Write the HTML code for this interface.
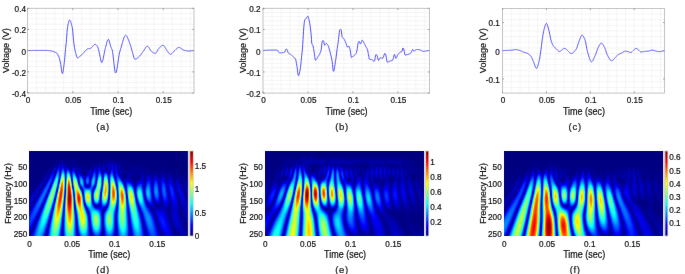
<!DOCTYPE html>
<html><head><meta charset="utf-8"><style>
html,body{margin:0;padding:0;background:#fff;}
#fig{position:relative;width:685px;height:274px;overflow:hidden;background:#fff;filter:url(#soft);}
.hm{position:absolute;overflow:hidden;}
.hm{filter:url(#jet);}
.hm i{position:absolute;left:0;right:0;}
.cb{position:absolute;}
svg{position:absolute;left:0;top:0;}
text{font-family:"Liberation Sans", Arial, Helvetica, sans-serif;fill:#111;stroke:#111;stroke-width:0.2;}
text.cap{font-family:"Liberation Sans", Arial, sans-serif;fill:#1a1a1a;letter-spacing:0.7px;stroke-width:0.2;}
</style></head><body><div id="fig">
<div class="hm" style="left:29.00px;top:151.00px;width:158.90px;height:85.00px"><i style="top:0.00px;height:1.50px;background:linear-gradient(90deg,#000000 0.5px,#000000 158.4px)"></i><i style="top:1.00px;height:1.50px;background:linear-gradient(90deg,#000000 0.5px,#000000 158.4px)"></i><i style="top:2.00px;height:1.50px;background:linear-gradient(90deg,#000000 0.5px,#000000 158.4px)"></i><i style="top:3.00px;height:1.50px;background:linear-gradient(90deg,#000000 0.5px,#000000 158.4px)"></i><i style="top:4.00px;height:1.50px;background:linear-gradient(90deg,#000000 0.5px,#000000 158.4px)"></i><i style="top:5.00px;height:1.50px;background:linear-gradient(90deg,#000000 0.5px,#000000 158.4px)"></i><i style="top:6.00px;height:1.50px;background:linear-gradient(90deg,#000000 0.5px,#000000 158.4px)"></i><i style="top:7.00px;height:1.50px;background:linear-gradient(90deg,#000000 0.5px,#010101 30.5px,#010101 47.5px,#010101 77.5px,#020202 80.4px,#010101 82.4px,#000000 158.4px)"></i><i style="top:8.00px;height:1.50px;background:linear-gradient(90deg,#000000 0.5px,#000000 27.5px,#030303 33.5px,#010101 37.5px,#030303 41.5px,#000000 59.5px,#010101 75.5px,#030303 78.5px,#010101,#040404,#010101 81.4px,#020202 83.4px,#000000 84.4px,#020202 86.4px,#010101 88.4px,#000000 158.4px)"></i><i style="top:9.00px;height:1.50px;background:linear-gradient(90deg,#000000 0.5px,#010101 27.5px,#030303,#010101,#050505,#030303 31.5px,#050505 33.5px,#020202 35.5px,#030303 40.5px,#020202 46.5px,#000000 63.5px,#020202 70.5px,#010101 72.5px,#000000 74.5px,#030303 75.5px,#030303 77.5px,#050505,#020202,#060606,#020202 81.4px,#050505 83.4px,#010101 84.4px,#030303 86.4px,#010101 90.4px,#000000 158.4px)"></i><i style="top:10.00px;height:1.50px;background:linear-gradient(90deg,#000000 0.5px,#010101 26.5px,#040404 28.5px,#020202,#070707,#040404 31.5px,#070707 33.5px,#010101,#030303 35.5px,#010101 38.5px,#040404 42.5px,#050505 44.5px,#010101,#030303 46.5px,#000000 51.5px,#010101 65.5px,#030303 67.5px,#020202 69.5px,#030303 70.5px,#000000 72.5px,#010101 74.5px,#040404,#020202,#060606 77.5px,#030303 79.5px,#0a0a0a,#040404 81.4px,#090909 83.4px,#020202 84.4px,#060606 86.4px,#010101,#040404 88.4px,#010101 90.4px,#000000 158.4px)"></i><i style="top:11.00px;height:1.50px;background:linear-gradient(90deg,#000000 0.5px,#010101 26.5px,#040404 28.5px,#040404,#0a0a0a,#050505 31.5px,#0a0a0a 33.5px,#030303 34.5px,#050505 36.5px,#010101 38.5px,#040404,#020202,#050505 41.5px,#030303 43.5px,#060606,#010101 45.5px,#010101 63.5px,#000000 65.5px,#040404 67.5px,#010101 68.5px,#040404 70.5px,#000000 72.5px,#050505 75.5px,#010101,#080808 77.5px,#050505 79.5px,#0d0d0d,#060606 81.4px,#0d0d0d 83.4px,#030303 84.4px,#0a0a0a 86.4px,#020202 87.4px,#050505 89.4px,#010101 90.4px,#030303 92.4px,#010101 94.4px,#010101 102.4px,#000000 158.4px)"></i><i style="top:12.00px;height:1.50px;background:linear-gradient(90deg,#000000 0.5px,#010101 25.5px,#060606 27.5px,#030303 28.5px,#0d0d0d 30.5px,#060606 31.5px,#0e0e0e 33.5px,#060606,#040404,#080808 36.5px,#020202 38.5px,#040404,#020202,#050505 41.5px,#030303 43.5px,#060606 44.5px,#010101 46.5px,#000000 51.5px,#020202 53.5px,#010101 55.5px,#000000 62.5px,#020202 64.5px,#010101 65.5px,#050505 67.5px,#010101 68.5px,#060606 70.5px,#010101 72.5px,#070707 74.5px,#030303 76.5px,#0c0c0c,#070707,#080808,#111111,#070707 81.4px,#121212 83.4px,#060606 84.4px,#0e0e0e 86.4px,#050505 87.4px,#080808 89.4px,#030303 90.4px,#040404 92.4px,#010101 94.4px,#030303 95.4px,#010101 97.4px,#020202 102.4px,#000000 103.4px,#020202 105.4px,#010101 108.4px,#000000 158.4px)"></i><i style="top:13.00px;height:1.50px;background:linear-gradient(90deg,#000000 0.5px,#010101 23.5px,#010101 25.5px,#060606,#070707,#030303 28.5px,#101010 30.5px,#070707 31.5px,#121212 33.5px,#040404 35.5px,#0b0b0b 36.5px,#020202 38.5px,#040404,#010101,#050505 41.5px,#030303 43.5px,#070707 44.5px,#010101 46.5px,#030303 48.5px,#020202 52.5px,#010101 62.5px,#020202 65.5px,#070707,#070707,#020202 68.5px,#0a0a0a 70.5px,#010101 72.5px,#080808,#0b0b0b,#060606,#060606,#0e0e0e,#070707,#0b0b0b,#141414,#080808 81.4px,#171717 83.4px,#090909,#0a0a0a,#121212,#090909,#060606,#0b0b0b 89.4px,#030303 91.4px,#060606 92.4px,#010101 94.4px,#020202 96.4px,#010101 100.4px,#030303 102.4px,#020202 104.4px,#020202 113.4px,#010101 115.4px,#000000 158.4px)"></i><i style="top:14.00px;height:1.50px;background:linear-gradient(90deg,#000000 0.5px,#010101 22.5px,#010101 24.5px,#090909 26.5px,#080808,#030303,#101010,#131313,#070707 31.5px,#171717 33.5px,#040404 35.5px,#0c0c0c,#0b0b0b,#030303 38.5px,#010101 40.5px,#050505 41.5px,#030303 43.5px,#090909 44.5px,#020202 46.5px,#050505 48.5px,#010101 51.5px,#030303 53.5px,#020202 55.5px,#020202 57.5px,#010101 59.5px,#040404 65.5px,#090909,#090909,#020202 68.5px,#0e0e0e 70.5px,#0a0a0a,#020202,#0c0c0c,#0f0f0f,#050505 75.5px,#101010 77.5px,#050505 78.5px,#161616 80.4px,#070707 81.4px,#1b1b1b 83.4px,#0c0c0c,#0a0a0a,#161616 86.4px,#040404 88.4px,#0d0d0d 89.4px,#020202 91.4px,#070707 92.4px,#010101 94.4px,#040404 95.4px,#010101 97.4px,#020202 99.4px,#010101 100.4px,#040404 102.4px,#010101 103.4px,#040404 105.4px,#010101 107.4px,#030303 109.4px,#010101 111.4px,#030303 113.4px,#010101 115.4px,#000000 158.4px)"></i><i style="top:15.00px;height:1.50px;background:linear-gradient(90deg,#000000 0.5px,#010101 21.5px,#030303 23.5px,#010101 24.5px,#0c0c0c 26.5px,#070707,#070707,#151515,#161616,#080808 31.5px,#1c1c1c 33.5px,#141414,#050505,#0d0d0d,#0f0f0f 37.5px,#020202 39.5px,#040404 41.5px,#020202 42.5px,#0a0a0a 44.5px,#0a0a0a,#040404 46.5px,#070707 48.5px,#020202 51.5px,#040404 53.5px,#010101 54.5px,#040404 56.5px,#000000 58.5px,#040404 63.5px,#010101 64.5px,#0d0d0d 66.5px,#0b0b0b,#020202 68.5px,#131313 70.5px,#0d0d0d,#020202,#0f0f0f,#111111,#050505 75.5px,#0f0f0f 77.5px,#030303,#111111,#161616,#060606,#141414,#1e1e1e,#0f0f0f,#090909,#181818,#121212,#030303,#0d0d0d,#0c0c0c,#020202 91.4px,#070707 93.4px,#010101 94.4px,#030303 96.4px,#010101 97.4px,#020202 99.4px,#050505 101.4px,#010101 103.4px,#050505 105.4px,#010101 107.4px,#050505 109.4px,#020202 111.4px,#040404 113.4px,#010101 115.4px,#000000 158.4px)"></i><i style="top:16.00px;height:1.50px;background:linear-gradient(90deg,#000000 0.5px,#010101 20.5px,#040404 22.5px,#020202,#040404,#0c0c0c,#0e0e0e,#050505,#0d0d0d,#1b1b1b,#191919,#080808 31.5px,#212121 33.5px,#1b1b1b,#080808 35.5px,#131313 37.5px,#050505 40.5px,#010101 42.5px,#0d0d0d 44.5px,#0c0c0c,#050505,#040404,#090909,#090909 49.5px,#020202 51.5px,#050505 53.5px,#020202 55.5px,#050505 56.5px,#010101 59.5px,#070707 62.5px,#030303 64.5px,#0c0c0c,#111111,#0d0d0d,#030303,#101010,#171717,#0f0f0f,#030303,#111111,#121212,#050505 75.5px,#0c0c0c 77.5px,#020202,#121212,#151515,#040404,#171717,#202020,#121212,#080808,#1a1a1a,#161616,#040404,#0c0c0c,#0e0e0e,#060606,#040404,#070707 93.4px,#020202 95.4px,#010101 97.4px,#030303 98.4px,#020202 100.4px,#060606 101.4px,#010101 103.4px,#060606 105.4px,#010101 107.4px,#060606 109.4px,#020202 111.4px,#050505 113.4px,#010101 115.4px,#030303 117.4px,#000000 121.4px,#010101 132.4px,#000000 158.4px)"></i><i style="top:17.00px;height:1.50px;background:linear-gradient(90deg,#000000 0.5px,#010101 19.5px,#050505 21.5px,#020202 23.5px,#101010 25.5px,#0e0e0e,#050505 27.5px,#212121 29.5px,#1c1c1c,#090909 31.5px,#282828 33.5px,#222222,#0e0e0e,#0a0a0a,#171717,#181818 38.5px,#030303 41.5px,#050505 42.5px,#111111 44.5px,#0f0f0f,#070707,#040404,#0b0b0b,#0c0c0c 49.5px,#020202 51.5px,#060606 52.5px,#020202 55.5px,#060606 56.5px,#020202 59.5px,#0a0a0a 61.5px,#090909,#040404,#070707,#111111,#151515 66.5px,#040404 68.5px,#151515,#1c1c1c,#121212,#030303,#111111,#121212,#060606 75.5px,#070707 77.5px,#050505,#131313,#121212,#030303,#191919,#222222 83.4px,#060606 85.4px,#1a1a1a,#1a1a1a,#090909,#090909,#0f0f0f 90.4px,#020202 92.4px,#060606 93.4px,#000000 96.4px,#030303 100.4px,#060606 101.4px,#010101 103.4px,#070707 105.4px,#010101 107.4px,#060606,#070707 109.4px,#020202 111.4px,#060606 112.4px,#040404 114.4px,#010101 115.4px,#040404 117.4px,#000000 121.4px,#010101 130.4px,#020202 135.4px,#010101 137.4px,#000000 158.4px)"></i><i style="top:18.00px;height:1.50px;background:linear-gradient(90deg,#000000 0.5px,#020202 19.5px,#060606 21.5px,#030303,#050505,#0e0e0e,#131313 25.5px,#070707 27.5px,#1b1b1b,#272727,#1f1f1f,#090909 31.5px,#2f2f2f 33.5px,#2b2b2b,#161616,#080808,#1b1b1b,#222222,#1d1d1d 39.5px,#050505 41.5px,#090909,#131313,#171717,#131313,#090909,#040404,#0d0d0d,#0f0f0f 49.5px,#020202 51.5px,#070707 53.5px,#020202 55.5px,#070707,#070707,#030303,#040404 59.5px,#0e0e0e 61.5px,#0b0b0b,#030303 63.5px,#171717 65.5px,#191919 66.5px,#060606 68.5px,#191919,#202020,#151515,#040404,#0f0f0f,#121212 74.5px,#010101 76.5px,#010101 77.5px,#121212 79.5px,#060606 81.4px,#1c1c1c,#232323 83.4px,#050505 85.4px,#191919,#1c1c1c,#0e0e0e,#040404,#0e0e0e,#0c0c0c,#040404 92.4px,#060606 94.4px,#000000 98.4px,#070707 101.4px,#010101 103.4px,#080808 105.4px,#020202 107.4px,#070707,#080808 109.4px,#020202 111.4px,#080808 113.4px,#010101 115.4px,#050505 117.4px,#000000 122.4px,#020202 135.4px,#000000 155.4px,#000000 158.4px)"></i><i style="top:19.00px;height:1.50px;background:linear-gradient(90deg,#000000 0.5px,#010101 15.5px,#010101 18.5px,#070707 20.5px,#020202 22.5px,#141414 24.5px,#151515,#0a0a0a,#0d0d0d,#232323,#2d2d2d,#222222,#090909,#222222,#373737,#353535 34.5px,#070707 36.5px,#1f1f1f,#2d2d2d,#2a2a2a,#1b1b1b,#080808,#0c0c0c,#1a1a1a,#1f1f1f,#191919,#0c0c0c,#040404,#0f0f0f,#121212,#0d0d0d,#030303 51.5px,#080808 53.5px,#020202 55.5px,#070707,#080808,#020202,#060606,#0e0e0e,#111111,#0c0c0c,#030303,#121212,#1d1d1d,#1d1d1d,#0e0e0e,#090909,#1d1d1d,#242424,#1a1a1a,#070707 72.5px,#121212 74.5px,#0a0a0a 76.5px,#0a0a0a 77.5px,#111111 79.5px,#070707,#0c0c0c,#202020,#252525,#171717,#040404,#191919,#1e1e1e,#131313,#020202,#0c0c0c,#0e0e0e 91.4px,#010101 93.4px,#060606 94.4px,#050505 96.4px,#010101 98.4px,#080808 101.4px,#020202 103.4px,#090909 105.4px,#020202 107.4px,#090909 109.4px,#020202 111.4px,#090909 113.4px,#020202 115.4px,#060606 118.4px,#000000 122.4px,#030303 129.4px,#010101 131.4px,#040404 134.4px,#010101 137.4px,#020202 141.4px,#010101 145.4px,#000000 158.4px)"></i><i style="top:20.00px;height:1.50px;background:linear-gradient(90deg,#000000 0.5px,#010101 14.5px,#030303 18.5px,#080808 20.5px,#040404 22.5px,#111111,#191919,#161616,#070707,#151515,#2c2c2c,#333333,#232323,#0a0a0a,#292929,#414141,#404040,#272727,#080808,#242424,#393939,#393939,#272727,#0d0d0d,#0f0f0f,#212121,#282828,#212121 45.5px,#040404 47.5px,#101010,#151515,#101010,#060606,#030303,#070707 53.5px,#020202 55.5px,#070707,#070707,#020202 58.5px,#121212 60.5px,#141414 61.5px,#050505 63.5px,#181818,#232323,#202020,#0f0f0f,#0b0b0b,#212121,#292929,#202020,#0e0e0e,#070707,#121212,#161616 75.5px,#141414 78.5px,#0f0f0f,#020202 80.4px,#252525 82.4px,#282828,#181818,#040404,#181818,#202020,#181818,#070707,#080808,#0f0f0f,#0b0b0b,#030303 93.4px,#080808 95.4px,#080808 96.4px,#010101 98.4px,#090909 100.4px,#090909 101.4px,#020202 103.4px,#090909 105.4px,#020202 107.4px,#090909 109.4px,#020202 111.4px,#0a0a0a 113.4px,#030303 115.4px,#020202 116.4px,#070707 118.4px,#000000 122.4px,#040404 128.4px,#010101 131.4px,#050505 133.4px,#040404 135.4px,#010101 137.4px,#030303 141.4px,#020202 145.4px,#000000 154.4px,#000000 158.4px)"></i><i style="top:21.00px;height:1.50px;background:linear-gradient(90deg,#000000 0.5px,#010101 13.5px,#020202 17.5px,#090909 19.5px,#080808,#030303,#0b0b0b,#171717,#1c1c1c,#141414,#060606 26.5px,#353535 28.5px,#393939,#242424,#0b0b0b,#313131,#4c4c4c,#4c4c4c,#303030,#0a0a0a 36.5px,#454545 38.5px,#484848,#343434,#141414,#0f0f0f,#282828,#323232,#2a2a2a 45.5px,#040404 47.5px,#101010,#181818,#151515 50.5px,#020202 52.5px,#030303 54.5px,#020202,#060606 56.5px,#040404 58.5px,#161616 60.5px,#151515,#0a0a0a,#090909,#1e1e1e,#292929,#242424,#101010,#0d0d0d,#252525,#303030,#282828 71.5px,#030303 73.5px,#131313,#1e1e1e,#222222,#212121,#1b1b1b,#0e0e0e,#060606,#1c1c1c,#2c2c2c,#2c2c2c,#1b1b1b,#040404,#171717,#222222,#1d1d1d,#0d0d0d,#040404,#0d0d0d,#0d0d0d,#060606,#030303,#080808,#090909 96.4px,#020202 98.4px,#0b0b0b 100.4px,#0a0a0a 101.4px,#030303 103.4px,#080808,#090909 105.4px,#020202 107.4px,#090909 109.4px,#020202 111.4px,#0b0b0b 113.4px,#0a0a0a 114.4px,#020202 116.4px,#090909 118.4px,#000000 122.4px,#050505 127.4px,#040404 129.4px,#010101 130.4px,#070707 134.4px,#010101 137.4px,#050505 140.4px,#010101 144.4px,#020202 148.4px,#010101 152.4px,#000000 158.4px)"></i><i style="top:22.00px;height:1.50px;background:linear-gradient(90deg,#000000 0.5px,#010101 12.5px,#020202 15.5px,#010101 16.5px,#090909 18.5px,#0a0a0a 19.5px,#050505 21.5px,#1d1d1d 23.5px,#1e1e1e,#101010,#0a0a0a,#2a2a2a,#3f3f3f,#3e3e3e 29.5px,#0d0d0d 31.5px,#3b3b3b,#575757,#575757,#393939,#0c0c0c,#2c2c2c,#505050,#575757,#424242,#1c1c1c,#0e0e0e,#2e2e2e,#3c3c3c,#353535,#212121,#070707 47.5px,#1a1a1a 49.5px,#1a1a1a 50.5px,#070707 52.5px,#010101 53.5px,#030303 56.5px,#010101 57.5px,#131313 59.5px,#191919,#151515,#070707,#0f0f0f,#252525,#2f2f2f,#272727,#101010,#0f0f0f,#2a2a2a,#373737,#323232,#1f1f1f,#040404 73.5px,#282828 75.5px,#303030,#2e2e2e,#222222,#0e0e0e,#0c0c0c,#252525,#343434,#323232,#1f1f1f,#060606 85.4px,#232323 87.4px,#212121 88.4px,#030303 90.4px,#0a0a0a,#0d0d0d 92.4px,#010101 94.4px,#070707,#090909 96.4px,#020202 98.4px,#0c0c0c 100.4px,#030303 103.4px,#080808,#090909 105.4px,#020202 107.4px,#070707,#080808 109.4px,#020202 111.4px,#0c0c0c 113.4px,#0b0b0b 114.4px,#020202 116.4px,#0a0a0a 118.4px,#080808 120.4px,#010101 122.4px,#070707 127.4px,#050505 129.4px,#010101 130.4px,#080808 133.4px,#070707 135.4px,#010101 137.4px,#060606 139.4px,#010101 144.4px,#030303 148.4px,#000000 150.4px,#000000 158.4px)"></i><i style="top:23.00px;height:1.50px;background:linear-gradient(90deg,#000000 0.5px,#010101 11.5px,#020202 14.5px,#030303 16.5px,#0b0b0b 18.5px,#0a0a0a,#040404,#0b0b0b,#191919,#222222,#1e1e1e,#0b0b0b,#151515,#353535,#474747,#414141,#222222,#121212,#464646,#646464,#636363,#414141,#0f0f0f,#313131,#5c5c5c,#666666,#515151,#272727,#0c0c0c,#323232,#454545,#424242,#2d2d2d,#0e0e0e,#0b0b0b,#1c1c1c,#1f1f1f 50.5px,#101010 52.5px,#070707 53.5px,#010101 55.5px,#010101,#070707 57.5px,#191919 59.5px,#1c1c1c,#141414,#040404,#161616,#2c2c2c,#343434,#2a2a2a,#101010,#121212,#313131,#404040,#3c3c3c,#272727,#070707,#181818,#333333,#3e3e3e,#3c3c3c,#2b2b2b,#0f0f0f,#111111,#2d2d2d,#3d3d3d,#3a3a3a,#252525,#090909,#141414,#242424,#262626,#1a1a1a,#090909,#050505,#0b0b0b,#090909,#020202 94.4px,#070707 96.4px,#020202 98.4px,#0c0c0c 100.4px,#0b0b0b 101.4px,#020202 103.4px,#070707,#080808 105.4px,#010101 107.4px,#060606,#070707 109.4px,#020202 111.4px,#0d0d0d 113.4px,#0c0c0c 114.4px,#020202 116.4px,#0c0c0c 118.4px,#0b0b0b 120.4px,#030303 122.4px,#020202 123.4px,#0a0a0a 126.4px,#080808 128.4px,#010101 130.4px,#0a0a0a 133.4px,#0b0b0b 134.4px,#010101 137.4px,#070707 139.4px,#070707 141.4px,#010101 144.4px,#040404 148.4px,#000000 151.4px,#020202 155.4px,#000000 158.4px)"></i><i style="top:24.00px;height:1.50px;background:linear-gradient(90deg,#000000 0.5px,#010101 11.5px,#030303 13.5px,#020202 15.5px,#0b0b0b 17.5px,#0c0c0c 18.5px,#040404 20.5px,#202020 22.5px,#252525,#1c1c1c,#080808,#212121,#414141,#4f4f4f,#434343,#1d1d1d,#1b1b1b,#525252,#707070,#6d6d6d,#494949,#111111,#353535,#666666,#757575,#606060,#333333,#0c0c0c,#333333,#4e4e4e,#4f4f4f,#3b3b3b,#1a1a1a,#060606,#1c1c1c,#252525,#232323 51.5px,#080808 54.5px,#010101 55.5px,#101010 57.5px,#1a1a1a,#1f1f1f,#1e1e1e 60.5px,#060606 62.5px,#1f1f1f,#343434,#3a3a3a,#2d2d2d,#0f0f0f,#171717,#383838,#4a4a4a,#464646,#303030,#0a0a0a,#1c1c1c,#3d3d3d,#4d4d4d,#494949,#343434,#111111,#151515,#353535,#464646,#434343,#2c2c2c,#0e0e0e,#121212,#252525,#2a2a2a,#212121 89.4px,#020202 91.4px,#080808,#090909 93.4px,#020202 95.4px,#040404 96.4px,#030303 98.4px,#0c0c0c 100.4px,#0b0b0b 101.4px,#010101 103.4px,#060606,#070707 105.4px,#010101 107.4px,#060606 109.4px,#030303 111.4px,#0e0e0e 113.4px,#0d0d0d 114.4px,#020202 116.4px,#0d0d0d 118.4px,#101010 119.4px,#0a0a0a 121.4px,#040404,#020202 123.4px,#0b0b0b 125.4px,#0d0d0d 127.4px,#070707 129.4px,#010101 130.4px,#0d0d0d 133.4px,#0a0a0a 135.4px,#010101 137.4px,#090909 139.4px,#090909 141.4px,#010101 144.4px,#060606 147.4px,#000000 151.4px,#020202 155.4px,#000000 158.4px)"></i><i style="top:25.00px;height:1.50px;background:linear-gradient(90deg,#000000 0.5px,#010101 10.5px,#020202 13.5px,#010101 14.5px,#0d0d0d 17.5px,#0b0b0b,#030303,#0b0b0b,#1b1b1b,#262626,#262626,#161616,#0b0b0b,#2e2e2e,#4c4c4c,#565656,#434343,#181818,#252525,#5f5f5f,#7c7c7c,#777777,#4f4f4f,#121212,#393939,#707070,#838383,#707070 40.5px,#0e0e0e 42.5px,#555555 44.5px,#5c5c5c,#4a4a4a,#272727,#080808 48.5px,#292929 50.5px,#2d2d2d,#272727 52.5px,#030303 55.5px,#232323 58.5px,#262626,#1f1f1f,#0e0e0e,#0d0d0d,#282828,#3c3c3c,#3f3f3f,#2e2e2e,#0e0e0e,#1d1d1d,#414141,#545454,#505050,#373737,#0c0c0c,#202020,#484848,#5a5a5a,#575757,#3d3d3d,#151515,#181818,#3c3c3c,#505050,#4d4d4d,#363636,#161616,#0e0e0e,#242424,#2e2e2e,#292929 89.4px,#0a0a0a 91.4px,#030303,#070707 93.4px,#010101 96.4px,#010101 97.4px,#0c0c0c 100.4px,#0b0b0b 101.4px,#010101 103.4px,#060606 105.4px,#010101 107.4px,#040404 109.4px,#010101 110.4px,#0f0f0f 113.4px,#0e0e0e 114.4px,#020202 116.4px,#0f0f0f 118.4px,#131313,#121212 120.4px,#020202 123.4px,#0e0e0e 125.4px,#111111 127.4px,#020202 130.4px,#101010 133.4px,#0d0d0d 135.4px,#020202 137.4px,#0c0c0c 140.4px,#080808 142.4px,#010101 144.4px,#070707 147.4px,#010101 151.4px,#030303 155.4px,#000000 158.4px)"></i><i style="top:26.00px;height:1.50px;background:linear-gradient(90deg,#000000 0.5px,#010101 9.5px,#020202 12.5px,#010101 13.5px,#0d0d0d 16.5px,#0d0d0d 17.5px,#050505 19.5px,#232323 21.5px,#2a2a2a,#242424,#0f0f0f,#171717,#3b3b3b,#575757,#5b5b5b,#414141,#131313,#313131,#6c6c6c,#888888,#808080,#545454,#131313,#3e3e3e,#7a7a7a,#909090,#7f7f7f,#4e4e4e,#131313,#313131,#5b5b5b,#686868,#5a5a5a 46.5px,#111111 48.5px,#161616,#2d2d2d,#373737,#343434,#262626 53.5px,#040404 55.5px,#232323 57.5px,#2d2d2d,#2c2c2c,#202020,#0b0b0b,#161616,#313131,#444444,#444444,#2f2f2f,#0b0b0b,#242424,#4a4a4a,#5f5f5f,#5a5a5a,#3d3d3d,#0d0d0d,#252525,#525252,#686868,#646464,#474747,#1a1a1a,#191919,#424242,#595959,#585858,#414141,#1f1f1f,#090909,#232323,#323232,#303030,#242424 90.4px,#060606 92.4px,#030303 93.4px,#060606 95.4px,#060606 97.4px,#0c0c0c 100.4px,#070707 102.4px,#020202 103.4px,#030303 106.4px,#010101 109.4px,#020202 110.4px,#0d0d0d 112.4px,#101010,#0f0f0f 114.4px,#020202 116.4px,#121212 118.4px,#161616,#161616 120.4px,#030303 123.4px,#111111 125.4px,#151515,#151515 127.4px,#0a0a0a 129.4px,#020202 130.4px,#0f0f0f 132.4px,#131313,#131313 134.4px,#090909 136.4px,#020202 137.4px,#0f0f0f 140.4px,#0b0b0b 142.4px,#010101 144.4px,#090909 147.4px,#010101 151.4px,#040404 155.4px,#000000 158.4px)"></i><i style="top:27.00px;height:1.50px;background:linear-gradient(90deg,#000000 0.5px,#010101 8.5px,#030303 11.5px,#020202 13.5px,#0c0c0c 15.5px,#0e0e0e,#0b0b0b,#040404,#0d0d0d 19.5px,#2a2a2a 21.5px,#2c2c2c,#1f1f1f,#0a0a0a,#252525,#494949,#606060,#5d5d5d,#3c3c3c,#0f0f0f,#3f3f3f,#797979,#949494,#888888,#585858,#141414,#424242,#838383,#9d9d9d,#8d8d8d,#5c5c5c,#1b1b1b,#2c2c2c,#5e5e5e,#737373,#6a6a6a,#484848,#1d1d1d,#101010,#2f2f2f,#404040,#404040,#323232 53.5px,#050505 55.5px,#2c2c2c 57.5px,#353535,#323232,#202020,#070707,#1e1e1e,#3a3a3a,#4c4c4c,#484848,#2e2e2e,#080808,#2c2c2c,#545454,#696969,#626262,#424242,#0d0d0d,#2a2a2a,#5c5c5c,#747474,#707070,#515151,#1f1f1f,#181818,#474747,#626262,#646464,#4d4d4d 84.4px,#060606 86.4px,#202020,#343434,#383838,#303030 90.4px,#101010 92.4px,#030303 93.4px,#0a0a0a 96.4px,#0d0d0d 100.4px,#080808 102.4px,#010101 104.4px,#000000 108.4px,#060606 110.4px,#0f0f0f 112.4px,#111111,#0f0f0f 114.4px,#030303 116.4px,#151515 118.4px,#1a1a1a,#191919 120.4px,#030303 123.4px,#151515 125.4px,#191919,#191919 127.4px,#0c0c0c 129.4px,#020202 130.4px,#121212 132.4px,#171717 134.4px,#131313 135.4px,#030303 137.4px,#0e0e0e 139.4px,#111111 141.4px,#020202 144.4px,#0a0a0a 147.4px,#080808 149.4px,#010101 151.4px,#050505 155.4px,#010101 158.4px)"></i><i style="top:28.00px;height:1.50px;background:linear-gradient(90deg,#000000 0.5px,#020202 8.5px,#010101 12.5px,#0e0e0e 15.5px,#0e0e0e 16.5px,#050505 18.5px,#252525 20.5px,#2e2e2e,#2b2b2b,#171717,#0b0b0b,#343434,#565656,#676767,#5e5e5e 28.5px,#0e0e0e 30.5px,#4c4c4c,#868686,#9e9e9e,#8f8f8f,#5b5b5b,#141414,#474747,#8b8b8b,#a8a8a8,#9b9b9b,#6a6a6a,#242424,#272727,#606060,#7d7d7d,#787878,#585858,#2b2b2b,#0a0a0a,#2e2e2e,#474747,#4b4b4b,#3d3d3d 53.5px,#070707 55.5px,#323232 57.5px,#3c3c3c,#363636 59.5px,#060606 61.5px,#434343 63.5px,#525252,#4a4a4a,#2c2c2c,#070707 67.5px,#5e5e5e 69.5px,#727272,#686868,#454545,#0d0d0d,#303030,#656565,#7f7f7f,#7c7c7c,#5b5b5b,#262626,#161616,#4a4a4a,#6b6b6b,#707070,#5b5b5b,#383838,#0a0a0a,#1b1b1b,#363636,#404040,#3b3b3b,#2d2d2d 91.4px,#0a0a0a 93.4px,#030303 94.4px,#0e0e0e 96.4px,#111111 98.4px,#101010 100.4px,#020202 104.4px,#030303 108.4px,#121212 112.4px,#131313,#101010,#080808,#040404 116.4px,#181818 118.4px,#1d1d1d,#1d1d1d,#171717 121.4px,#040404 123.4px,#191919 125.4px,#1e1e1e,#1e1e1e,#181818 128.4px,#030303 130.4px,#151515 132.4px,#1a1a1a,#1b1b1b,#161616 135.4px,#030303 137.4px,#070707 138.4px,#141414 140.4px,#141414 141.4px,#0a0a0a 143.4px,#030303,#040404 145.4px,#0c0c0c 147.4px,#090909 149.4px,#020202 151.4px,#060606 155.4px,#010101 158.4px)"></i><i style="top:29.00px;height:1.50px;background:linear-gradient(90deg,#000000 0.5px,#020202 7.5px,#010101 11.5px,#0e0e0e 14.5px,#0f0f0f,#0b0b0b,#030303,#0e0e0e,#1f1f1f,#2c2c2c,#313131,#272727,#0d0d0d,#181818,#434343,#626262,#6c6c6c,#5b5b5b,#2c2c2c,#151515,#5b5b5b,#939393,#a7a7a7,#949494,#5d5d5d,#141414,#4b4b4b,#939393,#b3b3b3,#a8a8a8,#787878,#2e2e2e,#202020,#606060,#848484,#858585,#686868 47.5px,#0a0a0a 49.5px,#4a4a4a 51.5px,#535353,#464646,#2a2a2a,#090909,#1c1c1c,#363636,#404040,#373737,#1d1d1d,#080808,#2d2d2d,#494949,#565656,#4a4a4a,#282828,#0a0a0a,#3e3e3e,#676767,#7a7a7a,#6d6d6d,#474747,#0c0c0c,#353535,#6e6e6e,#898989,#878787,#656565,#2d2d2d,#141414,#4c4c4c,#727272,#7b7b7b,#696969,#464646,#161616,#141414,#363636,#464646,#474747,#3b3b3b 91.4px,#141414 93.4px,#030303 94.4px,#121212 96.4px,#181818 98.4px,#141414 100.4px,#010101 105.4px,#060606 108.4px,#161616 112.4px,#151515,#101010,#070707,#050505 116.4px,#1c1c1c 118.4px,#222222,#212121,#1a1a1a 121.4px,#040404 123.4px,#1c1c1c 125.4px,#232323,#232323,#1c1c1c 128.4px,#030303 130.4px,#171717 132.4px,#1e1e1e,#1f1f1f,#1a1a1a 135.4px,#050505 137.4px,#070707 138.4px,#161616 140.4px,#171717 141.4px,#0d0d0d 143.4px,#040404,#040404 145.4px,#0d0d0d 147.4px,#0c0c0c 149.4px,#030303 151.4px,#010101 152.4px,#070707 154.4px,#020202 158.4px)"></i><i style="top:30.00px;height:1.50px;background:linear-gradient(90deg,#000000 0.5px,#020202 6.5px,#030303 9.5px,#010101 10.5px,#080808 12.5px,#0f0f0f 14.5px,#0e0e0e,#070707,#060606 17.5px,#282828 19.5px,#313131,#303030,#202020,#090909,#272727,#515151,#6c6c6c,#6f6f6f,#575757,#222222,#222222,#696969,#9f9f9f,#b0b0b0,#989898,#5d5d5d,#141414,#505050,#9a9a9a,#bcbcbc,#b3b3b3,#848484,#393939,#181818,#5e5e5e,#898989,#909090,#767676,#484848,#101010,#252525,#4a4a4a,#575757,#4c4c4c,#303030,#0c0c0c,#1b1b1b,#363636,#404040,#363636,#1a1a1a,#0b0b0b,#333333,#4e4e4e,#575757,#484848,#222222,#111111,#474747,#6f6f6f,#808080,#707070,#474747,#0b0b0b,#3b3b3b,#757575,#939393,#909090,#6e6e6e,#333333,#101010,#4d4d4d,#797979,#868686,#777777,#555555,#222222,#0d0d0d,#353535,#4c4c4c,#525252,#494949,#373737 92.4px,#0b0b0b 94.4px,#080808,#141414,#1c1c1c,#1f1f1f 98.4px,#1b1b1b 100.4px,#020202 105.4px,#020202 106.4px,#181818 111.4px,#1a1a1a,#181818 113.4px,#050505 115.4px,#080808,#161616,#202020,#262626,#252525,#1c1c1c 121.4px,#050505 123.4px,#202020 125.4px,#272727,#272727,#202020 128.4px,#040404 130.4px,#0d0d0d,#1a1a1a,#222222,#232323,#1e1e1e 135.4px,#070707 137.4px,#070707,#121212,#181818,#1a1a1a,#171717 142.4px,#070707 144.4px,#030303 145.4px,#0f0f0f 147.4px,#0e0e0e 149.4px,#010101 152.4px,#070707 154.4px,#070707 156.4px,#020202 158.4px)"></i><i style="top:31.00px;height:1.50px;background:linear-gradient(90deg,#000000 0.5px,#010101 5.5px,#030303 8.5px,#020202 10.5px,#0f0f0f 13.5px,#0f0f0f 14.5px,#040404 16.5px,#0f0f0f,#212121,#2f2f2f,#343434,#2c2c2c,#161616,#0f0f0f 23.5px,#5e5e5e 25.5px,#747474,#707070,#505050,#191919,#313131,#787878,#aaaaaa,#b6b6b6,#9a9a9a,#5d5d5d,#141414,#545454,#a0a0a0,#c4c4c4,#bdbdbd,#909090,#444444,#121212,#595959,#8b8b8b,#989898,#838383,#575757,#1b1b1b,#1b1b1b,#454545,#575757,#505050,#353535,#111111,#161616,#323232,#3c3c3c,#313131,#141414,#101010,#373737,#505050,#565656,#434343,#1b1b1b,#1b1b1b,#505050,#767676,#848484,#717171,#454545,#0a0a0a,#414141,#7d7d7d,#9b9b9b,#999999,#767676,#3a3a3a,#0d0d0d,#4e4e4e,#7e7e7e,#909090,#858585,#646464,#303030,#080808,#323232,#505050,#5c5c5c,#585858,#474747 92.4px,#141414 94.4px,#050505,#151515,#212121,#262626 98.4px,#232323 100.4px,#030303 105.4px,#030303 106.4px,#1b1b1b 110.4px,#1e1e1e 112.4px,#1a1a1a,#111111,#040404,#0b0b0b,#1a1a1a,#252525,#2b2b2b,#292929,#1f1f1f,#101010,#050505 123.4px,#242424 125.4px,#2c2c2c,#2c2c2c,#242424 128.4px,#050505 130.4px,#0d0d0d,#1c1c1c,#252525,#272727,#222222 135.4px,#090909 137.4px,#060606,#121212,#1a1a1a,#1d1d1d,#1a1a1a 142.4px,#090909 144.4px,#030303 145.4px,#0f0f0f 147.4px,#121212 148.4px,#0c0c0c 150.4px,#020202 152.4px,#090909 155.4px,#040404 158.4px)"></i><i style="top:32.00px;height:1.50px;background:linear-gradient(90deg,#010101 0.5px,#010101 4.5px,#020202 8.5px,#010101 9.5px,#0e0e0e 12.5px,#101010,#0d0d0d,#060606,#080808 16.5px,#292929 18.5px,#343434,#343434,#252525,#0c0c0c,#1f1f1f,#474747,#6a6a6a,#797979,#6d6d6d,#474747,#131313,#414141,#858585,#b4b4b4,#bcbcbc,#9c9c9c,#5b5b5b,#141414,#585858,#a5a5a5,#cbcbcb,#c6c6c6,#9a9a9a,#4f4f4f,#0f0f0f,#535353,#8a8a8a,#9c9c9c,#8d8d8d,#646464,#292929,#0f0f0f,#3c3c3c,#525252,#505050,#393939,#161616,#0e0e0e,#292929,#333333,#292929,#0e0e0e,#151515,#393939,#4e4e4e,#505050,#3b3b3b,#121212,#252525,#585858,#7c7c7c,#868686,#707070,#424242,#0b0b0b 73.5px,#838383 75.5px,#a2a2a2,#a0a0a0,#7c7c7c,#404040,#0a0a0a,#4e4e4e,#838383,#999999,#929292,#737373 85.4px,#0a0a0a 87.4px,#525252 89.4px,#656565,#666666,#575757,#3e3e3e 93.4px,#050505 95.4px,#242424 97.4px,#2d2d2d,#2f2f2f,#2d2d2d 100.4px,#1e1e1e 102.4px,#040404 105.4px,#050505 106.4px,#161616 108.4px,#222222 110.4px,#242424,#222222,#1c1c1c 113.4px,#030303 115.4px,#0f0f0f,#1f1f1f,#2b2b2b,#303030,#2d2d2d,#222222,#111111,#060606 123.4px,#272727 125.4px,#303030,#313131,#282828,#191919,#060606,#0d0d0d,#1e1e1e,#282828,#2b2b2b,#262626 135.4px,#0c0c0c 137.4px,#060606 138.4px,#1c1c1c 140.4px,#202020,#1d1d1d 142.4px,#0c0c0c 144.4px,#020202 145.4px,#101010 147.4px,#131313 148.4px,#0f0f0f 150.4px,#030303 152.4px,#030303 153.4px,#090909 155.4px,#080808 157.4px,#050505 158.4px)"></i><i style="top:33.00px;height:1.50px;background:linear-gradient(90deg,#000000 0.5px,#030303 6.5px,#010101 8.5px,#101010 12.5px,#0f0f0f 13.5px,#030303 15.5px,#313131 18.5px,#373737,#313131 20.5px,#0a0a0a 22.5px,#565656 24.5px,#747474,#7c7c7c,#686868 27.5px,#121212 29.5px,#505050,#929292,#bcbcbc,#c0c0c0,#9c9c9c 34.5px,#141414 36.5px,#5c5c5c,#aaaaaa,#d1d1d1,#cecece,#a4a4a4 41.5px,#111111 43.5px,#878787 45.5px,#9e9e9e,#959595,#717171,#383838,#0b0b0b,#2f2f2f,#494949,#4c4c4c,#3b3b3b,#1c1c1c,#050505,#1d1d1d,#262626,#1d1d1d,#060606,#1b1b1b,#3a3a3a,#4b4b4b,#484848,#2f2f2f,#090909,#2f2f2f,#606060,#808080,#868686,#6d6d6d 71.5px,#0d0d0d 73.5px,#8a8a8a 75.5px,#a7a7a7,#a6a6a6,#828282 78.5px,#090909 80.4px,#4d4d4d,#878787,#a1a1a1,#9e9e9e,#818181 85.4px,#141414 87.4px,#272727,#535353,#6d6d6d,#737373,#676767,#4e4e4e 93.4px,#0c0c0c 95.4px,#0f0f0f,#262626,#333333,#393939,#383838,#323232 101.4px,#050505 105.4px,#070707 106.4px,#1d1d1d 108.4px,#2a2a2a 110.4px,#2b2b2b,#272727,#1f1f1f 113.4px,#040404 115.4px,#242424 117.4px,#303030,#353535,#313131,#242424,#121212,#070707 123.4px,#2b2b2b 125.4px,#343434,#353535,#2c2c2c,#1c1c1c,#070707,#0d0d0d,#202020,#2b2b2b,#2f2f2f,#2a2a2a 135.4px,#0f0f0f 137.4px,#050505 138.4px,#1d1d1d 140.4px,#222222,#212121,#1a1a1a 143.4px,#040404 145.4px,#070707,#101010,#141414 148.4px,#111111 150.4px,#050505 152.4px,#020202 153.4px,#0a0a0a 155.4px,#090909 157.4px,#060606 158.4px)"></i><i style="top:34.00px;height:1.50px;background:linear-gradient(90deg,#000000 0.5px,#030303 5.5px,#010101 7.5px,#080808 9.5px,#101010 11.5px,#0d0d0d 13.5px,#040404,#0a0a0a 15.5px,#2b2b2b 17.5px,#363636,#373737,#2b2b2b,#101010,#141414,#3f3f3f,#636363,#7c7c7c,#7c7c7c,#616161,#2f2f2f,#181818,#5f5f5f,#9e9e9e,#c4c4c4,#c3c3c3,#9b9b9b 34.5px,#141414 36.5px,#aeaeae 38.5px,#d5d5d5,#d4d4d4,#acacac,#656565,#181818,#414141,#818181,#9e9e9e,#9b9b9b,#7d7d7d 48.5px,#161616 50.5px,#1f1f1f,#3d3d3d,#454545,#3b3b3b 54.5px,#090909 56.5px,#0c0c0c,#151515 58.5px,#080808 60.5px,#3a3a3a 62.5px,#444444,#3d3d3d,#212121,#0b0b0b 66.5px,#686868 68.5px,#838383,#858585,#686868,#363636,#121212,#545454,#8f8f8f,#acacac,#aaaaaa,#868686 78.5px,#080808 80.4px,#4d4d4d,#8a8a8a,#a8a8a8,#a9a9a9,#8f8f8f,#5a5a5a,#202020,#202020,#525252,#737373,#7f7f7f,#777777,#5f5f5f,#3e3e3e,#171717,#0b0b0b,#272727,#393939,#434343,#454545,#3f3f3f 101.4px,#262626 103.4px,#070707 105.4px,#090909 106.4px,#242424 108.4px,#2d2d2d,#323232,#333333,#2c2c2c,#212121,#101010,#060606 115.4px,#2a2a2a 117.4px,#363636,#3a3a3a,#353535,#272727,#131313,#080808 123.4px,#2e2e2e 125.4px,#383838,#393939,#303030,#1f1f1f,#090909,#0d0d0d,#212121,#2d2d2d,#323232,#2e2e2e,#222222 136.4px,#050505 138.4px,#1e1e1e 140.4px,#242424,#242424 142.4px,#131313 144.4px,#060606,#060606 146.4px,#151515 148.4px,#141414 150.4px,#020202 153.4px,#0b0b0b 156.4px,#080808 158.4px)"></i><i style="top:35.00px;height:1.50px;background:linear-gradient(90deg,#010101 0.5px,#020202 5.5px,#020202 7.5px,#0f0f0f 10.5px,#111111,#0f0f0f,#080808,#050505 14.5px,#252525 16.5px,#323232,#393939,#343434,#222222,#090909,#242424,#4f4f4f,#6f6f6f,#818181,#7a7a7a,#585858,#222222,#272727,#6e6e6e,#a9a9a9,#cacaca,#c5c5c5,#999999,#525252,#151515 36.5px,#b1b1b1 38.5px,#d9d9d9,#dadada,#b5b5b5,#707070,#202020,#363636,#797979,#9b9b9b,#a0a0a0,#888888,#5a5a5a,#282828,#0c0c0c,#2d2d2d,#3c3c3c,#3a3a3a 54.5px,#070707 57.5px,#040404,#050505 59.5px,#383838 62.5px,#3c3c3c,#2f2f2f,#121212,#191919,#474747,#6f6f6f,#858585,#818181,#616161,#2d2d2d,#1a1a1a,#5b5b5b,#959595,#b0b0b0,#adadad,#898989,#4b4b4b,#080808,#4d4d4d,#8c8c8c,#aeaeae,#b3b3b3,#9b9b9b,#676767,#2c2c2c,#191919,#505050,#777777,#898989,#868686,#707070,#4e4e4e,#242424,#070707,#252525,#3d3d3d,#4d4d4d,#515151,#4d4d4d,#414141,#313131 103.4px,#090909 105.4px,#0b0b0b 106.4px,#2c2c2c 108.4px,#363636,#3c3c3c,#3a3a3a,#323232,#242424,#101010,#080808 115.4px,#2f2f2f 117.4px,#3b3b3b,#3f3f3f,#393939,#292929,#141414,#080808 123.4px,#313131 125.4px,#3c3c3c,#3c3c3c,#333333,#222222,#0b0b0b,#0c0c0c,#212121,#2f2f2f,#353535,#313131,#252525 136.4px,#050505 138.4px,#1e1e1e 140.4px,#262626,#262626,#202020 143.4px,#090909 145.4px,#040404 146.4px,#151515 148.4px,#161616 150.4px,#030303 153.4px,#040404 154.4px,#0b0b0b 156.4px,#090909 158.4px)"></i><i style="top:36.00px;height:1.50px;background:linear-gradient(90deg,#010101 0.5px,#030303 4.5px,#020202 6.5px,#111111 10.5px,#101010 11.5px,#030303 13.5px,#0d0d0d 14.5px,#2d2d2d 16.5px,#373737,#393939,#2e2e2e,#171717,#0d0d0d 21.5px,#5d5d5d 23.5px,#797979,#838383,#767676,#4d4d4d,#171717,#373737,#7c7c7c,#b3b3b3,#cecece,#c5c5c5,#969696,#4f4f4f,#161616 36.5px,#b3b3b3 38.5px,#dcdcdc,#dfdfdf,#bcbcbc,#7a7a7a,#2a2a2a,#292929,#6f6f6f,#979797,#a4a4a4,#939393,#6c6c6c 49.5px,#0e0e0e 51.5px,#1a1a1a,#313131,#373737,#313131 55.5px,#1b1b1b 57.5px,#161616,#191919 59.5px,#2f2f2f 61.5px,#363636,#323232,#202020,#060606,#2a2a2a,#545454,#767676,#868686,#7d7d7d,#585858,#242424,#242424,#636363,#9a9a9a,#b4b4b4,#afafaf,#8a8a8a,#4c4c4c,#090909 80.4px,#8f8f8f 82.4px,#b3b3b3,#bbbbbb,#a5a5a5,#737373,#373737,#121212,#4d4d4d,#7a7a7a,#929292,#939393,#808080,#5f5f5f,#323232,#090909,#222222,#404040,#565656,#5e5e5e,#5b5b5b,#4f4f4f,#3d3d3d 103.4px,#0d0d0d 105.4px,#0c0c0c,#222222,#343434,#404040,#454545,#434343,#383838,#272727,#101010,#0a0a0a 115.4px,#353535 117.4px,#414141,#444444,#3d3d3d,#2b2b2b,#151515,#090909 123.4px,#333333 125.4px,#3e3e3e,#404040,#363636,#242424,#0d0d0d,#0c0c0c,#212121,#303030,#373737,#343434,#292929 136.4px,#060606 138.4px,#0e0e0e,#1e1e1e,#272727,#282828,#232323,#1a1a1a 144.4px,#030303 146.4px,#141414 148.4px,#181818,#181818 150.4px,#0d0d0d 152.4px,#050505,#030303 154.4px,#0b0b0b 156.4px,#0b0b0b 158.4px)"></i><i style="top:37.00px;height:1.50px;background:linear-gradient(90deg,#020202 0.5px,#030303 3.5px,#010101 5.5px,#111111 9.5px,#0e0e0e 11.5px,#060606,#070707 13.5px,#343434 16.5px,#3a3a3a,#363636,#262626,#0c0c0c,#1d1d1d 21.5px,#696969 23.5px,#808080,#848484,#6f6f6f 26.5px,#101010 28.5px,#464646,#898989,#bcbcbc,#d2d2d2,#c5c5c5,#939393,#4b4b4b,#181818,#696969,#b5b5b5,#dedede,#e3e3e3,#c4c4c4,#858585,#373737,#1c1c1c,#656565,#929292,#a6a6a6,#9d9d9d,#7d7d7d,#535353,#222222,#080808,#242424,#333333,#383838 55.5px,#2e2e2e 58.5px,#333333 60.5px,#363636,#343434,#282828,#101010,#131313 65.5px,#616161 67.5px,#7d7d7d,#868686,#787878,#4f4f4f,#191919,#2e2e2e,#6b6b6b,#9f9f9f,#b6b6b6,#b0b0b0,#8a8a8a,#4c4c4c,#090909 80.4px,#919191 82.4px,#b7b7b7,#c2c2c2,#afafaf,#7e7e7e,#414141,#0d0d0d,#4a4a4a,#7c7c7c,#9a9a9a,#a0a0a0,#909090,#6f6f6f 94.4px,#121212 96.4px,#1e1e1e,#424242,#5d5d5d,#6a6a6a,#696969,#5e5e5e,#494949 103.4px,#121212 105.4px,#0d0d0d 106.4px,#3c3c3c 108.4px,#494949,#4f4f4f,#4b4b4b,#3e3e3e,#2b2b2b,#111111,#0c0c0c 115.4px,#393939 117.4px,#464646,#484848,#404040,#2e2e2e,#161616,#090909 123.4px,#353535 125.4px,#414141,#424242,#393939,#272727,#0f0f0f,#0b0b0b,#212121,#313131,#393939,#373737,#2c2c2c,#1c1c1c,#070707,#0c0c0c,#1c1c1c,#272727,#2a2a2a,#262626,#1d1d1d 144.4px,#040404 146.4px,#131313 148.4px,#181818,#191919 150.4px,#0f0f0f 152.4px,#020202 154.4px,#0b0b0b 156.4px,#0c0c0c 158.4px)"></i><i style="top:38.00px;height:1.50px;background:linear-gradient(90deg,#030303 0.5px,#010101 4.5px,#101010 8.5px,#121212,#101010 10.5px,#030303 12.5px,#0f0f0f 13.5px,#2f2f2f 15.5px,#393939,#3b3b3b,#313131,#1b1b1b,#0a0a0a,#2c2c2c,#535353,#747474,#858585,#818181,#666666,#343434,#101010,#555555,#959595,#c3c3c3,#d5d5d5,#c4c4c4,#909090,#464646,#191919,#6b6b6b,#b7b7b7,#e1e1e1,#e7e7e7,#cbcbcb,#8f8f8f,#444444,#131313,#5a5a5a,#8c8c8c,#a8a8a8,#a7a7a7,#8f8f8f,#696969,#393939,#0f0f0f,#161616,#2f2f2f,#3d3d3d,#444444 56.5px,#454545 59.5px,#3e3e3e 61.5px,#323232,#1f1f1f,#060606,#252525,#4c4c4c,#6e6e6e,#838383,#868686,#727272,#454545,#0f0f0f,#383838,#737373,#a3a3a3,#b8b8b8,#afafaf,#898989 78.5px,#080808 80.4px,#939393 82.4px,#bababa,#c7c7c7,#b6b6b6,#878787,#4b4b4b,#0b0b0b,#464646,#7d7d7d,#a0a0a0,#ababab,#9e9e9e,#7e7e7e 94.4px,#1d1d1d 96.4px,#191919,#424242,#636363,#747474,#777777,#6c6c6c,#565656,#393939,#171717,#0c0c0c 106.4px,#434343 108.4px,#525252,#585858,#545454,#454545,#2f2f2f,#121212,#0d0d0d,#272727,#3d3d3d,#4a4a4a,#4c4c4c,#444444,#303030,#181818,#090909 123.4px,#363636 125.4px,#424242,#444444,#3b3b3b,#292929,#111111,#090909,#202020,#303030,#393939,#393939,#2f2f2f,#1f1f1f,#0a0a0a,#090909,#1b1b1b,#262626,#2b2b2b,#282828,#202020 144.4px,#060606 146.4px,#080808,#121212,#181818,#1a1a1a 150.4px,#121212 152.4px,#020202 154.4px,#0c0c0c 157.4px,#0c0c0c 158.4px)"></i><i style="top:39.00px;height:1.50px;background:linear-gradient(90deg,#040404 0.5px,#010101 3.5px,#070707 5.5px,#101010 7.5px,#111111 9.5px,#0d0d0d,#050505,#090909 12.5px,#292929 14.5px,#353535,#3c3c3c,#393939,#2a2a2a,#0f0f0f,#131313,#3c3c3c,#606060,#7d7d7d,#888888,#7d7d7d,#5c5c5c,#262626,#1c1c1c,#636363,#a0a0a0,#cacaca,#d6d6d6,#c2c2c2,#8c8c8c,#424242,#1c1c1c,#6e6e6e,#b8b8b8,#e3e3e3,#ebebeb,#d2d2d2,#9a9a9a,#505050,#111111,#505050,#868686,#a9a9a9,#b0b0b0,#9f9f9f,#7f7f7f 50.5px,#232323 52.5px,#090909,#292929,#424242,#515151,#595959,#5c5c5c,#5a5a5a,#525252,#464646,#303030,#161616,#101010 64.5px,#5c5c5c 66.5px,#7a7a7a,#898989,#858585,#6b6b6b 70.5px,#0a0a0a 72.5px,#7a7a7a 74.5px,#a7a7a7,#b9b9b9,#aeaeae,#868686 78.5px,#090909 80.4px,#515151,#959595,#bdbdbd,#cccccc,#bcbcbc,#8f8f8f,#525252,#0c0c0c,#424242,#7c7c7c,#a4a4a4,#b4b4b4,#ababab,#8d8d8d 94.4px,#282828 96.4px,#141414,#414141,#686868,#7d7d7d,#848484,#7a7a7a,#636363,#434343,#1e1e1e,#0b0b0b 106.4px,#494949 108.4px,#5a5a5a,#616161,#5c5c5c,#4b4b4b,#343434,#141414,#0d0d0d,#292929,#404040,#4d4d4d,#505050,#474747,#323232,#191919,#080808 123.4px,#363636 125.4px,#434343,#464646,#3d3d3d,#2b2b2b,#131313,#080808,#1e1e1e,#2f2f2f,#3a3a3a,#3a3a3a,#313131,#222222,#0e0e0e,#070707,#181818,#252525,#2b2b2b,#2a2a2a,#232323 144.4px,#090909 146.4px,#050505,#101010,#171717,#1a1a1a,#191919 151.4px,#0d0d0d 153.4px,#050505,#020202 155.4px,#0b0b0b 157.4px,#0d0d0d 158.4px)"></i><i style="top:40.00px;height:1.50px;background:linear-gradient(90deg,#040404 0.5px,#010101 2.5px,#060606 4.5px,#121212 7.5px,#0f0f0f 9.5px,#040404 11.5px,#303030 14.5px,#3a3a3a,#3c3c3c,#343434,#202020,#080808,#232323,#4b4b4b,#6c6c6c,#838383,#888888,#777777,#515151,#1a1a1a,#2b2b2b,#717171,#aaaaaa,#cfcfcf,#d7d7d7,#bfbfbf,#878787,#3e3e3e,#1e1e1e,#707070,#bababa,#e5e5e5,#efefef,#d8d8d8,#a3a3a3 42.5px,#141414 44.5px,#454545,#808080,#aaaaaa,#b8b8b8,#aeaeae,#929292,#666666,#363636,#0b0b0b,#232323,#454545,#5d5d5d,#6b6b6b,#717171,#6d6d6d,#616161,#4d4d4d 61.5px,#0f0f0f 63.5px,#1d1d1d,#464646,#6a6a6a,#848484,#8e8e8e,#848484,#656565,#323232,#0b0b0b,#4b4b4b,#818181,#ababab,#b9b9b9,#acacac,#838383,#444444,#0a0a0a,#535353,#969696,#bfbfbf,#cfcfcf,#c1c1c1,#949494,#595959,#0e0e0e,#3e3e3e,#7c7c7c,#a8a8a8,#bbbbbb,#b6b6b6,#999999,#696969,#333333,#0e0e0e,#3e3e3e,#6a6a6a,#848484,#8e8e8e,#868686,#707070,#4e4e4e,#252525,#090909 106.4px,#4c4c4c 108.4px,#606060,#686868,#636363,#525252,#393939,#171717,#0c0c0c,#2a2a2a,#424242,#505050,#525252,#494949,#353535,#1b1b1b,#080808 123.4px,#363636 125.4px,#434343,#464646,#3e3e3e,#2d2d2d,#161616,#070707 131.4px,#2e2e2e 133.4px,#393939,#3a3a3a,#323232,#242424,#111111,#050505 139.4px,#232323 141.4px,#2a2a2a,#2b2b2b,#252525 144.4px,#0d0d0d 146.4px,#040404 147.4px,#161616 149.4px,#1a1a1a,#1a1a1a 151.4px,#101010 153.4px,#020202 155.4px,#0c0c0c 158.4px)"></i><i style="top:41.00px;height:1.50px;background:linear-gradient(90deg,#030303 0.5px,#010101 2.5px,#111111 6.5px,#131313,#111111 8.5px,#030303 10.5px,#0b0b0b 11.5px,#2a2a2a 13.5px,#363636,#3c3c3c,#3a3a3a,#2d2d2d,#151515,#0d0d0d 19.5px,#585858 21.5px,#767676,#888888,#868686,#6f6f6f,#444444,#121212,#3a3a3a,#7d7d7d,#b3b3b3,#d3d3d3,#d7d7d7,#bdbdbd,#838383,#393939,#212121,#737373,#bbbbbb,#e7e7e7,#f3f3f3,#dedede,#acacac,#676767,#1b1b1b,#3c3c3c,#7b7b7b,#aaaaaa,#bfbfbf,#bcbcbc,#a4a4a4,#7a7a7a 51.5px,#151515 53.5px,#1d1d1d,#474747,#676767,#7b7b7b,#838383,#7e7e7e,#6e6e6e,#545454 61.5px,#0a0a0a 63.5px,#282828,#535353,#767676,#8d8d8d,#929292,#828282,#5f5f5f,#292929,#121212,#535353,#878787,#adadad,#b9b9b9,#a8a8a8,#7e7e7e,#404040,#0c0c0c,#555555,#989898,#c0c0c0,#d1d1d1,#c3c3c3,#989898,#5e5e5e,#111111,#3a3a3a,#7b7b7b,#aaaaaa,#c1c1c1,#bebebe,#a4a4a4,#757575,#3e3e3e,#0b0b0b 97.4px,#6b6b6b 99.4px,#898989,#979797,#919191,#7b7b7b,#585858,#2d2d2d,#080808 106.4px,#4e4e4e 108.4px,#646464,#6e6e6e,#6a6a6a,#585858,#3e3e3e,#1b1b1b,#0b0b0b,#292929,#424242,#515151,#545454,#4b4b4b,#373737 121.4px,#070707 123.4px,#343434 125.4px,#424242,#464646,#3f3f3f,#2f2f2f,#181818,#060606 131.4px,#2c2c2c 133.4px,#383838,#3a3a3a,#333333,#272727,#141414,#050505 139.4px,#212121 141.4px,#292929,#2b2b2b,#262626,#1d1d1d 145.4px,#040404 147.4px,#191919 150.4px,#181818 152.4px,#030303 155.4px,#040404 156.4px,#0c0c0c 158.4px)"></i><i style="top:42.00px;height:1.50px;background:linear-gradient(90deg,#020202 0.5px,#010101 1.5px,#111111 5.5px,#121212 7.5px,#0e0e0e,#060606,#060606 10.5px,#313131 13.5px,#3b3b3b,#3d3d3d,#353535,#242424,#0b0b0b,#1c1c1c 19.5px,#656565 21.5px,#7e7e7e,#8a8a8a,#838383,#656565,#373737,#101010,#494949,#898989,#bbbbbb,#d7d7d7,#d6d6d6,#b9b9b9,#7e7e7e,#343434,#252525,#757575,#bdbdbd,#e9e9e9,#f6f6f6,#e4e4e4,#b4b4b4,#717171,#232323,#333333,#757575,#aaaaaa,#c5c5c5,#c8c8c8,#b4b4b4,#8c8c8c,#595959,#212121,#171717,#484848,#6e6e6e,#878787,#929292,#8d8d8d,#797979,#5b5b5b,#2f2f2f,#090909,#313131,#5d5d5d,#808080,#939393,#949494,#808080,#595959,#212121,#1a1a1a,#5a5a5a,#8b8b8b,#aeaeae,#b7b7b7,#a4a4a4,#797979,#3b3b3b,#0f0f0f,#585858,#999999,#c1c1c1,#d1d1d1,#c5c5c5,#9b9b9b,#616161,#141414,#373737,#797979,#aaaaaa,#c4c4c4,#c5c5c5,#adadad,#7f7f7f,#474747,#0b0b0b,#353535,#6a6a6a,#8c8c8c,#9e9e9e,#9a9a9a,#858585,#626262 104.4px,#080808 106.4px,#272727,#4e4e4e,#676767,#727272,#6f6f6f,#5e5e5e,#434343,#1f1f1f,#090909 115.4px,#414141 117.4px,#515151,#555555,#4d4d4d,#393939 121.4px,#070707 123.4px,#1a1a1a,#313131,#404040,#444444,#3e3e3e,#303030 129.4px,#060606 131.4px,#292929 133.4px,#353535,#393939,#343434,#282828 137.4px,#050505 139.4px,#0f0f0f,#1e1e1e,#272727,#2a2a2a,#272727,#1f1f1f 145.4px,#060606 147.4px,#070707,#111111 149.4px,#1a1a1a 151.4px,#191919 152.4px,#060606 155.4px,#020202 156.4px,#0b0b0b 158.4px)"></i><i style="top:43.00px;height:1.50px;background:linear-gradient(90deg,#010101 0.5px,#070707 2.5px,#101010 4.5px,#131313 6.5px,#0a0a0a 8.5px,#030303 9.5px,#1c1c1c 11.5px,#2c2c2c,#373737,#3d3d3d,#3b3b3b,#2f2f2f,#1a1a1a,#090909 18.5px,#6f6f6f 21.5px,#848484,#8a8a8a,#7d7d7d,#5a5a5a,#292929,#171717 27.5px,#949494 29.5px,#c2c2c2,#d9d9d9,#d5d5d5,#b5b5b5,#797979,#2f2f2f,#292929,#787878,#bfbfbf,#ebebeb,#f9f9f9,#e9e9e9,#bbbbbb,#797979,#2a2a2a,#2b2b2b,#707070,#aaaaaa,#c9c9c9,#d1d1d1,#c1c1c1,#9b9b9b,#686868,#2c2c2c,#101010,#474747,#737373,#909090,#9d9d9d,#989898,#828282,#606060,#303030,#090909 63.5px,#646464 65.5px,#868686,#979797,#949494,#7d7d7d,#535353,#1a1a1a,#212121,#5f5f5f,#8d8d8d,#adadad,#b3b3b3,#9f9f9f,#737373,#353535,#131313,#5a5a5a,#9a9a9a,#c0c0c0,#d0d0d0,#c4c4c4,#9b9b9b,#636363,#171717,#343434,#777777,#aaaaaa,#c7c7c7,#cacaca,#b4b4b4,#878787,#505050,#0e0e0e,#303030,#686868,#8d8d8d,#a2a2a2,#a1a1a1,#8e8e8e,#6b6b6b,#3f3f3f,#0d0d0d,#222222,#4c4c4c,#676767,#757575,#737373,#626262,#484848,#252525,#070707 115.4px,#3e3e3e 117.4px,#4f4f4f,#545454,#4d4d4d,#3b3b3b 121.4px,#070707 123.4px,#161616,#2e2e2e,#3d3d3d,#424242,#3d3d3d,#303030 129.4px,#060606 131.4px,#131313,#262626,#333333,#373737,#343434,#292929 137.4px,#070707 139.4px,#0c0c0c,#1b1b1b,#252525,#292929,#282828,#212121 145.4px,#090909 147.4px,#040404 148.4px,#151515 150.4px,#191919,#191919 152.4px,#090909 155.4px,#020202 156.4px,#090909 158.4px)"></i><i style="top:44.00px;height:1.50px;background:linear-gradient(90deg,#020202 0.5px,#121212 4.5px,#121212 6.5px,#0d0d0d,#040404,#070707 9.5px,#323232 12.5px,#3b3b3b,#3d3d3d,#373737,#262626,#0e0e0e,#131313,#393939,#5b5b5b,#787878,#888888,#888888,#767676,#4f4f4f,#1c1c1c,#252525,#646464,#9e9e9e,#c7c7c7,#dbdbdb,#d3d3d3,#b0b0b0,#737373,#2a2a2a,#2e2e2e,#7b7b7b,#c1c1c1,#ececec,#fbfbfb,#ececec,#c0c0c0,#808080,#313131,#242424,#6b6b6b,#a8a8a8,#cbcbcb,#d8d8d8,#cccccc,#a7a7a7,#747474,#363636,#0b0b0b,#444444,#747474,#969696,#a5a5a5,#a0a0a0,#898989,#656565,#323232,#090909 63.5px,#686868 65.5px,#888888,#979797,#929292,#797979,#4e4e4e,#141414,#262626,#636363,#8e8e8e,#ababab,#aeaeae,#989898,#6c6c6c,#2f2f2f,#171717,#5c5c5c,#9a9a9a,#bfbfbf,#cecece,#c2c2c2,#9a9a9a,#636363,#191919,#323232,#757575,#a9a9a9,#c7c7c7,#cdcdcd,#b9b9b9,#8e8e8e,#585858,#141414,#292929,#646464,#8c8c8c,#a4a4a4,#a6a6a6,#959595,#737373,#474747,#151515,#1c1c1c,#484848,#656565,#757575,#757575,#666666,#4d4d4d 113.4px,#070707 115.4px,#1d1d1d,#393939,#4b4b4b,#525252,#4c4c4c,#3b3b3b,#252525,#090909,#121212,#292929,#383838,#3f3f3f,#3c3c3c,#303030 129.4px,#070707 131.4px,#0f0f0f,#222222,#303030,#353535,#323232,#2a2a2a 137.4px,#0a0a0a 139.4px,#090909,#181818,#222222,#282828,#272727,#222222 145.4px,#030303 148.4px,#131313 150.4px,#181818,#191919 152.4px,#111111 154.4px,#040404 156.4px,#020202,#080808 158.4px)"></i><i style="top:45.00px;height:1.50px;background:linear-gradient(90deg,#050505 0.5px,#111111 3.5px,#131313 5.5px,#030303 8.5px,#1e1e1e 10.5px,#373737 12.5px,#3d3d3d,#3b3b3b,#313131 15.5px,#070707 17.5px,#212121,#464646,#666666,#7f7f7f,#898989,#848484,#6d6d6d,#424242,#121212,#333333,#707070,#a7a7a7,#cccccc,#dbdbdb,#d0d0d0,#ababab,#6d6d6d,#252525,#333333,#7f7f7f,#c3c3c3,#eeeeee,#fdfdfd,#efefef,#c5c5c5,#868686,#383838,#1d1d1d,#666666,#a6a6a6,#cccccc,#dddddd,#d3d3d3,#b1b1b1,#7f7f7f,#404040,#0a0a0a 54.5px,#737373 56.5px,#979797,#a9a9a9,#a5a5a5,#8d8d8d,#686868,#343434,#090909 63.5px,#686868 65.5px,#888888,#959595,#8e8e8e,#737373,#484848,#0f0f0f,#2a2a2a,#646464,#8c8c8c,#a6a6a6,#a7a7a7,#909090,#646464,#292929,#1b1b1b,#5e5e5e,#999999,#bcbcbc,#cbcbcb,#bfbfbf,#989898,#626262,#191919,#303030,#727272,#a7a7a7,#c6c6c6,#cecece,#bcbcbc,#939393,#5e5e5e,#1b1b1b,#232323,#5f5f5f,#898989,#a4a4a4,#a9a9a9,#9a9a9a,#7a7a7a,#4f4f4f,#1d1d1d,#151515,#424242,#606060,#737373,#757575,#696969,#525252 113.4px,#0b0b0b 115.4px,#161616,#333333,#464646,#4e4e4e,#4b4b4b,#3c3c3c,#272727,#0c0c0c,#0d0d0d,#242424,#333333,#3b3b3b,#393939,#2e2e2e 129.4px,#090909 131.4px,#0c0c0c,#1e1e1e,#2c2c2c,#323232,#313131,#292929 137.4px,#0c0c0c 139.4px,#060606,#151515,#202020,#262626,#272727 144.4px,#1a1a1a 146.4px,#040404 148.4px,#080808 149.4px,#161616 151.4px,#171717 153.4px,#0d0d0d 155.4px,#020202 157.4px,#060606 158.4px)"></i><i style="top:46.00px;height:1.50px;background:linear-gradient(90deg,#080808 0.5px,#131313 3.5px,#111111 5.5px,#030303 7.5px,#0a0a0a 8.5px,#323232 11.5px,#3b3b3b,#3d3d3d,#373737,#292929,#111111,#0c0c0c 17.5px,#535353 19.5px,#6f6f6f,#848484,#898989,#7e7e7e,#636363,#353535,#0d0d0d,#414141,#7c7c7c,#afafaf,#d0d0d0,#dbdbdb,#cccccc,#a5a5a5,#666666,#212121,#373737,#828282,#c5c5c5,#efefef,#fefefe,#f1f1f1,#c8c8c8,#8a8a8a,#3d3d3d,#181818,#616161,#a3a3a3,#cccccc,#dfdfdf,#d8d8d8,#b9b9b9,#878787 52.5px,#0d0d0d 54.5px,#3a3a3a,#6f6f6f,#969696,#a9a9a9,#a7a7a7,#8f8f8f,#6a6a6a,#363636,#0a0a0a 63.5px,#646464 65.5px,#838383,#8f8f8f,#888888,#6d6d6d,#414141,#0b0b0b,#2d2d2d,#636363,#898989,#9f9f9f,#9f9f9f,#878787,#5c5c5c,#212121,#202020,#5f5f5f,#979797,#b9b9b9,#c6c6c6,#bababa,#949494,#606060,#191919,#2f2f2f,#707070,#a4a4a4,#c4c4c4,#cdcdcd,#bebebe,#969696,#636363,#212121,#1d1d1d,#595959,#858585,#a2a2a2,#aaaaaa,#9e9e9e,#808080,#575757,#252525,#0f0f0f,#3a3a3a,#5a5a5a,#6f6f6f,#747474,#6a6a6a,#555555 113.4px,#121212 115.4px,#101010,#2c2c2c,#3f3f3f,#494949,#474747,#3b3b3b,#282828,#101010,#090909,#1e1e1e,#2e2e2e,#363636,#353535,#2c2c2c 129.4px,#0b0b0b 131.4px,#090909 132.4px,#282828 134.4px,#2e2e2e,#2e2e2e,#282828 137.4px,#0e0e0e 139.4px,#050505 140.4px,#1c1c1c 142.4px,#242424,#252525,#222222 145.4px,#111111 147.4px,#060606,#050505 149.4px,#141414 151.4px,#171717 153.4px,#0f0f0f 155.4px,#030303 157.4px,#030303 158.4px)"></i><i style="top:47.00px;height:1.50px;background:linear-gradient(90deg,#0b0b0b 0.5px,#121212 2.5px,#121212 4.5px,#0e0e0e,#060606,#050505 7.5px,#2d2d2d 10.5px,#373737,#3d3d3d,#3b3b3b,#313131,#202020,#090909,#1a1a1a 17.5px,#5e5e5e 19.5px,#777777,#878787,#878787,#787878,#595959,#282828,#111111,#4e4e4e,#868686,#b6b6b6,#d3d3d3,#dadada,#c8c8c8,#9f9f9f 33.5px,#1c1c1c 35.5px,#3c3c3c,#858585,#c7c7c7,#efefef,#fefefe,#f1f1f1,#c9c9c9,#8d8d8d,#414141,#151515,#5c5c5c,#9e9e9e,#c9c9c9,#dfdfdf,#dbdbdb,#bebebe,#8e8e8e 52.5px,#131313 54.5px,#323232,#696969,#919191,#a6a6a6,#a5a5a5,#8f8f8f,#6b6b6b,#383838,#0a0a0a 63.5px,#5e5e5e 65.5px,#7b7b7b,#878787,#7f7f7f,#646464,#3b3b3b,#090909,#2e2e2e,#616161,#838383,#979797,#959595,#7c7c7c,#525252,#1a1a1a,#242424,#616161,#959595,#b4b4b4,#c0c0c0,#b4b4b4,#8f8f8f,#5c5c5c,#171717,#2e2e2e,#6d6d6d,#a1a1a1,#c1c1c1,#cbcbcb,#bdbdbd,#989898,#676767,#272727,#171717,#525252,#7f7f7f,#9e9e9e,#a9a9a9,#9f9f9f,#858585,#5d5d5d,#2e2e2e,#0a0a0a,#313131,#535353,#6a6a6a,#717171,#6a6a6a,#585858,#3b3b3b,#1a1a1a,#0a0a0a,#232323,#383838,#434343,#434343,#393939,#292929,#131313,#060606 124.4px,#272727 126.4px,#303030,#313131,#2a2a2a,#1d1d1d,#0c0c0c,#070707 132.4px,#242424 134.4px,#2b2b2b,#2c2c2c,#272727 137.4px,#040404 140.4px,#191919 142.4px,#212121,#242424,#222222 145.4px,#131313 147.4px,#090909,#030303 149.4px,#121212 151.4px,#171717 153.4px,#111111 155.4px,#050505 157.4px,#020202 158.4px)"></i><i style="top:48.00px;height:1.50px;background:linear-gradient(90deg,#0e0e0e 0.5px,#131313 2.5px,#101010 4.5px,#030303 6.5px,#0b0b0b 7.5px,#333333 10.5px,#3a3a3a,#3d3d3d,#383838,#2a2a2a,#151515,#090909,#272727,#494949,#676767,#7d7d7d,#888888,#848484,#6f6f6f,#4d4d4d,#1b1b1b,#1e1e1e,#5a5a5a,#909090,#bcbcbc,#d5d5d5,#d8d8d8,#c2c2c2,#989898 33.5px,#181818 35.5px,#414141,#888888,#c8c8c8,#efefef,#fdfdfd,#f1f1f1,#cacaca,#909090,#454545,#121212 45.5px,#999999 47.5px,#c5c5c5,#dddddd,#dbdbdb,#c1c1c1,#949494 52.5px,#191919 54.5px,#292929,#606060,#898989,#9f9f9f,#a0a0a0,#8d8d8d,#6b6b6b 61.5px,#0d0d0d 63.5px,#2b2b2b,#555555,#717171,#7c7c7c,#747474,#5b5b5b,#343434,#080808,#2e2e2e,#5c5c5c,#7b7b7b,#8c8c8c,#898989,#707070,#474747,#121212,#292929,#616161,#929292,#afafaf,#b9b9b9,#acacac,#888888,#575757,#151515,#2d2d2d,#6b6b6b,#9d9d9d,#bdbdbd,#c7c7c7,#bbbbbb,#999999,#6a6a6a,#2c2c2c,#121212,#4b4b4b,#787878,#999999,#a6a6a6,#a0a0a0,#888888,#646464 105.4px,#0a0a0a 107.4px,#272727,#494949,#626262,#6c6c6c,#686868,#595959,#3f3f3f,#212121,#070707 116.4px,#2f2f2f 118.4px,#3b3b3b,#3e3e3e,#373737,#292929 122.4px,#040404 124.4px,#202020 126.4px,#2a2a2a,#2b2b2b,#262626 129.4px,#0d0d0d 131.4px,#050505 132.4px,#202020 134.4px,#272727,#282828,#252525 137.4px,#101010 139.4px,#040404,#0b0b0b 141.4px,#1e1e1e 143.4px,#222222,#212121 145.4px,#141414 147.4px,#030303 149.4px,#101010 151.4px,#161616 153.4px,#121212 155.4px,#020202 158.4px)"></i><i style="top:49.00px;height:1.50px;background:linear-gradient(90deg,#101010 0.5px,#131313 2.5px,#0c0c0c 4.5px,#040404,#070707 6.5px,#2d2d2d 9.5px,#373737,#3c3c3c,#3b3b3b,#323232,#212121,#0b0b0b,#141414 16.5px,#545454 18.5px,#707070,#818181,#878787,#7f7f7f,#666666,#414141,#121212,#2c2c2c,#666666,#999999,#c0c0c0,#d5d5d5,#d5d5d5,#bdbdbd,#919191,#515151,#151515,#464646,#8b8b8b,#c8c8c8,#eeeeee,#fbfbfb,#efefef,#cacaca,#919191,#494949,#101010 45.5px,#939393 47.5px,#bfbfbf,#d9d9d9,#d9d9d9,#c2c2c2,#989898,#5f5f5f,#212121,#1e1e1e,#555555,#7e7e7e,#969696,#999999,#898989,#6a6a6a 61.5px,#111111 63.5px,#222222,#494949,#646464,#6e6e6e,#676767,#505050 69.5px,#070707 71.5px,#2d2d2d,#575757,#727272,#808080,#7b7b7b,#636363,#3b3b3b,#0a0a0a,#2e2e2e,#626262,#8f8f8f,#a8a8a8,#b0b0b0,#a4a4a4,#818181,#525252,#131313,#2d2d2d,#686868,#999999,#b8b8b8,#c3c3c3,#b9b9b9,#989898,#6c6c6c,#313131,#0d0d0d,#444444,#717171,#939393,#a2a2a2,#9e9e9e,#8a8a8a,#696969 105.4px,#111111 107.4px,#1d1d1d,#3f3f3f,#5a5a5a,#666666,#666666,#5a5a5a,#434343 114.4px,#0b0b0b 116.4px,#101010,#252525,#333333,#373737,#333333,#282828 122.4px,#060606 124.4px,#0c0c0c 125.4px,#232323 127.4px,#252525,#222222,#191919,#0c0c0c,#040404 132.4px,#1c1c1c 134.4px,#232323,#252525,#222222,#1b1b1b 138.4px,#040404 140.4px,#090909 141.4px,#1b1b1b 143.4px,#202020 145.4px,#151515 147.4px,#030303 149.4px,#050505 150.4px,#121212 152.4px,#151515 154.4px,#090909 157.4px,#030303 158.4px)"></i><i style="top:50.00px;height:1.50px;background:linear-gradient(90deg,#121212 0.5px,#121212 2.5px,#030303 5.5px,#323232 9.5px,#3a3a3a,#3c3c3c,#373737,#2b2b2b 13.5px,#070707 15.5px,#212121 16.5px,#5e5e5e 18.5px,#767676,#848484,#858585,#787878,#5c5c5c 23.5px,#0d0d0d 25.5px,#393939,#717171,#a0a0a0,#c4c4c4,#d5d5d5,#d1d1d1,#b6b6b6,#8a8a8a,#494949,#121212,#4a4a4a,#8d8d8d,#c8c8c8,#ececec,#f9f9f9,#ededed,#c9c9c9,#929292,#4b4b4b,#0f0f0f,#494949,#8b8b8b,#b8b8b8,#d3d3d3,#d6d6d6,#c2c2c2,#9b9b9b,#666666,#2a2a2a,#131313,#484848,#717171,#8a8a8a,#909090,#838383,#696969 61.5px,#171717 63.5px,#171717,#3b3b3b,#545454,#5e5e5e,#585858,#444444 69.5px,#070707 71.5px,#505050 73.5px,#676767,#727272,#6c6c6c,#545454 77.5px,#070707 79.5px,#333333,#636363,#8b8b8b,#a2a2a2,#a8a8a8,#9a9a9a,#787878,#4b4b4b,#0f0f0f,#2e2e2e,#666666,#949494,#b3b3b3,#bebebe,#b5b5b5,#979797,#6d6d6d,#353535,#0a0a0a,#3c3c3c,#696969,#8c8c8c,#9d9d9d,#9c9c9c,#8b8b8b,#6d6d6d,#464646,#1b1b1b,#131313,#343434,#505050,#5f5f5f,#626262,#595959,#474747 114.4px,#141414 116.4px,#070707,#1a1a1a,#292929,#303030,#2e2e2e,#262626 122.4px,#0a0a0a 124.4px,#060606 125.4px,#1b1b1b 127.4px,#1f1f1f,#1d1d1d,#161616 130.4px,#030303 132.4px,#181818 134.4px,#212121 136.4px,#1f1f1f 137.4px,#101010 139.4px,#050505,#070707 141.4px,#191919 143.4px,#1e1e1e 145.4px,#1c1c1c 146.4px,#0e0e0e 148.4px,#050505,#030303 150.4px,#101010 152.4px,#141414 154.4px,#0f0f0f 156.4px,#050505 158.4px)"></i><i style="top:51.00px;height:1.50px;background:linear-gradient(90deg,#131313 0.5px,#101010 2.5px,#030303 4.5px,#080808 5.5px,#2d2d2d 8.5px,#363636,#3b3b3b,#3a3a3a,#323232,#232323,#0d0d0d,#0e0e0e 15.5px,#4b4b4b 17.5px,#666666,#7b7b7b,#848484,#818181,#717171,#515151,#272727,#111111 25.5px,#7a7a7a 27.5px,#a7a7a7,#c6c6c6,#d4d4d4,#cdcdcd,#b0b0b0,#828282,#424242,#111111 35.5px,#8e8e8e 37.5px,#c7c7c7,#eaeaea,#f6f6f6,#eaeaea,#c7c7c7,#929292,#4e4e4e,#0f0f0f,#424242,#838383,#b0b0b0,#cccccc,#d1d1d1,#c0c0c0,#9e9e9e,#6c6c6c,#343434,#0b0b0b,#3a3a3a,#636363,#7d7d7d,#858585,#7c7c7c,#666666 61.5px,#1d1d1d 63.5px,#0b0b0b,#2c2c2c,#434343,#4d4d4d,#484848,#373737,#1b1b1b,#080808 71.5px,#494949 73.5px,#5c5c5c,#646464,#5c5c5c,#454545,#222222,#0a0a0a 79.5px,#636363 81.4px,#878787,#9b9b9b,#9e9e9e,#919191,#6f6f6f,#444444,#0c0c0c,#2f2f2f,#646464,#909090,#adadad,#b8b8b8,#b1b1b1,#959595,#6e6e6e,#383838,#0a0a0a 98.4px,#616161 100.4px,#848484,#979797,#999999,#8b8b8b,#717171,#4d4d4d,#242424,#0a0a0a 108.4px,#464646 110.4px,#575757,#5d5d5d,#585858,#494949 114.4px,#1c1c1c 116.4px,#050505,#101010,#1f1f1f,#272727,#292929,#242424 122.4px,#030303 125.4px,#141414 127.4px,#181818,#171717 129.4px,#0a0a0a 131.4px,#030303 132.4px,#151515 134.4px,#1b1b1b 135.4px,#1c1c1c 137.4px,#0f0f0f 139.4px,#050505,#050505 141.4px,#161616 143.4px,#1b1b1b 144.4px,#1b1b1b 146.4px,#0f0f0f 148.4px,#020202 150.4px,#121212 153.4px,#121212 155.4px,#0c0c0c 157.4px,#070707 158.4px)"></i><i style="top:52.00px;height:1.50px;background:linear-gradient(90deg,#131313 0.5px,#0d0d0d 2.5px,#060606,#040404 4.5px,#323232 8.5px,#393939,#3b3b3b,#373737,#2c2c2c 12.5px,#070707 14.5px,#1a1a1a 15.5px,#555555 17.5px,#6d6d6d,#7e7e7e,#838383,#7c7c7c,#686868,#454545,#1b1b1b,#1c1c1c 25.5px,#838383 27.5px,#acacac,#c8c8c8,#d2d2d2,#c8c8c8,#a9a9a9,#7a7a7a,#3b3b3b,#111111 35.5px,#8f8f8f 37.5px,#c6c6c6,#e7e7e7,#f2f2f2,#e7e7e7,#c5c5c5,#929292 43.5px,#101010 45.5px,#3b3b3b,#7a7a7a,#a7a7a7,#c5c5c5,#cccccc,#bebebe,#a0a0a0,#727272 53.5px,#0d0d0d 55.5px,#2a2a2a,#535353,#6f6f6f,#797979,#747474,#636363 61.5px,#060606 64.5px,#313131 66.5px,#3a3a3a,#373737,#292929,#121212,#0c0c0c 71.5px,#414141 73.5px,#505050,#545454,#4c4c4c,#353535,#141414,#141414 79.5px,#646464 81.4px,#838383,#939393,#959595,#868686,#666666,#3d3d3d,#090909,#303030,#626262,#8c8c8c,#a8a8a8,#b3b3b3,#acacac,#929292,#6e6e6e 96.4px,#0b0b0b 98.4px,#2d2d2d,#585858,#7c7c7c,#909090,#959595,#8b8b8b,#747474,#535353 106.4px,#080808 108.4px,#1e1e1e,#3b3b3b,#4e4e4e,#575757,#555555,#4a4a4a,#393939 115.4px,#0e0e0e 117.4px,#060606,#151515,#1e1e1e,#222222,#202020 122.4px,#0f0f0f 124.4px,#040404,#050505,#0d0d0d,#111111 128.4px,#0e0e0e 130.4px,#020202 132.4px,#121212 134.4px,#1a1a1a 136.4px,#151515 138.4px,#050505 140.4px,#050505 141.4px,#141414 143.4px,#1b1b1b 145.4px,#161616 147.4px,#020202 150.4px,#101010 153.4px,#121212 155.4px,#0d0d0d 157.4px,#080808 158.4px)"></i><i style="top:53.00px;height:1.50px;background:linear-gradient(90deg,#121212 0.5px,#030303 3.5px,#0a0a0a 4.5px,#2d2d2d 7.5px,#363636,#3a3a3a,#393939,#323232,#242424,#101010,#0a0a0a 14.5px,#434343 16.5px,#5d5d5d,#737373,#808080,#818181,#767676,#5e5e5e 22.5px,#111111 24.5px,#282828 25.5px,#8b8b8b 27.5px,#b0b0b0,#c8c8c8,#cfcfcf,#c2c2c2,#a1a1a1,#737373,#343434,#121212,#545454,#909090,#c4c4c4,#e3e3e3,#eeeeee,#e3e3e3,#c3c3c3,#929292 43.5px,#131313 45.5px,#333333,#717171,#9d9d9d,#bcbcbc,#c5c5c5,#bcbcbc,#a1a1a1,#787878 53.5px,#161616 55.5px,#1a1a1a,#424242,#5f5f5f,#6c6c6c,#6c6c6c,#5f5f5f,#484848,#2d2d2d,#0e0e0e,#0b0b0b,#1e1e1e,#272727,#262626,#1b1b1b,#090909,#0f0f0f 71.5px,#393939 73.5px,#434343,#454545,#3b3b3b,#252525,#070707,#1e1e1e 79.5px,#656565 81.4px,#808080,#8c8c8c,#8b8b8b,#7c7c7c,#5c5c5c,#353535,#080808,#323232,#616161,#888888,#a2a2a2,#adadad,#a7a7a7,#8f8f8f,#6d6d6d 96.4px,#0e0e0e 98.4px,#262626,#505050,#747474,#8a8a8a,#909090,#898989,#767676,#585858,#363636,#0f0f0f,#121212,#303030,#444444,#505050,#525252,#4b4b4b,#3d3d3d 115.4px,#060606 118.4px,#0a0a0a,#151515,#1b1b1b,#1b1b1b 122.4px,#111111 124.4px,#020202 126.4px,#0b0b0b 128.4px,#090909 130.4px,#040404,#030303 132.4px,#101010 134.4px,#171717 136.4px,#121212 138.4px,#040404 140.4px,#040404 141.4px,#131313 143.4px,#191919 145.4px,#151515 147.4px,#030303 150.4px,#040404 151.4px,#0f0f0f 153.4px,#121212 155.4px,#0a0a0a 158.4px)"></i><i style="top:54.00px;height:1.50px;background:linear-gradient(90deg,#101010 0.5px,#040404 2.5px,#060606 3.5px,#282828 6.5px,#383838 8.5px,#3a3a3a,#363636,#2c2c2c 11.5px,#080808 13.5px,#151515 14.5px,#4d4d4d 16.5px,#656565,#777777,#808080,#7e7e7e,#6e6e6e,#545454,#2e2e2e,#0c0c0c,#333333,#646464,#919191,#b3b3b3,#c8c8c8,#cbcbcb,#bcbcbc,#9a9a9a,#6b6b6b,#2d2d2d,#141414,#575757,#909090,#c1c1c1,#dfdfdf,#eaeaea,#dfdfdf,#c1c1c1,#929292,#575757,#161616,#2b2b2b,#676767,#939393,#b3b3b3,#bfbfbf,#b9b9b9,#a2a2a2,#7e7e7e,#535353,#232323,#0b0b0b,#313131,#4f4f4f,#5f5f5f,#636363,#5b5b5b,#4a4a4a,#353535,#1b1b1b,#060606,#0b0b0b,#141414,#141414 68.5px,#030303 70.5px,#313131 73.5px,#373737,#353535,#2a2a2a,#141414,#080808 78.5px,#494949 80.4px,#666666,#7c7c7c,#868686,#828282,#727272,#535353 86.4px,#080808 88.4px,#606060 90.4px,#858585,#9d9d9d,#a7a7a7,#a2a2a2,#8c8c8c,#6c6c6c 96.4px,#121212 98.4px,#202020,#494949,#6c6c6c,#838383,#8c8c8c,#878787,#777777,#5d5d5d,#3d3d3d,#191919,#090909,#252525,#3a3a3a,#494949,#4e4e4e,#4a4a4a,#404040 115.4px,#0f0f0f 118.4px,#030303 119.4px,#131313 121.4px,#161616 122.4px,#111111 124.4px,#010101 127.4px,#050505 129.4px,#010101 131.4px,#0a0a0a 133.4px,#121212 135.4px,#131313 137.4px,#0a0a0a 139.4px,#040404,#040404 141.4px,#111111 143.4px,#181818 145.4px,#151515 147.4px,#040404 150.4px,#030303 151.4px,#101010 154.4px,#101010 156.4px,#0b0b0b 158.4px)"></i><i style="top:55.00px;height:1.50px;background:linear-gradient(90deg,#0d0d0d 0.5px,#020202 2.5px,#2d2d2d 6.5px,#393939 8.5px,#383838,#313131,#252525,#121212,#070707 13.5px,#555555 16.5px,#6b6b6b,#7a7a7a,#7f7f7f,#797979,#666666,#4a4a4a,#222222,#0e0e0e 24.5px,#6d6d6d 26.5px,#979797,#b5b5b5,#c7c7c7,#c7c7c7,#b6b6b6,#929292,#646464,#272727,#171717,#595959,#8f8f8f,#bfbfbf,#dbdbdb,#e5e5e5,#dcdcdc,#bebebe,#939393,#5a5a5a,#1a1a1a,#232323,#5d5d5d,#898989,#aaaaaa,#b8b8b8,#b5b5b5,#a3a3a3,#848484,#5d5d5d,#313131,#090909,#202020,#3f3f3f,#515151,#595959,#575757,#4c4c4c,#3c3c3c 63.5px,#161616 65.5px,#080808,#030303 67.5px,#030303 69.5px,#161616 71.5px,#292929 73.5px,#2b2b2b,#262626,#1a1a1a,#050505,#161616 78.5px,#4f4f4f 80.4px,#686868,#797979,#7f7f7f,#797979,#686868,#494949,#252525,#0b0b0b 88.4px,#606060 90.4px,#828282,#999999,#a2a2a2,#9d9d9d,#898989,#6b6b6b 96.4px,#161616 98.4px,#1a1a1a 99.4px,#656565 101.4px,#7c7c7c,#878787,#858585,#787878,#616161,#454545,#222222,#060606 109.4px,#313131 111.4px,#414141,#494949,#494949,#424242,#373737 116.4px,#0a0a0a 119.4px,#030303 120.4px,#101010 122.4px,#121212 123.4px,#020202 128.4px,#010101 130.4px,#101010 135.4px,#101010 137.4px,#090909 139.4px,#020202,#040404 141.4px,#101010 143.4px,#161616 145.4px,#141414 147.4px,#020202 151.4px,#0f0f0f 154.4px,#101010 156.4px,#0b0b0b 158.4px)"></i><i style="top:56.00px;height:1.50px;background:linear-gradient(90deg,#090909 0.5px,#030303,#070707 2.5px,#313131 6.5px,#373737,#383838,#353535,#2c2c2c,#1d1d1d,#090909,#0f0f0f 13.5px,#5d5d5d 16.5px,#707070,#7b7b7b,#7c7c7c,#737373,#5e5e5e,#3f3f3f,#161616,#161616,#484848,#747474,#9b9b9b,#b7b7b7,#c5c5c5,#c3c3c3,#afafaf,#8b8b8b,#5d5d5d,#212121,#1b1b1b,#5a5a5a,#8f8f8f,#bcbcbc,#d7d7d7,#e1e1e1,#d8d8d8,#bcbcbc,#939393,#5d5d5d,#1f1f1f,#1a1a1a,#545454,#7f7f7f,#a1a1a1,#b1b1b1,#b2b2b2,#a4a4a4,#8a8a8a,#676767 54.5px,#161616 56.5px,#0f0f0f,#2f2f2f,#444444,#505050,#535353,#4d4d4d,#434343 63.5px,#1b1b1b 66.5px,#131313,#0f0f0f 68.5px,#141414 70.5px,#1f1f1f 72.5px,#222222,#202020,#171717,#0a0a0a,#0b0b0b 77.5px,#565656 80.4px,#6a6a6a,#777777,#7a7a7a,#717171,#5f5f5f,#404040,#1d1d1d,#0f0f0f 88.4px,#606060 90.4px,#808080,#959595,#9d9d9d,#989898,#858585,#696969 96.4px,#191919 98.4px,#151515,#3b3b3b,#5d5d5d,#757575,#828282,#838383,#787878,#656565,#4b4b4b 107.4px,#0e0e0e 109.4px,#101010,#272727,#393939,#434343,#474747,#434343,#3b3b3b 116.4px,#070707 120.4px,#040404 121.4px,#0e0e0e 123.4px,#0e0e0e 125.4px,#060606 129.4px,#0c0c0c 133.4px,#101010 136.4px,#070707 139.4px,#020202 140.4px,#0a0a0a 142.4px,#131313 144.4px,#151515 146.4px,#101010 148.4px,#010101 151.4px,#0d0d0d 154.4px,#0f0f0f 156.4px,#0c0c0c 158.4px)"></i><i style="top:57.00px;height:1.50px;background:linear-gradient(90deg,#050505 0.5px,#040404 1.5px,#2c2c2c 5.5px,#343434 6.5px,#373737 8.5px,#313131,#252525 10.5px,#060606 12.5px,#1a1a1a 13.5px,#4d4d4d 15.5px,#636363,#737373,#7b7b7b,#797979,#6c6c6c,#545454,#343434,#0d0d0d,#212121,#515151,#7b7b7b,#9f9f9f,#b7b7b7,#c2c2c2,#bebebe,#a9a9a9,#848484,#565656,#1c1c1c,#1e1e1e,#5b5b5b,#8d8d8d,#b9b9b9,#d3d3d3,#dcdcdc,#d4d4d4,#bababa,#939393,#606060,#252525,#121212,#4a4a4a,#757575,#989898,#aaaaaa,#afafaf,#a5a5a5,#8f8f8f,#707070 54.5px,#252525 56.5px,#070707 57.5px,#373737 59.5px,#474747,#4e4e4e,#4f4f4f,#4a4a4a 63.5px,#2c2c2c 66.5px,#202020 68.5px,#1c1c1c 73.5px,#161616,#0a0a0a,#050505 76.5px,#5c5c5c 80.4px,#6c6c6c,#757575,#757575,#6a6a6a,#565656,#383838,#161616,#141414,#3c3c3c,#606060,#7e7e7e,#919191,#999999,#949494,#828282,#686868 96.4px,#1c1c1c 98.4px,#101010 99.4px,#575757 101.4px,#6f6f6f,#7d7d7d,#808080,#787878,#686868,#515151 107.4px,#171717 109.4px,#080808 110.4px,#313131 112.4px,#3e3e3e,#444444,#444444 115.4px,#353535 117.4px,#050505 121.4px,#030303 122.4px,#0d0d0d 124.4px,#0c0c0c 129.4px,#0e0e0e 133.4px,#0e0e0e 136.4px,#010101 140.4px,#121212 144.4px,#141414 146.4px,#101010 148.4px,#010101 151.4px,#0e0e0e 155.4px,#0e0e0e 157.4px,#0c0c0c 158.4px)"></i><i style="top:58.00px;height:1.50px;background:linear-gradient(90deg,#020202 0.5px,#131313 2.5px,#282828 4.5px,#353535 6.5px,#373737,#343434,#2c2c2c,#1e1e1e,#0c0c0c,#0c0c0c 12.5px,#3e3e3e 14.5px,#686868 16.5px,#757575,#797979,#747474,#656565,#4b4b4b 21.5px,#0a0a0a 23.5px,#2b2b2b,#595959,#818181,#a2a2a2,#b7b7b7,#bfbfbf,#b9b9b9,#a2a2a2,#7d7d7d,#505050,#181818,#212121,#5c5c5c,#8c8c8c,#b6b6b6,#cfcfcf,#d8d8d8,#d1d1d1,#b9b9b9,#949494,#636363,#2b2b2b,#0d0d0d,#414141,#6c6c6c,#909090,#a4a4a4,#acacac,#a6a6a6,#949494,#797979 54.5px,#111111 57.5px,#111111,#2a2a2a,#3e3e3e,#4a4a4a,#505050,#505050 63.5px,#2b2b2b 69.5px,#1e1e1e 72.5px,#030303 75.5px,#131313 76.5px,#515151 79.5px,#626262,#6f6f6f,#747474,#717171,#636363,#4f4f4f 85.4px,#0f0f0f 87.4px,#191919,#3f3f3f,#616161,#7c7c7c,#8e8e8e,#959595,#919191,#808080,#676767 96.4px,#1f1f1f 98.4px,#0d0d0d 99.4px,#505050 101.4px,#696969,#787878,#7d7d7d,#787878,#6a6a6a,#565656 107.4px,#060606 110.4px,#141414,#292929,#383838,#414141,#434343,#414141 116.4px,#303030 118.4px,#0d0d0d 121.4px,#040404,#040404 123.4px,#0d0d0d 125.4px,#101010 129.4px,#0e0e0e 136.4px,#020202 140.4px,#121212 144.4px,#141414 146.4px,#101010 148.4px,#020202 151.4px,#030303 152.4px,#0b0b0b 154.4px,#0e0e0e 157.4px,#0d0d0d 158.4px)"></i><i style="top:59.00px;height:1.50px;background:linear-gradient(90deg,#050505 0.5px,#2c2c2c 4.5px,#363636 6.5px,#353535,#303030,#252525 9.5px,#060606 11.5px,#151515 12.5px,#464646 14.5px,#5b5b5b,#6c6c6c,#767676,#777777,#6f6f6f,#5d5d5d,#414141,#1f1f1f,#0c0c0c 23.5px,#616161 25.5px,#868686,#a4a4a4,#b6b6b6,#bcbcbc,#b3b3b3,#9c9c9c,#777777,#4a4a4a,#141414,#242424,#5c5c5c,#8b8b8b,#b3b3b3,#cbcbcb,#d4d4d4,#cdcdcd,#b7b7b7,#949494,#666666,#303030,#0b0b0b 46.5px,#636363 48.5px,#888888,#9e9e9e,#a9a9a9,#a7a7a7,#989898,#818181,#636363 55.5px,#1e1e1e 57.5px,#060606 58.5px,#363636 60.5px,#464646,#505050,#555555,#555555 64.5px,#4c4c4c 66.5px,#303030 70.5px,#1e1e1e 72.5px,#040404 74.5px,#0e0e0e,#1f1f1f 76.5px,#484848 78.5px,#696969 80.4px,#727272,#737373,#6d6d6d,#5e5e5e,#484848 85.4px,#090909 87.4px,#1e1e1e,#424242,#626262,#7b7b7b,#8c8c8c,#929292,#8e8e8e,#7d7d7d,#666666 96.4px,#212121 98.4px,#090909 99.4px,#4a4a4a 101.4px,#636363,#737373,#7a7a7a,#777777,#6c6c6c,#5a5a5a 107.4px,#282828 109.4px,#0c0c0c,#0c0c0c,#222222,#323232,#3d3d3d,#424242,#424242,#3e3e3e 117.4px,#2b2b2b 119.4px,#0a0a0a 122.4px,#020202 123.4px,#0f0f0f 126.4px,#141414 129.4px,#121212 134.4px,#070707 138.4px,#020202 140.4px,#0f0f0f 143.4px,#141414 145.4px,#101010 148.4px,#020202 151.4px,#020202 152.4px,#0c0c0c 155.4px,#0e0e0e 157.4px,#0d0d0d 158.4px)"></i><i style="top:60.00px;height:1.50px;background:linear-gradient(90deg,#0b0b0b 0.5px,#282828 3.5px,#343434 5.5px,#333333 7.5px,#2b2b2b,#1f1f1f,#0d0d0d,#080808 11.5px,#4d4d4d 14.5px,#606060,#6e6e6e,#757575,#747474,#686868,#555555,#373737,#151515,#151515 23.5px,#686868 25.5px,#8a8a8a,#a5a5a5,#b5b5b5,#b8b8b8,#aeaeae,#969696,#707070,#444444,#111111,#262626,#5d5d5d,#898989,#b0b0b0,#c7c7c7,#d0d0d0,#cacaca,#b5b5b5,#959595,#696969,#353535,#0c0c0c,#303030,#5b5b5b,#808080,#989898,#a6a6a6,#a7a7a7,#9c9c9c,#898989,#6d6d6d 55.5px,#0a0a0a 58.5px,#141414,#2e2e2e,#424242,#515151,#595959,#5d5d5d 64.5px,#5a5a5a 66.5px,#4c4c4c 68.5px,#383838 70.5px,#1e1e1e 72.5px,#0d0d0d,#040404 74.5px,#2a2a2a 76.5px,#535353 78.5px,#636363,#6e6e6e,#747474,#737373,#6b6b6b,#595959,#424242 85.4px,#060606 87.4px,#222222 88.4px,#636363 90.4px,#7b7b7b,#8a8a8a,#909090,#8b8b8b,#7c7c7c,#656565 96.4px,#242424 98.4px,#070707,#242424,#454545,#5e5e5e,#6f6f6f,#777777,#777777,#6e6e6e,#5e5e5e 107.4px,#2f2f2f 109.4px,#151515,#060606 111.4px,#2b2b2b 113.4px,#393939,#414141,#434343,#414141 117.4px,#323232 119.4px,#070707 123.4px,#020202 124.4px,#0f0f0f 126.4px,#161616 128.4px,#171717 132.4px,#121212 135.4px,#020202 139.4px,#030303 140.4px,#101010 143.4px,#131313 146.4px,#101010 148.4px,#030303 151.4px,#010101 152.4px,#090909 154.4px,#0d0d0d 157.4px,#0d0d0d 158.4px)"></i><i style="top:61.00px;height:1.50px;background:linear-gradient(90deg,#101010 0.5px,#2b2b2b 3.5px,#343434 5.5px,#343434,#2f2f2f,#252525 8.5px,#060606 10.5px,#101010 11.5px,#545454 14.5px,#646464,#707070,#747474,#707070,#626262,#4c4c4c 20.5px,#0d0d0d 22.5px,#1e1e1e 23.5px,#6d6d6d 25.5px,#8d8d8d,#a6a6a6,#b3b3b3,#b4b4b4,#a9a9a9,#8f8f8f,#6a6a6a,#3f3f3f,#0f0f0f,#282828,#5d5d5d,#888888,#adadad,#c3c3c3,#cdcdcd,#c7c7c7,#b4b4b4,#959595,#6b6b6b,#3a3a3a,#0f0f0f,#292929 47.5px,#7a7a7a 49.5px,#939393,#a3a3a3,#a7a7a7,#a0a0a0,#8f8f8f,#767676 55.5px,#373737 57.5px,#141414,#0a0a0a,#272727,#3e3e3e,#515151,#5d5d5d,#656565,#676767 65.5px,#606060 67.5px,#4d4d4d 69.5px,#2f2f2f 71.5px,#0a0a0a 73.5px,#090909 74.5px,#4a4a4a 77.5px,#5c5c5c,#6a6a6a,#747474,#777777,#737373,#696969 83.4px,#3e3e3e 85.4px,#1e1e1e,#050505 87.4px,#474747 89.4px,#636363,#7a7a7a,#888888,#8e8e8e,#898989,#7a7a7a,#646464 96.4px,#060606 99.4px,#202020,#404040,#595959,#6b6b6b,#757575,#767676,#6f6f6f,#616161 107.4px,#363636 109.4px,#1c1c1c,#060606,#131313 112.4px,#343434 114.4px,#3e3e3e,#434343,#434343,#3f3f3f 118.4px,#2e2e2e 120.4px,#0c0c0c 123.4px,#030303,#060606 125.4px,#131313 127.4px,#1a1a1a 129.4px,#1b1b1b 132.4px,#101010 136.4px,#020202 139.4px,#080808 141.4px,#101010 143.4px,#141414 146.4px,#0c0c0c 149.4px,#010101 152.4px,#0b0b0b 155.4px,#0d0d0d 158.4px)"></i><i style="top:62.00px;height:1.50px;background:linear-gradient(90deg,#151515 0.5px,#272727 2.5px,#333333 4.5px,#343434,#313131,#2a2a2a,#1f1f1f,#0f0f0f,#060606,#191919 11.5px,#464646 13.5px,#595959,#676767,#707070,#727272,#6b6b6b,#5b5b5b,#444444,#242424,#0a0a0a,#272727 23.5px,#737373 25.5px,#909090,#a6a6a6,#b1b1b1,#b0b0b0,#a3a3a3,#898989,#646464 32.5px,#0d0d0d 34.5px,#2b2b2b,#5d5d5d,#868686,#aaaaaa,#c0c0c0,#c9c9c9,#c5c5c5,#b2b2b2,#959595,#6e6e6e,#3e3e3e,#121212,#222222 47.5px,#737373 49.5px,#8e8e8e,#a1a1a1,#a7a7a7,#a3a3a3,#959595,#7e7e7e,#626262 56.5px,#1f1f1f 58.5px,#060606 59.5px,#3a3a3a 61.5px,#505050,#606060,#6b6b6b,#707070,#707070,#6b6b6b 67.5px,#565656 69.5px,#333333 71.5px,#080808 73.5px,#0e0e0e,#272727 75.5px,#525252 77.5px,#646464,#717171,#797979,#7a7a7a,#747474,#676767 83.4px,#3a3a3a 85.4px,#1a1a1a,#070707 87.4px,#494949 89.4px,#646464,#7a7a7a,#878787,#8c8c8c,#878787,#797979,#646464 96.4px,#282828 98.4px,#070707,#1b1b1b,#3b3b3b,#555555,#676767,#727272,#747474,#6f6f6f,#636363 107.4px,#3c3c3c 109.4px,#0c0c0c 111.4px,#0c0c0c 112.4px,#303030 114.4px,#3b3b3b,#424242,#444444,#424242 118.4px,#343434 120.4px,#070707 124.4px,#040404 125.4px,#181818 128.4px,#1e1e1e 130.4px,#1c1c1c 133.4px,#111111 136.4px,#020202 139.4px,#090909 141.4px,#131313 144.4px,#141414 146.4px,#090909 150.4px,#010101 152.4px,#0c0c0c 156.4px,#0c0c0c 158.4px)"></i><i style="top:63.00px;height:1.50px;background:linear-gradient(90deg,#1a1a1a 0.5px,#2b2b2b 2.5px,#333333 4.5px,#2e2e2e 6.5px,#252525 7.5px,#080808 9.5px,#0d0d0d 10.5px,#4c4c4c 13.5px,#5d5d5d,#6a6a6a,#707070,#6f6f6f,#656565,#535353,#3b3b3b,#1a1a1a,#0b0b0b 22.5px,#777777 25.5px,#929292,#a6a6a6,#afafaf,#acacac,#9e9e9e,#838383,#5e5e5e 32.5px,#0b0b0b 34.5px,#2c2c2c,#5d5d5d,#858585,#a7a7a7,#bdbdbd,#c6c6c6,#c2c2c2,#b1b1b1,#959595,#6f6f6f 44.5px,#161616 46.5px,#1c1c1c 47.5px,#6d6d6d 49.5px,#8a8a8a,#9e9e9e,#a7a7a7,#a5a5a5,#999999,#858585,#6a6a6a,#4b4b4b,#282828,#090909,#1a1a1a 60.5px,#4f4f4f 62.5px,#626262,#707070,#777777,#787878,#747474,#6b6b6b,#5e5e5e,#4c4c4c 70.5px,#202020 72.5px,#070707,#121212,#2d2d2d 75.5px,#595959 77.5px,#6b6b6b,#777777,#7d7d7d,#7c7c7c,#747474,#666666 83.4px,#373737 85.4px,#161616,#0a0a0a,#2c2c2c 88.4px,#656565 90.4px,#797979,#868686,#8b8b8b,#868686,#787878,#646464 96.4px,#2a2a2a 98.4px,#080808,#181818,#373737,#505050,#636363,#6f6f6f,#737373,#707070,#666666 107.4px,#414141 109.4px,#131313 111.4px,#070707 112.4px,#2b2b2b 114.4px,#383838,#414141 116.4px,#444444 118.4px,#404040 119.4px,#242424 122.4px,#0c0c0c 124.4px,#020202 125.4px,#181818 128.4px,#212121 131.4px,#1c1c1c 134.4px,#080808 138.4px,#020202,#030303 140.4px,#0d0d0d 142.4px,#141414 145.4px,#111111 148.4px,#010101 152.4px,#0c0c0c 157.4px,#0c0c0c 158.4px)"></i><i style="top:64.00px;height:1.50px;background:linear-gradient(90deg,#1f1f1f 0.5px,#2d2d2d 2.5px,#323232 4.5px,#303030 5.5px,#1f1f1f 7.5px,#101010,#050505,#151515 10.5px,#3f3f3f 12.5px,#616161 14.5px,#6b6b6b,#6e6e6e,#6b6b6b,#5f5f5f,#4b4b4b,#323232,#111111,#111111,#373737 23.5px,#7b7b7b 25.5px,#949494,#a5a5a5,#acacac,#a7a7a7,#989898,#7e7e7e,#595959 32.5px,#0a0a0a 34.5px,#2e2e2e,#5d5d5d,#848484,#a5a5a5,#b9b9b9,#c2c2c2,#bfbfbf,#afafaf,#959595,#717171 44.5px,#191919 46.5px,#171717 47.5px,#686868 49.5px,#858585,#9b9b9b,#a6a6a6,#a6a6a6,#9d9d9d,#8a8a8a,#717171,#535353 57.5px,#0f0f0f 59.5px,#151515 60.5px,#4e4e4e 62.5px,#636363,#737373,#7c7c7c,#7f7f7f,#7c7c7c,#737373,#646464,#515151 70.5px,#222222 72.5px,#060606,#151515,#313131 75.5px,#5f5f5f 77.5px,#707070,#7b7b7b,#808080,#7f7f7f,#757575,#666666 83.4px,#343434 85.4px,#141414,#0c0c0c 87.4px,#4c4c4c 89.4px,#656565,#797979,#858585,#898989,#858585,#777777,#646464 96.4px,#2c2c2c 98.4px,#0b0b0b,#141414,#333333,#4c4c4c,#5f5f5f,#6c6c6c,#727272,#707070,#676767 107.4px,#464646 109.4px,#191919 111.4px,#050505,#131313,#262626,#353535,#3f3f3f,#444444 117.4px,#434343 119.4px,#3d3d3d 120.4px,#1d1d1d 123.4px,#050505 125.4px,#050505 126.4px,#171717 128.4px,#202020 130.4px,#232323 132.4px,#1a1a1a 135.4px,#030303 139.4px,#030303 140.4px,#101010 143.4px,#141414 145.4px,#111111 148.4px,#020202 152.4px,#050505 154.4px,#0c0c0c 157.4px,#0c0c0c 158.4px)"></i><i style="top:65.00px;height:1.50px;background:linear-gradient(90deg,#232323 0.5px,#2f2f2f 2.5px,#323232 3.5px,#2d2d2d 5.5px,#191919 7.5px,#090909,#090909 9.5px,#454545 12.5px,#565656,#636363,#6b6b6b,#6c6c6c,#666666,#595959,#434343,#292929,#0b0b0b,#191919,#3e3e3e 23.5px,#7e7e7e 25.5px,#959595,#a4a4a4,#a9a9a9,#a3a3a3,#939393,#787878 31.5px,#2b2b2b 33.5px,#0a0a0a,#303030,#5d5d5d,#828282,#a2a2a2,#b6b6b6,#bfbfbf,#bcbcbc,#adadad,#949494,#727272 44.5px,#1d1d1d 46.5px,#121212 47.5px,#636363 49.5px,#818181,#989898,#a5a5a5,#a7a7a7,#9f9f9f,#8f8f8f,#777777,#595959 57.5px,#151515 59.5px,#0f0f0f 60.5px,#4c4c4c 62.5px,#636363,#757575,#808080,#848484,#828282,#797979,#6a6a6a,#565656 70.5px,#232323 72.5px,#060606,#171717,#343434 75.5px,#636363 77.5px,#747474,#7f7f7f,#838383,#808080,#757575,#656565 83.4px,#333333 85.4px,#121212,#0d0d0d,#2f2f2f,#4c4c4c,#656565,#787878,#848484,#888888,#848484,#777777,#646464 96.4px,#2e2e2e 98.4px,#0e0e0e,#101010,#2f2f2f,#484848,#5c5c5c,#696969,#707070,#707070,#696969 107.4px,#4a4a4a 109.4px,#1f1f1f 111.4px,#070707,#0d0d0d,#212121,#313131,#3c3c3c,#434343,#464646,#454545,#404040 120.4px,#2e2e2e 122.4px,#090909 125.4px,#030303 126.4px,#151515 128.4px,#212121 130.4px,#242424 132.4px,#202020 134.4px,#0b0b0b 138.4px,#020202 140.4px,#101010 143.4px,#151515 146.4px,#0f0f0f 149.4px,#010101 153.4px,#0b0b0b 157.4px,#0c0c0c 158.4px)"></i><i style="top:66.00px;height:1.50px;background:linear-gradient(90deg,#262626 0.5px,#303030 2.5px,#2f2f2f 4.5px,#292929 5.5px,#121212 7.5px,#040404,#111111 9.5px,#4b4b4b 12.5px,#5a5a5a,#656565,#6a6a6a,#696969,#616161,#525252,#3c3c3c 19.5px,#080808 21.5px,#212121,#444444 23.5px,#818181 25.5px,#959595,#a2a2a2,#a6a6a6,#9e9e9e,#8e8e8e,#727272 31.5px,#272727 33.5px,#0a0a0a 34.5px,#5d5d5d 36.5px,#818181,#a0a0a0,#b3b3b3,#bcbcbc,#b9b9b9,#ababab,#939393,#727272 44.5px,#202020 46.5px,#0e0e0e 47.5px,#5f5f5f 49.5px,#7d7d7d,#959595,#a3a3a3,#a7a7a7,#a1a1a1,#929292,#7b7b7b,#5e5e5e 57.5px,#1a1a1a 59.5px,#0b0b0b 60.5px,#4a4a4a 62.5px,#777777 64.5px,#838383,#888888,#868686,#7d7d7d,#6e6e6e,#595959 70.5px,#242424 72.5px,#060606,#181818,#363636 75.5px,#666666 77.5px,#777777,#828282,#858585,#818181,#767676,#656565 83.4px,#313131 85.4px,#111111,#0e0e0e,#2f2f2f,#4c4c4c,#656565,#787878,#838383,#878787,#838383,#767676,#646464 96.4px,#303030 98.4px,#101010,#0d0d0d,#2b2b2b,#444444,#585858,#676767,#6e6e6e,#6f6f6f,#696969 107.4px,#4e4e4e 109.4px,#0d0d0d 112.4px,#080808 113.4px,#2d2d2d 115.4px,#424242 117.4px,#464646,#464646 119.4px,#3b3b3b 121.4px,#262626 123.4px,#0d0d0d 125.4px,#030303 126.4px,#212121 130.4px,#252525 132.4px,#222222 134.4px,#0d0d0d 138.4px,#020202 140.4px,#131313 144.4px,#141414 147.4px,#0c0c0c 150.4px,#010101 153.4px,#0b0b0b 157.4px,#0b0b0b 158.4px)"></i><i style="top:67.00px;height:1.50px;background:linear-gradient(90deg,#292929 0.5px,#303030 2.5px,#303030,#2c2c2c 4.5px,#191919 6.5px,#0b0b0b,#070707 8.5px,#505050 12.5px,#5d5d5d,#666666,#696969,#666666,#5c5c5c,#4b4b4b,#343434,#191919,#090909 21.5px,#4a4a4a 23.5px,#838383 25.5px,#969696,#a1a1a1,#a2a2a2,#9a9a9a,#888888,#6d6d6d 31.5px,#232323 33.5px,#0b0b0b 34.5px,#5d5d5d 36.5px,#808080,#9e9e9e,#b0b0b0,#b9b9b9,#b6b6b6,#a9a9a9,#929292,#727272 44.5px,#222222 46.5px,#0c0c0c 47.5px,#5a5a5a 49.5px,#797979,#929292,#a0a0a0,#a6a6a6,#a1a1a1,#949494,#7e7e7e,#626262 57.5px,#1f1f1f 59.5px,#080808 60.5px,#484848 62.5px,#777777 64.5px,#848484,#8a8a8a,#898989,#808080,#717171,#5c5c5c 70.5px,#252525 72.5px,#060606,#181818,#373737 75.5px,#686868 77.5px,#797979,#838383,#868686,#828282,#767676,#646464 83.4px,#303030 85.4px,#101010,#0f0f0f 87.4px,#4c4c4c 89.4px,#646464,#767676,#828282,#868686,#828282,#767676,#656565 96.4px,#323232 98.4px,#131313,#0a0a0a,#272727,#404040,#555555,#646464,#6c6c6c,#6e6e6e,#6a6a6a 107.4px,#515151 109.4px,#292929 111.4px,#121212,#050505 113.4px,#292929 115.4px,#404040 117.4px,#474747 119.4px,#3e3e3e 121.4px,#363636 122.4px,#050505 126.4px,#070707 127.4px,#191919 129.4px,#242424 131.4px,#262626 133.4px,#202020 135.4px,#020202 140.4px,#121212 144.4px,#151515 146.4px,#101010 149.4px,#020202 153.4px,#050505 155.4px,#0b0b0b 158.4px)"></i><i style="top:68.00px;height:1.50px;background:linear-gradient(90deg,#2b2b2b 0.5px,#303030 2.5px,#282828 4.5px,#131313 6.5px,#050505,#0e0e0e 8.5px,#535353 12.5px,#5f5f5f,#666666,#676767,#626262,#565656,#444444 18.5px,#111111 20.5px,#0f0f0f 21.5px,#4f4f4f 23.5px,#848484 25.5px,#959595,#9e9e9e,#9f9f9f,#959595,#838383,#676767 31.5px,#1f1f1f 33.5px,#0d0d0d 34.5px,#5d5d5d 36.5px,#7e7e7e,#9b9b9b,#adadad,#b5b5b5,#b3b3b3,#a6a6a6,#909090,#717171 44.5px,#242424 46.5px,#0a0a0a 47.5px,#565656 49.5px,#757575,#8e8e8e,#9e9e9e,#a4a4a4,#a1a1a1,#949494,#808080,#656565 57.5px,#222222 59.5px,#060606 60.5px,#454545 62.5px,#767676 64.5px,#848484,#8b8b8b,#8a8a8a,#828282,#737373,#5e5e5e 70.5px,#262626 72.5px,#060606,#181818,#383838 75.5px,#696969 77.5px,#7a7a7a,#848484,#868686,#828282,#757575,#646464 83.4px,#303030 85.4px,#101010,#0f0f0f,#2f2f2f,#4b4b4b,#636363,#757575,#808080,#848484,#818181,#757575,#656565 96.4px,#343434 98.4px,#161616,#080808 100.4px,#3c3c3c 102.4px,#515151,#616161,#6a6a6a,#6d6d6d,#6a6a6a,#616161,#535353 109.4px,#2e2e2e 111.4px,#171717,#050505,#121212 114.4px,#333333 116.4px,#3e3e3e 117.4px,#474747 119.4px,#464646 120.4px,#393939 122.4px,#161616 125.4px,#090909,#040404 127.4px,#171717 129.4px,#232323 131.4px,#272727 133.4px,#222222 135.4px,#111111 138.4px,#030303 140.4px,#030303 141.4px,#0e0e0e 143.4px,#151515 146.4px,#111111 149.4px,#010101 154.4px,#0a0a0a 158.4px)"></i><i style="top:69.00px;height:1.50px;background:linear-gradient(90deg,#2d2d2d 0.5px,#2e2e2e 2.5px,#242424 4.5px,#0c0c0c 6.5px,#050505 7.5px,#484848 11.5px,#575757,#606060,#656565,#646464,#5d5d5d,#505050,#3d3d3d 18.5px,#0b0b0b 20.5px,#171717 21.5px,#545454 23.5px,#868686 25.5px,#959595,#9c9c9c,#9b9b9b,#909090,#7e7e7e,#626262 31.5px,#1b1b1b 33.5px,#0f0f0f 34.5px,#5d5d5d 36.5px,#7d7d7d,#999999,#aaaaaa,#b2b2b2,#b0b0b0,#a3a3a3,#8e8e8e,#707070 44.5px,#252525 46.5px,#090909 47.5px,#525252 49.5px,#717171,#8a8a8a,#9a9a9a,#a1a1a1,#9f9f9f,#949494,#818181,#676767 57.5px,#060606 60.5px,#212121,#424242,#5d5d5d,#747474,#838383,#8a8a8a,#8a8a8a,#828282,#747474,#5e5e5e 70.5px,#272727 72.5px,#070707,#181818,#373737 75.5px,#696969 77.5px,#797979,#838383,#868686,#818181,#747474,#636363 83.4px,#2f2f2f 85.4px,#101010,#0e0e0e,#2e2e2e,#4a4a4a,#616161,#737373,#7e7e7e,#828282,#7f7f7f,#747474,#656565 96.4px,#363636 98.4px,#181818,#060606 100.4px,#393939 102.4px,#4d4d4d,#5d5d5d,#676767,#6c6c6c,#6a6a6a,#626262,#565656 109.4px,#323232 111.4px,#080808 113.4px,#0d0d0d,#202020 115.4px,#3b3b3b 117.4px,#434343 118.4px,#464646 120.4px,#3b3b3b 122.4px,#272727 124.4px,#0d0d0d 126.4px,#030303 127.4px,#1d1d1d 130.4px,#262626 132.4px,#262626 134.4px,#1f1f1f 136.4px,#050505 140.4px,#020202 141.4px,#131313 145.4px,#141414 148.4px,#010101 154.4px,#0a0a0a 158.4px)"></i><i style="top:70.00px;height:1.50px;background:linear-gradient(90deg,#2d2d2d 0.5px,#2c2c2c 2.5px,#1f1f1f 4.5px,#060606 6.5px,#0a0a0a 7.5px,#3e3e3e 10.5px,#595959 12.5px,#616161,#646464,#616161,#585858,#4a4a4a,#363636,#1d1d1d,#080808,#1d1d1d 21.5px,#585858 23.5px,#717171,#868686,#949494,#999999,#979797,#8b8b8b,#787878,#5d5d5d 31.5px,#171717 33.5px,#121212 34.5px,#5d5d5d 36.5px,#7c7c7c,#969696,#a7a7a7,#aeaeae,#acacac,#a0a0a0,#8c8c8c,#6f6f6f 44.5px,#272727 46.5px,#080808,#292929,#4e4e4e,#6c6c6c,#868686,#979797,#9e9e9e,#9d9d9d,#939393,#818181,#686868 57.5px,#070707 60.5px,#1d1d1d,#3f3f3f 62.5px,#717171 64.5px,#808080,#888888,#898989,#818181,#737373,#5f5f5f 70.5px,#282828 72.5px,#080808,#171717,#363636 75.5px,#676767 77.5px,#787878,#828282,#848484,#808080,#737373,#626262 83.4px,#2f2f2f 85.4px,#101010,#0e0e0e,#2d2d2d,#484848,#5f5f5f,#717171,#7c7c7c,#808080,#7e7e7e,#747474,#656565 96.4px,#373737 98.4px,#1b1b1b,#050505 100.4px,#353535 102.4px,#4a4a4a,#5a5a5a,#656565,#6a6a6a,#696969,#626262,#575757 109.4px,#353535 111.4px,#0c0c0c 113.4px,#090909 114.4px,#2b2b2b 116.4px,#383838 117.4px,#454545 119.4px,#464646 120.4px,#3e3e3e 122.4px,#2a2a2a 124.4px,#040404 127.4px,#080808 128.4px,#1a1a1a 130.4px,#252525 132.4px,#272727 134.4px,#212121 136.4px,#010101 141.4px,#121212 145.4px,#141414 148.4px,#090909 152.4px,#010101 154.4px,#090909 158.4px)"></i><i style="top:71.00px;height:1.50px;background:linear-gradient(90deg,#2d2d2d 0.5px,#2a2a2a 2.5px,#1a1a1a 4.5px,#040404 6.5px,#111111 7.5px,#434343 10.5px,#5b5b5b 12.5px,#626262 14.5px,#5d5d5d,#535353,#444444,#2f2f2f,#151515,#080808 20.5px,#5c5c5c 23.5px,#737373,#868686,#929292,#969696,#939393,#878787,#737373,#585858 31.5px,#141414 33.5px,#141414 34.5px,#5d5d5d 36.5px,#7a7a7a,#939393,#a3a3a3,#aaaaaa,#a8a8a8,#9d9d9d,#898989,#6d6d6d 44.5px,#272727 46.5px,#080808,#262626,#4b4b4b 49.5px,#828282 51.5px,#929292,#9a9a9a,#9a9a9a,#919191,#808080,#686868 57.5px,#2a2a2a 59.5px,#080808,#1a1a1a,#3b3b3b,#565656,#6d6d6d,#7d7d7d,#868686,#868686,#808080,#727272,#5e5e5e 70.5px,#282828 72.5px,#080808,#161616,#353535 75.5px,#656565 77.5px,#767676,#7f7f7f,#828282,#7e7e7e 81.4px,#616161 83.4px,#2f2f2f 85.4px,#101010,#0d0d0d 87.4px,#464646 89.4px,#5d5d5d,#6e6e6e,#797979,#7e7e7e,#7c7c7c,#727272,#646464 96.4px,#383838 98.4px,#050505 100.4px,#181818,#313131,#464646,#575757,#626262,#686868,#686868,#626262,#585858 109.4px,#393939 111.4px,#111111 113.4px,#060606 114.4px,#272727 116.4px,#3e3e3e 118.4px,#444444,#464646 120.4px,#3f3f3f 122.4px,#2d2d2d 124.4px,#080808 127.4px,#040404 128.4px,#181818 130.4px,#242424 132.4px,#272727 134.4px,#222222 136.4px,#0a0a0a 140.4px,#030303,#030303 142.4px,#111111 145.4px,#141414 148.4px,#0a0a0a 152.4px,#010101 155.4px,#080808 158.4px)"></i><i style="top:72.00px;height:1.50px;background:linear-gradient(90deg,#2d2d2d 0.5px,#262626 2.5px,#151515 4.5px,#080808,#070707 6.5px,#474747 10.5px,#5b5b5b 12.5px,#606060,#5f5f5f,#595959,#4e4e4e,#3e3e3e,#282828,#0e0e0e,#0c0c0c 20.5px,#454545 22.5px,#5f5f5f,#757575,#868686,#909090,#939393,#8f8f8f,#828282,#6e6e6e,#535353 31.5px,#111111 33.5px,#161616 34.5px,#5c5c5c 36.5px,#919191 38.5px,#a0a0a0,#a6a6a6,#a4a4a4,#999999,#868686,#6b6b6b 44.5px,#070707 47.5px,#232323,#474747,#646464,#7d7d7d,#8d8d8d,#969696,#969696,#8e8e8e,#7e7e7e,#676767 57.5px,#2c2c2c 59.5px,#0a0a0a,#171717,#373737,#525252,#696969,#797979,#828282,#838383,#7d7d7d,#707070,#5c5c5c 70.5px,#282828 72.5px,#090909,#141414,#333333 75.5px,#626262 77.5px,#737373,#7c7c7c,#7f7f7f,#7b7b7b,#6f6f6f,#5f5f5f 83.4px,#2e2e2e 85.4px,#101010,#0c0c0c 87.4px,#444444 89.4px,#5a5a5a,#6b6b6b,#767676,#7b7b7b,#7a7a7a,#717171,#636363 96.4px,#3a3a3a 98.4px,#060606 100.4px,#151515 101.4px,#424242 103.4px,#535353,#5f5f5f,#656565,#666666,#626262,#595959 109.4px,#3b3b3b 111.4px,#040404 114.4px,#313131 117.4px,#424242 119.4px,#454545 120.4px,#404040 122.4px,#303030 124.4px,#020202 128.4px,#151515 130.4px,#222222 132.4px,#272727 134.4px,#232323 136.4px,#131313 139.4px,#050505 141.4px,#020202 142.4px,#101010 145.4px,#141414 148.4px,#0b0b0b 152.4px,#010101 155.4px,#070707 158.4px)"></i><i style="top:73.00px;height:1.50px;background:linear-gradient(90deg,#2c2c2c 0.5px,#232323 2.5px,#040404 5.5px,#0e0e0e 6.5px,#3c3c3c 9.5px,#4a4a4a 10.5px,#5c5c5c 12.5px,#5e5e5e,#5c5c5c,#555555,#484848,#373737 17.5px,#090909 19.5px,#131313 20.5px,#494949 22.5px,#626262,#767676,#868686,#8e8e8e,#909090,#8a8a8a,#7d7d7d,#696969,#4e4e4e 31.5px,#0e0e0e 33.5px,#181818 34.5px,#5c5c5c 36.5px,#777777,#8e8e8e,#9c9c9c,#a2a2a2,#a0a0a0,#959595,#838383,#696969 44.5px,#080808 47.5px,#202020,#434343 49.5px,#787878 51.5px,#888888,#919191,#929292,#8a8a8a,#7b7b7b,#666666 57.5px,#2d2d2d 59.5px,#0c0c0c,#141414,#333333 62.5px,#646464 64.5px,#747474,#7d7d7d,#7f7f7f,#797979,#6d6d6d,#5a5a5a 70.5px,#282828 72.5px,#0a0a0a,#131313,#313131 75.5px,#5f5f5f 77.5px,#6f6f6f,#787878,#7b7b7b,#777777,#6c6c6c,#5c5c5c 83.4px,#2e2e2e 85.4px,#111111,#0b0b0b,#282828 88.4px,#575757 90.4px,#686868,#737373,#787878,#777777,#6f6f6f,#626262 96.4px,#3b3b3b 98.4px,#090909 100.4px,#121212,#2a2a2a 102.4px,#4f4f4f 104.4px,#5b5b5b,#636363,#656565,#616161,#595959 109.4px,#3e3e3e 111.4px,#050505 114.4px,#0e0e0e 115.4px,#2d2d2d 117.4px,#383838 118.4px,#434343 120.4px,#444444,#414141 122.4px,#323232 124.4px,#030303 128.4px,#080808 129.4px,#1a1a1a 131.4px,#242424 133.4px,#262626 135.4px,#1b1b1b 138.4px,#020202 142.4px,#111111 146.4px,#131313 149.4px,#090909 153.4px,#020202 155.4px,#010101 156.4px,#060606 158.4px)"></i><i style="top:74.00px;height:1.50px;background:linear-gradient(90deg,#2a2a2a 0.5px,#1f1f1f 2.5px,#0a0a0a 4.5px,#050505 5.5px,#333333 8.5px,#4d4d4d 10.5px,#565656 11.5px,#5d5d5d 13.5px,#595959,#505050 15.5px,#313131 17.5px,#060606 19.5px,#191919 20.5px,#4d4d4d 22.5px,#646464,#777777,#858585,#8c8c8c,#8d8d8d,#868686,#787878,#646464,#494949 31.5px,#0c0c0c 33.5px,#1a1a1a 34.5px,#5b5b5b 36.5px,#8a8a8a 38.5px,#989898,#9e9e9e,#9c9c9c,#919191,#808080,#676767 44.5px,#080808 47.5px,#1d1d1d,#3f3f3f 49.5px,#727272 51.5px,#838383,#8c8c8c,#8d8d8d,#868686,#787878,#646464 57.5px,#2d2d2d 59.5px,#0e0e0e,#101010,#2f2f2f 62.5px,#5f5f5f 64.5px,#6f6f6f,#787878,#7a7a7a,#757575,#696969,#585858 70.5px,#272727 72.5px,#0a0a0a,#111111,#2e2e2e 75.5px,#5b5b5b 77.5px,#6b6b6b,#747474,#777777,#747474,#696969,#5a5a5a 83.4px,#2d2d2d 85.4px,#111111,#0a0a0a,#262626 88.4px,#545454 90.4px,#646464,#707070,#757575,#747474,#6d6d6d,#616161 96.4px,#3b3b3b 98.4px,#0b0b0b 100.4px,#0f0f0f 101.4px,#3a3a3a 103.4px,#4b4b4b,#585858,#606060,#636363,#606060,#595959 109.4px,#404040 111.4px,#1d1d1d 113.4px,#090909,#0a0a0a 115.4px,#292929 117.4px,#3d3d3d 119.4px,#434343 121.4px,#414141 122.4px,#343434 124.4px,#070707 128.4px,#040404 129.4px,#171717 131.4px,#222222 133.4px,#252525 135.4px,#212121 137.4px,#0a0a0a 141.4px,#040404,#030303 143.4px,#121212 147.4px,#111111 150.4px,#070707 154.4px,#010101 156.4px,#050505 158.4px)"></i><i style="top:75.00px;height:1.50px;background:linear-gradient(90deg,#272727 0.5px,#1a1a1a 2.5px,#040404 4.5px,#0a0a0a 5.5px,#444444 9.5px,#575757 11.5px,#5b5b5b,#5a5a5a,#555555,#4b4b4b,#3d3d3d,#2b2b2b,#141414,#070707,#1e1e1e,#393939 21.5px,#666666 23.5px,#777777,#848484,#8a8a8a,#898989,#828282,#737373,#5f5f5f,#454545 31.5px,#0a0a0a 33.5px,#1c1c1c 34.5px,#5a5a5a 36.5px,#878787 38.5px,#949494,#9a9a9a,#979797,#8d8d8d,#7c7c7c,#656565 44.5px,#090909 47.5px,#1a1a1a,#3b3b3b 49.5px,#6d6d6d 51.5px,#7d7d7d,#868686,#878787,#818181,#757575,#616161 57.5px,#2e2e2e 59.5px,#0f0f0f,#0d0d0d,#2b2b2b 62.5px,#595959 64.5px,#686868,#717171,#747474,#6f6f6f,#656565,#545454 70.5px,#262626 72.5px,#0a0a0a,#101010,#2b2b2b 75.5px,#575757 77.5px,#666666,#6f6f6f,#727272,#6f6f6f,#656565,#575757 83.4px,#2c2c2c 85.4px,#111111,#090909 87.4px,#3c3c3c 89.4px,#616161 91.4px,#6c6c6c,#717171,#717171,#6b6b6b,#606060 96.4px,#3c3c3c 98.4px,#0d0d0d 100.4px,#0c0c0c 101.4px,#363636 103.4px,#484848 104.4px,#5d5d5d 106.4px,#606060,#5f5f5f,#595959 109.4px,#414141 111.4px,#202020 113.4px,#0d0d0d,#060606 115.4px,#252525 117.4px,#3a3a3a 119.4px,#414141 121.4px,#3c3c3c 123.4px,#2c2c2c 125.4px,#0b0b0b 128.4px,#030303 129.4px,#1b1b1b 132.4px,#232323 134.4px,#242424 136.4px,#181818 139.4px,#010101 143.4px,#0e0e0e 146.4px,#121212 149.4px,#0b0b0b 153.4px,#010101 156.4px,#040404 158.4px)"></i><i style="top:76.00px;height:1.50px;background:linear-gradient(90deg,#252525 0.5px,#161616 2.5px,#030303 4.5px,#3b3b3b 8.5px,#515151 10.5px,#575757 11.5px,#585858 13.5px,#515151,#464646,#373737 16.5px,#0e0e0e 18.5px,#0b0b0b 19.5px,#3d3d3d 21.5px,#686868 23.5px,#777777,#828282,#878787,#858585,#7d7d7d,#6e6e6e,#5a5a5a,#414141,#222222,#090909,#1d1d1d 34.5px,#585858 36.5px,#707070,#848484,#909090,#959595,#939393,#898989,#797979,#626262 44.5px,#292929 46.5px,#090909,#171717,#373737 49.5px,#676767 51.5px,#767676,#7f7f7f,#818181,#7c7c7c,#707070,#5f5f5f 57.5px,#2e2e2e 59.5px,#111111,#0a0a0a,#272727 62.5px,#535353 64.5px,#626262,#6b6b6b,#6e6e6e,#6a6a6a,#606060,#505050 70.5px,#252525 72.5px,#0a0a0a,#0e0e0e,#292929 75.5px,#535353 77.5px,#616161,#6a6a6a,#6d6d6d,#6a6a6a,#616161,#535353 83.4px,#2a2a2a 85.4px,#111111,#080808 87.4px,#393939 89.4px,#4d4d4d,#5d5d5d,#686868,#6e6e6e,#6e6e6e,#686868,#5e5e5e 96.4px,#3c3c3c 98.4px,#101010 100.4px,#090909 101.4px,#333333 103.4px,#444444,#515151,#5a5a5a,#5e5e5e,#5d5d5d,#585858 109.4px,#434343 111.4px,#232323 113.4px,#101010,#040404 115.4px,#212121 117.4px,#363636 119.4px,#3d3d3d 120.4px,#404040 122.4px,#363636 124.4px,#252525 126.4px,#030303 129.4px,#070707 130.4px,#181818 132.4px,#222222 134.4px,#232323 136.4px,#1a1a1a 139.4px,#020202 143.4px,#030303 144.4px,#0f0f0f 147.4px,#111111 150.4px,#090909 154.4px,#010101 157.4px,#030303 158.4px)"></i><i style="top:77.00px;height:1.50px;background:linear-gradient(90deg,#212121 0.5px,#111111 2.5px,#050505,#070707 4.5px,#3f3f3f 8.5px,#525252 10.5px,#585858 12.5px,#555555,#4d4d4d,#414141 15.5px,#1e1e1e 17.5px,#090909,#101010 19.5px,#404040 21.5px,#696969 23.5px,#777777,#818181,#848484,#828282,#797979,#6a6a6a,#565656,#3d3d3d,#1f1f1f,#080808,#1e1e1e 34.5px,#575757 36.5px,#808080 38.5px,#8c8c8c,#909090,#8e8e8e,#858585,#757575,#606060 44.5px,#292929 46.5px,#0a0a0a,#141414,#323232 49.5px,#616161 51.5px,#707070,#797979,#7b7b7b,#777777,#6c6c6c,#5b5b5b 57.5px,#2e2e2e 59.5px,#121212,#070707,#222222 62.5px,#4d4d4d 64.5px,#5b5b5b,#646464,#676767,#636363,#5a5a5a,#4c4c4c 70.5px,#232323 72.5px,#0a0a0a,#0d0d0d,#262626 75.5px,#4e4e4e 77.5px,#5c5c5c,#646464,#686868,#656565,#5c5c5c,#4f4f4f 83.4px,#292929 85.4px,#101010,#070707 87.4px,#363636 89.4px,#595959 91.4px,#646464,#6a6a6a,#6a6a6a,#656565,#5c5c5c 96.4px,#3c3c3c 98.4px,#111111 100.4px,#070707 101.4px,#2f2f2f 103.4px,#404040,#4d4d4d,#565656,#5b5b5b,#5b5b5b,#575757 109.4px,#444444 111.4px,#030303 115.4px,#0e0e0e 116.4px,#292929 118.4px,#3a3a3a 120.4px,#3e3e3e 121.4px,#3c3c3c 123.4px,#2f2f2f 125.4px,#1c1c1c 127.4px,#070707 129.4px,#040404 130.4px,#151515 132.4px,#1f1f1f 134.4px,#222222 136.4px,#1b1b1b 139.4px,#040404 143.4px,#020202 144.4px,#0f0f0f 148.4px,#101010 151.4px,#010101 157.4px,#010101 158.4px)"></i><i style="top:78.00px;height:1.50px;background:linear-gradient(90deg,#1e1e1e 0.5px,#030303 3.5px,#0d0d0d 4.5px,#424242 8.5px,#525252 10.5px,#565656 11.5px,#515151 13.5px,#3c3c3c 15.5px,#191919 17.5px,#060606,#151515 19.5px,#434343 21.5px,#696969 23.5px,#767676,#7f7f7f,#818181,#7e7e7e,#757575 28.5px,#525252 30.5px,#393939,#1c1c1c,#070707 33.5px,#3a3a3a 35.5px,#555555 36.5px,#7c7c7c 38.5px,#878787,#8c8c8c,#8a8a8a,#818181,#727272,#5d5d5d 44.5px,#292929 46.5px,#0b0b0b,#111111,#2e2e2e 49.5px,#5a5a5a 51.5px,#696969,#727272,#757575,#717171,#676767,#585858 57.5px,#2e2e2e 59.5px,#141414,#050505,#1e1e1e 62.5px,#464646 64.5px,#545454,#5c5c5c,#5f5f5f,#5d5d5d,#555555,#474747 70.5px,#212121 72.5px,#0a0a0a,#0c0c0c,#242424 75.5px,#494949 77.5px,#565656,#5f5f5f,#626262,#5f5f5f,#575757,#4b4b4b 83.4px,#272727 85.4px,#101010,#070707 87.4px,#333333 89.4px,#464646,#555555,#606060,#666666,#666666,#626262,#595959 96.4px,#3b3b3b 98.4px,#131313 100.4px,#050505 101.4px,#2b2b2b 103.4px,#3c3c3c 104.4px,#535353 106.4px,#585858,#595959,#565656 109.4px,#444444 111.4px,#282828 113.4px,#060606 115.4px,#0a0a0a 116.4px,#252525 118.4px,#303030 119.4px,#3c3c3c 121.4px,#3b3b3b 123.4px,#313131 125.4px,#1f1f1f 127.4px,#0a0a0a 129.4px,#020202 130.4px,#181818 133.4px,#202020 135.4px,#212121 137.4px,#171717 140.4px,#020202 144.4px,#0e0e0e 148.4px,#101010 151.4px,#050505 156.4px,#010101 158.4px)"></i><i style="top:79.00px;height:1.50px;background:linear-gradient(90deg,#1a1a1a 0.5px,#070707 2.5px,#050505 3.5px,#393939 7.5px,#4c4c4c 9.5px,#525252 10.5px,#535353 12.5px,#4e4e4e 13.5px,#373737 15.5px,#131313 17.5px,#060606 18.5px,#464646 21.5px,#696969 23.5px,#757575,#7c7c7c,#7e7e7e,#7a7a7a,#707070,#616161,#4d4d4d 30.5px,#1a1a1a 32.5px,#070707 33.5px,#535353 36.5px,#787878 38.5px,#838383,#878787,#858585,#7c7c7c,#6e6e6e,#5b5b5b 44.5px,#292929 46.5px,#0d0d0d,#0e0e0e,#292929 49.5px,#545454 51.5px,#626262,#6b6b6b,#6e6e6e,#6b6b6b,#636363,#555555 57.5px,#2d2d2d 59.5px,#151515,#040404 61.5px,#2d2d2d 63.5px,#3f3f3f,#4c4c4c,#555555,#585858,#565656,#4e4e4e,#424242 70.5px,#1f1f1f 72.5px,#090909,#0b0b0b,#212121 75.5px,#444444 77.5px,#515151,#595959,#5c5c5c,#5a5a5a 81.4px,#474747 83.4px,#252525 85.4px,#0f0f0f,#060606 87.4px,#313131 89.4px,#434343 90.4px,#5c5c5c 92.4px,#616161,#626262,#5e5e5e,#565656 96.4px,#3a3a3a 98.4px,#141414 100.4px,#040404 101.4px,#383838 104.4px,#464646 105.4px,#555555 107.4px,#545454 109.4px,#444444 111.4px,#2a2a2a 113.4px,#090909 115.4px,#060606 116.4px,#212121 118.4px,#343434 120.4px,#3b3b3b 122.4px,#373737 124.4px,#2a2a2a 126.4px,#030303 130.4px,#060606 131.4px,#1b1b1b 134.4px,#202020 136.4px,#1f1f1f 138.4px,#0e0e0e 142.4px,#040404 144.4px,#020202 145.4px,#0e0e0e 149.4px,#0d0d0d 153.4px,#010101 158.4px)"></i><i style="top:80.00px;height:1.50px;background:linear-gradient(90deg,#161616 0.5px,#030303 2.5px,#0a0a0a 3.5px,#3c3c3c 7.5px,#4d4d4d 9.5px,#525252,#535353 11.5px,#4a4a4a 13.5px,#323232 15.5px,#0e0e0e 17.5px,#080808 18.5px,#484848 21.5px,#696969 23.5px,#747474,#7a7a7a,#7b7b7b,#767676,#6c6c6c,#5d5d5d,#4a4a4a 30.5px,#171717 32.5px,#070707 33.5px,#515151 36.5px,#757575 38.5px,#7e7e7e,#828282,#808080,#787878,#6b6b6b,#595959 44.5px,#2a2a2a 46.5px,#0f0f0f,#0b0b0b 48.5px,#3a3a3a 50.5px,#4d4d4d,#5b5b5b,#646464,#676767,#656565,#5e5e5e,#515151 57.5px,#2d2d2d 59.5px,#040404 61.5px,#383838 64.5px,#454545,#4d4d4d,#505050,#4f4f4f,#484848,#3d3d3d 70.5px,#1d1d1d 72.5px,#090909,#0a0a0a,#1f1f1f 75.5px,#404040 77.5px,#535353 79.5px,#545454 81.4px,#4d4d4d,#424242 83.4px,#222222 85.4px,#0d0d0d,#060606 87.4px,#2f2f2f 89.4px,#404040 90.4px,#575757 92.4px,#5d5d5d,#5e5e5e,#5b5b5b,#545454 96.4px,#393939 98.4px,#040404 101.4px,#353535 104.4px,#4c4c4c 106.4px,#525252,#545454,#525252 109.4px,#444444 111.4px,#2b2b2b 113.4px,#0d0d0d 115.4px,#040404 116.4px,#282828 119.4px,#363636 121.4px,#393939 123.4px,#323232 125.4px,#1a1a1a 128.4px,#060606 130.4px,#030303 131.4px,#181818 134.4px,#1e1e1e 136.4px,#1e1e1e 138.4px,#191919 140.4px,#010101 145.4px,#0d0d0d 149.4px,#0d0d0d 153.4px,#020202 158.4px)"></i><i style="top:81.00px;height:1.50px;background:linear-gradient(90deg,#121212 0.5px,#080808,#030303 2.5px,#3f3f3f 7.5px,#4e4e4e 9.5px,#515151 11.5px,#464646 13.5px,#2d2d2d 15.5px,#090909 17.5px,#0c0c0c 18.5px,#4a4a4a 21.5px,#696969 23.5px,#787878 25.5px,#787878,#727272,#686868,#595959,#464646 30.5px,#151515 32.5px,#060606 33.5px,#4f4f4f 36.5px,#717171 38.5px,#7a7a7a,#7e7e7e,#7c7c7c,#747474,#686868,#575757 44.5px,#2a2a2a 46.5px,#111111,#070707,#202020 49.5px,#474747 51.5px,#545454,#5d5d5d,#616161,#5f5f5f,#585858,#4d4d4d 57.5px,#2c2c2c 59.5px,#060606 61.5px,#101010 62.5px,#313131 64.5px,#3d3d3d,#454545,#484848,#474747 68.5px,#383838 70.5px,#1a1a1a 72.5px,#080808,#0a0a0a,#1d1d1d 75.5px,#3b3b3b 77.5px,#464646,#4d4d4d,#4f4f4f,#4d4d4d,#474747,#3d3d3d 83.4px,#1f1f1f 85.4px,#0c0c0c,#070707 87.4px,#2d2d2d 89.4px,#4a4a4a 91.4px,#595959 93.4px,#5a5a5a 94.4px,#515151 96.4px,#383838 98.4px,#040404 101.4px,#111111 102.4px,#323232 104.4px,#484848 106.4px,#515151 108.4px,#505050 109.4px,#444444 111.4px,#2d2d2d 113.4px,#030303 116.4px,#252525 119.4px,#333333 121.4px,#383838 123.4px,#323232 125.4px,#252525 127.4px,#090909 130.4px,#020202 131.4px,#151515 134.4px,#1e1e1e 137.4px,#1c1c1c 139.4px,#111111 142.4px,#030303 145.4px,#020202 146.4px,#0d0d0d 150.4px,#0b0b0b 154.4px,#030303 158.4px)"></i><i style="top:82.00px;height:1.50px;background:linear-gradient(90deg,#0e0e0e 0.5px,#040404,#070707 2.5px,#373737 6.5px,#494949 8.5px,#505050 10.5px,#4f4f4f 11.5px,#424242 13.5px,#282828 15.5px,#060606 17.5px,#111111 18.5px,#4c4c4c 21.5px,#696969 23.5px,#717171,#757575,#757575,#6f6f6f,#646464 28.5px,#434343 30.5px,#131313 32.5px,#070707 33.5px,#4c4c4c 36.5px,#6d6d6d 38.5px,#757575,#797979,#787878,#717171,#656565,#555555 44.5px,#2b2b2b 46.5px,#131313,#050505 48.5px,#2e2e2e 50.5px,#404040,#4d4d4d,#565656,#5a5a5a,#595959,#535353,#494949 57.5px,#2c2c2c 59.5px,#080808 61.5px,#0c0c0c 62.5px,#2b2b2b 64.5px,#363636,#3d3d3d 66.5px,#404040 68.5px,#3b3b3b,#323232 70.5px,#171717 72.5px,#070707,#090909,#1b1b1b 75.5px,#363636 77.5px,#474747 79.5px,#494949,#474747 81.4px,#383838 83.4px,#1c1c1c 85.4px,#0a0a0a,#070707 87.4px,#2b2b2b 89.4px,#464646 91.4px,#555555 93.4px,#545454 95.4px,#434343 97.4px,#262626 99.4px,#040404 101.4px,#0e0e0e 102.4px,#2e2e2e 104.4px,#454545 106.4px,#4e4e4e 108.4px,#4e4e4e 109.4px,#434343 111.4px,#2e2e2e 113.4px,#040404 116.4px,#0a0a0a 117.4px,#212121 119.4px,#313131 121.4px,#363636 123.4px,#323232 125.4px,#262626 127.4px,#040404 131.4px,#050505 132.4px,#171717 135.4px,#1d1d1d 138.4px,#131313 142.4px,#010101 146.4px,#0b0b0b 150.4px,#0c0c0c 153.4px,#040404 158.4px)"></i><i style="top:83.00px;height:1.50px;background:linear-gradient(90deg,#0a0a0a 0.5px,#030303 1.5px,#181818 3.5px,#3a3a3a 6.5px,#494949 8.5px,#4e4e4e 10.5px,#474747 12.5px,#323232 14.5px,#040404 17.5px,#4d4d4d 21.5px,#686868 23.5px,#737373 25.5px,#717171,#6b6b6b,#616161,#525252 29.5px,#2a2a2a 31.5px,#121212,#070707 33.5px,#353535 35.5px,#4a4a4a 36.5px,#696969 38.5px,#717171,#757575,#737373,#6d6d6d,#626262,#535353 44.5px,#2c2c2c 46.5px,#151515,#040404 48.5px,#3a3a3a 51.5px,#4f4f4f 53.5px,#535353,#535353 55.5px,#464646 57.5px,#2b2b2b 59.5px,#0a0a0a 61.5px,#070707 62.5px,#242424 64.5px,#353535 66.5px,#393939 67.5px,#343434 69.5px,#212121 71.5px,#050505 73.5px,#090909 74.5px,#262626 76.5px,#3b3b3b 78.5px,#414141,#434343,#414141 81.4px,#333333 83.4px,#191919 85.4px,#080808,#080808 87.4px,#292929 89.4px,#434343 91.4px,#4c4c4c,#515151 93.4px,#505050 95.4px,#4a4a4a 96.4px,#353535 98.4px,#050505 101.4px,#0d0d0d 102.4px,#2b2b2b 104.4px,#383838 105.4px,#484848 107.4px,#4c4c4c,#4c4c4c 109.4px,#424242 111.4px,#2f2f2f 113.4px,#070707 116.4px,#060606 117.4px,#1d1d1d 119.4px,#2e2e2e 121.4px,#343434 123.4px,#313131 125.4px,#272727 127.4px,#070707 131.4px,#020202 132.4px,#141414 135.4px,#1a1a1a 137.4px,#1b1b1b 139.4px,#131313 142.4px,#030303 146.4px,#020202 147.4px,#0b0b0b 151.4px,#0a0a0a 155.4px,#050505 158.4px)"></i><i style="top:84.00px;height:1.50px;background:linear-gradient(90deg,#050505 0.5px,#050505 1.5px,#3c3c3c 6.5px,#4a4a4a 8.5px,#4d4d4d 10.5px,#4a4a4a 11.5px,#3a3a3a 13.5px,#1f1f1f 15.5px,#0d0d0d,#050505 17.5px,#3e3e3e 20.5px,#5c5c5c 22.5px,#676767 23.5px,#707070 25.5px,#6e6e6e,#686868,#5d5d5d 28.5px,#3d3d3d 30.5px,#101010 32.5px,#070707 33.5px,#333333 35.5px,#474747 36.5px,#656565 38.5px,#6d6d6d,#707070,#6f6f6f,#696969,#5f5f5f,#515151 44.5px,#2d2d2d 46.5px,#060606 48.5px,#111111 49.5px,#333333 51.5px,#484848 53.5px,#4d4d4d 55.5px,#424242 57.5px,#2b2b2b 59.5px,#0d0d0d 61.5px,#030303 62.5px,#1d1d1d 64.5px,#272727 65.5px,#313131 67.5px,#2d2d2d 69.5px,#1c1c1c 71.5px,#040404 73.5px,#090909 74.5px,#232323 76.5px,#363636 78.5px,#3d3d3d 80.4px,#363636 82.4px,#2e2e2e 83.4px,#161616 85.4px,#060606,#090909 87.4px,#282828 89.4px,#404040 91.4px,#4d4d4d 93.4px,#4c4c4c 95.4px,#474747 96.4px,#333333 98.4px,#161616 100.4px,#050505,#0b0b0b 102.4px,#282828 104.4px,#3e3e3e 106.4px,#494949 108.4px,#464646 110.4px,#393939 112.4px,#171717 115.4px,#0a0a0a,#040404 117.4px,#232323 120.4px,#2f2f2f 122.4px,#323232 124.4px,#2d2d2d 126.4px,#1a1a1a 129.4px,#020202 132.4px,#161616 136.4px,#1a1a1a 138.4px,#171717 141.4px,#010101 147.4px,#0b0b0b 152.4px,#090909 156.4px,#060606 158.4px)"></i></div>
<div class="cb" style="left:189.90px;top:151.00px;width:3.40px;height:85.00px;background:linear-gradient(180deg,#800000 0.0%,#ff0000 12.5%,#ff8000 25.0%,#ffff00 37.5%,#80ff80 50.0%,#00ffff 62.5%,#0080ff 75.0%,#0000ff 87.5%,#000080 100.0%)"></div>
<div class="hm" style="left:264.80px;top:151.00px;width:159.20px;height:85.00px"><i style="top:0.00px;height:1.50px;background:linear-gradient(90deg,#000000 0.5px,#000000 158.7px)"></i><i style="top:1.00px;height:1.50px;background:linear-gradient(90deg,#000000 0.5px,#000000 158.7px)"></i><i style="top:2.00px;height:1.50px;background:linear-gradient(90deg,#000000 0.5px,#000000 158.7px)"></i><i style="top:3.00px;height:1.50px;background:linear-gradient(90deg,#000000 0.5px,#010101 44.6px,#000000 158.7px)"></i><i style="top:4.00px;height:1.50px;background:linear-gradient(90deg,#000000 0.5px,#010101 35.5px,#020202 38.5px,#000000 42.6px,#040404 46.6px,#000000 50.6px,#010101 73.6px,#000000 158.7px)"></i><i style="top:5.00px;height:1.50px;background:linear-gradient(90deg,#000000 0.5px,#010101 35.5px,#040404 37.5px,#010101 41.6px,#060606 46.6px,#000000 50.6px,#010101 60.6px,#010101 64.6px,#020202 66.6px,#010101 72.6px,#020202 76.6px,#000000 87.6px,#010101 93.6px,#010101 123.7px,#010101 130.7px,#000000 158.7px)"></i><i style="top:6.00px;height:1.50px;background:linear-gradient(90deg,#000000 0.5px,#010101 33.5px,#030303 36.5px,#060606 37.5px,#020202 41.6px,#050505 45.6px,#090909 46.6px,#040404 48.6px,#000000 52.6px,#050505 56.6px,#010101 62.6px,#020202 64.6px,#050505 65.6px,#010101 70.6px,#040404 75.6px,#000000 78.6px,#010101 86.6px,#020202 89.6px,#040404,#020202,#040404 92.6px,#000000 96.6px,#010101 102.6px,#010101 108.6px,#030303 109.6px,#010101 112.6px,#010101 121.7px,#040404 124.7px,#010101 130.7px,#030303 132.7px,#000000 138.7px,#000000 158.7px)"></i><i style="top:7.00px;height:1.50px;background:linear-gradient(90deg,#000000 0.5px,#010101 19.5px,#030303 22.5px,#000000 27.5px,#030303 34.5px,#060606,#040404,#090909,#060606,#080808 39.5px,#030303 43.6px,#050505 45.6px,#0a0a0a,#060606 47.6px,#060606 49.6px,#020202 51.6px,#020202 53.6px,#050505,#040404,#080808,#040404,#080808,#030303,#040404 60.6px,#000000 62.6px,#030303 64.6px,#070707 65.6px,#020202 70.6px,#050505,#020202,#070707,#030303,#070707,#030303,#050505,#010101 78.6px,#040404 82.6px,#010101 87.6px,#040404,#030303,#060606,#030303,#070707,#030303,#040404,#010101 95.6px,#030303 103.6px,#040404 105.6px,#020202,#050505,#020202,#050505,#020202,#050505,#020202,#040404,#010101 114.6px,#020202 116.6px,#010101 119.7px,#020202 121.7px,#050505,#030303,#070707,#030303,#050505 126.7px,#020202 128.7px,#020202 130.7px,#050505 131.7px,#000000 138.7px,#030303 141.7px,#000000 147.7px,#000000 158.7px)"></i><i style="top:8.00px;height:1.50px;background:linear-gradient(90deg,#000000 0.5px,#010101 19.5px,#040404 22.5px,#020202,#040404 24.5px,#020202 28.5px,#010101 30.5px,#050505,#030303,#070707,#040404,#090909,#050505,#0b0b0b,#070707,#0b0b0b,#060606,#060606,#020202 42.6px,#050505 44.6px,#040404,#0b0b0b,#070707,#0b0b0b,#060606,#080808,#030303,#070707,#030303,#090909,#050505,#0c0c0c,#050505,#0a0a0a,#040404,#070707,#020202 61.6px,#050505 64.6px,#090909,#060606,#0a0a0a,#060606,#090909,#050505,#090909,#050505,#0b0b0b,#050505,#0b0b0b,#040404,#090909,#030303,#070707,#040404 80.6px,#060606 82.6px,#070707 84.6px,#040404,#070707,#030303,#080808,#030303,#0a0a0a,#040404,#090909,#030303,#070707,#020202,#050505 96.6px,#040404 98.6px,#060606 101.6px,#040404,#070707,#040404,#080808,#030303,#090909,#030303,#090909,#030303,#080808,#030303,#070707,#030303,#060606 115.6px,#040404 117.6px,#030303 119.7px,#060606,#030303,#080808,#040404,#090909,#040404,#080808,#030303,#060606,#030303 129.7px,#070707 133.7px,#030303 136.7px,#040404,#010101,#040404,#020202,#040404 141.7px,#000000 149.7px,#000000 158.7px)"></i><i style="top:9.00px;height:1.50px;background:linear-gradient(90deg,#000000 0.5px,#010101 18.5px,#050505 22.5px,#030303,#060606,#020202,#050505,#020202 27.5px,#050505 29.5px,#030303,#080808,#030303,#0a0a0a,#040404,#0a0a0a,#050505,#0c0c0c,#070707,#0d0d0d,#060606,#0b0b0b,#030303,#080808 43.6px,#060606 45.6px,#0c0c0c,#070707,#0d0d0d,#070707,#0d0d0d,#050505,#0d0d0d,#050505,#0e0e0e,#060606,#0f0f0f,#070707,#0d0d0d,#060606,#090909,#050505 61.6px,#0b0b0b 65.6px,#090909,#0d0d0d,#070707,#0d0d0d,#070707,#0d0d0d,#070707,#0f0f0f,#070707,#0f0f0f,#060606,#0d0d0d,#050505,#0c0c0c,#060606,#0a0a0a 81.6px,#080808 83.6px,#0b0b0b,#060606,#0b0b0b,#050505,#0c0c0c,#050505,#0d0d0d,#050505,#0c0c0c,#040404,#090909,#040404,#080808,#040404,#070707 98.6px,#060606 100.6px,#080808,#060606,#0a0a0a,#050505,#0b0b0b,#050505,#0d0d0d,#050505,#0c0c0c,#050505,#0b0b0b,#040404,#0a0a0a,#050505,#090909 115.6px,#060606 117.6px,#090909,#040404,#0a0a0a,#040404,#0b0b0b,#050505,#0c0c0c,#050505,#0b0b0b,#050505,#0a0a0a,#050505 129.7px,#080808 131.7px,#090909 133.7px,#060606,#090909,#040404,#070707,#020202,#060606,#020202,#060606,#030303 142.7px,#000000 156.7px,#000000 158.7px)"></i><i style="top:10.00px;height:1.50px;background:linear-gradient(90deg,#000000 0.5px,#010101 16.5px,#010101 18.5px,#040404 19.5px,#050505 21.5px,#060606,#030303,#070707,#030303,#070707,#030303,#070707 28.5px,#050505 30.5px,#0b0b0b,#040404,#0b0b0b,#040404,#080808,#050505,#0a0a0a,#070707,#0e0e0e,#060606,#0f0f0f,#050505,#0d0d0d,#090909 44.6px,#0c0c0c 46.6px,#080808,#0e0e0e,#070707,#0f0f0f,#070707,#0f0f0f,#060606,#111111,#070707,#111111,#080808,#0e0e0e,#080808,#0a0a0a,#070707,#090909,#070707,#0b0b0b 64.6px,#0a0a0a 66.6px,#0f0f0f,#080808,#0e0e0e,#070707,#0e0e0e,#080808,#111111,#070707,#121212,#070707,#101010,#070707,#0f0f0f,#080808,#0d0d0d 81.6px,#0a0a0a 83.6px,#0d0d0d,#070707,#0e0e0e,#060606,#0e0e0e,#050505,#0e0e0e,#050505,#0d0d0d,#050505,#0a0a0a,#050505,#090909,#050505,#080808 98.6px,#090909 101.6px,#070707,#0b0b0b,#070707,#0d0d0d,#060606,#0f0f0f,#050505,#0e0e0e,#050505,#0c0c0c,#050505,#0c0c0c,#060606,#0c0c0c 115.6px,#080808 117.6px,#0c0c0c,#060606,#0b0b0b,#050505,#0c0c0c,#050505,#0e0e0e,#050505,#0d0d0d,#060606,#0c0c0c,#070707,#0b0b0b 130.7px,#0a0a0a 132.7px,#0b0b0b,#060606,#0b0b0b,#040404,#090909,#030303,#080808,#030303,#060606,#030303 142.7px,#040404 144.7px,#000000 152.7px,#000000 158.7px)"></i><i style="top:11.00px;height:1.50px;background:linear-gradient(90deg,#000000 0.5px,#010101 15.5px,#020202 18.5px,#060606,#030303 20.5px,#070707 22.5px,#030303,#080808,#030303,#070707,#030303,#090909,#060606 29.5px,#0c0c0c 31.5px,#040404,#0a0a0a,#040404 34.5px,#050505 37.5px,#0e0e0e 39.5px,#060606,#111111,#060606,#0e0e0e,#090909 44.6px,#0c0c0c 46.6px,#070707,#0d0d0d,#070707,#0d0d0d,#060606,#0e0e0e,#060606,#101010,#060606,#111111,#080808,#0c0c0c 58.6px,#060606 61.6px,#050505 63.6px,#0c0c0c 64.6px,#0b0b0b 66.6px,#0f0f0f,#070707,#0c0c0c,#060606,#0b0b0b,#080808,#101010,#070707,#121212,#070707,#0f0f0f,#070707,#0e0e0e,#080808,#0d0d0d 81.6px,#090909 83.6px,#0e0e0e,#060606,#0d0d0d,#050505,#0d0d0d,#050505,#0d0d0d,#050505,#0b0b0b,#050505,#080808,#050505,#070707,#040404,#080808,#050505 99.6px,#090909 103.6px,#070707,#0d0d0d,#060606,#0f0f0f,#050505,#0d0d0d,#050505,#0a0a0a,#050505,#0b0b0b,#060606,#0c0c0c 115.6px,#080808 117.6px,#0c0c0c,#050505,#0b0b0b,#050505,#0a0a0a,#050505,#0d0d0d,#050505,#0d0d0d,#060606,#0b0b0b,#070707,#0a0a0a,#080808 131.7px,#0c0c0c 133.7px,#060606,#0c0c0c,#040404,#090909,#030303,#070707,#030303,#060606 141.7px,#040404 143.7px,#050505,#020202,#040404 146.7px,#000000 151.7px,#000000 158.7px)"></i><i style="top:12.00px;height:1.50px;background:linear-gradient(90deg,#010101 0.5px,#010101 15.5px,#060606 19.5px,#020202,#070707,#070707,#030303,#070707,#020202,#050505,#030303,#090909,#050505 29.5px,#0e0e0e 31.5px,#040404,#090909 33.5px,#040404 35.5px,#030303 37.5px,#0c0c0c,#0c0c0c,#060606,#101010,#060606,#0d0d0d 43.6px,#080808 45.6px,#0a0a0a,#050505,#090909,#050505,#090909,#050505,#0a0a0a,#050505,#0d0d0d,#050505,#0f0f0f,#090909 57.6px,#0a0a0a 59.6px,#030303 60.6px,#030303 63.6px,#0c0c0c,#070707 65.6px,#0e0e0e 67.6px,#040404,#070707,#030303 70.6px,#0d0d0d 73.6px,#060606,#101010,#060606,#0b0b0b,#050505,#0a0a0a,#060606,#0b0b0b 81.6px,#080808 83.6px,#0c0c0c,#040404,#0a0a0a,#040404,#0a0a0a,#040404,#0b0b0b,#040404,#080808 92.6px,#050505 94.6px,#030303 97.6px,#050505,#030303,#060606,#040404 101.6px,#0a0a0a 105.6px,#050505,#0e0e0e,#050505,#090909,#050505 110.6px,#030303 112.6px,#080808,#040404,#0c0c0c 115.6px,#070707 117.6px,#0b0b0b,#040404,#070707,#030303,#060606,#040404,#0a0a0a,#040404,#0b0b0b,#050505,#090909,#050505,#080808,#060606 131.7px,#0b0b0b 133.7px,#050505,#0b0b0b,#040404,#070707,#030303,#050505,#020202,#050505 141.7px,#030303 143.7px,#060606,#020202 145.7px,#030303 147.7px,#000000 153.7px,#000000 158.7px)"></i><i style="top:13.00px;height:1.50px;background:linear-gradient(90deg,#010101 0.5px,#000000 14.5px,#030303 16.5px,#010101 17.5px,#070707 19.5px,#020202,#080808,#070707,#020202,#050505 24.5px,#020202 26.5px,#030303,#090909,#040404 29.5px,#101010 31.5px,#050505 32.5px,#0e0e0e 34.5px,#0c0c0c,#040404,#070707,#101010 38.5px,#070707 40.6px,#0f0f0f,#050505,#0a0a0a 43.6px,#040404 45.6px,#070707,#030303,#050505,#020202,#050505,#030303 51.6px,#040404 53.6px,#090909,#040404,#0d0d0d 56.6px,#060606 58.6px,#0b0b0b 59.6px,#010101 61.6px,#020202 62.6px,#0c0c0c 64.6px,#050505 65.6px,#0e0e0e 67.6px,#050505 68.6px,#010101 70.6px,#030303,#0a0a0a,#0a0a0a,#050505,#0d0d0d,#060606 76.6px,#030303 78.6px,#050505,#030303,#090909 81.6px,#050505 83.6px,#090909,#030303,#050505,#020202,#050505,#030303,#080808,#030303 91.6px,#050505 93.6px,#020202 95.6px,#010101 97.6px,#030303,#010101 99.6px,#040404 102.6px,#020202,#070707 104.6px,#050505 106.6px,#0c0c0c,#050505 108.6px,#060606 110.6px,#010101 111.6px,#050505 113.6px,#030303,#0b0b0b 115.6px,#050505 117.6px,#0a0a0a,#030303 119.7px,#020202 122.7px,#070707 124.7px,#030303,#080808,#040404 127.7px,#030303 129.7px,#060606,#040404 131.7px,#090909 133.7px,#030303,#090909,#040404 136.7px,#010101 140.7px,#040404 141.7px,#030303 143.7px,#060606,#020202 145.7px,#040404 147.7px,#010101 148.7px,#020202 150.7px,#000000 154.7px,#000000 158.7px)"></i><i style="top:14.00px;height:1.50px;background:linear-gradient(90deg,#010101 0.5px,#010101 14.5px,#030303 16.5px,#020202,#070707,#070707,#020202,#080808,#080808,#020202 23.5px,#030303 26.5px,#080808 28.5px,#040404,#0f0f0f,#131313,#080808,#090909,#151515,#131313,#050505 36.5px,#141414 38.5px,#060606 40.6px,#0e0e0e,#060606 42.6px,#080808 44.6px,#020202,#050505 46.6px,#010101 48.6px,#010101 52.6px,#060606 54.6px,#040404,#0c0c0c 56.6px,#050505 58.6px,#0d0d0d,#0b0b0b,#030303 61.6px,#0e0e0e 63.6px,#0e0e0e,#040404 65.6px,#111111 67.6px,#020202 69.6px,#0e0e0e 72.6px,#050505 74.6px,#0c0c0c 75.6px,#010101 77.6px,#030303 80.6px,#080808 81.6px,#030303 83.6px,#080808 84.6px,#010101 86.6px,#030303 89.6px,#060606 90.6px,#030303 92.6px,#050505 93.6px,#010101 95.6px,#020202 103.6px,#070707 104.6px,#050505 106.6px,#0b0b0b 107.6px,#030303 109.6px,#070707 110.6px,#050505 112.6px,#020202 113.6px,#0c0c0c 115.6px,#040404 117.6px,#0a0a0a 118.6px,#020202 120.7px,#030303 122.7px,#060606 123.7px,#020202 125.7px,#060606 126.7px,#010101 128.7px,#020202 131.7px,#070707,#070707,#030303,#080808 135.7px,#010101 137.7px,#020202 139.7px,#030303 143.7px,#060606,#020202 145.7px,#050505 147.7px,#020202 149.7px,#010101 151.7px,#000000 158.7px)"></i><i style="top:15.00px;height:1.50px;background:linear-gradient(90deg,#010101 0.5px,#010101 13.5px,#040404 15.5px,#020202 16.5px,#080808 18.5px,#070707,#020202,#090909,#0a0a0a 22.5px,#020202 24.5px,#0b0b0b 27.5px,#060606,#060606,#141414,#171717,#090909,#0c0c0c,#1c1c1c,#191919,#070707 36.5px,#181818 38.5px,#050505 40.6px,#0d0d0d 41.6px,#030303 43.6px,#060606 44.6px,#020202 46.6px,#010101 48.6px,#000000 51.6px,#060606 53.6px,#030303,#060606,#0d0d0d 56.6px,#050505 58.6px,#0f0f0f,#0f0f0f,#050505 61.6px,#141414 63.6px,#121212,#050505 65.6px,#161616 67.6px,#121212,#060606,#080808,#111111,#121212 72.6px,#050505 74.6px,#0d0d0d,#0c0c0c 76.6px,#010101 78.6px,#090909 81.6px,#030303 83.6px,#070707,#070707 85.6px,#010101 87.6px,#060606 90.6px,#030303 92.6px,#060606 93.6px,#010101 95.6px,#030303 97.6px,#000000 101.6px,#070707 104.6px,#030303 105.6px,#0c0c0c 107.6px,#030303 109.6px,#0c0c0c 111.6px,#030303 113.6px,#0e0e0e 115.6px,#040404 117.6px,#0b0b0b,#0b0b0b 119.7px,#020202 121.7px,#070707,#080808 123.7px,#020202 125.7px,#050505 127.7px,#010101 130.7px,#080808 132.7px,#070707,#020202,#080808,#080808,#030303 137.7px,#040404 139.7px,#040404 141.7px,#010101 142.7px,#060606 144.7px,#030303 146.7px,#050505 147.7px,#010101 149.7px,#020202 151.7px,#000000 158.7px)"></i><i style="top:16.00px;height:1.50px;background:linear-gradient(90deg,#010101 0.5px,#000000 12.5px,#040404 15.5px,#010101 16.5px,#0a0a0a 18.5px,#030303 20.5px,#0a0a0a,#0d0d0d 22.5px,#020202 24.5px,#101010 26.5px,#0f0f0f,#050505,#0c0c0c,#1b1b1b,#1b1b1b,#090909,#101010,#222222,#1f1f1f,#090909,#101010,#1c1c1c,#141414,#040404,#0b0b0b,#0a0a0a,#030303 43.6px,#040404 45.6px,#010101 46.6px,#020202 48.6px,#000000 50.6px,#050505 52.6px,#020202 54.6px,#0e0e0e 56.6px,#080808,#070707,#121212,#121212,#060606,#0e0e0e,#1a1a1a,#161616,#060606 65.6px,#1d1d1d 67.6px,#191919,#090909,#0b0b0b,#181818,#181818 72.6px,#050505 74.6px,#101010,#121212 76.6px,#030303 78.6px,#0b0b0b 80.6px,#0b0b0b 81.6px,#030303 83.6px,#0a0a0a 85.6px,#020202 87.6px,#070707 89.6px,#070707,#030303 91.6px,#060606 93.6px,#010101 95.6px,#040404 98.6px,#010101 101.6px,#080808 103.6px,#070707,#020202 105.6px,#0e0e0e 107.6px,#0b0b0b,#030303,#0c0c0c,#101010 111.6px,#040404 113.6px,#0d0d0d,#111111 115.6px,#040404 117.6px,#0d0d0d,#0f0f0f 119.7px,#030303 121.7px,#090909,#0b0b0b 123.7px,#020202 125.7px,#080808 127.7px,#020202 130.7px,#0a0a0a 132.7px,#020202 134.7px,#080808,#0a0a0a 136.7px,#020202 138.7px,#070707 140.7px,#010101 142.7px,#060606 144.7px,#030303 146.7px,#040404 148.7px,#010101 149.7px,#030303 151.7px,#000000 153.7px,#000000 158.7px)"></i><i style="top:17.00px;height:1.50px;background:linear-gradient(90deg,#010101 0.5px,#010101 12.5px,#050505 14.5px,#020202 16.5px,#0b0b0b 18.5px,#030303 20.5px,#0d0d0d,#101010 22.5px,#030303 24.5px,#0f0f0f,#161616,#121212,#050505 28.5px,#222222 30.5px,#1f1f1f,#090909,#151515,#292929,#252525,#0c0c0c,#101010,#1f1f1f,#191919,#070707,#070707,#0c0c0c 42.6px,#020202 44.6px,#020202 50.6px,#060606 52.6px,#040404 54.6px,#0c0c0c,#0f0f0f,#060606,#0a0a0a,#161616,#141414,#060606 61.6px,#202020 63.6px,#1a1a1a,#080808 65.6px,#242424 67.6px,#202020,#0d0d0d,#0d0d0d,#1f1f1f,#202020 72.6px,#060606 74.6px,#131313,#181818,#121212,#050505,#080808,#101010,#0f0f0f 81.6px,#030303 83.6px,#0a0a0a,#0d0d0d,#0a0a0a,#020202 87.6px,#090909 89.6px,#090909,#040404,#030303,#070707,#070707,#020202 95.6px,#060606 98.6px,#010101 100.6px,#0a0a0a 103.6px,#030303 105.6px,#0c0c0c,#111111 107.6px,#040404 109.6px,#0f0f0f,#141414 111.6px,#050505 113.6px,#101010,#141414 115.6px,#040404 117.6px,#0e0e0e,#121212 119.7px,#030303 121.7px,#0b0b0b,#0e0e0e 123.7px,#030303 125.7px,#0b0b0b 127.7px,#0a0a0a,#040404,#030303,#0a0a0a,#0c0c0c 132.7px,#030303 134.7px,#0a0a0a,#0c0c0c 136.7px,#020202 138.7px,#090909 140.7px,#020202 142.7px,#070707 144.7px,#020202 146.7px,#060606 147.7px,#010101 149.7px,#040404 151.7px,#010101 154.7px,#000000 158.7px)"></i><i style="top:18.00px;height:1.50px;background:linear-gradient(90deg,#010101 0.5px,#010101 8.5px,#030303 12.5px,#060606 14.5px,#030303,#040404,#0b0b0b,#0c0c0c,#060606,#050505,#101010,#131313 22.5px,#050505 24.5px,#151515,#1c1c1c,#141414,#060606,#1a1a1a,#292929,#232323,#090909,#1a1a1a,#2f2f2f,#2b2b2b,#111111,#0e0e0e,#212121,#202020,#0f0f0f,#040404,#0c0c0c,#0a0a0a,#030303 44.6px,#010101 48.6px,#070707 51.6px,#020202 53.6px,#0f0f0f 55.6px,#0e0e0e,#050505 57.6px,#181818 59.6px,#141414,#060606 61.6px,#252525 63.6px,#1d1d1d,#080808 65.6px,#2c2c2c 67.6px,#282828,#111111,#0f0f0f,#252525,#282828 72.6px,#070707 74.6px,#161616,#1e1e1e,#181818,#080808,#0a0a0a,#141414,#141414 81.6px,#030303 83.6px,#0c0c0c,#111111,#0d0d0d,#040404,#060606,#0c0c0c,#0b0b0b,#050505,#030303,#080808,#080808,#030303,#030303 96.6px,#090909 98.6px,#020202 100.6px,#0c0c0c 102.6px,#0d0d0d,#070707,#050505,#0f0f0f,#131313 107.6px,#050505 109.6px,#111111,#171717 111.6px,#050505 113.6px,#121212,#171717,#101010,#050505,#101010,#151515,#0f0f0f,#040404 121.7px,#111111 123.7px,#0d0d0d,#040404 125.7px,#0e0e0e 127.7px,#0d0d0d,#050505,#050505,#0d0d0d,#0e0e0e 132.7px,#030303 134.7px,#0b0b0b,#0e0e0e 136.7px,#020202 138.7px,#0b0b0b 140.7px,#020202 142.7px,#080808 144.7px,#020202 146.7px,#060606 147.7px,#020202 150.7px,#040404 152.7px,#010101 154.7px,#000000 158.7px)"></i><i style="top:19.00px;height:1.50px;background:linear-gradient(90deg,#020202 0.5px,#010101 2.5px,#000000 6.5px,#020202 9.5px,#010101 11.5px,#070707 13.5px,#020202 15.5px,#0d0d0d 17.5px,#0d0d0d,#050505,#080808,#131313,#151515,#0a0a0a,#080808,#1a1a1a,#202020 26.5px,#090909 28.5px,#222222,#303030,#262626,#0a0a0a 32.5px,#353535 34.5px,#323232,#171717,#0c0c0c,#232323,#262626 39.5px,#060606 41.6px,#0c0c0c 43.6px,#020202 45.6px,#010101 48.6px,#080808 50.6px,#090909 51.6px,#030303 53.6px,#0c0c0c,#111111,#0d0d0d,#040404,#111111,#1a1a1a,#121212,#060606,#1c1c1c,#292929,#1f1f1f,#090909 65.6px,#333333 67.6px,#2f2f2f,#141414,#111111,#2b2b2b,#313131,#212121,#080808 74.6px,#242424 76.6px,#1f1f1f,#0c0c0c,#090909,#171717,#191919 81.6px,#040404 83.6px,#0e0e0e,#141414,#101010,#060606,#060606,#0d0d0d,#0d0d0d,#060606,#030303,#080808,#090909,#040404,#030303,#090909,#0b0b0b 98.6px,#020202 100.6px,#0f0f0f 102.6px,#0f0f0f,#070707,#070707,#131313,#151515 107.6px,#060606 109.6px,#141414,#191919 111.6px,#060606 113.6px,#141414,#1a1a1a,#121212,#050505,#111111,#181818,#121212,#050505 121.7px,#141414 123.7px,#101010,#050505,#090909,#111111,#101010,#070707,#050505,#0f0f0f,#111111 132.7px,#030303 134.7px,#0c0c0c,#101010 136.7px,#030303 138.7px,#0c0c0c 140.7px,#090909,#020202 142.7px,#080808 144.7px,#020202 146.7px,#060606 148.7px,#020202 150.7px,#040404 152.7px,#010101 154.7px,#030303 156.7px,#000000 158.7px)"></i><i style="top:20.00px;height:1.50px;background:linear-gradient(90deg,#020202 0.5px,#020202 7.5px,#030303 9.5px,#010101 10.5px,#080808 13.5px,#020202 15.5px,#0f0f0f 17.5px,#0d0d0d,#040404 19.5px,#151515 21.5px,#151515,#080808,#0d0d0d,#1f1f1f,#222222,#121212,#0d0d0d,#292929,#353535,#282828,#0a0a0a 32.5px,#3b3b3b 34.5px,#393939,#1d1d1d,#0b0b0b,#242424,#2c2c2c,#212121,#0d0d0d,#050505,#0d0d0d,#0c0c0c 44.6px,#010101 46.6px,#020202 48.6px,#0a0a0a 50.6px,#0a0a0a,#040404,#050505,#0f0f0f,#121212 55.6px,#050505 57.6px,#141414,#1a1a1a,#0f0f0f,#090909,#222222,#2c2c2c,#1f1f1f,#090909,#252525,#3a3a3a,#343434,#181818,#121212,#303030,#383838,#282828,#0a0a0a 74.6px,#292929 76.6px,#262626,#121212,#080808,#191919,#1d1d1d,#141414,#040404 83.6px,#171717 85.6px,#131313,#080808,#050505,#0e0e0e,#0f0f0f 90.6px,#030303 92.6px,#0a0a0a 94.6px,#030303 96.6px,#0a0a0a,#0c0c0c 98.6px,#030303 100.6px,#0d0d0d,#121212,#101010,#060606,#0a0a0a,#151515,#161616,#0c0c0c,#070707,#161616,#1a1a1a 111.6px,#060606 113.6px,#151515,#1b1b1b,#131313,#050505,#111111,#191919,#141414,#050505 121.7px,#151515 123.7px,#121212,#060606,#090909,#121212,#121212,#070707,#060606,#111111,#131313 132.7px,#030303 134.7px,#0d0d0d,#111111,#0d0d0d,#030303 138.7px,#0c0c0c 140.7px,#0a0a0a,#030303 142.7px,#080808 144.7px,#010101 146.7px,#060606 148.7px,#010101 150.7px,#050505 152.7px,#010101 154.7px,#030303 157.7px,#010101 158.7px)"></i><i style="top:21.00px;height:1.50px;background:linear-gradient(90deg,#020202 0.5px,#010101 6.5px,#040404 8.5px,#010101 10.5px,#080808 12.5px,#080808,#040404,#040404,#0c0c0c,#101010,#0c0c0c,#040404 19.5px,#171717 21.5px,#141414,#060606,#121212,#222222,#222222,#0e0e0e,#131313,#2f2f2f,#393939,#292929,#0a0a0a 32.5px,#414141 34.5px,#404040 35.5px,#0a0a0a 37.5px,#232323,#313131,#2a2a2a 40.6px,#040404 42.6px,#0b0b0b,#0e0e0e 44.6px,#050505 46.6px,#030303 47.6px,#0b0b0b 50.6px,#090909,#030303 52.6px,#111111 54.6px,#121212,#080808,#080808,#161616,#181818,#0a0a0a,#0e0e0e,#262626,#2e2e2e 63.6px,#0a0a0a 65.6px,#2b2b2b,#404040,#393939,#1a1a1a,#131313,#343434,#3f3f3f,#2f2f2f,#0e0e0e,#171717,#2c2c2c,#2b2b2b,#171717,#070707,#191919,#202020,#171717,#060606 83.6px,#181818 85.6px,#161616,#0b0b0b,#040404,#0e0e0e,#101010 90.6px,#030303 92.6px,#090909 94.6px,#040404,#040404,#0b0b0b,#0c0c0c,#060606,#040404,#0f0f0f,#141414,#101010,#050505 104.6px,#171717 106.6px,#171717,#0b0b0b,#080808,#171717,#1a1a1a 111.6px,#060606 113.6px,#151515,#1b1b1b,#141414,#050505,#111111,#191919,#151515,#060606,#0b0b0b,#151515,#131313,#060606,#080808,#121212,#121212,#080808,#060606,#111111,#141414 132.7px,#030303 134.7px,#0d0d0d,#121212,#0e0e0e,#040404,#060606,#0c0c0c,#0b0b0b,#040404,#030303,#060606 144.7px,#010101 146.7px,#050505 148.7px,#010101 150.7px,#050505 152.7px,#010101 154.7px,#040404 156.7px,#010101 158.7px)"></i><i style="top:22.00px;height:1.50px;background:linear-gradient(90deg,#020202 0.5px,#010101 2.5px,#020202 6.5px,#040404 8.5px,#020202 10.5px,#090909 12.5px,#080808,#030303 14.5px,#0e0e0e 16.5px,#101010 17.5px,#050505 19.5px,#101010,#161616,#101010,#060606 23.5px,#242424 25.5px,#1f1f1f,#0a0a0a,#1a1a1a,#353535,#3c3c3c,#292929,#0b0b0b 32.5px,#474747 34.5px,#474747,#2c2c2c,#0b0b0b,#222222,#353535,#343434,#232323,#0c0c0c,#060606,#0f0f0f 44.6px,#0c0c0c 46.6px,#090909 47.6px,#0c0c0c 50.6px,#030303 52.6px,#121212 54.6px,#101010,#050505,#0b0b0b,#161616,#141414,#070707,#151515,#2a2a2a,#2d2d2d,#191919,#0c0c0c,#313131,#454545,#3c3c3c,#1c1c1c,#131313,#373737,#444444,#353535,#121212,#141414,#2d2d2d,#2f2f2f 77.6px,#070707 79.6px,#171717,#212121,#1a1a1a,#080808,#0b0b0b,#181818,#181818 86.6px,#040404 88.6px,#0c0c0c,#0f0f0f,#0b0b0b,#030303 92.6px,#070707 94.6px,#030303,#050505,#0b0b0b,#0b0b0b,#040404,#060606,#111111,#151515,#0f0f0f,#050505 104.6px,#181818 106.6px,#161616,#0a0a0a,#080808,#161616,#191919 111.6px,#060606 113.6px,#141414,#1b1b1b,#131313,#050505 117.6px,#181818 119.7px,#151515,#070707,#090909,#131313,#121212,#070707,#070707,#111111,#121212,#080808,#060606,#111111,#141414 132.7px,#030303 134.7px,#121212 136.7px,#0f0f0f,#060606,#040404,#0b0b0b,#0b0b0b 141.7px,#020202 143.7px,#050505 145.7px,#020202 147.7px,#030303 149.7px,#010101 150.7px,#050505 152.7px,#010101 154.7px,#040404 157.7px,#020202 158.7px)"></i><i style="top:23.00px;height:1.50px;background:linear-gradient(90deg,#020202 0.5px,#010101 2.5px,#020202 6.5px,#030303 8.5px,#010101 9.5px,#0a0a0a 12.5px,#020202 14.5px,#0f0f0f 16.5px,#0e0e0e,#070707,#060606,#111111,#141414,#0b0b0b,#080808,#1a1a1a,#232323,#1a1a1a,#080808 27.5px,#3a3a3a 29.5px,#3e3e3e,#282828,#0c0c0c,#2f2f2f,#4d4d4d,#4e4e4e,#343434,#0e0e0e,#1f1f1f,#383838,#3d3d3d,#2f2f2f,#171717,#050505 43.6px,#141414 45.6px,#0f0f0f 49.6px,#0c0c0c,#050505,#050505,#0e0e0e,#121212,#0d0d0d,#040404 56.6px,#141414 58.6px,#070707 60.6px,#1c1c1c,#2d2d2d,#2b2b2b,#131313,#111111,#373737,#494949,#3f3f3f,#1d1d1d,#141414,#393939,#484848,#3b3b3b,#171717,#0f0f0f,#2b2b2b,#313131,#212121,#080808 79.6px,#202020 81.6px,#1c1c1c,#0b0b0b,#080808,#171717,#191919,#111111,#040404 88.6px,#0e0e0e 90.6px,#0c0c0c 91.6px,#010101 93.6px,#030303,#010101 95.6px,#0a0a0a 97.6px,#090909,#030303,#090909,#131313,#151515 102.6px,#040404 104.6px,#181818 106.6px,#151515,#090909,#080808,#151515,#171717 111.6px,#060606 113.6px,#131313,#191919,#121212,#050505 117.6px,#161616 119.7px,#141414,#070707,#070707,#111111,#101010,#070707,#060606,#0f0f0f,#101010,#070707,#060606,#101010,#131313,#0d0d0d,#030303 134.7px,#121212 136.7px,#101010 137.7px,#030303 139.7px,#090909,#0b0b0b 141.7px,#020202 143.7px,#040404 145.7px,#010101 147.7px,#030303 151.7px,#040404 153.7px,#010101 155.7px,#040404 157.7px,#020202 158.7px)"></i><i style="top:24.00px;height:1.50px;background:linear-gradient(90deg,#020202 0.5px,#010101 2.5px,#030303 6.5px,#020202 9.5px,#090909 11.5px,#090909 12.5px,#030303 14.5px,#0e0e0e 16.5px,#0c0c0c,#040404,#080808,#101010,#101010,#060606,#0d0d0d,#1c1c1c,#212121,#131313,#0a0a0a,#292929,#3e3e3e,#3e3e3e 30.5px,#0d0d0d 32.5px,#343434,#525252,#555555,#3b3b3b,#121212,#1d1d1d,#3b3b3b,#464646,#3c3c3c 41.6px,#0b0b0b 43.6px,#0b0b0b,#171717,#1c1c1c 46.6px,#191919 48.6px,#0c0c0c 50.6px,#040404 51.6px,#0f0f0f 53.6px,#101010 54.6px,#030303 56.6px,#0c0c0c,#0f0f0f,#070707,#0d0d0d,#222222,#2e2e2e,#272727,#0d0d0d,#191919,#3c3c3c,#4c4c4c,#404040,#1d1d1d,#141414,#393939,#4a4a4a,#3f3f3f,#1d1d1d,#0b0b0b,#282828,#313131,#252525,#0b0b0b,#0e0e0e,#1d1d1d,#1c1c1c,#0e0e0e,#060606,#141414,#191919,#131313,#070707,#050505,#0c0c0c,#0d0d0d 91.6px,#040404 93.6px,#030303 95.6px,#080808 97.6px,#030303 99.6px,#141414 101.6px,#141414 102.6px,#040404 104.6px,#101010,#171717,#141414,#080808,#080808,#131313,#151515 111.6px,#050505 113.6px,#111111,#161616,#111111,#050505 117.6px,#141414 119.7px,#121212,#080808,#050505,#0d0d0d,#0e0e0e,#060606,#050505,#0d0d0d,#0d0d0d,#050505,#060606,#0f0f0f,#121212,#0d0d0d,#030303 134.7px,#111111 136.7px,#111111 137.7px,#020202 139.7px,#0a0a0a 141.7px,#050505 143.7px,#010101 144.7px,#020202 146.7px,#010101 148.7px,#030303 153.7px,#010101 155.7px,#040404 157.7px,#030303 158.7px)"></i><i style="top:25.00px;height:1.50px;background:linear-gradient(90deg,#010101 0.5px,#000000 4.5px,#030303 7.5px,#010101 8.5px,#0a0a0a 11.5px,#030303 13.5px,#040404,#0b0b0b,#0d0d0d,#0a0a0a,#030303 18.5px,#0d0d0d 20.5px,#040404 22.5px,#1c1c1c 24.5px,#1c1c1c,#0b0b0b,#111111,#303030,#414141,#3d3d3d,#212121,#0f0f0f,#393939,#595959,#5b5b5b,#424242,#181818,#1a1a1a,#3e3e3e,#4f4f4f,#494949,#333333,#161616,#080808,#191919,#242424,#272727,#232323 48.6px,#040404 51.6px,#0f0f0f 53.6px,#0f0f0f 54.6px,#030303 56.6px,#090909 57.6px,#040404 59.6px,#272727 61.6px,#2d2d2d,#222222,#0a0a0a,#212121,#424242,#4f4f4f,#414141,#1d1d1d,#131313,#393939,#4b4b4b,#434343,#242424,#090909,#222222,#2f2f2f,#272727,#111111,#080808,#181818,#1a1a1a 82.6px,#050505 84.6px,#101010,#171717,#141414 87.6px,#030303 89.6px,#0d0d0d 91.6px,#070707 95.6px,#060606 97.6px,#020202 98.6px,#151515 101.6px,#141414 102.6px,#040404 104.6px,#0f0f0f,#151515,#121212,#070707,#060606,#101010,#121212 111.6px,#040404 113.6px,#0f0f0f,#131313,#0f0f0f,#040404 117.6px,#111111 119.7px,#101010 120.7px,#030303 122.7px,#090909,#0a0a0a 124.7px,#030303 126.7px,#090909,#0a0a0a,#030303,#060606,#0e0e0e,#111111,#0c0c0c,#030303 134.7px,#101010 136.7px,#111111 137.7px,#030303 139.7px,#0a0a0a 142.7px,#010101 145.7px,#030303 151.7px,#030303 153.7px,#010101 155.7px,#040404 157.7px,#030303 158.7px)"></i><i style="top:26.00px;height:1.50px;background:linear-gradient(90deg,#010101 0.5px,#020202 5.5px,#010101 8.5px,#080808 10.5px,#070707 12.5px,#020202 13.5px,#0a0a0a 15.5px,#0b0b0b 16.5px,#020202 18.5px,#080808 20.5px,#040404,#080808,#151515,#1b1b1b,#151515,#060606,#1c1c1c,#373737,#444444,#3b3b3b,#1c1c1c,#141414,#404040,#5f5f5f,#626262,#494949,#1d1d1d,#171717,#404040,#575757,#565656,#424242 42.6px,#070707 44.6px,#2b2b2b 46.6px,#313131,#2d2d2d,#222222 49.6px,#050505 51.6px,#0e0e0e 53.6px,#0d0d0d 54.6px,#020202 56.6px,#030303 58.6px,#0e0e0e,#1f1f1f,#2b2b2b,#2b2b2b 62.6px,#0a0a0a 64.6px,#484848 66.6px,#515151,#414141,#1d1d1d,#131313,#383838,#4c4c4c,#464646,#2a2a2a,#0a0a0a 75.6px,#2a2a2a 77.6px,#282828 78.6px,#060606 80.6px,#111111,#151515,#0f0f0f,#040404 84.6px,#151515 86.6px,#151515,#0e0e0e,#030303 89.6px,#0d0d0d 91.6px,#0f0f0f 93.6px,#090909 96.6px,#040404,#030303 98.6px,#121212 100.6px,#161616,#131313 102.6px,#040404 104.6px,#0e0e0e,#131313,#101010,#070707,#050505,#0d0d0d,#0e0e0e 111.6px,#040404 113.6px,#0c0c0c,#101010,#0d0d0d,#040404,#070707,#0e0e0e,#0e0e0e 120.7px,#020202 122.7px,#070707 124.7px,#020202 126.7px,#060606,#060606,#020202 129.7px,#0d0d0d 131.7px,#0f0f0f 132.7px,#030303 134.7px,#101010 136.7px,#111111,#0d0d0d,#050505,#030303 140.7px,#0a0a0a 142.7px,#000000 146.7px,#040404 152.7px,#010101 155.7px,#040404 157.7px,#030303 158.7px)"></i><i style="top:27.00px;height:1.50px;background:linear-gradient(90deg,#020202 0.5px,#020202 6.5px,#030303 8.5px,#090909 10.5px,#060606 12.5px,#020202 13.5px,#090909 15.5px,#060606 17.5px,#010101 18.5px,#040404 21.5px,#161616 23.5px,#171717,#0c0c0c,#0c0c0c,#272727,#3e3e3e,#464646,#383838,#151515,#1b1b1b,#484848,#676767,#696969,#505050,#232323,#161616,#424242,#5f5f5f,#636363,#515151,#303030,#0b0b0b,#181818,#303030,#3a3a3a,#383838,#2d2d2d 49.6px,#0a0a0a 51.6px,#050505,#0c0c0c,#0d0d0d 54.6px,#060606 56.6px,#060606,#0d0d0d 58.6px,#272727 60.6px,#2e2e2e,#282828,#131313,#101010,#333333,#4e4e4e,#545454,#424242,#1e1e1e,#121212,#373737,#4c4c4c,#494949,#313131,#101010,#111111,#242424,#272727,#1a1a1a,#080808,#080808,#0f0f0f,#0c0c0c,#040404 84.6px,#131313 86.6px,#141414,#0f0f0f,#060606,#050505 90.6px,#121212 92.6px,#131313 94.6px,#0a0a0a 96.6px,#030303,#060606 98.6px,#151515 100.6px,#171717,#131313,#090909,#040404,#0d0d0d,#111111,#0f0f0f 107.6px,#030303 109.6px,#090909,#0b0b0b 111.6px,#030303 113.6px,#0e0e0e 115.6px,#0b0b0b,#040404,#050505,#0b0b0b,#0d0d0d 120.7px,#010101 123.7px,#020202 125.7px,#030303 129.7px,#0d0d0d 131.7px,#0e0e0e 132.7px,#020202 134.7px,#0f0f0f 136.7px,#111111,#0e0e0e 138.7px,#020202 140.7px,#0a0a0a 142.7px,#0b0b0b 143.7px,#010101 147.7px,#050505 151.7px,#010101 155.7px,#040404 158.7px)"></i><i style="top:28.00px;height:1.50px;background:linear-gradient(90deg,#020202 0.5px,#030303 5.5px,#020202 7.5px,#0a0a0a 10.5px,#060606 12.5px,#010101 13.5px,#070707 15.5px,#020202 19.5px,#050505 20.5px,#131313 22.5px,#161616,#111111,#060606,#181818,#323232,#454545,#474747,#333333,#101010,#252525,#515151,#6f6f6f,#707070,#565656,#272727,#151515,#454545,#676767,#6f6f6f,#5f5f5f,#3e3e3e,#131313,#141414,#333333,#424242,#434343,#393939 49.6px,#131313 51.6px,#040404 52.6px,#0c0c0c 54.6px,#0e0e0e 56.6px,#121212 57.6px,#2f2f2f 60.6px,#303030,#232323,#0b0b0b,#1a1a1a,#3c3c3c,#535353,#575757,#434343,#1f1f1f,#111111,#363636,#4c4c4c,#4c4c4c,#383838,#191919,#0a0a0a,#1d1d1d,#242424,#1d1d1d 79.6px,#030303 81.6px,#080808,#080808,#030303 84.6px,#111111 86.6px,#131313,#101010,#070707,#040404 90.6px,#151515 92.6px,#181818 94.6px,#0c0c0c 96.6px,#030303,#080808,#121212,#181818,#181818,#141414 102.6px,#030303 104.6px,#101010 106.6px,#0e0e0e 107.6px,#020202 109.6px,#070707 111.6px,#030303 113.6px,#0b0b0b 115.6px,#090909,#030303,#030303 118.6px,#0c0c0c 120.7px,#010101 124.7px,#000000 127.7px,#0d0d0d 131.7px,#080808 133.7px,#020202 134.7px,#0f0f0f 136.7px,#121212 137.7px,#090909 139.7px,#020202 140.7px,#0b0b0b 142.7px,#0b0b0b 144.7px,#010101 147.7px,#060606 151.7px,#010101 155.7px,#040404 158.7px)"></i><i style="top:29.00px;height:1.50px;background:linear-gradient(90deg,#030303 0.5px,#040404 4.5px,#010101 6.5px,#0a0a0a 10.5px,#060606 12.5px,#020202 13.5px,#070707 17.5px,#090909 19.5px,#161616 22.5px,#141414,#090909,#0b0b0b 25.5px,#3d3d3d 27.5px,#4b4b4b,#474747,#2e2e2e,#0d0d0d,#2f2f2f,#5b5b5b,#777777,#777777,#5b5b5b,#2a2a2a,#151515,#494949,#6f6f6f,#7b7b7b,#6e6e6e,#4d4d4d,#1e1e1e,#101010,#343434,#494949,#4f4f4f,#474747 49.6px,#202020 51.6px,#0c0c0c,#040404 53.6px,#131313 55.6px,#202020 57.6px,#333333 59.6px,#373737,#313131 61.6px,#080808 63.6px,#242424,#454545,#5a5a5a,#5b5b5b,#454545,#202020,#101010,#343434,#4d4d4d,#505050,#3f3f3f 74.6px,#080808 76.6px,#202020 78.6px,#1f1f1f 79.6px,#0a0a0a 81.6px,#020202 82.6px,#020202 84.6px,#101010 86.6px,#121212,#0f0f0f,#070707,#040404 90.6px,#181818 92.6px,#1d1d1d,#1c1c1c,#171717 95.6px,#030303 97.6px,#0a0a0a,#151515,#1a1a1a,#1a1a1a,#151515 102.6px,#030303 104.6px,#0e0e0e 106.6px,#0e0e0e 107.6px,#030303 109.6px,#010101 112.6px,#090909 115.6px,#080808,#030303,#030303 118.6px,#0b0b0b 120.7px,#090909 122.7px,#010101 125.7px,#030303 127.7px,#0d0d0d 130.7px,#0c0c0c 132.7px,#020202 134.7px,#101010 136.7px,#121212,#101010 138.7px,#030303 140.7px,#050505,#0b0b0b 142.7px,#0d0d0d 144.7px,#010101 147.7px,#070707 150.7px,#040404 153.7px,#010101 155.7px,#050505 157.7px,#040404 158.7px)"></i><i style="top:30.00px;height:1.50px;background:linear-gradient(90deg,#040404 0.5px,#040404 4.5px,#010101 6.5px,#0b0b0b 9.5px,#0a0a0a 11.5px,#010101 14.5px,#101010 19.5px,#181818 21.5px,#171717 22.5px,#050505 24.5px,#181818,#333333,#474747,#505050,#464646,#272727,#0e0e0e 31.5px,#666666 33.5px,#808080,#7e7e7e,#606060,#2d2d2d,#161616,#4c4c4c,#777777,#878787,#7c7c7c,#5b5b5b,#2a2a2a,#0e0e0e,#333333,#4f4f4f,#5b5b5b,#565656,#454545,#303030,#171717,#050505,#0d0d0d 54.6px,#313131 57.6px,#404040 59.6px,#3e3e3e,#323232,#191919,#0a0a0a,#2f2f2f,#4e4e4e,#616161,#5f5f5f,#484848,#232323,#0e0e0e,#333333,#4d4d4d,#535353,#464646,#2e2e2e,#0f0f0f,#0b0b0b,#1b1b1b,#202020,#1c1c1c 80.6px,#0b0b0b 82.6px,#070707 83.6px,#0c0c0c 85.6px,#111111 87.6px,#0e0e0e,#050505,#060606 90.6px,#1b1b1b 92.6px,#212121,#202020,#1a1a1a 95.6px,#030303 97.6px,#171717 99.6px,#1d1d1d,#1d1d1d 101.6px,#0e0e0e 103.6px,#040404 104.6px,#0c0c0c 106.6px,#0b0b0b 108.6px,#030303 110.6px,#010101 112.6px,#070707 115.6px,#020202 117.6px,#030303 118.6px,#0b0b0b 120.7px,#0b0b0b 122.7px,#010101 126.7px,#0f0f0f 130.7px,#0c0c0c 132.7px,#050505,#030303 134.7px,#111111 136.7px,#131313 137.7px,#0c0c0c 139.7px,#040404,#040404 141.7px,#0e0e0e 143.7px,#0c0c0c 145.7px,#020202 147.7px,#090909 151.7px,#010101 155.7px,#050505 158.7px)"></i><i style="top:31.00px;height:1.50px;background:linear-gradient(90deg,#050505 0.5px,#060606 3.5px,#010101 5.5px,#060606 7.5px,#0c0c0c 9.5px,#0b0b0b 11.5px,#010101 14.5px,#1c1c1c 20.5px,#1c1c1c,#161616,#090909,#0c0c0c 24.5px,#404040 26.5px,#515151,#535353,#434343,#1f1f1f,#131313,#474747,#717171,#898989,#858585,#646464,#2f2f2f,#171717,#505050,#7f7f7f,#939393,#8a8a8a,#6a6a6a,#373737,#0e0e0e 45.6px,#545454 47.6px,#666666,#676767,#585858,#424242 51.6px,#0b0b0b 53.6px,#0e0e0e 54.6px,#353535 56.6px,#434343,#4c4c4c,#4e4e4e,#464646,#333333,#141414,#111111,#393939,#585858,#696969,#656565,#4c4c4c,#262626,#0d0d0d,#313131,#4e4e4e,#575757,#4e4e4e,#393939,#1b1b1b,#060606,#151515,#1f1f1f,#202020 80.6px,#111111 83.6px,#101010 87.6px,#030303 89.6px,#090909 90.6px,#1f1f1f 92.6px,#242424,#242424 94.6px,#111111 96.6px,#040404,#0c0c0c,#191919,#1f1f1f,#202020,#1b1b1b 102.6px,#070707 104.6px,#040404 105.6px,#0d0d0d 107.6px,#050505 111.6px,#060606 115.6px,#010101 117.6px,#0e0e0e 121.7px,#0b0b0b 123.7px,#030303 125.7px,#020202 126.7px,#101010 129.7px,#101010 131.7px,#050505 133.7px,#040404 134.7px,#121212 136.7px,#141414 137.7px,#0d0d0d 139.7px,#050505,#030303 141.7px,#0f0f0f 143.7px,#0e0e0e 145.7px,#040404 147.7px,#020202 148.7px,#090909 150.7px,#080808 152.7px,#010101 155.7px,#050505 158.7px)"></i><i style="top:32.00px;height:1.50px;background:linear-gradient(90deg,#070707 0.5px,#070707 3.5px,#010101 5.5px,#080808 7.5px,#0e0e0e 9.5px,#0d0d0d 11.5px,#010101 14.5px,#202020 19.5px,#222222,#1e1e1e 21.5px,#060606 23.5px,#181818 24.5px,#4d4d4d 26.5px,#595959,#565656,#404040,#161616,#1d1d1d,#545454,#7d7d7d,#939393,#8c8c8c,#686868,#303030,#181818,#555555,#888888,#9e9e9e,#999999,#797979 43.6px,#121212 45.6px,#2e2e2e,#585858,#727272,#787878,#6d6d6d,#555555 51.6px,#131313 53.6px,#0f0f0f 54.6px,#444444 56.6px,#565656,#5f5f5f,#5d5d5d,#4f4f4f,#353535,#101010,#1a1a1a,#444444,#626262,#717171,#6c6c6c,#515151,#2a2a2a,#0d0d0d 70.6px,#4f4f4f 72.6px,#5c5c5c,#575757,#444444 75.6px,#0c0c0c 77.6px,#0d0d0d,#1d1d1d,#242424 80.6px,#212121 82.6px,#101010 87.6px,#030303 89.6px,#1a1a1a 91.6px,#232323,#282828,#272727,#1f1f1f 95.6px,#040404 97.6px,#0d0d0d,#1a1a1a,#212121,#232323,#1e1e1e 102.6px,#030303 105.6px,#0d0d0d 107.6px,#0d0d0d 109.6px,#080808 113.6px,#010101 117.6px,#0e0e0e 120.7px,#101010 122.7px,#090909 124.7px,#030303,#030303 126.7px,#0f0f0f 128.7px,#141414 130.7px,#0c0c0c 132.7px,#040404,#050505 134.7px,#131313 136.7px,#141414 138.7px,#060606 140.7px,#030303 141.7px,#0f0f0f 143.7px,#111111 144.7px,#0b0b0b 146.7px,#020202 148.7px,#090909 150.7px,#0a0a0a 152.7px,#010101 155.7px,#060606 158.7px)"></i><i style="top:33.00px;height:1.50px;background:linear-gradient(90deg,#080808 0.5px,#090909 2.5px,#010101 5.5px,#111111 9.5px,#101010 11.5px,#020202 14.5px,#242424 18.5px,#282828,#272727,#1e1e1e,#0e0e0e,#0b0b0b 23.5px,#434343 25.5px,#595959,#616161,#575757,#3b3b3b,#0f0f0f,#2a2a2a,#616161,#898989,#9c9c9c,#929292,#6b6b6b,#303030,#1a1a1a,#5b5b5b,#909090,#aaaaaa,#a6a6a6,#888888,#525252,#171717,#2b2b2b,#5c5c5c,#7e7e7e,#898989,#818181,#696969 51.6px,#1c1c1c 53.6px,#101010,#343434,#545454,#686868,#717171,#6c6c6c,#585858,#383838,#0f0f0f,#222222,#4e4e4e,#6d6d6d,#7a7a7a,#747474,#585858,#303030,#0d0d0d 70.6px,#505050 72.6px,#606060,#606060,#505050 75.6px,#181818 77.6px,#070707,#1a1a1a,#272727,#2c2c2c 81.6px,#292929 83.6px,#191919 86.6px,#070707 88.6px,#060606 89.6px,#202020 91.6px,#292929,#2d2d2d,#2b2b2b,#222222 95.6px,#050505 97.6px,#0d0d0d,#1b1b1b,#242424,#262626,#222222 102.6px,#0f0f0f 104.6px,#040404,#060606,#0d0d0d 107.6px,#111111 109.6px,#060606 115.6px,#020202,#020202 117.6px,#101010 120.7px,#121212 122.7px,#0a0a0a 124.7px,#030303,#040404 126.7px,#121212 128.7px,#161616 130.7px,#131313 131.7px,#040404 133.7px,#060606 134.7px,#141414 136.7px,#171717,#151515 138.7px,#070707 140.7px,#030303 141.7px,#0f0f0f 143.7px,#121212 144.7px,#0d0d0d 146.7px,#020202 148.7px,#0b0b0b 151.7px,#080808 153.7px,#010101 155.7px,#060606 158.7px)"></i><i style="top:34.00px;height:1.50px;background:linear-gradient(90deg,#0a0a0a 0.5px,#080808 3.5px,#020202 5.5px,#141414 9.5px,#121212 11.5px,#0e0e0e,#060606,#030303 14.5px,#252525 17.5px,#2c2c2c,#2e2e2e,#2a2a2a,#1c1c1c,#080808,#161616 23.5px,#505050 25.5px,#646464,#676767,#575757,#343434,#0d0d0d,#373737,#6f6f6f,#959595,#a5a5a5,#989898,#6d6d6d,#303030,#1d1d1d,#616161,#999999,#b5b5b5,#b4b4b4,#969696,#5f5f5f,#1f1f1f,#272727,#5f5f5f,#898989,#9a9a9a,#969696,#7e7e7e,#545454,#252525,#111111,#3c3c3c,#626262,#7b7b7b,#848484,#7c7c7c,#626262,#3b3b3b,#0f0f0f,#292929,#575757,#777777,#848484,#7d7d7d,#606060 68.6px,#0d0d0d 70.6px,#2b2b2b,#515151,#656565,#696969,#5c5c5c,#424242 76.6px,#080808 78.6px,#161616,#282828,#333333,#373737,#363636,#313131 84.6px,#1f1f1f 86.6px,#060606 88.6px,#0a0a0a 89.6px,#262626 91.6px,#2f2f2f,#333333,#2f2f2f,#252525,#171717,#050505,#0d0d0d,#1d1d1d,#262626,#2a2a2a,#272727 102.6px,#141414 104.6px,#070707,#040404 106.6px,#111111 108.6px,#141414 110.6px,#0b0b0b 114.6px,#020202 116.6px,#040404 117.6px,#131313 120.7px,#141414 122.7px,#0b0b0b 124.7px,#030303,#060606 126.7px,#141414 128.7px,#181818,#181818 130.7px,#0d0d0d 132.7px,#040404,#070707 134.7px,#161616 136.7px,#181818 137.7px,#111111 139.7px,#020202 141.7px,#101010 143.7px,#131313 144.7px,#0e0e0e 146.7px,#020202 148.7px,#0b0b0b 151.7px,#0a0a0a 153.7px,#020202 155.7px,#010101 156.7px,#060606 158.7px)"></i><i style="top:35.00px;height:1.50px;background:linear-gradient(90deg,#0b0b0b 0.5px,#0b0b0b 2.5px,#040404 4.5px,#030303 5.5px,#141414 8.5px,#171717 10.5px,#0e0e0e 12.5px,#050505,#070707 14.5px,#222222 16.5px,#2d2d2d,#333333,#333333,#2a2a2a 20.5px,#070707 22.5px,#222222,#424242,#5e5e5e,#6d6d6d,#6b6b6b,#545454,#2d2d2d,#101010 30.5px,#7c7c7c 32.5px,#a0a0a0,#adadad,#9d9d9d,#6f6f6f,#2e2e2e,#212121,#676767,#a2a2a2,#c1c1c1,#c1c1c1,#a3a3a3,#6b6b6b,#272727,#242424,#636363,#939393,#aaaaaa,#a9a9a9,#919191,#646464,#2f2f2f,#121212 54.6px,#6f6f6f 56.6px,#8c8c8c,#959595,#8b8b8b,#6c6c6c,#404040,#101010,#2e2e2e,#606060,#818181,#8e8e8e,#868686,#686868 68.6px,#0f0f0f 70.6px,#282828,#525252,#6a6a6a,#727272,#686868,#505050 76.6px,#0f0f0f 78.6px,#111111,#292929,#3a3a3a,#424242,#434343,#3d3d3d 84.6px,#262626 86.6px,#060606 88.6px,#0e0e0e 89.6px,#2d2d2d 91.6px,#363636,#393939,#343434,#292929 95.6px,#060606 97.6px,#0d0d0d,#1e1e1e,#292929,#2e2e2e,#2c2c2c 102.6px,#191919 104.6px,#0c0c0c,#030303 106.6px,#131313 108.6px,#191919 110.6px,#161616 112.6px,#020202 116.6px,#161616 120.7px,#181818 121.7px,#121212 123.7px,#030303 125.7px,#070707 126.7px,#171717 128.7px,#1a1a1a 130.7px,#161616 131.7px,#040404 133.7px,#070707 134.7px,#171717 136.7px,#181818 138.7px,#030303 141.7px,#131313 144.7px,#101010 146.7px,#030303 148.7px,#030303 149.7px,#0b0b0b 151.7px,#0b0b0b 153.7px,#010101 156.7px,#060606 158.7px)"></i><i style="top:36.00px;height:1.50px;background:linear-gradient(90deg,#0d0d0d 0.5px,#0c0c0c 2.5px,#030303 4.5px,#040404 5.5px,#181818 8.5px,#1b1b1b 9.5px,#161616 11.5px,#040404 13.5px,#0c0c0c 14.5px,#2a2a2a 16.5px,#353535,#3a3a3a,#363636,#292929,#111111,#0d0d0d 22.5px,#505050 24.5px,#6a6a6a,#757575,#6d6d6d,#515151,#242424,#181818,#535353,#8a8a8a,#acacac,#b5b5b5,#a1a1a1,#707070,#2c2c2c,#252525,#6f6f6f,#acacac,#cccccc,#cdcdcd,#b0b0b0,#767676,#2f2f2f,#212121,#666666,#9d9d9d,#b9b9b9,#bbbbbb,#a3a3a3,#737373,#383838,#131313 54.6px,#7b7b7b 56.6px,#9b9b9b,#a5a5a5,#999999,#777777,#464646,#111111,#323232,#676767,#8a8a8a,#999999,#919191,#727272,#464646,#121212,#252525,#535353,#6f6f6f,#7b7b7b,#747474,#5e5e5e,#3e3e3e,#191919,#0c0c0c,#292929,#3f3f3f,#4c4c4c,#4f4f4f,#4b4b4b,#3f3f3f,#2f2f2f 86.6px,#070707 88.6px,#111111 89.6px,#343434 91.6px,#3d3d3d,#404040,#3a3a3a,#2e2e2e 95.6px,#080808 97.6px,#0d0d0d,#1f1f1f,#2b2b2b,#323232,#313131,#2a2a2a,#1f1f1f 104.6px,#040404 106.6px,#0a0a0a 107.6px,#1b1b1b 109.6px,#1e1e1e 111.6px,#161616 113.6px,#020202 116.6px,#161616 119.7px,#1b1b1b 121.7px,#191919 122.7px,#0c0c0c 124.7px,#030303,#080808 126.7px,#191919 128.7px,#1d1d1d,#1c1c1c,#171717 131.7px,#040404 133.7px,#070707 134.7px,#181818 136.7px,#191919 138.7px,#030303 141.7px,#131313 144.7px,#141414 145.7px,#0c0c0c 147.7px,#050505,#020202 149.7px,#0b0b0b 151.7px,#0b0b0b 153.7px,#010101 156.7px,#050505 158.7px)"></i><i style="top:37.00px;height:1.50px;background:linear-gradient(90deg,#0e0e0e 0.5px,#0c0c0c 2.5px,#020202 4.5px,#0e0e0e 6.5px,#1b1b1b 8.5px,#1e1e1e,#1c1c1c,#161616 11.5px,#040404 13.5px,#121212,#242424,#323232,#3c3c3c,#3f3f3f,#373737,#262626,#0b0b0b,#181818,#3d3d3d,#5d5d5d,#747474,#7b7b7b,#6d6d6d,#4b4b4b,#1a1a1a,#252525,#616161,#979797,#b6b6b6,#bcbcbc,#a4a4a4,#6f6f6f,#292929,#2b2b2b,#767676,#b5b5b5,#d6d6d6,#d9d9d9,#bbbbbb,#7f7f7f,#353535,#202020,#696969,#a5a5a5,#c6c6c6,#cacaca,#b3b3b3,#808080,#414141,#141414 54.6px,#848484 56.6px,#a7a7a7,#b4b4b4,#a7a7a7,#818181,#4d4d4d,#131313,#333333,#6c6c6c,#929292,#a2a2a2,#9b9b9b,#7c7c7c,#4e4e4e,#161616,#222222,#535353,#747474,#838383,#808080,#6b6b6b,#4b4b4b,#232323,#0a0a0a 79.6px,#444444 81.6px,#555555,#5b5b5b,#585858,#4b4b4b,#383838 86.6px,#080808 88.6px,#141414,#2a2a2a,#3b3b3b,#454545,#474747,#414141,#333333,#202020,#090909,#0c0c0c,#202020,#2e2e2e,#363636,#363636,#303030,#252525 104.6px,#060606 106.6px,#090909 107.6px,#1e1e1e 109.6px,#232323 111.6px,#212121 112.6px,#131313 114.6px,#020202 116.6px,#191919 119.7px,#1e1e1e 121.7px,#151515 123.7px,#030303 125.7px,#1b1b1b 128.7px,#1f1f1f,#1e1e1e 130.7px,#0f0f0f 132.7px,#050505,#070707 134.7px,#181818 136.7px,#1b1b1b,#1a1a1a,#151515 139.7px,#030303 141.7px,#070707,#0f0f0f 143.7px,#141414 145.7px,#0d0d0d 147.7px,#020202 149.7px,#0b0b0b 151.7px,#0c0c0c 153.7px,#020202 156.7px,#040404 158.7px)"></i><i style="top:38.00px;height:1.50px;background:linear-gradient(90deg,#101010 0.5px,#0c0c0c 2.5px,#020202 4.5px,#1a1a1a 7.5px,#212121 9.5px,#1e1e1e,#161616,#090909,#080808 13.5px,#2c2c2c 15.5px,#3a3a3a,#424242,#424242,#363636 19.5px,#090909 21.5px,#242424,#4b4b4b,#696969,#7d7d7d,#7e7e7e,#6c6c6c,#444444,#131313,#323232,#6f6f6f,#a3a3a3,#bfbfbf,#c1c1c1,#a6a6a6,#6e6e6e,#252525,#313131,#7e7e7e,#bebebe,#e0e0e0,#e2e2e2,#c4c4c4,#878787,#3b3b3b,#1f1f1f,#6b6b6b,#acacac,#d0d0d0,#d8d8d8,#c1c1c1,#8c8c8c,#4a4a4a,#141414,#4c4c4c,#8b8b8b,#b2b2b2,#c0c0c0,#b3b3b3,#8b8b8b,#545454,#151515,#343434,#707070,#989898,#ababab,#a4a4a4,#858585,#575757,#1c1c1c,#1e1e1e,#535353,#777777,#8b8b8b,#8b8b8b,#787878,#585858,#2e2e2e,#0a0a0a,#262626,#474747,#5c5c5c,#666666,#646464,#575757,#424242 86.6px,#0a0a0a 88.6px,#151515,#2e2e2e,#424242,#4d4d4d,#4f4f4f,#494949,#393939,#252525,#0c0c0c,#0b0b0b,#212121,#313131,#3a3a3a,#3c3c3c,#363636,#2b2b2b 104.6px,#0a0a0a 106.6px,#070707 107.6px,#202020 109.6px,#262626,#282828,#262626 112.6px,#171717 114.6px,#030303 116.6px,#1d1d1d 119.7px,#212121 120.7px,#1e1e1e 122.7px,#0d0d0d 124.7px,#030303 125.7px,#161616 127.7px,#1d1d1d,#202020,#1f1f1f,#1a1a1a 131.7px,#050505 133.7px,#070707 134.7px,#191919 136.7px,#1c1c1c,#1b1b1b,#161616 139.7px,#040404 141.7px,#060606 142.7px,#131313 144.7px,#151515 145.7px,#0f0f0f 147.7px,#020202 149.7px,#0c0c0c 152.7px,#0b0b0b 154.7px,#010101 157.7px,#040404 158.7px)"></i><i style="top:39.00px;height:1.50px;background:linear-gradient(90deg,#111111 0.5px,#0c0c0c 2.5px,#050505,#040404 4.5px,#1e1e1e 7.5px,#232323 9.5px,#1e1e1e 10.5px,#060606 12.5px,#0e0e0e 13.5px,#343434 15.5px,#414141,#474747,#434343,#323232,#191919,#0d0d0d 21.5px,#585858 23.5px,#747474,#848484,#808080,#686868 27.5px,#111111 29.5px,#404040,#7c7c7c,#aeaeae,#c7c7c7,#c6c6c6,#a6a6a6,#6b6b6b,#212121,#383838,#868686,#c6c6c6,#e8e8e8,#ebebeb,#cccccc,#8e8e8e,#3f3f3f,#1f1f1f,#6d6d6d,#b2b2b2,#d9d9d9,#e3e3e3,#cccccc,#979797,#525252,#151515,#4d4d4d,#8f8f8f,#b9b9b9,#c9c9c9,#bdbdbd,#949494,#5b5b5b,#181818,#333333,#727272,#9d9d9d,#b2b2b2,#adadad,#8f8f8f,#606060,#232323,#191919,#515151,#7a7a7a,#929292,#959595,#838383,#646464 77.6px,#0c0c0c 79.6px,#232323,#494949,#636363,#707070,#707070,#636363,#4c4c4c 86.6px,#0e0e0e 88.6px,#151515,#313131,#484848,#545454,#575757,#505050,#404040,#2a2a2a,#101010,#0a0a0a,#222222,#343434,#3f3f3f,#414141,#3c3c3c,#313131 104.6px,#0e0e0e 106.6px,#060606 107.6px,#222222 109.6px,#2a2a2a,#2d2d2d,#2b2b2b 112.6px,#1b1b1b 114.6px,#030303 116.6px,#202020 119.7px,#252525 121.7px,#212121 122.7px,#030303 125.7px,#171717 127.7px,#222222 129.7px,#212121,#1b1b1b 131.7px,#060606 133.7px,#070707 134.7px,#191919 136.7px,#1d1d1d,#1c1c1c 138.7px,#0f0f0f 140.7px,#050505,#050505 142.7px,#131313 144.7px,#141414 146.7px,#0a0a0a 148.7px,#030303,#040404 150.7px,#0c0c0c 152.7px,#0b0b0b 154.7px,#010101 157.7px,#020202 158.7px)"></i><i style="top:40.00px;height:1.50px;background:linear-gradient(90deg,#121212 0.5px,#101010 1.5px,#030303 3.5px,#070707 4.5px,#222222 7.5px,#252525,#242424,#1d1d1d 10.5px,#050505 12.5px,#3c3c3c 15.5px,#474747,#4a4a4a,#424242,#2d2d2d,#101010,#171717 21.5px,#646464 23.5px,#7e7e7e,#898989,#808080,#636363,#323232,#131313 29.5px,#898989 31.5px,#b8b8b8,#cecece,#c8c8c8,#a5a5a5,#676767,#1e1e1e,#3f3f3f,#8d8d8d,#cdcdcd,#efefef,#f1f1f1,#d1d1d1,#929292,#424242,#1e1e1e,#6e6e6e,#b5b5b5,#dfdfdf,#eaeaea,#d5d5d5,#9f9f9f 52.6px,#161616 54.6px,#4b4b4b,#919191,#bebebe,#d0d0d0,#c4c4c4,#9c9c9c,#616161,#1b1b1b,#303030,#727272,#a0a0a0,#b7b7b7,#b4b4b4,#979797,#686868,#2a2a2a,#151515,#505050,#7c7c7c,#979797,#9d9d9d,#8e8e8e,#6f6f6f,#424242,#111111,#1f1f1f,#4a4a4a,#686868,#797979,#7a7a7a,#6e6e6e,#565656 86.6px,#121212 88.6px,#141414,#333333,#4c4c4c,#5b5b5b,#5f5f5f,#585858,#484848,#303030,#141414,#090909,#222222,#363636,#434343,#474747,#424242,#373737 104.6px,#121212 106.6px,#060606 107.6px,#242424 109.6px,#2e2e2e,#323232,#303030 112.6px,#1f1f1f 114.6px,#040404 116.6px,#232323 119.7px,#272727,#272727,#232323 122.7px,#040404 125.7px,#0c0c0c,#181818,#202020,#232323,#222222,#1c1c1c 131.7px,#070707 133.7px,#060606 134.7px,#191919 136.7px,#1d1d1d 137.7px,#181818 139.7px,#070707 141.7px,#030303 142.7px,#121212 144.7px,#151515 145.7px,#111111 147.7px,#050505 149.7px,#020202 150.7px,#0b0b0b 152.7px,#0c0c0c 154.7px,#020202 157.7px,#010101 158.7px)"></i><i style="top:41.00px;height:1.50px;background:linear-gradient(90deg,#131313 0.5px,#030303 3.5px,#0a0a0a 4.5px,#1e1e1e 6.5px,#252525,#272727,#232323,#1a1a1a,#0b0b0b,#080808 12.5px,#313131 14.5px,#424242,#4b4b4b,#4a4a4a,#3e3e3e,#262626,#0a0a0a,#232323,#4b4b4b,#6e6e6e,#858585,#8b8b8b,#7d7d7d,#5b5b5b,#262626,#191919,#5b5b5b,#949494,#c1c1c1,#d3d3d3,#c9c9c9,#a3a3a3,#616161,#1b1b1b,#464646,#949494,#d4d4d4,#f4f4f4,#f5f5f5,#d5d5d5,#959595,#444444,#1e1e1e,#6e6e6e,#b7b7b7,#e2e2e2,#f0f0f0,#dbdbdb,#a5a5a5 52.6px,#171717 54.6px,#484848,#909090,#bfbfbf,#d3d3d3,#c9c9c9,#a2a2a2,#676767,#1e1e1e,#2c2c2c,#707070,#a0a0a0,#bababa,#b9b9b9,#9d9d9d,#6f6f6f,#313131,#121212,#4d4d4d,#7c7c7c,#9b9b9b,#a4a4a4,#979797,#797979,#4c4c4c,#171717,#1b1b1b,#4a4a4a,#6b6b6b,#808080,#848484,#787878,#606060 86.6px,#171717 88.6px,#111111,#343434,#505050,#616161,#666666,#606060,#4f4f4f,#373737,#191919,#090909 98.6px,#373737 100.6px,#464646,#4c4c4c,#484848,#3d3d3d 104.6px,#060606 107.6px,#252525 109.6px,#303030,#363636,#353535,#2e2e2e 113.6px,#131313 115.6px,#050505,#0d0d0d 117.6px,#252525 119.7px,#2a2a2a,#2a2a2a,#252525 122.7px,#101010 124.7px,#040404,#0c0c0c,#181818,#202020,#242424,#232323,#1d1d1d 131.7px,#080808 133.7px,#050505 134.7px,#181818 136.7px,#1d1d1d,#1d1d1d,#191919 139.7px,#080808 141.7px,#030303 142.7px,#111111 144.7px,#141414 146.7px,#0d0d0d 148.7px,#020202 150.7px,#0c0c0c 153.7px,#0a0a0a 155.7px,#010101 158.7px)"></i><i style="top:42.00px;height:1.50px;background:linear-gradient(90deg,#121212 0.5px,#060606 2.5px,#040404 3.5px,#222222 6.5px,#272727,#272727,#222222,#171717,#070707,#0f0f0f 12.5px,#383838 14.5px,#474747,#4e4e4e,#494949,#393939,#1d1d1d,#0a0a0a 20.5px,#565656 22.5px,#777777,#8a8a8a,#8c8c8c,#787878,#535353,#1a1a1a,#242424,#686868,#9f9f9f,#c8c8c8,#d6d6d6,#c8c8c8,#9f9f9f 35.5px,#181818 37.5px,#4d4d4d,#9a9a9a,#d8d8d8,#f8f8f8,#f8f8f8,#d7d7d7,#979797,#464646,#1d1d1d,#6e6e6e,#b7b7b7,#e3e3e3,#f2f2f2,#dedede,#aaaaaa,#646464,#181818,#444444,#8d8d8d,#bebebe,#d4d4d4,#cccccc,#a5a5a5,#6c6c6c,#222222,#282828,#6d6d6d,#9f9f9f,#bababa,#bbbbbb,#a2a2a2,#757575,#373737,#111111,#494949,#7b7b7b,#9d9d9d,#a8a8a8,#9e9e9e,#828282,#545454,#1e1e1e,#171717,#484848,#6d6d6d,#858585,#8b8b8b,#818181,#696969,#454545,#1d1d1d,#0f0f0f,#333333,#525252,#656565,#6d6d6d,#676767,#565656,#3e3e3e,#1e1e1e,#080808 98.6px,#383838 100.6px,#494949,#505050,#4e4e4e,#434343,#313131 105.6px,#070707 107.6px,#121212,#252525,#323232,#393939,#393939,#323232,#262626 114.6px,#060606 116.6px,#0c0c0c,#1b1b1b,#262626,#2c2c2c,#2c2c2c,#272727,#1e1e1e 123.7px,#040404 125.7px,#0c0c0c 126.7px,#212121 128.7px,#252525,#242424,#1e1e1e 131.7px,#090909 133.7px,#040404 134.7px,#181818 136.7px,#1d1d1d 138.7px,#1a1a1a 139.7px,#020202 142.7px,#0f0f0f 144.7px,#141414 146.7px,#0e0e0e 148.7px,#020202 150.7px,#0b0b0b 153.7px,#0b0b0b 155.7px,#010101 158.7px)"></i><i style="top:43.00px;height:1.50px;background:linear-gradient(90deg,#111111 0.5px,#030303 2.5px,#080808 3.5px,#1d1d1d 5.5px,#252525,#282828,#272727,#1f1f1f 9.5px,#060606 11.5px,#161616 12.5px,#3f3f3f 14.5px,#4b4b4b,#4e4e4e,#454545,#323232,#131313,#121212,#3c3c3c,#616161,#7f7f7f,#8d8d8d,#8a8a8a,#727272,#484848,#121212,#323232,#747474,#a8a8a8,#cdcdcd,#d7d7d7,#c6c6c6,#9a9a9a,#545454,#171717,#545454,#9f9f9f,#dcdcdc,#fafafa,#f9f9f9,#d7d7d7,#979797,#474747,#1c1c1c,#6c6c6c,#b5b5b5,#e2e2e2,#f1f1f1,#dfdfdf,#adadad,#686868,#1a1a1a,#3e3e3e,#888888,#bababa,#d1d1d1,#cbcbcb,#a7a7a7,#6f6f6f,#262626,#232323,#686868,#9b9b9b,#b9b9b9,#bcbcbc,#a4a4a4,#797979,#3c3c3c,#101010 71.6px,#797979 73.6px,#9d9d9d,#ababab,#a3a3a3,#888888,#5b5b5b,#252525,#141414,#464646,#6d6d6d,#888888,#919191,#888888,#717171,#4d4d4d,#242424,#0d0d0d 89.6px,#535353 91.6px,#696969,#727272,#6e6e6e,#5d5d5d,#444444,#242424,#090909,#1e1e1e,#373737,#4b4b4b,#535353,#525252,#494949 104.6px,#202020 106.6px,#080808,#101010,#252525,#333333,#3b3b3b,#3c3c3c,#353535,#292929 114.6px,#070707 116.6px,#0b0b0b,#1b1b1b,#272727,#2d2d2d,#2e2e2e,#292929 122.7px,#131313 124.7px,#050505,#0b0b0b,#181818,#212121,#252525,#252525 130.7px,#161616 132.7px,#0a0a0a,#030303 134.7px,#161616 136.7px,#1c1c1c,#1d1d1d 138.7px,#141414 140.7px,#030303 142.7px,#121212 145.7px,#131313 147.7px,#030303 150.7px,#030303 151.7px,#0c0c0c 154.7px,#030303 158.7px)"></i><i style="top:44.00px;height:1.50px;background:linear-gradient(90deg,#101010 0.5px,#020202 2.5px,#202020 5.5px,#272727,#282828,#252525,#1a1a1a,#0b0b0b,#090909 11.5px,#333333 13.5px,#434343,#4d4d4d,#4c4c4c,#404040,#292929,#0b0b0b,#1e1e1e,#474747,#6a6a6a,#848484,#8e8e8e,#868686,#696969 26.5px,#0f0f0f 28.5px,#3f3f3f,#7e7e7e,#b0b0b0,#d1d1d1,#d7d7d7,#c2c2c2,#939393,#4d4d4d,#161616,#5a5a5a,#a3a3a3,#dedede,#fafafa,#f7f7f7,#d6d6d6,#969696,#474747,#1b1b1b,#696969,#b1b1b1,#dedede,#eeeeee,#dedede,#adadad,#6b6b6b,#1c1c1c,#383838,#818181,#b3b3b3,#cccccc,#c8c8c8,#a6a6a6,#717171,#2a2a2a,#1d1d1d,#626262,#959595,#b4b4b4,#b9b9b9,#a4a4a4,#7b7b7b,#404040,#101010 71.6px,#757575 73.6px,#9b9b9b,#acacac,#a6a6a6,#8d8d8d,#616161,#2b2b2b,#111111,#434343,#6c6c6c,#8a8a8a,#959595,#8e8e8e,#787878,#545454,#2a2a2a,#0b0b0b 89.6px,#535353 91.6px,#6a6a6a,#767676,#737373,#646464,#4b4b4b 96.6px,#0b0b0b 98.6px,#1a1a1a,#363636,#4b4b4b,#565656,#565656,#4d4d4d,#3b3b3b,#252525,#0b0b0b,#0d0d0d,#232323,#333333,#3c3c3c,#3e3e3e,#383838,#2d2d2d 114.6px,#0a0a0a 116.6px,#090909,#1a1a1a,#262626,#2d2d2d,#2f2f2f,#2b2b2b 122.7px,#141414 124.7px,#050505,#0a0a0a,#171717,#202020,#252525,#252525,#202020 131.7px,#030303 134.7px,#151515 136.7px,#1c1c1c 138.7px,#151515 140.7px,#040404 142.7px,#050505 143.7px,#111111 145.7px,#131313 147.7px,#020202 151.7px,#0b0b0b 154.7px,#0a0a0a 156.7px,#040404 158.7px)"></i><i style="top:45.00px;height:1.50px;background:linear-gradient(90deg,#0e0e0e 0.5px,#050505,#040404 2.5px,#1a1a1a 4.5px,#232323,#272727,#272727,#212121 8.5px,#060606 10.5px,#101010 11.5px,#393939 13.5px,#464646,#4c4c4c,#484848,#383838,#1f1f1f,#0a0a0a,#2a2a2a,#525252,#727272,#888888,#8d8d8d,#808080,#5f5f5f,#303030,#121212,#4b4b4b,#888888,#b6b6b6,#d2d2d2,#d5d5d5,#bcbcbc,#8c8c8c,#454545,#171717 37.5px,#a6a6a6 39.5px,#dedede,#f8f8f8,#f4f4f4,#d3d3d3,#949494,#474747,#1a1a1a,#656565,#acacac,#d8d8d8,#e9e9e9,#dadada,#acacac,#6d6d6d,#1f1f1f,#313131,#787878,#aaaaaa,#c4c4c4,#c2c2c2,#a3a3a3,#717171,#2d2d2d,#191919,#5b5b5b,#8e8e8e,#aeaeae,#b4b4b4,#a2a2a2,#7b7b7b,#424242,#101010,#3c3c3c,#717171,#989898,#aaaaaa,#a7a7a7,#8f8f8f,#656565,#303030,#101010,#3f3f3f,#6a6a6a,#8a8a8a,#979797,#929292,#7e7e7e,#5a5a5a,#303030,#0b0b0b,#2a2a2a,#515151,#6b6b6b,#787878,#777777,#696969,#515151 96.6px,#0e0e0e 98.6px,#161616,#343434,#4b4b4b,#575757,#595959,#515151,#404040,#2a2a2a,#0f0f0f,#0a0a0a,#212121,#323232,#3d3d3d,#3f3f3f,#3a3a3a,#2f2f2f 114.6px,#0c0c0c 116.6px,#070707,#181818,#252525,#2d2d2d,#2f2f2f,#2b2b2b 122.7px,#161616 124.7px,#070707,#080808 126.7px,#1f1f1f 128.7px,#242424,#242424,#202020 131.7px,#0d0d0d 133.7px,#030303 134.7px,#191919 137.7px,#1a1a1a 139.7px,#0e0e0e 141.7px,#050505,#030303 143.7px,#0f0f0f 145.7px,#121212 147.7px,#0c0c0c 149.7px,#020202 151.7px,#0b0b0b 155.7px,#050505 158.7px)"></i><i style="top:46.00px;height:1.50px;background:linear-gradient(90deg,#0b0b0b 0.5px,#030303,#080808 2.5px,#1d1d1d 4.5px,#242424,#272727,#242424,#1d1d1d,#0f0f0f,#050505 10.5px,#3d3d3d 13.5px,#484848,#4a4a4a,#434343,#303030,#141414,#101010 19.5px,#5b5b5b 21.5px,#787878,#898989,#8a8a8a,#787878,#545454,#232323,#1a1a1a 28.5px,#919191 30.5px,#bbbbbb,#d3d3d3,#d1d1d1,#b5b5b5,#848484,#3d3d3d,#191919,#636363,#a8a8a8,#dcdcdc,#f5f5f5,#f0f0f0,#cfcfcf,#929292,#474747,#181818 46.6px,#a4a4a4 48.6px,#d0d0d0,#e1e1e1,#d4d4d4,#aaaaaa,#6e6e6e,#222222,#292929,#6e6e6e,#9e9e9e,#b9b9b9,#b9b9b9,#9e9e9e,#6f6f6f,#2f2f2f,#151515,#545454,#858585,#a5a5a5,#adadad,#9d9d9d,#797979 69.6px,#101010 71.6px,#373737,#6c6c6c,#939393,#a7a7a7,#a5a5a5,#909090,#686868,#343434,#0f0f0f 80.6px,#676767 82.6px,#888888,#979797,#949494,#818181,#606060 87.6px,#0c0c0c 89.6px,#262626,#4e4e4e,#696969,#797979,#7a7a7a,#6d6d6d,#565656 96.6px,#131313 98.6px,#121212,#303030,#494949,#575757,#5b5b5b,#545454,#444444,#2e2e2e,#141414,#070707,#1e1e1e,#303030,#3c3c3c,#404040,#3c3c3c,#323232 114.6px,#0f0f0f 116.6px,#060606 117.6px,#232323 119.7px,#2c2c2c,#2f2f2f,#2c2c2c 122.7px,#171717 124.7px,#080808,#060606 126.7px,#1d1d1d 128.7px,#232323,#242424,#202020 131.7px,#0e0e0e 133.7px,#030303,#080808 135.7px,#171717 137.7px,#1a1a1a 139.7px,#0f0f0f 141.7px,#020202 143.7px,#0e0e0e 145.7px,#121212 147.7px,#0d0d0d 149.7px,#030303 151.7px,#030303 152.7px,#090909 154.7px,#090909 157.7px,#060606 158.7px)"></i><i style="top:47.00px;height:1.50px;background:linear-gradient(90deg,#070707 0.5px,#030303 1.5px,#1f1f1f 4.5px,#242424,#252525,#212121,#171717,#080808,#0a0a0a 10.5px,#303030 12.5px,#404040,#474747,#464646,#3c3c3c,#262626,#0b0b0b,#1c1c1c 19.5px,#636363 21.5px,#7c7c7c,#888888,#858585,#6f6f6f,#484848,#171717,#272727 28.5px,#989898 30.5px,#bebebe,#d1d1d1,#cccccc,#aeaeae,#7b7b7b,#343434,#1b1b1b,#676767,#a8a8a8,#dadada,#f0f0f0,#ebebeb,#cacaca,#8f8f8f,#474747,#161616 46.6px,#9b9b9b 48.6px,#c6c6c6,#d8d8d8,#cdcdcd,#a6a6a6,#6e6e6e,#262626,#202020,#626262,#919191,#acacac,#aeaeae,#969696,#6b6b6b,#303030,#121212,#4c4c4c,#7b7b7b,#9b9b9b,#a4a4a4,#969696,#757575 69.6px,#101010 71.6px,#333333,#666666,#8d8d8d,#a1a1a1,#a1a1a1,#8e8e8e,#686868,#363636,#0f0f0f,#363636,#626262,#858585,#959595,#959595,#848484,#636363,#3b3b3b,#0e0e0e,#212121,#4a4a4a,#676767,#787878,#7b7b7b,#707070,#5b5b5b 96.6px,#181818 98.6px,#0d0d0d,#2c2c2c,#464646,#555555,#5b5b5b,#565656,#474747,#323232,#181818,#060606 108.6px,#2d2d2d 110.6px,#3a3a3a,#3f3f3f,#3c3c3c,#333333 114.6px,#121212 116.6px,#050505 117.6px,#212121 119.7px,#2a2a2a,#2d2d2d,#2b2b2b,#242424 123.7px,#0a0a0a 125.7px,#040404 126.7px,#1b1b1b 128.7px,#212121,#232323,#202020 131.7px,#101010 133.7px,#050505,#060606 135.7px,#151515 137.7px,#191919 138.7px,#161616 140.7px,#020202 143.7px,#101010 146.7px,#101010 148.7px,#010101 152.7px,#0a0a0a 155.7px,#070707 158.7px)"></i><i style="top:48.00px;height:1.50px;background:linear-gradient(90deg,#040404 0.5px,#060606 1.5px,#191919 3.5px,#202020,#232323,#222222,#1c1c1c 7.5px,#050505 9.5px,#111111 10.5px,#343434 12.5px,#414141,#454545,#414141,#333333,#1b1b1b,#080808,#272727,#4a4a4a,#696969,#7e7e7e,#868686,#7e7e7e,#656565 25.5px,#101010 27.5px,#333333,#6a6a6a,#9d9d9d,#bfbfbf,#cecece,#c6c6c6,#a6a6a6,#727272,#2d2d2d,#1e1e1e,#696969,#a7a7a7,#d6d6d6,#eaeaea,#e4e4e4,#c5c5c5,#8c8c8c,#474747,#141414 46.6px,#919191 48.6px,#bababa,#cdcdcd,#c4c4c4,#a1a1a1,#6e6e6e,#2b2b2b,#181818,#555555,#838383,#9e9e9e,#a1a1a1,#8c8c8c,#666666,#303030,#0f0f0f,#434343,#707070,#8f8f8f,#989898,#8c8c8c,#6e6e6e 69.6px,#101010 71.6px,#2f2f2f,#606060,#868686,#9b9b9b,#9c9c9c,#8b8b8b,#676767,#383838,#0e0e0e,#313131,#5e5e5e,#808080,#929292,#939393,#848484,#666666,#3f3f3f,#111111,#1c1c1c,#454545,#636363,#767676,#7b7b7b,#727272,#5e5e5e,#404040,#1e1e1e,#0a0a0a 99.6px,#424242 101.6px,#535353,#5a5a5a,#575757,#4a4a4a,#363636 106.6px,#070707 108.6px,#151515,#292929,#373737,#3d3d3d,#3c3c3c,#343434 114.6px,#151515 116.6px,#050505,#0f0f0f,#1e1e1e,#272727,#2c2c2c,#2a2a2a,#242424 123.7px,#0c0c0c 125.7px,#030303 126.7px,#181818 128.7px,#1f1f1f,#212121,#1f1f1f 131.7px,#111111 133.7px,#060606,#040404 135.7px,#131313 137.7px,#181818 139.7px,#101010 141.7px,#030303 143.7px,#040404 144.7px,#0e0e0e 146.7px,#101010 148.7px,#010101 152.7px,#0a0a0a 156.7px,#070707 158.7px)"></i><i style="top:49.00px;height:1.50px;background:linear-gradient(90deg,#020202 0.5px,#1a1a1a 3.5px,#212121 5.5px,#1e1e1e,#161616,#0a0a0a,#060606 9.5px,#292929 11.5px,#373737,#404040,#414141,#393939,#292929,#0f0f0f,#0f0f0f 18.5px,#525252 20.5px,#6e6e6e,#7e7e7e,#828282,#767676,#595959,#2f2f2f,#0f0f0f,#3e3e3e,#737373,#a1a1a1,#bfbfbf,#cacaca,#bfbfbf,#9d9d9d,#6a6a6a,#252525,#222222,#6a6a6a,#a5a5a5,#d1d1d1,#e4e4e4,#dddddd,#bfbfbf,#898989,#484848,#121212,#484848,#868686,#aeaeae,#c1c1c1,#bababa,#9b9b9b,#6d6d6d,#303030,#111111,#484848,#737373,#8d8d8d,#929292,#818181,#5f5f5f,#2e2e2e,#0d0d0d,#3b3b3b,#656565,#828282,#8b8b8b,#818181,#666666 69.6px,#0f0f0f 71.6px,#2c2c2c,#5a5a5a,#7f7f7f,#939393,#959595,#868686,#656565 78.6px,#0e0e0e 80.6px,#2d2d2d,#595959,#7b7b7b,#8e8e8e,#919191,#838383,#676767,#424242,#151515,#161616,#404040,#5e5e5e,#737373,#797979,#737373,#606060,#444444,#232323,#080808 99.6px,#3d3d3d 101.6px,#4f4f4f,#585858,#575757,#4b4b4b,#393939 106.6px,#090909 108.6px,#101010,#242424,#333333,#3a3a3a,#3a3a3a,#343434 114.6px,#181818 116.6px,#060606,#0b0b0b,#1a1a1a,#242424,#292929,#292929 122.7px,#1a1a1a 124.7px,#030303 126.7px,#1c1c1c 129.7px,#1f1f1f,#1e1e1e 131.7px,#111111 133.7px,#080808,#030303 135.7px,#111111 137.7px,#161616 139.7px,#111111 141.7px,#040404 143.7px,#030303 144.7px,#0f0f0f 147.7px,#0d0d0d 149.7px,#020202 152.7px,#020202 153.7px,#080808 155.7px,#080808 158.7px)"></i><i style="top:50.00px;height:1.50px;background:linear-gradient(90deg,#030303 0.5px,#1b1b1b 3.5px,#1e1e1e 5.5px,#1a1a1a 6.5px,#050505 8.5px,#0d0d0d 9.5px,#2c2c2c 11.5px,#383838,#3e3e3e,#3c3c3c,#313131,#1f1f1f,#080808,#1a1a1a,#3c3c3c,#595959,#707070,#7d7d7d,#7c7c7c,#6d6d6d,#4d4d4d,#212121,#131313 27.5px,#7a7a7a 29.5px,#a4a4a4,#bebebe,#c5c5c5,#b8b8b8,#949494,#616161,#1f1f1f,#252525,#6b6b6b,#a2a2a2,#cbcbcb,#dcdcdc,#d6d6d6,#b9b9b9,#878787,#494949,#111111,#3f3f3f,#797979,#a0a0a0,#b4b4b4,#b0b0b0,#959595,#6b6b6b,#343434,#0d0d0d,#3a3a3a,#626262,#7c7c7c,#828282,#747474,#575757,#2c2c2c,#0c0c0c 63.6px,#595959 65.6px,#747474,#7d7d7d,#747474,#5c5c5c 69.6px,#0d0d0d 71.6px,#2a2a2a,#545454,#777777,#8a8a8a,#8d8d8d,#7f7f7f,#606060 78.6px,#0e0e0e 80.6px,#2a2a2a,#535353,#757575,#888888,#8c8c8c,#818181,#676767,#444444,#191919,#121212,#3a3a3a,#595959,#6f6f6f,#777777,#727272,#626262,#474747 97.6px,#090909 99.6px,#1b1b1b,#373737,#4a4a4a,#555555,#555555,#4c4c4c,#3c3c3c 106.6px,#0e0e0e 108.6px,#0b0b0b,#1f1f1f,#2e2e2e,#373737,#383838,#333333 114.6px,#1a1a1a 116.6px,#090909,#070707,#161616,#202020,#262626,#262626,#222222 123.7px,#0f0f0f 125.7px,#040404,#090909 127.7px,#191919 129.7px,#1d1d1d 130.7px,#181818 132.7px,#020202 135.7px,#0f0f0f 137.7px,#151515 139.7px,#111111 141.7px,#020202 144.7px,#0b0b0b 146.7px,#0e0e0e 148.7px,#0b0b0b 150.7px,#010101 153.7px,#080808 156.7px,#080808 158.7px)"></i><i style="top:51.00px;height:1.50px;background:linear-gradient(90deg,#050505 0.5px,#151515 2.5px,#1c1c1c 4.5px,#1a1a1a,#141414,#0a0a0a,#040404 8.5px,#2f2f2f 11.5px,#373737,#3a3a3a,#353535,#282828,#131313,#0a0a0a,#252525,#444444,#5e5e5e,#727272,#7a7a7a,#757575,#626262,#414141,#151515,#1c1c1c,#525252,#808080,#a6a6a6,#bcbcbc,#c0c0c0,#b0b0b0,#8b8b8b,#595959,#191919,#282828,#6a6a6a,#9e9e9e,#c5c5c5,#d5d5d5,#cfcfcf,#b4b4b4,#848484 44.6px,#101010 46.6px,#353535,#6c6c6c,#929292,#a6a6a6,#a4a4a4,#8e8e8e,#6a6a6a,#383838,#0d0d0d,#2b2b2b,#515151,#6a6a6a,#717171,#666666,#4e4e4e,#292929,#0a0a0a 63.6px,#4d4d4d 65.6px,#656565,#6e6e6e,#666666,#515151 69.6px,#0b0b0b 71.6px,#282828,#4f4f4f,#6f6f6f,#818181,#848484,#777777,#5b5b5b 78.6px,#0d0d0d 80.6px,#262626,#4e4e4e,#6f6f6f,#828282,#878787,#7e7e7e,#666666,#454545,#1c1c1c,#0e0e0e,#343434,#535353,#696969,#737373,#707070,#626262,#494949,#2c2c2c,#0b0b0b,#141414,#313131,#454545,#515151,#535353,#4b4b4b,#3d3d3d 106.6px,#121212 108.6px,#070707 109.6px,#292929 111.6px,#323232,#353535,#323232 114.6px,#1c1c1c 116.6px,#0c0c0c,#040404 118.6px,#1c1c1c 120.7px,#222222,#242424,#212121 123.7px,#101010 125.7px,#050505,#060606 127.7px,#161616 129.7px,#1a1a1a 130.7px,#171717 132.7px,#0a0a0a 134.7px,#030303 135.7px,#0c0c0c 137.7px,#131313 139.7px,#101010 141.7px,#010101 144.7px,#0c0c0c 147.7px,#0d0d0d 149.7px,#010101 153.7px,#080808 157.7px,#080808 158.7px)"></i><i style="top:52.00px;height:1.50px;background:linear-gradient(90deg,#080808 0.5px,#151515 2.5px,#191919 4.5px,#0e0e0e 6.5px,#040404,#090909 8.5px,#252525 10.5px,#2f2f2f,#353535,#343434,#2d2d2d,#1d1d1d,#090909,#131313 17.5px,#4c4c4c 19.5px,#626262,#717171,#757575,#6d6d6d,#575757,#353535,#0c0c0c,#282828,#5a5a5a,#848484,#a7a7a7,#b9b9b9,#bababa,#a8a8a8,#838383,#525252,#151515,#2a2a2a,#696969,#9a9a9a,#bebebe,#cdcdcd,#c7c7c7,#aeaeae,#838383,#4d4d4d,#121212,#2a2a2a,#5f5f5f,#838383,#989898,#999999,#878787,#686868 53.6px,#111111 55.6px,#1c1c1c,#3f3f3f,#575757,#5f5f5f,#585858,#444444,#242424,#090909 63.6px,#414141 65.6px,#575757,#5e5e5e,#585858,#454545,#252525,#090909,#282828,#4b4b4b,#676767,#787878,#7a7a7a,#6e6e6e,#545454 78.6px,#0d0d0d 80.6px,#242424,#4a4a4a,#696969,#7c7c7c,#828282,#797979,#646464,#454545,#1f1f1f,#0c0c0c 90.6px,#4d4d4d 92.6px,#636363,#6e6e6e,#6d6d6d,#616161,#4b4b4b,#303030,#101010,#0e0e0e,#2a2a2a,#3e3e3e,#4b4b4b,#4f4f4f,#4a4a4a,#3e3e3e 106.6px,#171717 108.6px,#060606 109.6px,#232323 111.6px,#2d2d2d,#313131,#303030 114.6px,#1d1d1d 116.6px,#030303 118.6px,#171717 120.7px,#1e1e1e,#202020 122.7px,#191919 124.7px,#070707 126.7px,#040404 127.7px,#131313 129.7px,#181818 131.7px,#111111 133.7px,#040404 135.7px,#040404 136.7px,#0f0f0f 138.7px,#111111 140.7px,#0c0c0c 142.7px,#020202 144.7px,#070707 146.7px,#0c0c0c 148.7px,#080808 151.7px,#020202 153.7px,#070707 158.7px)"></i><i style="top:53.00px;height:1.50px;background:linear-gradient(90deg,#090909 0.5px,#141414 2.5px,#161616 3.5px,#101010 5.5px,#080808,#040404 7.5px,#272727 10.5px,#2f2f2f,#313131,#2e2e2e,#242424,#131313,#060606 16.5px,#525252 19.5px,#656565,#707070,#707070,#646464,#4c4c4c,#282828,#0b0b0b,#323232,#616161,#888888,#a7a7a7,#b5b5b5,#b3b3b3,#a0a0a0,#7b7b7b,#4b4b4b,#121212,#2c2c2c,#676767,#959595,#b7b7b7,#c5c5c5,#c0c0c0,#a9a9a9,#818181,#505050,#171717,#1f1f1f,#515151,#747474,#898989,#8d8d8d,#808080,#666666 53.6px,#1a1a1a 55.6px,#0f0f0f,#2d2d2d,#444444,#4d4d4d,#494949,#393939 61.6px,#080808 63.6px,#1d1d1d,#363636,#484848,#4f4f4f,#494949,#383838,#1c1c1c,#090909 71.6px,#474747 73.6px,#606060,#6e6e6e,#707070,#656565,#4d4d4d 78.6px,#0b0b0b 80.6px,#222222,#454545,#636363,#757575,#7b7b7b,#747474,#616161,#454545,#212121,#0a0a0a 90.6px,#464646 92.6px,#5d5d5d,#686868,#696969,#5f5f5f,#4c4c4c,#333333,#151515,#0a0a0a,#232323,#383838,#464646,#4b4b4b,#484848,#3e3e3e 106.6px,#1b1b1b 108.6px,#070707,#0c0c0c,#1d1d1d,#272727,#2d2d2d,#2d2d2d 114.6px,#1e1e1e 116.6px,#050505 118.6px,#080808 119.7px,#1a1a1a 121.7px,#1d1d1d 122.7px,#181818 124.7px,#020202 127.7px,#101010 129.7px,#161616 131.7px,#111111 133.7px,#050505 135.7px,#020202 136.7px,#0d0d0d 138.7px,#101010 140.7px,#0c0c0c 142.7px,#030303 144.7px,#020202 145.7px,#090909 147.7px,#0a0a0a 150.7px,#010101 154.7px,#070707 158.7px)"></i><i style="top:54.00px;height:1.50px;background:linear-gradient(90deg,#0a0a0a 0.5px,#121212 2.5px,#101010 4.5px,#030303 6.5px,#090909 7.5px,#282828 10.5px,#2d2d2d,#2d2d2d,#262626,#1a1a1a,#080808,#0e0e0e 16.5px,#404040 18.5px,#565656,#666666,#6d6d6d,#6a6a6a,#5a5a5a,#414141,#1c1c1c,#101010 26.5px,#686868 28.5px,#8b8b8b,#a6a6a6,#b1b1b1,#adadad,#989898,#737373,#454545,#101010,#2d2d2d,#646464,#909090,#b0b0b0,#bebebe,#bababa,#a5a5a5,#808080,#535353,#1e1e1e,#151515,#434343,#656565,#7b7b7b,#818181,#797979,#646464 53.6px,#242424 55.6px,#090909 56.6px,#313131 58.6px,#3b3b3b,#393939,#2e2e2e 61.6px,#060606 63.6px,#171717,#2c2c2c,#3a3a3a,#3f3f3f,#3a3a3a,#2b2b2b,#121212,#0a0a0a,#292929,#444444,#5a5a5a,#666666,#666666,#5c5c5c,#464646 78.6px,#0a0a0a 80.6px,#212121,#424242,#5e5e5e,#6e6e6e,#757575,#6f6f6f,#5d5d5d,#444444,#222222,#090909 90.6px,#404040 92.6px,#565656,#626262,#656565,#5d5d5d,#4c4c4c,#353535,#191919,#070707 100.6px,#313131 102.6px,#404040,#464646,#454545,#3e3e3e 106.6px,#1f1f1f 108.6px,#0b0b0b,#060606,#161616,#212121,#282828,#292929 114.6px,#1e1e1e 116.6px,#080808 118.6px,#040404 119.7px,#151515 121.7px,#191919 122.7px,#161616 124.7px,#020202 127.7px,#111111 130.7px,#131313 132.7px,#010101 136.7px,#0d0d0d 139.7px,#0e0e0e 141.7px,#010101 145.7px,#0a0a0a 149.7px,#030303 153.7px,#020202 155.7px,#060606 158.7px)"></i><i style="top:55.00px;height:1.50px;background:linear-gradient(90deg,#0a0a0a 0.5px,#0f0f0f 2.5px,#0b0b0b 4.5px,#040404,#040404 6.5px,#212121 9.5px,#272727,#292929,#272727,#1e1e1e 13.5px,#060606 15.5px,#191919 16.5px,#474747 18.5px,#5a5a5a,#666666,#696969,#626262,#505050,#353535,#111111,#1a1a1a 26.5px,#6d6d6d 28.5px,#8d8d8d,#a5a5a5,#adadad,#a6a6a6,#919191,#6d6d6d 34.5px,#0e0e0e 36.5px,#2d2d2d,#616161,#8b8b8b,#a9a9a9,#b7b7b7,#b4b4b4,#a2a2a2,#808080,#575757,#262626,#0e0e0e,#353535,#575757,#6e6e6e,#767676,#727272,#626262 53.6px,#2d2d2d 55.6px,#0f0f0f,#0b0b0b,#1e1e1e,#292929,#2a2a2a,#222222 61.6px,#050505 63.6px,#222222 65.6px,#2d2d2d,#303030,#2b2b2b,#1d1d1d,#090909,#101010,#2b2b2b,#424242,#545454,#5d5d5d,#5d5d5d,#535353,#3e3e3e,#212121,#090909,#212121,#3f3f3f,#585858,#686868,#6e6e6e,#696969,#595959,#424242,#232323,#090909,#1e1e1e,#3a3a3a,#505050,#5c5c5c,#606060,#5a5a5a,#4b4b4b,#373737,#1d1d1d,#070707,#151515,#2a2a2a,#393939,#414141,#424242,#3c3c3c,#313131 107.6px,#101010 109.6px,#040404 110.6px,#1b1b1b 112.6px,#222222,#252525,#232323 115.6px,#141414 117.6px,#030303 119.7px,#101010 121.7px,#161616 123.7px,#0f0f0f 125.7px,#030303 127.7px,#040404 128.7px,#0e0e0e 130.7px,#111111 132.7px,#0b0b0b 134.7px,#010101 136.7px,#0d0d0d 140.7px,#0b0b0b 142.7px,#010101 145.7px,#090909 149.7px,#040404 153.7px,#010101 155.7px,#060606 158.7px)"></i><i style="top:56.00px;height:1.50px;background:linear-gradient(90deg,#090909 0.5px,#0c0c0c 2.5px,#020202 5.5px,#222222 9.5px,#252525 11.5px,#202020 12.5px,#070707 14.5px,#0d0d0d 15.5px,#393939 17.5px,#5c5c5c 19.5px,#646464,#646464,#5b5b5b,#464646 23.5px,#0b0b0b 25.5px,#242424 26.5px,#727272 28.5px,#8f8f8f,#a3a3a3,#a9a9a9,#a0a0a0,#8a8a8a,#666666 34.5px,#0d0d0d 36.5px,#2d2d2d,#5e5e5e,#858585,#a3a3a3,#b0b0b0,#afafaf,#9f9f9f,#818181,#5b5b5b,#2e2e2e,#0c0c0c,#282828,#494949,#606060,#6c6c6c,#6b6b6b,#606060,#4d4d4d 54.6px,#1c1c1c 56.6px,#070707,#0c0c0c,#171717,#1b1b1b,#171717 61.6px,#030303 63.6px,#1a1a1a 65.6px,#212121,#222222,#1c1c1c 68.6px,#060606 70.6px,#171717 71.6px,#404040 73.6px,#4f4f4f,#565656,#545454,#4a4a4a,#363636,#1c1c1c,#080808 80.6px,#545454 83.6px,#626262,#686868,#636363,#555555,#3f3f3f 88.6px,#090909 90.6px,#1a1a1a,#343434,#494949,#565656,#5b5b5b,#575757,#4a4a4a,#383838 98.6px,#0a0a0a 100.6px,#0f0f0f,#232323,#323232,#3b3b3b,#3e3e3e,#3a3a3a,#313131 107.6px,#060606 110.6px,#090909,#151515,#1d1d1d,#212121 114.6px,#1c1c1c 116.6px,#040404 119.7px,#050505 120.7px,#101010 122.7px,#111111 124.7px,#090909 126.7px,#030303,#020202 128.7px,#0c0c0c 130.7px,#0f0f0f 132.7px,#020202 136.7px,#0b0b0b 140.7px,#080808 143.7px,#020202 145.7px,#040404 147.7px,#080808 149.7px,#040404 153.7px,#010101 155.7px,#050505 158.7px)"></i><i style="top:57.00px;height:1.50px;background:linear-gradient(90deg,#080808 0.5px,#080808 2.5px,#010101 4.5px,#1c1c1c 8.5px,#212121,#222222,#1f1f1f,#181818,#0c0c0c,#050505 14.5px,#2b2b2b 16.5px,#404040,#515151,#5d5d5d,#626262,#5f5f5f,#525252,#3c3c3c,#1f1f1f,#0b0b0b,#2d2d2d 26.5px,#767676 28.5px,#909090,#a1a1a1,#a5a5a5,#9b9b9b,#848484,#616161 34.5px,#0c0c0c 36.5px,#2c2c2c,#5b5b5b,#818181,#9d9d9d,#aaaaaa,#aaaaaa,#9d9d9d,#828282,#606060 45.6px,#0f0f0f 47.6px,#1b1b1b,#3b3b3b,#545454,#616161,#656565,#5f5f5f,#515151 54.6px,#161616 57.6px,#060606,#060606,#0c0c0c,#0b0b0b 61.6px,#020202 63.6px,#121212 65.6px,#161616,#151515,#0f0f0f,#050505,#0d0d0d 70.6px,#313131 72.6px,#404040,#4b4b4b,#505050,#4c4c4c,#424242,#2f2f2f,#161616,#080808 80.6px,#3a3a3a 82.6px,#505050,#5d5d5d,#626262,#5e5e5e,#515151,#3d3d3d 88.6px,#090909 90.6px,#161616 91.6px,#434343 93.6px,#505050,#565656,#535353,#494949,#393939 98.6px,#0e0e0e 100.6px,#090909 101.6px,#2c2c2c 103.6px,#363636,#3a3a3a,#383838,#313131 107.6px,#181818 109.6px,#0a0a0a,#040404 111.6px,#171717 113.6px,#1c1c1c,#1d1d1d 115.6px,#151515 117.6px,#060606 119.7px,#020202 120.7px,#0c0c0c 122.7px,#0e0e0e 124.7px,#090909 126.7px,#010101 128.7px,#0c0c0c 131.7px,#0c0c0c 133.7px,#020202 136.7px,#050505 138.7px,#0a0a0a 141.7px,#050505 144.7px,#010101 146.7px,#070707 150.7px,#010101 155.7px,#040404 158.7px)"></i><i style="top:58.00px;height:1.50px;background:linear-gradient(90deg,#050505 0.5px,#010101 3.5px,#0c0c0c 5.5px,#1d1d1d 8.5px,#1e1e1e 10.5px,#191919 11.5px,#050505 13.5px,#0e0e0e 14.5px,#464646 17.5px,#545454,#5d5d5d,#5f5f5f,#595959,#4a4a4a,#323232,#151515,#101010 25.5px,#595959 27.5px,#797979,#919191,#9f9f9f,#a1a1a1,#969696,#7f7f7f,#5c5c5c 34.5px,#0b0b0b 36.5px,#2b2b2b,#585858,#7c7c7c,#989898,#a5a5a5,#a7a7a7,#9b9b9b,#838383,#646464 45.6px,#181818 47.6px,#0f0f0f,#2e2e2e,#484848,#585858,#5f5f5f,#5d5d5d,#545454 54.6px,#353535 56.6px,#151515 58.6px,#0a0a0a,#030303 60.6px,#010101 62.6px,#0b0b0b 65.6px,#0c0c0c 66.6px,#030303 68.6px,#090909 69.6px,#343434 72.6px,#404040,#484848,#4a4a4a,#454545,#3a3a3a,#282828,#111111,#090909 80.6px,#393939 82.6px,#4c4c4c,#585858,#5d5d5d,#595959,#4d4d4d,#3b3b3b 88.6px,#0a0a0a 90.6px,#121212 91.6px,#3e3e3e 93.6px,#4a4a4a,#515151,#4f4f4f,#474747,#393939 98.6px,#121212 100.6px,#050505 101.6px,#252525 103.6px,#303030,#353535,#353535,#303030 107.6px,#1b1b1b 109.6px,#040404 111.6px,#171717 114.6px,#181818 116.6px,#0f0f0f 118.6px,#020202 120.7px,#0b0b0b 123.7px,#080808 126.7px,#010101 128.7px,#0a0a0a 132.7px,#060606 135.7px,#010101 137.7px,#090909 141.7px,#010101 146.7px,#060606 150.7px,#010101 156.7px,#040404 158.7px)"></i><i style="top:59.00px;height:1.50px;background:linear-gradient(90deg,#020202 0.5px,#020202 2.5px,#0a0a0a 4.5px,#1a1a1a 7.5px,#1d1d1d 9.5px,#121212 11.5px,#080808,#070707 13.5px,#4b4b4b 17.5px,#565656,#5c5c5c,#5b5b5b,#525252,#424242 22.5px,#0c0c0c 24.5px,#191919,#3e3e3e 26.5px,#7d7d7d 28.5px,#919191,#9d9d9d,#9d9d9d,#919191,#7a7a7a,#585858 34.5px,#0b0b0b 36.5px,#2a2a2a,#565656,#787878,#939393,#a1a1a1,#a4a4a4,#9a9a9a,#858585,#696969 45.6px,#222222 47.6px,#090909 48.6px,#3d3d3d 50.6px,#4f4f4f,#5a5a5a,#5c5c5c,#575757,#4e4e4e 55.6px,#242424 58.6px,#101010 60.6px,#080808 62.6px,#060606 65.6px,#020202 67.6px,#141414 69.6px,#383838 72.6px,#414141,#464646,#464646,#3f3f3f,#343434,#222222,#0c0c0c,#0b0b0b 80.6px,#383838 82.6px,#494949,#545454,#585858,#545454,#494949,#383838 88.6px,#0b0b0b 90.6px,#0f0f0f 91.6px,#383838 93.6px,#454545,#4c4c4c,#4c4c4c,#454545,#393939 98.6px,#050505 101.6px,#101010,#1f1f1f,#2a2a2a,#313131,#323232,#2f2f2f 107.6px,#1e1e1e 109.6px,#070707 111.6px,#030303 112.6px,#121212 114.6px,#161616 116.6px,#101010 118.6px,#010101 121.7px,#080808 124.7px,#040404 127.7px,#010101 128.7px,#080808 132.7px,#050505 135.7px,#010101 137.7px,#070707 141.7px,#030303 145.7px,#020202 147.7px,#050505 151.7px,#010101 156.7px,#030303 158.7px)"></i><i style="top:60.00px;height:1.50px;background:linear-gradient(90deg,#010101 0.5px,#0a0a0a 3.5px,#181818 6.5px,#1b1b1b 8.5px,#141414 10.5px,#030303 12.5px,#202020 14.5px,#424242 16.5px,#4f4f4f,#585858,#5b5b5b,#575757,#4b4b4b,#393939 22.5px,#080808 24.5px,#222222,#454545,#646464,#7f7f7f,#929292,#9b9b9b,#9a9a9a,#8c8c8c,#757575,#545454,#2d2d2d,#0a0a0a,#292929,#535353,#757575,#8f8f8f,#9e9e9e,#a2a2a2,#9a9a9a,#888888,#6e6e6e 45.6px,#0a0a0a 48.6px,#171717,#333333,#474747,#555555,#5b5b5b,#5a5a5a,#555555 55.6px,#1d1d1d 60.6px,#0f0f0f 62.6px,#020202 65.6px,#040404 66.6px,#141414 68.6px,#3c3c3c 72.6px,#434343,#454545,#424242,#3b3b3b,#2e2e2e,#1d1d1d,#080808,#0e0e0e 80.6px,#373737 82.6px,#464646,#505050,#535353,#505050,#464646,#363636 88.6px,#0c0c0c 90.6px,#0c0c0c 91.6px,#333333 93.6px,#404040,#474747,#484848,#424242,#383838 98.6px,#191919 100.6px,#070707,#0a0a0a,#191919 103.6px,#2c2c2c 105.6px,#2f2f2f 106.6px,#282828 108.6px,#030303 112.6px,#111111 115.6px,#121212 117.6px,#080808 120.7px,#010101 122.7px,#060606 125.7px,#010101 128.7px,#070707 133.7px,#010101 137.7px,#060606 141.7px,#030303 145.7px,#010101 147.7px,#050505 151.7px,#000000 156.7px,#030303 158.7px)"></i><i style="top:61.00px;height:1.50px;background:linear-gradient(90deg,#050505 0.5px,#191919 6.5px,#191919 8.5px,#0e0e0e 10.5px,#040404,#0a0a0a 12.5px,#474747 16.5px,#525252,#595959,#595959,#525252,#444444,#313131,#161616,#0a0a0a 24.5px,#4c4c4c 26.5px,#696969,#828282,#929292,#9a9a9a,#979797,#898989,#727272,#515151,#2b2b2b,#0a0a0a,#292929,#515151,#727272,#8c8c8c,#9b9b9b,#a0a0a0,#9a9a9a,#8a8a8a,#737373 45.6px,#353535 47.6px,#121212,#0d0d0d,#292929,#3f3f3f,#505050,#5a5a5a,#5d5d5d,#5b5b5b 55.6px,#4b4b4b 57.6px,#1f1f1f 61.6px,#060606 64.6px,#020202 65.6px,#272727 69.6px,#3a3a3a 71.6px,#414141 72.6px,#444444 74.6px,#404040,#373737,#2a2a2a 77.6px,#060606 79.6px,#101010,#252525 81.6px,#444444 83.6px,#4d4d4d,#505050,#4c4c4c,#434343,#343434 88.6px,#0d0d0d 90.6px,#090909 91.6px,#2f2f2f 93.6px,#3b3b3b,#434343,#444444,#404040,#383838 98.6px,#1b1b1b 100.6px,#0a0a0a,#060606 102.6px,#1f1f1f 104.6px,#282828 105.6px,#2b2b2b 107.6px,#282828 108.6px,#070707 112.6px,#020202 113.6px,#0d0d0d 115.6px,#101010 117.6px,#0d0d0d 119.7px,#020202 122.7px,#020202 127.7px,#010101 129.7px,#050505 133.7px,#010101 137.7px,#050505 141.7px,#030303 145.7px,#010101 147.7px,#040404 152.7px,#000000 156.7px,#020202 158.7px)"></i><i style="top:62.00px;height:1.50px;background:linear-gradient(90deg,#090909 0.5px,#181818 5.5px,#191919 7.5px,#0f0f0f 9.5px,#070707,#050505 11.5px,#222222 13.5px,#404040 15.5px,#555555 17.5px,#585858,#565656,#4d4d4d,#3d3d3d,#282828,#0d0d0d,#111111 24.5px,#525252 26.5px,#6d6d6d,#848484,#929292,#989898,#949494,#858585,#6e6e6e,#4e4e4e,#292929,#0a0a0a,#282828,#4f4f4f,#6f6f6f,#898989,#999999,#9f9f9f,#9b9b9b,#8d8d8d,#787878 45.6px,#3e3e3e 47.6px,#1c1c1c,#080808 49.6px,#383838 51.6px,#4c4c4c,#585858,#5f5f5f,#606060,#5d5d5d 56.6px,#4c4c4c 58.6px,#060606 64.6px,#040404 65.6px,#393939 70.6px,#454545 72.6px,#474747 73.6px,#3f3f3f 75.6px,#262626 77.6px,#050505 79.6px,#121212 80.6px,#353535 82.6px,#424242,#4a4a4a,#4c4c4c,#494949,#404040 87.6px,#212121 89.6px,#0e0e0e,#070707 91.6px,#2a2a2a 93.6px,#363636,#3e3e3e,#414141,#3e3e3e,#373737 98.6px,#1e1e1e 100.6px,#0e0e0e,#040404 102.6px,#232323 105.6px,#282828 106.6px,#272727 108.6px,#1c1c1c 110.6px,#030303 113.6px,#040404 114.6px,#0d0d0d 116.6px,#0d0d0d 119.7px,#010101 124.7px,#010101 129.7px,#040404 134.7px,#000000 137.7px,#050505 142.7px,#000000 147.7px,#030303 153.7px,#010101 157.7px,#020202 158.7px)"></i><i style="top:63.00px;height:1.50px;background:linear-gradient(90deg,#0d0d0d 0.5px,#181818 4.5px,#191919 6.5px,#111111 8.5px,#030303 10.5px,#0d0d0d 11.5px,#464646 15.5px,#505050,#565656,#585858,#535353,#484848,#363636 21.5px,#080808 23.5px,#191919 24.5px,#585858 26.5px,#717171,#868686,#939393,#979797,#929292,#828282,#6b6b6b 33.5px,#282828 35.5px,#090909,#282828,#4e4e4e,#6d6d6d,#878787,#979797,#9f9f9f,#9c9c9c,#909090,#7d7d7d,#636363 46.6px,#252525 48.6px,#090909,#191919 50.6px,#484848 52.6px,#575757,#616161,#656565,#646464,#5f5f5f 57.6px,#4c4c4c 59.6px,#080808 64.6px,#060606 65.6px,#2c2c2c 68.6px,#3f3f3f 70.6px,#494949 72.6px,#494949 73.6px,#3e3e3e 75.6px,#242424 77.6px,#121212,#050505,#131313,#262626 81.6px,#414141 83.6px,#484848,#4a4a4a,#464646,#3e3e3e,#313131 88.6px,#0f0f0f 90.6px,#060606 91.6px,#262626 93.6px,#323232,#3a3a3a,#3d3d3d,#3c3c3c,#363636 98.6px,#202020 100.6px,#040404 102.6px,#0a0a0a 103.6px,#1f1f1f 105.6px,#272727 107.6px,#232323 109.6px,#070707 113.6px,#020202 114.6px,#0c0c0c 117.6px,#0d0d0d 119.7px,#010101 126.7px,#020202 135.7px,#010101 138.7px,#040404 143.7px,#000000 147.7px,#030303 153.7px,#010101 157.7px,#010101 158.7px)"></i><i style="top:64.00px;height:1.50px;background:linear-gradient(90deg,#111111 0.5px,#1a1a1a 4.5px,#181818 6.5px,#0d0d0d 8.5px,#040404,#080808 10.5px,#3f3f3f 14.5px,#4b4b4b,#535353,#575757,#565656,#4f4f4f,#434343 20.5px,#181818 22.5px,#080808,#212121 24.5px,#5d5d5d 26.5px,#757575,#888888,#939393,#969696,#909090,#808080,#686868,#494949,#262626,#090909,#272727,#4d4d4d,#6c6c6c,#868686,#969696,#9f9f9f,#9d9d9d,#939393,#828282 45.6px,#4d4d4d 47.6px,#0e0e0e 49.6px,#121212 50.6px,#454545 52.6px,#565656,#636363,#696969,#6b6b6b,#686868 57.6px,#565656 59.6px,#3a3a3a 61.6px,#0a0a0a 64.6px,#060606 65.6px,#242424 67.6px,#3c3c3c 69.6px,#454545 70.6px,#4d4d4d 72.6px,#464646 74.6px,#3e3e3e 75.6px,#222222 77.6px,#111111,#050505 79.6px,#262626 81.6px,#3f3f3f 83.6px,#454545,#474747,#444444,#3c3c3c,#303030 88.6px,#101010 90.6px,#050505 91.6px,#232323 93.6px,#363636 95.6px,#3a3a3a,#393939 97.6px,#2c2c2c 99.6px,#070707 102.6px,#060606 103.6px,#1b1b1b 105.6px,#242424 107.6px,#232323 109.6px,#191919 111.6px,#050505 114.6px,#020202 115.6px,#0b0b0b 118.6px,#0b0b0b 121.7px,#020202 127.7px,#010101 135.7px,#030303 143.7px,#010101 148.7px,#010101 155.7px,#010101 158.7px)"></i><i style="top:65.00px;height:1.50px;background:linear-gradient(90deg,#151515 0.5px,#1b1b1b 3.5px,#191919 5.5px,#101010 7.5px,#080808,#040404 9.5px,#1d1d1d 11.5px,#454545 14.5px,#565656 16.5px,#585858,#545454,#4b4b4b,#3d3d3d 20.5px,#101010 22.5px,#0c0c0c 23.5px,#636363 26.5px,#797979,#8a8a8a,#949494,#959595,#8e8e8e,#7d7d7d,#666666,#474747,#242424,#090909,#272727,#4c4c4c,#6b6b6b,#858585,#969696,#9f9f9f,#9f9f9f,#969696,#868686 45.6px,#535353 47.6px,#151515 49.6px,#0c0c0c 50.6px,#414141 52.6px,#555555,#646464,#6d6d6d,#707070,#6f6f6f,#696969,#5f5f5f 59.6px,#424242 61.6px,#0c0c0c 64.6px,#060606 65.6px,#272727 67.6px,#404040 69.6px,#494949 70.6px,#505050 72.6px,#4e4e4e,#484848 74.6px,#313131 76.6px,#101010 78.6px,#050505 79.6px,#333333 82.6px,#3d3d3d,#434343,#454545,#424242 86.6px,#2f2f2f 88.6px,#040404 91.6px,#1f1f1f 93.6px,#333333 95.6px,#373737,#373737 97.6px,#2c2c2c 99.6px,#0a0a0a 102.6px,#030303 103.6px,#171717 105.6px,#222222 107.6px,#232323 109.6px,#1b1b1b 111.6px,#020202 115.6px,#0c0c0c 120.7px,#030303 129.7px,#010101 137.7px,#030303 144.7px,#010101 149.7px,#010101 155.7px,#010101 158.7px)"></i><i style="top:66.00px;height:1.50px;background:linear-gradient(90deg,#191919 0.5px,#1d1d1d 3.5px,#181818 5.5px,#0b0b0b 7.5px,#030303,#0a0a0a 9.5px,#404040 13.5px,#535353 15.5px,#585858,#575757,#525252,#474747,#373737 20.5px,#0a0a0a 22.5px,#141414 23.5px,#686868 26.5px,#7c7c7c,#8c8c8c,#949494,#949494,#8c8c8c,#7b7b7b,#646464 33.5px,#232323 35.5px,#090909,#282828,#4c4c4c,#6a6a6a,#848484,#969696,#a0a0a0,#a1a1a1,#999999,#8a8a8a,#747474,#595959 47.6px,#1b1b1b 49.6px,#080808 50.6px,#3e3e3e 52.6px,#545454,#656565,#707070,#757575,#757575,#707070,#676767 59.6px,#4a4a4a 61.6px,#0f0f0f 64.6px,#060606 65.6px,#292929 67.6px,#444444 69.6px,#4d4d4d,#525252,#535353,#505050 73.6px,#3f3f3f 75.6px,#222222 77.6px,#101010,#050505 79.6px,#242424 81.6px,#3c3c3c 83.6px,#434343 85.6px,#404040 86.6px,#2f2f2f 88.6px,#040404 91.6px,#0d0d0d,#1c1c1c 93.6px,#2f2f2f 95.6px,#343434,#353535 97.6px,#2c2c2c 99.6px,#030303 103.6px,#090909 104.6px,#1a1a1a 106.6px,#202020 107.6px,#222222 109.6px,#1c1c1c 111.6px,#010101 116.6px,#0b0b0b 120.7px,#0a0a0a 124.7px,#010101 133.7px,#010101 137.7px,#030303 144.7px,#010101 149.7px,#010101 155.7px,#010101 158.7px)"></i><i style="top:67.00px;height:1.50px;background:linear-gradient(90deg,#1c1c1c 0.5px,#1e1e1e 2.5px,#1b1b1b 4.5px,#0f0f0f 6.5px,#060606,#040404 8.5px,#464646 13.5px,#565656 15.5px,#595959,#565656,#4f4f4f,#424242,#313131,#1a1a1a,#070707,#1b1b1b 23.5px,#535353 25.5px,#6c6c6c,#808080,#8e8e8e,#959595,#949494,#8b8b8b,#797979,#626262 33.5px,#212121 35.5px,#090909,#282828,#4c4c4c,#6a6a6a,#848484,#969696,#a1a1a1,#a2a2a2,#9c9c9c,#8e8e8e 45.6px,#5f5f5f 47.6px,#212121 49.6px,#080808,#1e1e1e,#3b3b3b,#525252,#656565,#727272,#797979,#7b7b7b,#777777,#6e6e6e 59.6px,#505050 61.6px,#282828 63.6px,#121212,#050505 65.6px,#3a3a3a 68.6px,#505050 70.6px,#555555,#565656,#535353 73.6px,#414141 75.6px,#232323 77.6px,#111111,#040404 79.6px,#232323 81.6px,#3a3a3a 83.6px,#414141 85.6px,#3f3f3f 86.6px,#2e2e2e 88.6px,#040404 91.6px,#0b0b0b 92.6px,#232323 94.6px,#2c2c2c,#313131 96.6px,#303030 98.6px,#242424 100.6px,#040404 103.6px,#060606 104.6px,#171717 106.6px,#202020 108.6px,#202020 110.6px,#0f0f0f 114.6px,#030303 116.6px,#020202 117.6px,#0c0c0c 121.7px,#080808 127.7px,#000000 135.7px,#030303 143.7px,#000000 149.7px,#010101 158.7px)"></i><i style="top:68.00px;height:1.50px;background:linear-gradient(90deg,#1f1f1f 0.5px,#1f1f1f 2.5px,#191919 4.5px,#0c0c0c 6.5px,#030303,#0a0a0a 8.5px,#404040 12.5px,#535353 14.5px,#595959,#595959,#555555,#4c4c4c,#3e3e3e,#2b2b2b,#141414,#080808 22.5px,#595959 25.5px,#717171,#838383,#909090,#969696,#939393,#8a8a8a,#787878,#606060 33.5px,#202020 35.5px,#0a0a0a,#292929,#4d4d4d 38.5px,#848484 40.6px,#969696,#a1a1a1,#a4a4a4,#9e9e9e,#919191,#7d7d7d,#646464 47.6px,#080808 50.6px,#1a1a1a,#383838 52.6px,#656565 54.6px,#737373,#7c7c7c,#7f7f7f,#7c7c7c,#747474 59.6px,#575757 61.6px,#161616 64.6px,#050505 65.6px,#3a3a3a 68.6px,#515151 70.6px,#575757,#585858,#555555 73.6px,#424242 75.6px,#242424 77.6px,#121212,#040404 79.6px,#212121 81.6px,#373737 83.6px,#3d3d3d,#3f3f3f,#3d3d3d 86.6px,#2e2e2e 88.6px,#151515 90.6px,#060606,#080808 92.6px,#202020 94.6px,#292929 95.6px,#303030 97.6px,#2b2b2b 99.6px,#121212 102.6px,#070707,#030303 104.6px,#141414 106.6px,#1b1b1b 107.6px,#202020 109.6px,#1e1e1e 111.6px,#0c0c0c 115.6px,#020202 117.6px,#0c0c0c 122.7px,#070707 129.7px,#000000 135.7px,#030303 143.7px,#000000 150.7px,#010101 158.7px)"></i><i style="top:69.00px;height:1.50px;background:linear-gradient(90deg,#212121 0.5px,#202020 2.5px,#181818 4.5px,#070707 6.5px,#050505 7.5px,#1e1e1e 9.5px,#464646 12.5px,#575757 14.5px,#5a5a5a,#595959,#535353,#494949,#393939,#252525,#0d0d0d,#0d0d0d 22.5px,#5e5e5e 25.5px,#757575,#868686,#929292,#969696,#939393,#888888,#767676,#5e5e5e 33.5px,#1e1e1e 35.5px,#0a0a0a 36.5px,#4d4d4d 38.5px,#6b6b6b,#858585,#979797,#a3a3a3,#a6a6a6,#a1a1a1,#949494,#808080,#686868 47.6px,#2b2b2b 49.6px,#0a0a0a,#161616,#353535,#4f4f4f,#656565,#747474,#7f7f7f,#838383,#818181,#7a7a7a,#6d6d6d 60.6px,#484848 62.6px,#1a1a1a 64.6px,#060606,#141414 66.6px,#3a3a3a 68.6px,#484848,#525252,#585858,#595959,#565656,#4f4f4f 74.6px,#363636 76.6px,#040404 79.6px,#0e0e0e 80.6px,#2b2b2b 82.6px,#353535,#3b3b3b,#3d3d3d 85.6px,#363636 87.6px,#2e2e2e 88.6px,#080808 91.6px,#050505 92.6px,#1d1d1d 94.6px,#2b2b2b 96.6px,#2e2e2e 97.6px,#2a2a2a 99.6px,#1c1c1c 101.6px,#090909 103.6px,#030303 104.6px,#181818 107.6px,#1f1f1f 109.6px,#1f1f1f 111.6px,#0e0e0e 115.6px,#010101 118.6px,#0c0c0c 122.7px,#0c0c0c 126.7px,#000000 135.7px,#030303 143.7px,#000000 151.7px,#010101 158.7px)"></i><i style="top:70.00px;height:1.50px;background:linear-gradient(90deg,#232323 0.5px,#202020 2.5px,#151515 4.5px,#030303 6.5px,#0a0a0a 7.5px,#404040 11.5px,#545454 13.5px,#5a5a5a,#5c5c5c,#595959,#515151,#454545,#343434 19.5px,#080808 21.5px,#141414 22.5px,#646464 25.5px,#797979,#898989,#949494,#979797,#939393,#878787,#747474,#5c5c5c 33.5px,#1c1c1c 35.5px,#0b0b0b 36.5px,#4e4e4e 38.5px,#6c6c6c,#868686,#989898,#a4a4a4,#a7a7a7,#a3a3a3,#979797,#848484,#6c6c6c 47.6px,#2f2f2f 49.6px,#0e0e0e,#121212,#323232,#4d4d4d,#646464,#757575,#818181,#868686,#858585,#7e7e7e,#727272,#626262 61.6px,#373737 63.6px,#080808 65.6px,#111111 66.6px,#393939 68.6px,#525252 70.6px,#595959 71.6px,#585858 73.6px,#515151 74.6px,#383838 76.6px,#171717 78.6px,#050505,#0c0c0c 80.6px,#282828 82.6px,#323232 83.6px,#3b3b3b 85.6px,#3a3a3a 86.6px,#2d2d2d 88.6px,#171717 90.6px,#0a0a0a,#040404 92.6px,#222222 95.6px,#2b2b2b 97.6px,#292929 99.6px,#1d1d1d 101.6px,#030303 104.6px,#070707 105.6px,#161616 107.6px,#1e1e1e 109.6px,#1f1f1f 111.6px,#151515 114.6px,#020202 118.6px,#070707 120.7px,#0e0e0e 124.7px,#080808 130.7px,#000000 135.7px,#030303 143.7px,#000000 157.7px,#010101 158.7px)"></i><i style="top:71.00px;height:1.50px;background:linear-gradient(90deg,#252525 0.5px,#1f1f1f 2.5px,#121212 4.5px,#080808,#040404 6.5px,#1d1d1d 8.5px,#464646 11.5px,#585858 13.5px,#5c5c5c,#5c5c5c,#585858,#4f4f4f,#414141,#2f2f2f,#191919,#070707,#1a1a1a 22.5px,#505050 24.5px,#696969,#7d7d7d,#8c8c8c,#959595,#979797,#929292,#868686,#727272,#5a5a5a 33.5px,#1a1a1a 35.5px,#0c0c0c 36.5px,#4f4f4f 38.5px,#868686 40.6px,#999999,#a5a5a5,#a8a8a8,#a5a5a5,#999999,#878787,#6f6f6f 47.6px,#333333 49.6px,#121212,#0f0f0f,#2f2f2f,#4b4b4b,#636363,#757575,#828282,#888888,#888888,#828282,#767676,#666666 61.6px,#3c3c3c 63.6px,#0b0b0b 65.6px,#0d0d0d 66.6px,#363636 68.6px,#464646,#515151,#585858,#5b5b5b,#595959 73.6px,#484848 75.6px,#2b2b2b 77.6px,#080808 79.6px,#080808,#181818 81.6px,#2f2f2f 83.6px,#383838 85.6px,#383838 86.6px,#2d2d2d 88.6px,#030303 92.6px,#1f1f1f 95.6px,#292929 97.6px,#282828 99.6px,#161616 102.6px,#040404 104.6px,#050505 105.6px,#141414 107.6px,#1d1d1d 109.6px,#1f1f1f 111.6px,#171717 114.6px,#030303 118.6px,#010101 119.7px,#0d0d0d 123.7px,#0d0d0d 127.7px,#000000 136.7px,#030303 142.7px,#000000 157.7px,#010101 158.7px)"></i><i style="top:72.00px;height:1.50px;background:linear-gradient(90deg,#262626 0.5px,#1e1e1e 2.5px,#0e0e0e 4.5px,#040404,#080808 6.5px,#3f3f3f 10.5px,#555555 12.5px,#5e5e5e 14.5px,#575757 16.5px,#4c4c4c,#3d3d3d 18.5px,#131313 20.5px,#090909,#212121 22.5px,#565656 24.5px,#818181 26.5px,#8f8f8f,#979797,#989898,#929292,#858585,#717171,#585858 33.5px,#181818 35.5px,#0d0d0d 36.5px,#505050 38.5px,#878787 40.6px,#999999,#a6a6a6,#aaaaaa,#a6a6a6,#9c9c9c,#8a8a8a,#737373 47.6px,#373737 49.6px,#151515,#0c0c0c,#2c2c2c 52.6px,#616161 54.6px,#747474,#828282,#898989,#8a8a8a,#858585,#7a7a7a,#6b6b6b 61.6px,#414141 63.6px,#101010 65.6px,#0a0a0a 66.6px,#343434 68.6px,#505050 70.6px,#585858,#5b5b5b,#595959 73.6px,#4a4a4a 75.6px,#2e2e2e 77.6px,#0c0c0c 79.6px,#050505 80.6px,#212121 82.6px,#323232 84.6px,#363636,#363636 86.6px,#2c2c2c 88.6px,#191919 90.6px,#030303 92.6px,#090909 93.6px,#1c1c1c 95.6px,#262626 97.6px,#262626 99.6px,#1d1d1d 101.6px,#060606 104.6px,#030303 105.6px,#171717 108.6px,#1d1d1d 110.6px,#1e1e1e 112.6px,#0f0f0f 116.6px,#010101 119.7px,#0e0e0e 124.7px,#0d0d0d 128.7px,#000000 136.7px,#040404 142.7px,#000000 156.7px,#010101 158.7px)"></i><i style="top:73.00px;height:1.50px;background:linear-gradient(90deg,#262626 0.5px,#1c1c1c 2.5px,#030303 5.5px,#1c1c1c 7.5px,#454545 10.5px,#585858 12.5px,#5e5e5e,#5f5f5f,#5c5c5c,#555555,#494949,#393939 18.5px,#0d0d0d 20.5px,#0d0d0d 21.5px,#434343 23.5px,#727272 25.5px,#848484,#919191,#989898,#989898,#919191,#848484,#6f6f6f,#565656 33.5px,#161616 35.5px,#0e0e0e 36.5px,#515151 38.5px,#888888 40.6px,#9a9a9a,#a6a6a6,#ababab,#a8a8a8,#9d9d9d,#8c8c8c,#757575 47.6px,#3a3a3a 49.6px,#191919,#0a0a0a 51.6px,#464646 53.6px,#606060,#737373,#828282,#8a8a8a,#8c8c8c,#888888 59.6px,#6f6f6f 61.6px,#454545 63.6px,#141414 65.6px,#070707 66.6px,#303030 68.6px,#414141,#4e4e4e,#565656,#5a5a5a,#595959,#545454 74.6px,#3f3f3f 76.6px,#202020 78.6px,#0f0f0f,#040404 80.6px,#272727 83.6px,#323232 85.6px,#313131 87.6px,#242424 89.6px,#050505 92.6px,#060606 93.6px,#191919 95.6px,#232323 97.6px,#242424 99.6px,#1d1d1d 101.6px,#020202 105.6px,#1a1a1a 109.6px,#1e1e1e 112.6px,#111111 116.6px,#020202 119.7px,#020202 120.7px,#0e0e0e 124.7px,#0e0e0e 128.7px,#000000 137.7px,#040404 144.7px,#010101 156.7px,#010101 158.7px)"></i><i style="top:74.00px;height:1.50px;background:linear-gradient(90deg,#262626 0.5px,#1a1a1a 2.5px,#060606 4.5px,#070707 5.5px,#4a4a4a 10.5px,#555555 11.5px,#606060 13.5px,#606060 14.5px,#535353 16.5px,#343434 18.5px,#080808 20.5px,#131313 21.5px,#484848 23.5px,#767676 25.5px,#888888,#939393,#999999,#989898,#909090,#828282,#6d6d6d,#545454 33.5px,#141414 35.5px,#0f0f0f 36.5px,#535353 38.5px,#898989 40.6px,#9b9b9b,#a7a7a7,#acacac,#a9a9a9,#9f9f9f,#8e8e8e,#787878 47.6px,#3d3d3d 49.6px,#1c1c1c,#090909 51.6px,#434343 53.6px,#5d5d5d,#727272,#818181,#8a8a8a,#8d8d8d,#8a8a8a,#808080,#727272 61.6px,#4a4a4a 63.6px,#191919 65.6px,#060606,#171717,#2c2c2c 68.6px,#4b4b4b 70.6px,#545454,#595959,#595959 73.6px,#4d4d4d 75.6px,#343434 77.6px,#131313 79.6px,#050505,#0b0b0b 81.6px,#232323 83.6px,#2f2f2f 85.6px,#2f2f2f 87.6px,#232323 89.6px,#070707 92.6px,#040404 93.6px,#1c1c1c 96.6px,#222222 98.6px,#232323 99.6px,#171717 102.6px,#020202 105.6px,#181818 109.6px,#1d1d1d 111.6px,#1a1a1a 114.6px,#090909 118.6px,#010101 120.7px,#0d0d0d 124.7px,#0f0f0f 128.7px,#000000 137.7px,#040404 145.7px,#010101 157.7px,#010101 158.7px)"></i><i style="top:75.00px;height:1.50px;background:linear-gradient(90deg,#252525 0.5px,#171717 2.5px,#030303 4.5px,#0c0c0c 5.5px,#444444 9.5px,#595959 11.5px,#5f5f5f 12.5px,#606060 14.5px,#5a5a5a,#505050 16.5px,#2f2f2f 18.5px,#060606 20.5px,#1a1a1a 21.5px,#4e4e4e 23.5px,#7a7a7a 25.5px,#8b8b8b,#959595,#9a9a9a,#989898,#8f8f8f,#818181 31.5px,#525252 33.5px,#121212 35.5px,#111111 36.5px,#545454 38.5px,#898989 40.6px,#9b9b9b,#a8a8a8,#acacac,#aaaaaa,#a0a0a0,#909090,#7a7a7a 47.6px,#404040 49.6px,#1f1f1f,#090909 51.6px,#5b5b5b 54.6px,#707070,#808080,#8a8a8a,#8e8e8e,#8b8b8b,#838383,#767676 61.6px,#4e4e4e 63.6px,#070707 66.6px,#121212 67.6px,#393939 69.6px,#484848 70.6px,#575757 72.6px,#585858,#555555,#4e4e4e 75.6px,#373737 77.6px,#090909 80.6px,#060606 81.6px,#1e1e1e 83.6px,#2b2b2b 85.6px,#2d2d2d 87.6px,#232323 89.6px,#020202 93.6px,#191919 96.6px,#202020 98.6px,#1f1f1f 100.6px,#171717 102.6px,#020202 105.6px,#050505 106.6px,#171717 109.6px,#1d1d1d 112.6px,#181818 115.6px,#020202 120.7px,#070707 122.7px,#101010 126.7px,#0e0e0e 130.7px,#000000 138.7px,#040404 143.7px,#010101 158.7px)"></i><i style="top:76.00px;height:1.50px;background:linear-gradient(90deg,#242424 0.5px,#141414 2.5px,#090909,#040404 4.5px,#494949 9.5px,#5c5c5c 11.5px,#636363 13.5px,#606060,#595959,#4d4d4d 16.5px,#2a2a2a 18.5px,#131313,#070707 20.5px,#535353 23.5px,#7e7e7e 25.5px,#8d8d8d,#979797,#9b9b9b,#989898,#8e8e8e,#7f7f7f,#696969,#4f4f4f 33.5px,#101010 35.5px,#131313 36.5px,#555555 38.5px,#8a8a8a 40.6px,#9c9c9c,#a8a8a8,#adadad,#ababab,#a1a1a1,#919191,#7c7c7c 47.6px,#434343 49.6px,#222222,#090909,#202020 52.6px,#585858 54.6px,#6e6e6e,#7f7f7f,#898989,#8e8e8e,#8c8c8c,#858585,#787878 61.6px,#535353 63.6px,#0b0b0b 66.6px,#0c0c0c,#222222 68.6px,#444444 70.6px,#555555 72.6px,#575757 73.6px,#4f4f4f 75.6px,#393939 77.6px,#0d0d0d 80.6px,#030303 81.6px,#191919 83.6px,#272727 85.6px,#2a2a2a 87.6px,#222222 89.6px,#131313 91.6px,#020202 93.6px,#1a1a1a 97.6px,#1e1e1e 99.6px,#1a1a1a 101.6px,#0a0a0a 104.6px,#030303,#040404 106.6px,#151515 109.6px,#1d1d1d 112.6px,#181818 115.6px,#030303 120.7px,#020202 121.7px,#0e0e0e 125.7px,#101010 129.7px,#000000 138.7px,#040404 144.7px,#010101 158.7px)"></i><i style="top:77.00px;height:1.50px;background:linear-gradient(90deg,#222222 0.5px,#101010 2.5px,#050505,#090909 4.5px,#424242 8.5px,#585858 10.5px,#636363 12.5px,#636363,#5f5f5f,#575757,#4a4a4a 16.5px,#252525 18.5px,#0e0e0e,#0b0b0b 20.5px,#585858 23.5px,#818181 25.5px,#909090,#989898,#9b9b9b,#989898,#8d8d8d,#7e7e7e 31.5px,#4d4d4d 33.5px,#0e0e0e 35.5px,#151515 36.5px,#565656 38.5px,#727272,#8a8a8a,#9c9c9c,#a9a9a9,#adadad,#ababab,#a2a2a2,#929292,#7d7d7d 47.6px,#464646 49.6px,#252525,#090909,#1d1d1d 52.6px,#555555 54.6px,#6b6b6b,#7d7d7d,#888888,#8e8e8e,#8d8d8d,#868686,#7b7b7b 61.6px,#575757 63.6px,#101010 66.6px,#070707,#1d1d1d 68.6px,#3f3f3f 70.6px,#525252 72.6px,#555555,#545454,#4f4f4f 75.6px,#3c3c3c 77.6px,#040404 81.6px,#090909 82.6px,#1c1c1c 84.6px,#232323 85.6px,#272727 87.6px,#212121 89.6px,#0c0c0c 92.6px,#030303,#050505 94.6px,#171717 97.6px,#1c1c1c 99.6px,#191919 101.6px,#040404 105.6px,#030303 106.6px,#181818 110.6px,#1c1c1c 113.6px,#161616 116.6px,#010101 121.7px,#0e0e0e 125.7px,#111111 129.7px,#000000 139.7px,#040404 144.7px,#010101 158.7px)"></i><i style="top:78.00px;height:1.50px;background:linear-gradient(90deg,#202020 0.5px,#030303 3.5px,#0e0e0e 4.5px,#474747 8.5px,#5c5c5c 10.5px,#656565 12.5px,#5e5e5e 14.5px,#474747 16.5px,#202020 18.5px,#090909,#101010 20.5px,#5d5d5d 23.5px,#848484 25.5px,#929292,#9a9a9a,#9b9b9b,#979797,#8c8c8c,#7c7c7c 31.5px,#4b4b4b 33.5px,#0d0d0d 35.5px,#171717 36.5px,#575757 38.5px,#737373,#8b8b8b,#9c9c9c,#a9a9a9,#aeaeae,#acacac,#a3a3a3,#939393,#7f7f7f 47.6px,#484848 49.6px,#0a0a0a 51.6px,#1a1a1a 52.6px,#525252 54.6px,#696969,#7b7b7b,#878787,#8d8d8d,#8d8d8d,#888888,#7d7d7d 61.6px,#5b5b5b 63.6px,#161616 66.6px,#050505 67.6px,#2a2a2a 69.6px,#3a3a3a 70.6px,#4f4f4f 72.6px,#535353,#535353 74.6px,#484848 76.6px,#323232 78.6px,#090909 81.6px,#040404 82.6px,#171717 84.6px,#222222 86.6px,#232323 88.6px,#1b1b1b 90.6px,#050505 93.6px,#030303 94.6px,#141414 97.6px,#191919 99.6px,#171717 101.6px,#0a0a0a 104.6px,#040404,#020202 106.6px,#171717 110.6px,#1c1c1c 113.6px,#131313 117.6px,#010101 121.7px,#0d0d0d 125.7px,#111111 128.7px,#0e0e0e 132.7px,#010101 139.7px,#050505 147.7px,#020202 158.7px)"></i><i style="top:79.00px;height:1.50px;background:linear-gradient(90deg,#1d1d1d 0.5px,#080808 2.5px,#060606 3.5px,#4c4c4c 8.5px,#5f5f5f 10.5px,#646464 11.5px,#636363 13.5px,#5d5d5d 14.5px,#434343 16.5px,#070707 19.5px,#161616 20.5px,#494949 22.5px,#626262 23.5px,#878787 25.5px,#949494,#9b9b9b,#9c9c9c,#969696,#8b8b8b,#7a7a7a 31.5px,#494949 33.5px,#0c0c0c 35.5px,#181818 36.5px,#585858 38.5px,#8b8b8b 40.6px,#9d9d9d,#a9a9a9,#aeaeae,#acacac,#a3a3a3,#949494,#808080 47.6px,#4a4a4a 49.6px,#0c0c0c 51.6px,#161616 52.6px,#4f4f4f 54.6px,#666666,#787878,#858585,#8c8c8c,#8d8d8d,#898989,#7f7f7f 61.6px,#5f5f5f 63.6px,#1b1b1b 66.6px,#070707,#111111 68.6px,#353535 70.6px,#424242,#4b4b4b,#505050 73.6px,#4f4f4f 75.6px,#404040 77.6px,#0e0e0e 81.6px,#040404,#090909 83.6px,#191919 85.6px,#202020 87.6px,#1e1e1e 89.6px,#0e0e0e 92.6px,#020202 94.6px,#141414 98.6px,#161616 100.6px,#121212 102.6px,#040404 105.6px,#020202 106.6px,#161616 110.6px,#1b1b1b 113.6px,#171717 116.6px,#020202 121.7px,#020202 122.7px,#0f0f0f 126.7px,#111111 130.7px,#030303 138.7px,#000000 140.7px,#050505 146.7px,#020202 158.7px)"></i><i style="top:80.00px;height:1.50px;background:linear-gradient(90deg,#1a1a1a 0.5px,#040404 2.5px,#0b0b0b 3.5px,#444444 7.5px,#5a5a5a 9.5px,#666666 11.5px,#666666 12.5px,#5b5b5b 14.5px,#3f3f3f 16.5px,#161616 18.5px,#070707,#1c1c1c 20.5px,#666666 23.5px,#8a8a8a 25.5px,#969696,#9b9b9b,#9b9b9b,#969696,#898989,#787878,#616161,#464646 33.5px,#0a0a0a 35.5px,#1a1a1a 36.5px,#595959 38.5px,#747474,#8b8b8b,#9d9d9d,#a9a9a9,#adadad,#acacac,#a4a4a4,#959595,#818181 47.6px,#4d4d4d 49.6px,#0f0f0f 51.6px,#131313 52.6px,#4c4c4c 54.6px,#767676 56.6px,#838383,#8b8b8b,#8d8d8d,#898989,#818181 61.6px,#626262 63.6px,#383838 65.6px,#0b0b0b 67.6px,#0b0b0b 68.6px,#303030 70.6px,#474747 72.6px,#4d4d4d 73.6px,#4e4e4e 75.6px,#424242 77.6px,#141414 81.6px,#080808,#040404 83.6px,#141414 85.6px,#1c1c1c 87.6px,#1c1c1c 89.6px,#0f0f0f 92.6px,#020202 94.6px,#090909 96.6px,#111111 98.6px,#141414 100.6px,#111111 102.6px,#040404 105.6px,#020202 106.6px,#151515 110.6px,#1b1b1b 113.6px,#141414 117.6px,#030303 121.7px,#010101 122.7px,#0e0e0e 126.7px,#121212 130.7px,#0b0b0b 135.7px,#010101 140.7px,#050505 148.7px,#020202 158.7px)"></i><i style="top:81.00px;height:1.50px;background:linear-gradient(90deg,#161616 0.5px,#030303 2.5px,#494949 7.5px,#5e5e5e 9.5px,#676767 11.5px,#666666,#616161,#585858 14.5px,#3b3b3b 16.5px,#111111 18.5px,#090909 19.5px,#6a6a6a 23.5px,#7d7d7d,#8c8c8c,#979797,#9c9c9c,#9b9b9b,#959595,#888888,#767676,#5f5f5f,#444444,#252525,#0a0a0a,#1c1c1c 36.5px,#5a5a5a 38.5px,#8b8b8b 40.6px,#9c9c9c,#a8a8a8,#adadad,#acacac,#a4a4a4,#969696,#838383 47.6px,#4f4f4f 49.6px,#111111 51.6px,#0f0f0f 52.6px,#484848 54.6px,#737373 56.6px,#808080,#898989,#8c8c8c,#8a8a8a,#828282,#767676,#666666 63.6px,#3e3e3e 65.6px,#111111 67.6px,#070707 68.6px,#2a2a2a 70.6px,#434343 72.6px,#4a4a4a 73.6px,#4d4d4d 75.6px,#4a4a4a 76.6px,#3b3b3b 78.6px,#030303 83.6px,#060606 84.6px,#141414 86.6px,#191919 88.6px,#171717 90.6px,#040404 94.6px,#020202 95.6px,#0e0e0e 98.6px,#111111 100.6px,#0c0c0c 103.6px,#030303 105.6px,#020202 106.6px,#141414 110.6px,#1a1a1a 113.6px,#171717 116.6px,#090909 120.7px,#010101 122.7px,#101010 127.7px,#121212 131.7px,#080808 137.7px,#000000 141.7px,#060606 147.7px,#030303 158.7px)"></i><i style="top:82.00px;height:1.50px;background:linear-gradient(90deg,#131313 0.5px,#060606,#070707 2.5px,#404040 6.5px,#585858 8.5px,#666666 10.5px,#666666 12.5px,#606060,#565656 14.5px,#373737 16.5px,#0c0c0c 18.5px,#0e0e0e 19.5px,#575757 22.5px,#6e6e6e,#808080,#8e8e8e,#989898,#9c9c9c,#9b9b9b,#939393,#868686,#747474 31.5px,#424242 33.5px,#232323,#090909,#1d1d1d 36.5px,#5b5b5b 38.5px,#8b8b8b 40.6px,#9c9c9c,#a8a8a8,#adadad,#ababab,#a4a4a4,#969696,#848484 47.6px,#515151 49.6px,#151515 51.6px,#0c0c0c 52.6px,#444444 54.6px,#6f6f6f 56.6px,#7e7e7e,#878787,#8b8b8b,#8a8a8a,#838383,#787878 62.6px,#575757 64.6px,#171717 67.6px,#050505,#121212,#242424 70.6px,#3e3e3e 72.6px,#4b4b4b 74.6px,#4c4c4c 75.6px,#454545 77.6px,#292929 80.6px,#080808 83.6px,#020202 84.6px,#0f0f0f 86.6px,#151515 88.6px,#151515 90.6px,#0a0a0a 93.6px,#010101 95.6px,#0d0d0d 99.6px,#0e0e0e 101.6px,#060606 104.6px,#020202,#020202 106.6px,#131313 110.6px,#1a1a1a 113.6px,#171717 116.6px,#010101 122.7px,#101010 127.7px,#131313 131.7px,#090909 137.7px,#010101 141.7px,#060606 149.7px,#030303 158.7px)"></i><i style="top:83.00px;height:1.50px;background:linear-gradient(90deg,#0f0f0f 0.5px,#040404,#0c0c0c 2.5px,#454545 6.5px,#5b5b5b 8.5px,#636363 9.5px,#686868 11.5px,#656565,#5e5e5e,#535353 14.5px,#323232 16.5px,#080808 18.5px,#131313 19.5px,#5c5c5c 22.5px,#717171 23.5px,#909090 25.5px,#999999,#9c9c9c,#9a9a9a,#929292,#848484,#727272 31.5px,#404040 33.5px,#212121,#090909,#1f1f1f 36.5px,#5b5b5b 38.5px,#757575,#8b8b8b,#9c9c9c,#a7a7a7,#acacac,#ababab,#a4a4a4,#969696,#848484 47.6px,#535353 49.6px,#181818 51.6px,#0a0a0a 52.6px,#414141 54.6px,#6c6c6c 56.6px,#7b7b7b,#858585,#8a8a8a,#898989,#848484,#7a7a7a 62.6px,#5b5b5b 64.6px,#323232 66.6px,#080808 68.6px,#0c0c0c 69.6px,#2d2d2d 71.6px,#424242 73.6px,#484848 74.6px,#494949 76.6px,#3f3f3f 78.6px,#191919 82.6px,#050505 84.6px,#030303 85.6px,#0e0e0e 87.6px,#131313 89.6px,#0e0e0e 92.6px,#020202 95.6px,#050505 97.6px,#0b0b0b 100.6px,#080808 103.6px,#010101 105.6px,#0b0b0b 108.6px,#161616 111.6px,#191919 115.6px,#0e0e0e 119.7px,#020202 122.7px,#070707 124.7px,#111111 128.7px,#131313 132.7px,#010101 141.7px,#070707 150.7px,#040404 158.7px)"></i><i style="top:84.00px;height:1.50px;background:linear-gradient(90deg,#0a0a0a 0.5px,#040404 1.5px,#3d3d3d 5.5px,#555555 7.5px,#656565 9.5px,#686868 11.5px,#646464 12.5px,#505050 14.5px,#2e2e2e 16.5px,#181818,#060606,#181818 19.5px,#494949 21.5px,#747474 23.5px,#858585,#929292,#9a9a9a,#9c9c9c,#999999,#919191 29.5px,#707070 31.5px,#3d3d3d 33.5px,#1f1f1f,#080808,#202020 36.5px,#5c5c5c 38.5px,#8b8b8b 40.6px,#9b9b9b,#a7a7a7,#acacac,#ababab,#a4a4a4,#979797,#858585 47.6px,#555555 49.6px,#1b1b1b 51.6px,#090909,#212121,#3d3d3d 54.6px,#696969 56.6px,#787878,#838383,#898989,#898989,#858585,#7c7c7c 62.6px,#5f5f5f 64.6px,#0e0e0e 68.6px,#060606 69.6px,#272727 71.6px,#3e3e3e 73.6px,#454545 74.6px,#484848 76.6px,#414141 78.6px,#1e1e1e 82.6px,#030303 85.6px,#040404 86.6px,#0d0d0d 88.6px,#101010 90.6px,#070707 94.6px,#010101 96.6px,#080808 100.6px,#030303 104.6px,#010101 105.6px,#131313 110.6px,#191919 114.6px,#121212 118.6px,#020202 122.7px,#020202 123.7px,#0f0f0f 127.7px,#141414 131.7px,#0b0b0b 137.7px,#000000 142.7px,#070707 149.7px,#040404 158.7px)"></i></div>
<div class="cb" style="left:425.70px;top:151.00px;width:3.00px;height:85.00px;background:linear-gradient(180deg,#800000 0.0%,#ff0000 12.5%,#ff8000 25.0%,#ffff00 37.5%,#80ff80 50.0%,#00ffff 62.5%,#0080ff 75.0%,#0000ff 87.5%,#000080 100.0%)"></div>
<div class="hm" style="left:503.90px;top:151.00px;width:159.20px;height:85.00px"><i style="top:0.00px;height:1.50px;background:linear-gradient(90deg,#000000 0.5px,#000000 158.7px)"></i><i style="top:1.00px;height:1.50px;background:linear-gradient(90deg,#000000 0.5px,#000000 158.7px)"></i><i style="top:2.00px;height:1.50px;background:linear-gradient(90deg,#000000 0.5px,#000000 158.7px)"></i><i style="top:3.00px;height:1.50px;background:linear-gradient(90deg,#000000 0.5px,#000000 158.7px)"></i><i style="top:4.00px;height:1.50px;background:linear-gradient(90deg,#000000 0.5px,#000000 158.7px)"></i><i style="top:5.00px;height:1.50px;background:linear-gradient(90deg,#000000 0.5px,#000000 158.7px)"></i><i style="top:6.00px;height:1.50px;background:linear-gradient(90deg,#000000 0.5px,#000000 158.7px)"></i><i style="top:7.00px;height:1.50px;background:linear-gradient(90deg,#000000 0.5px,#000000 158.7px)"></i><i style="top:8.00px;height:1.50px;background:linear-gradient(90deg,#000000 0.5px,#010101 37.5px,#000000 158.7px)"></i><i style="top:9.00px;height:1.50px;background:linear-gradient(90deg,#000000 0.5px,#010101 31.5px,#010101 43.6px,#010101 158.7px)"></i><i style="top:10.00px;height:1.50px;background:linear-gradient(90deg,#000000 0.5px,#010101 29.5px,#010101 44.6px,#010101 158.7px)"></i><i style="top:11.00px;height:1.50px;background:linear-gradient(90deg,#000000 0.5px,#010101 28.5px,#030303 32.5px,#010101 35.5px,#010101 42.6px,#020202 44.6px,#000000 76.6px,#010101 158.7px)"></i><i style="top:12.00px;height:1.50px;background:linear-gradient(90deg,#000000 0.5px,#010101 28.5px,#030303 30.5px,#010101,#030303 32.5px,#010101 35.5px,#010101 42.6px,#030303 44.6px,#010101 45.6px,#040404 47.6px,#010101 49.6px,#010101 78.6px,#010101 83.6px,#010101 158.7px)"></i><i style="top:13.00px;height:1.50px;background:linear-gradient(90deg,#000000 0.5px,#010101 25.5px,#030303 30.5px,#010101 31.5px,#020202 33.5px,#000000 35.5px,#020202 41.6px,#010101 42.6px,#040404 44.6px,#010101,#050505 46.6px,#020202 49.6px,#030303 51.6px,#010101 53.6px,#000000 77.6px,#030303 79.6px,#010101 81.6px,#010101 129.7px,#020202 138.7px,#010101 140.7px,#010101 158.7px)"></i><i style="top:14.00px;height:1.50px;background:linear-gradient(90deg,#000000 0.5px,#000000 24.5px,#030303 26.5px,#010101 27.5px,#050505 29.5px,#010101 31.5px,#030303 33.5px,#010101 37.5px,#020202 42.6px,#050505 43.6px,#020202 45.6px,#070707 47.6px,#020202 49.6px,#050505 51.6px,#010101 53.6px,#030303 55.6px,#000000 57.6px,#010101 60.6px,#010101 77.6px,#020202 80.6px,#000000 91.6px,#010101 119.7px,#010101 126.7px,#010101 132.7px,#030303 134.7px,#010101 136.7px,#010101 142.7px,#010101 156.7px,#010101 158.7px)"></i><i style="top:15.00px;height:1.50px;background:linear-gradient(90deg,#000000 0.5px,#010101 24.5px,#030303 26.5px,#010101 27.5px,#060606 29.5px,#010101 31.5px,#050505 33.5px,#000000 36.5px,#010101 41.6px,#060606 43.6px,#020202 45.6px,#090909 47.6px,#020202 49.6px,#070707 51.6px,#010101 53.6px,#040404 55.6px,#010101 57.6px,#020202 60.6px,#010101 64.6px,#010101 73.6px,#010101 77.6px,#040404 79.6px,#010101 81.6px,#030303 83.6px,#000000 87.6px,#010101 97.6px,#010101 114.6px,#000000 118.6px,#020202 121.7px,#010101 123.7px,#030303 125.7px,#020202 128.7px,#030303 130.7px,#020202 132.7px,#040404 134.7px,#010101 136.7px,#030303 138.7px,#020202 140.7px,#000000 155.7px,#010101 158.7px)"></i><i style="top:16.00px;height:1.50px;background:linear-gradient(90deg,#000000 0.5px,#000000 23.5px,#040404 25.5px,#010101 27.5px,#070707 29.5px,#020202 31.5px,#070707 33.5px,#010101 37.5px,#000000 40.6px,#080808 43.6px,#030303 45.6px,#090909,#0b0b0b 47.6px,#020202 49.6px,#080808,#090909 51.6px,#010101 53.6px,#060606 55.6px,#010101 57.6px,#040404 59.6px,#000000 62.6px,#010101 65.6px,#010101 72.6px,#020202 75.6px,#020202 77.6px,#050505 79.6px,#010101 81.6px,#040404 83.6px,#000000 86.6px,#010101 90.6px,#010101 100.6px,#010101 109.6px,#010101 114.6px,#010101 118.6px,#030303 121.7px,#020202 123.7px,#040404 125.7px,#010101 127.7px,#050505 130.7px,#020202 132.7px,#050505 134.7px,#020202 136.7px,#040404 138.7px,#010101 139.7px,#030303 142.7px,#020202 144.7px,#000000 152.7px,#010101 158.7px)"></i><i style="top:17.00px;height:1.50px;background:linear-gradient(90deg,#000000 0.5px,#010101 23.5px,#050505 25.5px,#020202 27.5px,#090909 29.5px,#020202 31.5px,#080808 33.5px,#050505 35.5px,#010101 37.5px,#020202 40.6px,#090909 42.6px,#090909 43.6px,#040404 45.6px,#0c0c0c,#0e0e0e 47.6px,#030303 49.6px,#090909,#0b0b0b 51.6px,#020202 53.6px,#080808 55.6px,#020202 57.6px,#050505 59.6px,#010101 62.6px,#020202 65.6px,#010101 67.6px,#000000 71.6px,#040404 74.6px,#010101 76.6px,#070707 78.6px,#040404 80.6px,#010101 81.6px,#060606 83.6px,#010101 86.6px,#030303 89.6px,#010101 91.6px,#010101 98.6px,#010101 104.6px,#000000 108.6px,#030303 111.6px,#010101 113.6px,#030303 116.6px,#010101 118.6px,#050505 120.7px,#010101 122.7px,#060606 125.7px,#010101 127.7px,#070707 129.7px,#020202 131.7px,#060606 134.7px,#020202 136.7px,#050505 138.7px,#020202 140.7px,#030303 142.7px,#020202 144.7px,#000000 155.7px,#020202 157.7px,#010101 158.7px)"></i><i style="top:18.00px;height:1.50px;background:linear-gradient(90deg,#000000 0.5px,#000000 22.5px,#050505 24.5px,#030303 27.5px,#090909,#0b0b0b,#090909,#030303 31.5px,#0a0a0a 33.5px,#0b0b0b 34.5px,#010101 37.5px,#050505 40.6px,#0c0c0c 42.6px,#0b0b0b,#040404,#060606,#0f0f0f,#111111 47.6px,#030303 49.6px,#0e0e0e 51.6px,#030303 53.6px,#090909 55.6px,#020202 58.6px,#060606 60.6px,#010101 62.6px,#020202 65.6px,#010101 71.6px,#050505 74.6px,#010101 76.6px,#090909 78.6px,#090909 79.6px,#010101 81.6px,#080808 83.6px,#050505 85.6px,#010101 86.6px,#040404 88.6px,#020202 92.6px,#010101 95.6px,#030303 97.6px,#000000 99.6px,#010101 108.6px,#040404 110.6px,#010101 113.6px,#040404 116.6px,#020202 118.6px,#060606 120.7px,#010101 122.7px,#070707 124.7px,#040404 126.7px,#020202 127.7px,#090909 129.7px,#020202 131.7px,#070707 133.7px,#040404 135.7px,#020202 136.7px,#060606 138.7px,#010101 140.7px,#040404 142.7px,#010101 144.7px,#030303 146.7px,#000000 148.7px,#010101 158.7px)"></i><i style="top:19.00px;height:1.50px;background:linear-gradient(90deg,#000000 0.5px,#010101 22.5px,#060606 24.5px,#060606,#020202 26.5px,#0e0e0e 29.5px,#030303 31.5px,#0c0c0c 33.5px,#0e0e0e 34.5px,#070707 36.5px,#010101 38.5px,#0e0e0e 41.6px,#0f0f0f,#0c0c0c,#030303 44.6px,#121212 46.6px,#141414 47.6px,#030303 49.6px,#101010 51.6px,#0d0d0d,#040404,#050505,#0b0b0b,#0a0a0a 56.6px,#020202 58.6px,#070707 60.6px,#020202 62.6px,#030303 65.6px,#010101 67.6px,#020202 71.6px,#060606 74.6px,#020202 76.6px,#0b0b0b 78.6px,#0b0b0b 79.6px,#020202 81.6px,#0a0a0a 83.6px,#0a0a0a 84.6px,#020202 86.6px,#050505 88.6px,#010101 91.6px,#010101 95.6px,#030303 97.6px,#010101 101.6px,#030303 106.6px,#010101 108.6px,#050505 110.6px,#010101 113.6px,#060606 115.6px,#020202 117.6px,#080808 120.7px,#010101 122.7px,#090909 124.7px,#090909 125.7px,#020202 127.7px,#080808 128.7px,#090909 130.7px,#030303 131.7px,#090909 134.7px,#020202 136.7px,#060606 138.7px,#010101 140.7px,#040404 142.7px,#010101 144.7px,#030303 146.7px,#000000 148.7px,#020202 152.7px,#010101 155.7px,#010101 158.7px)"></i><i style="top:20.00px;height:1.50px;background:linear-gradient(90deg,#000000 0.5px,#010101 21.5px,#080808 24.5px,#020202 26.5px,#0e0e0e 28.5px,#101010,#0d0d0d,#040404,#070707,#0f0f0f,#121212,#111111 35.5px,#050505 37.5px,#020202 38.5px,#141414 41.6px,#131313,#0d0d0d,#030303 44.6px,#161616 46.6px,#171717 47.6px,#040404 49.6px,#121212 51.6px,#0f0f0f,#060606,#050505,#0c0c0c,#0c0c0c 56.6px,#020202 58.6px,#090909 60.6px,#010101 63.6px,#040404 65.6px,#010101 67.6px,#030303 69.6px,#010101 70.6px,#080808 73.6px,#030303 75.6px,#030303 76.6px,#0e0e0e 78.6px,#0d0d0d 79.6px,#020202 81.6px,#0c0c0c 83.6px,#090909 85.6px,#030303,#020202 87.6px,#050505 89.6px,#010101 91.6px,#010101 95.6px,#040404 97.6px,#000000 100.6px,#040404 105.6px,#010101 107.6px,#060606 110.6px,#020202 113.6px,#070707 115.6px,#020202 117.6px,#090909 120.7px,#020202 122.7px,#0b0b0b 124.7px,#0b0b0b 125.7px,#030303 127.7px,#0c0c0c 129.7px,#0a0a0a,#040404,#040404,#090909,#0a0a0a 134.7px,#020202 136.7px,#070707 138.7px,#010101 140.7px,#040404 142.7px,#010101 144.7px,#040404 146.7px,#010101 149.7px,#020202 152.7px,#000000 154.7px,#030303 157.7px,#010101 158.7px)"></i><i style="top:21.00px;height:1.50px;background:linear-gradient(90deg,#000000 0.5px,#020202 21.5px,#090909 23.5px,#060606 25.5px,#020202 26.5px,#121212 28.5px,#141414,#0f0f0f,#050505,#080808,#121212,#181818,#171717 35.5px,#080808 37.5px,#040404 38.5px,#161616 40.6px,#1a1a1a,#181818 42.6px,#040404 44.6px,#1a1a1a 46.6px,#1b1b1b,#121212,#050505 49.6px,#131313 51.6px,#121212,#090909,#040404,#0c0c0c,#0e0e0e 56.6px,#020202 58.6px,#090909 60.6px,#090909 61.6px,#010101 63.6px,#040404 65.6px,#010101 67.6px,#010101 70.6px,#0a0a0a 73.6px,#090909,#030303,#050505 76.6px,#111111 78.6px,#101010 79.6px,#020202 81.6px,#0e0e0e 83.6px,#0f0f0f 84.6px,#020202 87.6px,#060606 88.6px,#050505 90.6px,#010101 91.6px,#020202 95.6px,#050505 97.6px,#010101 100.6px,#060606 104.6px,#010101 107.6px,#070707 110.6px,#020202 112.6px,#080808 115.6px,#020202 117.6px,#090909 119.7px,#0a0a0a 120.7px,#020202 122.7px,#0d0d0d 124.7px,#0c0c0c 125.7px,#030303 127.7px,#0e0e0e 129.7px,#0b0b0b,#040404,#040404,#0a0a0a,#0b0b0b 134.7px,#020202 136.7px,#070707 138.7px,#010101 140.7px,#040404 142.7px,#010101 144.7px,#040404 146.7px,#010101 149.7px,#040404 151.7px,#020202 155.7px,#020202 158.7px)"></i><i style="top:22.00px;height:1.50px;background:linear-gradient(90deg,#000000 0.5px,#010101 20.5px,#0b0b0b 23.5px,#0a0a0a,#050505,#040404 26.5px,#161616 28.5px,#181818,#111111,#060606,#0a0a0a,#161616,#1e1e1e,#1e1e1e,#171717,#0b0b0b,#050505 38.5px,#1e1e1e 40.6px,#222222,#1d1d1d 42.6px,#050505 44.6px,#1e1e1e 46.6px,#1f1f1f,#151515,#060606,#0b0b0b,#141414,#141414 52.6px,#030303 54.6px,#0b0b0b,#0e0e0e,#0b0b0b,#030303,#040404,#090909,#0a0a0a 61.6px,#020202 63.6px,#020202 70.6px,#0b0b0b 72.6px,#0c0c0c 73.6px,#030303 75.6px,#070707,#101010,#151515,#131313 79.6px,#030303 81.6px,#111111 83.6px,#121212,#0f0f0f 85.6px,#020202 87.6px,#070707 89.6px,#010101 93.6px,#050505 98.6px,#010101 100.6px,#080808 104.6px,#010101 107.6px,#080808 109.6px,#070707 111.6px,#020202,#030303,#080808 114.6px,#070707 116.6px,#020202 117.6px,#0a0a0a 119.7px,#0b0b0b 120.7px,#020202 122.7px,#0a0a0a,#0e0e0e,#0d0d0d 125.7px,#030303 127.7px,#0b0b0b,#0f0f0f,#0d0d0d,#050505,#040404,#0a0a0a,#0b0b0b 134.7px,#020202 136.7px,#060606 138.7px,#020202 141.7px,#030303 143.7px,#020202 145.7px,#040404 147.7px,#010101 149.7px,#040404 152.7px,#010101 154.7px,#040404 156.7px,#020202 158.7px)"></i><i style="top:23.00px;height:1.50px;background:linear-gradient(90deg,#010101 0.5px,#010101 6.5px,#010101 13.5px,#030303 18.5px,#020202 20.5px,#0b0b0b 22.5px,#0d0d0d,#0b0b0b,#040404,#080808 26.5px,#1b1b1b 28.5px,#1c1c1c,#141414,#060606,#0c0c0c,#1c1c1c,#252525,#262626,#1d1d1d,#0d0d0d,#070707,#191919,#262626,#2a2a2a,#232323 42.6px,#060606 44.6px,#232323 46.6px,#232323,#191919,#080808,#0a0a0a,#151515,#151515,#0e0e0e,#030303 54.6px,#0e0e0e 56.6px,#0c0c0c,#050505,#030303,#090909,#0b0b0b 61.6px,#010101 64.6px,#020202 66.6px,#010101 68.6px,#040404 70.6px,#0d0d0d 72.6px,#0e0e0e 73.6px,#030303 75.6px,#191919 78.6px,#171717,#0f0f0f,#030303 81.6px,#131313 83.6px,#161616 84.6px,#0b0b0b 86.6px,#020202 87.6px,#080808 89.6px,#000000 93.6px,#060606 98.6px,#010101 100.6px,#0a0a0a 104.6px,#020202 107.6px,#090909 109.6px,#0a0a0a 110.6px,#020202 112.6px,#090909 115.6px,#020202 117.6px,#0b0b0b 119.7px,#0b0b0b 120.7px,#030303 122.7px,#0b0b0b,#0f0f0f,#0e0e0e,#070707,#040404,#0c0c0c,#101010,#0e0e0e 130.7px,#030303 132.7px,#0c0c0c 134.7px,#020202 137.7px,#050505 139.7px,#010101 141.7px,#020202 143.7px,#020202 145.7px,#040404 147.7px,#010101 149.7px,#050505 151.7px,#010101 154.7px,#040404 157.7px,#020202 158.7px)"></i><i style="top:24.00px;height:1.50px;background:linear-gradient(90deg,#010101 0.5px,#010101 6.5px,#010101 10.5px,#030303 14.5px,#030303 18.5px,#010101 19.5px,#0f0f0f 22.5px,#0f0f0f,#0b0b0b,#030303 25.5px,#181818 27.5px,#202020,#202020,#161616,#070707,#101010,#222222,#2e2e2e,#2e2e2e,#232323,#101010,#090909,#1f1f1f,#2f2f2f,#333333,#2a2a2a 42.6px,#060606 44.6px,#272727 46.6px,#282828,#1d1d1d,#0b0b0b,#080808,#141414,#171717,#101010,#040404 54.6px,#0d0d0d 56.6px,#0d0d0d 57.6px,#020202 59.6px,#0b0b0b 61.6px,#060606 63.6px,#000000 65.6px,#010101 68.6px,#101010 72.6px,#0f0f0f 73.6px,#030303 75.6px,#181818 77.6px,#1d1d1d,#1a1a1a,#111111,#040404,#0b0b0b,#161616,#191919,#161616 85.6px,#050505 87.6px,#030303,#080808 89.6px,#070707 91.6px,#020202 93.6px,#070707 98.6px,#010101 100.6px,#0c0c0c 103.6px,#090909 105.6px,#020202 107.6px,#0b0b0b 109.6px,#080808 111.6px,#020202 112.6px,#090909 114.6px,#060606 116.6px,#020202 117.6px,#0b0b0b 119.7px,#0b0b0b,#050505,#030303,#0c0c0c,#101010,#0e0e0e,#070707,#040404 127.7px,#111111 129.7px,#0f0f0f 130.7px,#020202 132.7px,#090909,#0c0c0c 134.7px,#050505 136.7px,#010101 137.7px,#050505 139.7px,#010101 142.7px,#000000 144.7px,#040404 146.7px,#010101 149.7px,#050505 151.7px,#010101 154.7px,#040404 157.7px,#030303 158.7px)"></i><i style="top:25.00px;height:1.50px;background:linear-gradient(90deg,#010101 0.5px,#010101 5.5px,#010101 10.5px,#010101 12.5px,#060606 16.5px,#020202 18.5px,#030303 19.5px,#121212 22.5px,#111111 23.5px,#040404 25.5px,#1e1e1e 27.5px,#262626,#252525,#181818,#070707,#151515,#2a2a2a,#373737,#373737,#292929,#121212,#0c0c0c,#252525,#383838,#3c3c3c,#313131 42.6px,#070707 44.6px,#2a2a2a 46.6px,#2d2d2d,#222222,#101010,#060606,#121212,#171717,#121212,#070707,#040404,#0c0c0c,#0d0d0d 57.6px,#020202 59.6px,#0b0b0b 61.6px,#090909 63.6px,#020202 65.6px,#020202 67.6px,#080808 69.6px,#111111 71.6px,#131313,#111111 73.6px,#040404 75.6px,#1c1c1c 77.6px,#212121,#1e1e1e,#141414,#050505,#0c0c0c,#181818,#1d1d1d,#1b1b1b,#141414,#090909,#020202 88.6px,#090909 90.6px,#050505 94.6px,#070707 98.6px,#010101 100.6px,#0e0e0e 103.6px,#0b0b0b 105.6px,#050505,#030303 107.6px,#0c0c0c 109.6px,#0c0c0c 110.6px,#020202 112.6px,#090909 114.6px,#090909 115.6px,#020202 117.6px,#0b0b0b 119.7px,#0a0a0a,#040404,#040404,#0c0c0c,#101010,#0e0e0e,#070707,#040404 127.7px,#111111 129.7px,#101010 130.7px,#020202 132.7px,#0c0c0c 134.7px,#070707 136.7px,#020202 137.7px,#040404 140.7px,#000000 143.7px,#030303 147.7px,#010101 149.7px,#050505 151.7px,#010101 154.7px,#050505 157.7px,#030303 158.7px)"></i><i style="top:26.00px;height:1.50px;background:linear-gradient(90deg,#010101 0.5px,#010101 5.5px,#030303 9.5px,#000000 11.5px,#070707 15.5px,#050505 17.5px,#010101 18.5px,#131313 21.5px,#151515,#121212,#090909,#070707,#181818,#252525,#2d2d2d,#292929 29.5px,#070707 31.5px,#323232 33.5px,#404040,#3f3f3f,#2f2f2f,#141414,#0e0e0e,#2c2c2c,#404040,#454545,#393939 42.6px,#070707 44.6px,#2d2d2d 46.6px,#313131,#282828 48.6px,#050505 50.6px,#161616 52.6px,#141414 53.6px,#020202 55.6px,#090909,#0b0b0b 57.6px,#020202 59.6px,#0b0b0b 61.6px,#0c0c0c 63.6px,#010101 66.6px,#080808 68.6px,#161616 71.6px,#161616,#121212,#070707,#070707,#161616,#212121,#272727,#232323,#171717,#060606,#0c0c0c,#1a1a1a,#212121,#202020,#191919 86.6px,#040404 88.6px,#050505,#0a0a0a 90.6px,#0b0b0b 92.6px,#090909 95.6px,#0a0a0a 97.6px,#020202 100.6px,#0e0e0e 102.6px,#111111 103.6px,#0c0c0c 105.6px,#030303 107.6px,#0d0d0d 109.6px,#0d0d0d 110.6px,#030303 112.6px,#080808 114.6px,#080808 115.6px,#020202 117.6px,#0a0a0a 119.7px,#090909,#030303,#060606,#0d0d0d,#101010,#0e0e0e,#070707,#040404 127.7px,#111111 129.7px,#101010 130.7px,#020202 132.7px,#0c0c0c 134.7px,#090909 136.7px,#010101 138.7px,#040404 140.7px,#020202 144.7px,#020202 149.7px,#060606 151.7px,#010101 154.7px,#050505 157.7px,#040404 158.7px)"></i><i style="top:27.00px;height:1.50px;background:linear-gradient(90deg,#010101 0.5px,#010101 5.5px,#030303 9.5px,#010101 11.5px,#090909 15.5px,#020202 18.5px,#171717 21.5px,#181818,#121212,#060606,#0c0c0c,#1f1f1f,#2d2d2d,#333333,#2c2c2c 29.5px,#080808 31.5px,#3b3b3b 33.5px,#4a4a4a,#484848,#353535,#161616,#111111,#323232,#494949,#4e4e4e,#414141,#272727,#080808 44.6px,#2f2f2f 46.6px,#363636,#2e2e2e 48.6px,#070707 50.6px,#0a0a0a,#141414,#141414 53.6px,#040404 55.6px,#090909 57.6px,#080808,#030303,#050505 60.6px,#0f0f0f 62.6px,#0c0c0c 64.6px,#020202 66.6px,#040404 67.6px,#181818 70.6px,#1b1b1b,#1a1a1a,#131313,#060606,#0b0b0b,#1b1b1b,#272727,#2c2c2c,#272727,#1a1a1a,#070707,#0c0c0c,#1d1d1d,#252525,#262626,#1f1f1f 86.6px,#080808 88.6px,#030303 89.6px,#0e0e0e 91.6px,#0b0b0b 97.6px,#030303 99.6px,#040404 100.6px,#101010 102.6px,#141414,#131313 104.6px,#060606 106.6px,#030303 107.6px,#0e0e0e 109.6px,#0e0e0e 110.6px,#040404 112.6px,#020202,#060606 114.6px,#020202 117.6px,#090909 119.7px,#020202 121.7px,#0d0d0d 123.7px,#101010,#0d0d0d,#060606,#040404 127.7px,#111111 129.7px,#111111,#0c0c0c,#030303,#050505,#0b0b0b,#0d0d0d 135.7px,#070707 137.7px,#020202 138.7px,#040404 145.7px,#010101 148.7px,#060606 152.7px,#010101 154.7px,#050505 157.7px,#040404 158.7px)"></i><i style="top:28.00px;height:1.50px;background:linear-gradient(90deg,#020202 0.5px,#000000 4.5px,#040404 8.5px,#010101 11.5px,#0a0a0a 14.5px,#080808 16.5px,#030303,#050505 18.5px,#161616 20.5px,#1b1b1b,#1a1a1a 22.5px,#050505 24.5px,#131313,#272727,#353535,#393939,#2f2f2f,#181818,#0a0a0a,#2a2a2a,#454545,#545454,#505050,#3a3a3a,#181818,#131313,#373737,#515151,#575757,#494949,#2e2e2e,#0b0b0b,#181818,#313131,#3a3a3a,#343434,#242424,#0f0f0f,#050505,#111111,#141414 53.6px,#020202 56.6px,#060606,#060606,#020202,#050505 60.6px,#101010 62.6px,#121212 63.6px,#0a0a0a 65.6px,#030303,#060606 67.6px,#191919 69.6px,#1f1f1f,#212121,#1d1d1d,#131313,#050505,#0f0f0f,#212121,#2e2e2e,#323232,#2c2c2c,#1e1e1e,#090909,#0d0d0d,#1f1f1f,#2a2a2a,#2c2c2c,#262626 86.6px,#0d0d0d 88.6px,#030303 89.6px,#101010 91.6px,#141414 93.6px,#111111 96.6px,#090909 98.6px,#020202,#060606 100.6px,#141414 102.6px,#171717,#151515 104.6px,#070707 106.6px,#030303 107.6px,#0f0f0f 109.6px,#0f0f0f 110.6px,#010101 113.6px,#040404 115.6px,#020202 117.6px,#070707 119.7px,#020202 121.7px,#0e0e0e 123.7px,#101010 124.7px,#050505 126.7px,#040404,#0d0d0d,#121212,#121212,#0d0d0d,#040404,#040404 133.7px,#0d0d0d 135.7px,#0d0d0d 136.7px,#010101 139.7px,#060606 143.7px,#010101 148.7px,#070707 151.7px,#010101 154.7px,#060606 157.7px,#050505 158.7px)"></i><i style="top:29.00px;height:1.50px;background:linear-gradient(90deg,#020202 0.5px,#020202 5.5px,#050505 8.5px,#010101 10.5px,#0c0c0c 14.5px,#080808 16.5px,#020202 17.5px,#1b1b1b 20.5px,#1f1f1f,#1b1b1b 22.5px,#050505 24.5px,#303030 26.5px,#3d3d3d,#3e3e3e,#313131,#161616,#0e0e0e,#323232,#4f4f4f,#5d5d5d,#585858,#3f3f3f,#191919,#151515,#3c3c3c,#585858,#5f5f5f,#535353,#363636,#101010,#141414,#303030,#3d3d3d,#3b3b3b,#2d2d2d 49.6px,#060606 51.6px,#121212 53.6px,#111111 54.6px,#040404 56.6px,#010101 59.6px,#121212 62.6px,#141414,#121212 64.6px,#030303 66.6px,#0a0a0a 67.6px,#202020 69.6px,#262626,#272727,#212121 72.6px,#050505 74.6px,#141414,#282828,#353535,#393939,#323232,#222222,#0b0b0b,#0d0d0d,#222222,#2f2f2f,#333333,#2e2e2e,#232323 87.6px,#040404 89.6px,#090909,#131313 91.6px,#1b1b1b 93.6px,#191919 95.6px,#101010 97.6px,#020202 99.6px,#171717 102.6px,#1a1a1a,#181818 104.6px,#030303 107.6px,#0f0f0f 109.6px,#101010 110.6px,#080808 112.6px,#020202 113.6px,#020202 117.6px,#050505 118.6px,#020202 120.7px,#040404 121.7px,#0e0e0e 123.7px,#0f0f0f,#0c0c0c,#050505,#050505 127.7px,#121212 129.7px,#121212,#0e0e0e,#060606,#030303 133.7px,#0e0e0e 135.7px,#0b0b0b 137.7px,#020202 139.7px,#080808 143.7px,#010101 147.7px,#070707 151.7px,#010101 154.7px,#060606 157.7px,#050505 158.7px)"></i><i style="top:30.00px;height:1.50px;background:linear-gradient(90deg,#020202 0.5px,#010101 4.5px,#050505 7.5px,#010101 10.5px,#0e0e0e 14.5px,#040404 17.5px,#191919 19.5px,#202020,#212121,#1b1b1b,#0b0b0b,#0a0a0a 24.5px,#393939 26.5px,#444444,#434343,#323232,#121212,#141414,#3c3c3c,#595959,#676767,#606060,#444444,#1a1a1a,#171717,#414141,#5f5f5f,#686868,#5c5c5c,#3f3f3f,#171717,#101010,#2f2f2f,#404040,#414141,#363636 49.6px,#0d0d0d 51.6px,#060606,#0f0f0f,#111111 54.6px,#040404 57.6px,#050505 59.6px,#151515 62.6px,#161616,#131313 64.6px,#030303 66.6px,#272727 69.6px,#2e2e2e,#2d2d2d,#242424 72.6px,#060606 74.6px,#2f2f2f 76.6px,#3d3d3d,#404040,#383838,#262626,#0d0d0d,#0d0d0d,#252525,#343434,#3b3b3b,#373737,#2b2b2b 87.6px,#090909 89.6px,#070707,#151515,#1e1e1e 92.6px,#232323 94.6px,#212121 95.6px,#141414 97.6px,#030303 99.6px,#151515 101.6px,#1e1e1e 103.6px,#1b1b1b 104.6px,#030303 107.6px,#0f0f0f 109.6px,#111111 110.6px,#0b0b0b 112.6px,#020202 114.6px,#020202 120.7px,#0f0f0f 123.7px,#0f0f0f 124.7px,#040404 126.7px,#060606 127.7px,#121212 129.7px,#131313 130.7px,#020202 133.7px,#0e0e0e 135.7px,#0d0d0d 137.7px,#040404 139.7px,#020202 140.7px,#090909 142.7px,#090909 144.7px,#010101 147.7px,#080808 151.7px,#010101 154.7px,#060606 158.7px)"></i><i style="top:31.00px;height:1.50px;background:linear-gradient(90deg,#020202 0.5px,#020202 4.5px,#060606 7.5px,#020202 10.5px,#0e0e0e 13.5px,#0b0b0b 15.5px,#030303,#080808 17.5px,#1e1e1e 19.5px,#242424,#232323,#191919,#070707,#121212,#2c2c2c,#424242,#4b4b4b,#464646,#313131,#0e0e0e,#1b1b1b,#454545,#636363,#707070,#676767,#484848,#1c1c1c,#181818,#454545,#666666,#717171,#666666,#494949,#202020,#0c0c0c,#2d2d2d,#414141,#474747,#3f3f3f 49.6px,#050505 52.6px,#101010 54.6px,#111111 55.6px,#090909 58.6px,#0f0f0f 60.6px,#181818 62.6px,#181818,#141414 64.6px,#050505 66.6px,#232323 68.6px,#2f2f2f,#353535,#333333,#272727,#141414,#080808 74.6px,#373737 76.6px,#454545,#484848,#3f3f3f,#2b2b2b,#101010,#0d0d0d,#282828,#3a3a3a,#434343,#414141,#353535 87.6px,#0e0e0e 89.6px,#070707,#171717,#232323,#2a2a2a,#2c2c2c,#292929 95.6px,#181818 97.6px,#030303 99.6px,#191919 101.6px,#202020,#222222,#1f1f1f 104.6px,#030303 107.6px,#0f0f0f 109.6px,#121212 110.6px,#0e0e0e 112.6px,#040404 115.6px,#010101 119.7px,#0f0f0f 123.7px,#0a0a0a 125.7px,#030303,#060606 127.7px,#131313 129.7px,#131313 130.7px,#080808 132.7px,#020202 133.7px,#0e0e0e 135.7px,#0f0f0f 137.7px,#020202 140.7px,#0a0a0a 142.7px,#0b0b0b 144.7px,#020202 147.7px,#090909 151.7px,#010101 154.7px,#060606 158.7px)"></i><i style="top:32.00px;height:1.50px;background:linear-gradient(90deg,#020202 0.5px,#010101 3.5px,#060606 7.5px,#010101 9.5px,#0e0e0e 12.5px,#101010 13.5px,#090909 15.5px,#030303 16.5px,#242424 19.5px,#272727,#232323 21.5px,#070707 23.5px,#1b1b1b,#363636,#4a4a4a,#515151,#484848,#2f2f2f,#0c0c0c,#242424,#4f4f4f,#6c6c6c,#787878,#6d6d6d,#4c4c4c,#1d1d1d,#1a1a1a,#494949,#6c6c6c,#797979,#707070,#535353,#2a2a2a,#0b0b0b,#292929,#424242,#4d4d4d,#494949,#393939 50.6px,#0e0e0e 52.6px,#040404,#0d0d0d,#121212 55.6px,#131313 59.6px,#1b1b1b 62.6px,#1a1a1a,#131313,#080808,#080808 66.6px,#2b2b2b 68.6px,#373737,#3c3c3c,#383838,#292929,#131313,#0b0b0b 74.6px,#3f3f3f 76.6px,#4e4e4e,#515151,#464646,#313131,#121212,#0d0d0d,#2b2b2b,#404040,#4b4b4b,#4b4b4b,#3f3f3f,#2c2c2c,#141414,#060606,#191919,#282828,#323232,#353535,#323232,#2a2a2a 96.6px,#0e0e0e 98.6px,#040404 99.6px,#1d1d1d 101.6px,#252525,#272727,#242424 104.6px,#111111 106.6px,#040404,#070707,#0f0f0f 109.6px,#141414 111.6px,#020202 117.6px,#010101 118.6px,#0f0f0f 122.7px,#0e0e0e 124.7px,#020202 126.7px,#0f0f0f 128.7px,#141414 130.7px,#090909 132.7px,#020202 133.7px,#0e0e0e 135.7px,#111111 137.7px,#020202 140.7px,#0c0c0c 143.7px,#0a0a0a 145.7px,#020202 147.7px,#090909 150.7px,#080808 152.7px,#020202 154.7px,#060606 158.7px)"></i><i style="top:33.00px;height:1.50px;background:linear-gradient(90deg,#020202 0.5px,#000000 2.5px,#060606 6.5px,#020202 9.5px,#101010 12.5px,#0d0d0d 14.5px,#050505,#060606 16.5px,#1f1f1f 18.5px,#282828,#292929,#212121,#111111,#0a0a0a 23.5px,#404040 25.5px,#525252,#565656,#494949,#2c2c2c,#0b0b0b,#2d2d2d,#595959,#767676,#808080,#737373,#4f4f4f,#1e1e1e,#1b1b1b,#4d4d4d,#727272,#818181,#7a7a7a,#5e5e5e 43.6px,#0d0d0d 45.6px,#242424,#424242,#525252,#525252,#454545,#323232 51.6px,#070707 53.6px,#090909 54.6px,#181818 56.6px,#212121 61.6px,#1c1c1c 63.6px,#050505 65.6px,#0e0e0e 66.6px,#343434 68.6px,#404040,#434343,#3d3d3d,#2b2b2b,#121212,#0e0e0e 74.6px,#474747 76.6px,#575757,#595959,#4e4e4e,#363636,#151515,#0e0e0e,#2e2e2e,#464646,#545454,#555555,#4a4a4a,#363636,#1b1b1b,#070707 90.6px,#2d2d2d 92.6px,#3b3b3b,#3f3f3f,#3c3c3c,#333333 96.6px,#121212 98.6px,#050505 99.6px,#212121 101.6px,#2a2a2a,#2d2d2d,#292929,#212121 105.6px,#070707 107.6px,#050505,#0f0f0f,#151515 110.6px,#161616 112.6px,#020202 117.6px,#020202 118.6px,#121212 122.7px,#0e0e0e 124.7px,#020202 126.7px,#101010 128.7px,#141414 129.7px,#111111 131.7px,#020202 133.7px,#121212 136.7px,#121212 137.7px,#020202 140.7px,#0d0d0d 143.7px,#0e0e0e 144.7px,#030303 147.7px,#020202 148.7px,#090909 150.7px,#090909 152.7px,#020202 154.7px,#010101 155.7px,#070707 158.7px)"></i><i style="top:34.00px;height:1.50px;background:linear-gradient(90deg,#020202 0.5px,#010101 2.5px,#060606 6.5px,#010101 8.5px,#111111 12.5px,#101010 13.5px,#030303 15.5px,#0b0b0b 16.5px,#252525 18.5px,#2b2b2b,#2a2a2a,#1e1e1e,#0a0a0a,#121212 23.5px,#494949 25.5px,#595959,#595959,#484848,#272727,#0d0d0d,#363636,#636363,#7f7f7f,#888888,#787878,#535353,#202020,#1c1c1c,#505050,#787878,#898989,#848484,#6a6a6a 43.6px,#121212 45.6px,#1e1e1e,#404040,#565656,#5b5b5b,#525252,#404040 51.6px,#121212 53.6px,#050505 54.6px,#1c1c1c 56.6px,#262626 58.6px,#2a2a2a 60.6px,#252525 62.6px,#1e1e1e 63.6px,#050505 65.6px,#161616 66.6px,#3d3d3d 68.6px,#494949,#4a4a4a,#414141,#2c2c2c,#101010,#131313,#343434,#505050,#606060,#626262,#555555,#3c3c3c,#181818,#0e0e0e,#323232,#4d4d4d,#5e5e5e,#606060,#555555,#404040,#222222,#090909,#1a1a1a,#323232,#434343,#494949,#474747,#3c3c3c 96.6px,#050505 99.6px,#252525 101.6px,#2f2f2f,#333333,#303030,#272727 105.6px,#0b0b0b 107.6px,#040404 108.6px,#161616 110.6px,#1b1b1b 111.6px,#191919 113.6px,#020202 117.6px,#040404 118.6px,#131313 121.7px,#131313 123.7px,#080808 125.7px,#020202 126.7px,#101010 128.7px,#151515,#151515 130.7px,#0a0a0a 132.7px,#030303 133.7px,#121212 136.7px,#131313 137.7px,#0a0a0a 139.7px,#030303 140.7px,#0a0a0a 142.7px,#0f0f0f 144.7px,#090909 146.7px,#020202 148.7px,#090909 150.7px,#090909 152.7px,#010101 155.7px,#070707 158.7px)"></i><i style="top:35.00px;height:1.50px;background:linear-gradient(90deg,#010101 0.5px,#020202 2.5px,#060606 5.5px,#020202 8.5px,#101010 11.5px,#111111,#0e0e0e,#070707,#050505 15.5px,#202020 17.5px,#292929,#2d2d2d,#282828 20.5px,#070707 22.5px,#1c1c1c,#393939,#525252,#5f5f5f,#5b5b5b,#464646,#212121,#111111 30.5px,#6c6c6c 32.5px,#888888,#8e8e8e,#7d7d7d,#565656,#212121,#1d1d1d,#535353,#7d7d7d,#919191,#8e8e8e,#757575,#4b4b4b,#1a1a1a,#171717,#3e3e3e,#595959,#636363,#5f5f5f,#4f4f4f 51.6px,#070707 54.6px,#0f0f0f,#202020,#2b2b2b,#323232 58.6px,#363636 60.6px,#333333 61.6px,#202020 63.6px,#0e0e0e,#070707 65.6px,#353535 67.6px,#484848,#525252,#515151,#454545,#2d2d2d,#0e0e0e,#191919,#3b3b3b,#595959,#696969,#6b6b6b,#5d5d5d,#414141,#1b1b1b,#0f0f0f,#363636,#545454,#676767,#6b6b6b,#606060,#4a4a4a 88.6px,#0b0b0b 90.6px,#1b1b1b,#363636,#4a4a4a,#535353,#525252,#474747 96.6px,#1c1c1c 98.6px,#060606,#151515,#282828,#343434,#393939,#373737 104.6px,#202020 106.6px,#101010,#040404 108.6px,#181818 110.6px,#1e1e1e,#202020 112.6px,#1a1a1a 114.6px,#030303 117.6px,#050505 118.6px,#121212 120.7px,#171717 122.7px,#0f0f0f 124.7px,#020202 126.7px,#111111 128.7px,#161616 130.7px,#0b0b0b 132.7px,#030303 133.7px,#131313 136.7px,#101010 138.7px,#030303 140.7px,#040404 141.7px,#0e0e0e 143.7px,#0e0e0e 145.7px,#020202 148.7px,#0b0b0b 151.7px,#080808 153.7px,#010101 155.7px,#070707 158.7px)"></i><i style="top:36.00px;height:1.50px;background:linear-gradient(90deg,#010101 0.5px,#060606 5.5px,#010101 7.5px,#111111 11.5px,#101010 12.5px,#030303 14.5px,#0b0b0b 15.5px,#252525 17.5px,#2d2d2d,#2e2e2e,#252525,#121212,#090909 22.5px,#444444 24.5px,#5a5a5a,#636363,#5c5c5c,#424242,#1a1a1a,#181818,#4a4a4a,#767676,#909090,#959595,#828282,#585858,#212121,#1e1e1e,#565656,#838383,#989898,#979797,#808080,#565656,#252525,#121212,#3b3b3b,#5c5c5c,#6b6b6b,#6b6b6b,#5e5e5e,#464646 52.6px,#0d0d0d 54.6px,#0c0c0c,#232323,#333333,#3e3e3e,#434343,#434343,#3e3e3e,#323232,#222222,#0b0b0b,#0d0d0d 65.6px,#404040 67.6px,#535353,#5b5b5b,#585858,#494949,#2d2d2d,#0c0c0c,#1f1f1f,#444444,#626262,#737373,#747474,#646464,#474747,#1e1e1e,#101010,#393939,#5b5b5b,#707070,#767676,#6b6b6b,#545454 88.6px,#0e0e0e 90.6px,#1a1a1a,#3a3a3a,#525252,#5d5d5d,#5d5d5d,#515151,#3c3c3c 97.6px,#080808 99.6px,#141414,#2b2b2b,#393939,#404040,#3e3e3e,#353535,#272727 106.6px,#050505 108.6px,#0d0d0d 109.6px,#222222 111.6px,#252525,#242424 113.6px,#171717 115.6px,#040404 117.6px,#060606 118.6px,#151515 120.7px,#191919 121.7px,#161616 123.7px,#030303 126.7px,#121212 128.7px,#161616,#161616 130.7px,#0b0b0b 132.7px,#030303 133.7px,#131313 136.7px,#141414 137.7px,#0c0c0c 139.7px,#040404,#030303 141.7px,#0e0e0e 143.7px,#101010 144.7px,#0b0b0b 146.7px,#010101 148.7px,#0b0b0b 151.7px,#080808 153.7px,#010101 155.7px,#070707 158.7px)"></i><i style="top:37.00px;height:1.50px;background:linear-gradient(90deg,#000000 0.5px,#060606 4.5px,#020202 7.5px,#101010 10.5px,#111111,#0e0e0e,#070707,#040404 14.5px,#1f1f1f 16.5px,#2a2a2a,#2f2f2f,#2c2c2c,#202020,#0b0b0b,#121212,#323232,#4e4e4e,#616161,#676767,#5b5b5b,#3d3d3d,#141414,#222222,#545454,#7f7f7f,#989898,#9b9b9b,#868686,#5a5a5a,#222222,#202020,#595959,#888888,#a0a0a0,#a1a1a1,#8b8b8b,#626262,#2f2f2f,#0e0e0e,#383838,#5e5e5e,#737373,#777777,#6d6d6d,#555555,#383838,#161616,#0a0a0a,#252525,#3a3a3a,#494949,#515151,#505050,#494949,#393939,#242424,#0a0a0a,#141414,#323232,#4b4b4b,#5e5e5e,#656565,#5f5f5f,#4d4d4d 71.6px,#0b0b0b 73.6px,#252525,#4c4c4c,#6c6c6c,#7d7d7d,#7d7d7d,#6c6c6c,#4c4c4c,#202020,#111111,#3d3d3d,#616161,#7a7a7a,#808080,#777777,#5f5f5f 88.6px,#121212 90.6px,#191919,#3c3c3c,#585858,#666666,#676767,#5c5c5c,#464646 97.6px,#0b0b0b 99.6px,#131313,#2d2d2d,#3e3e3e,#474747,#464646,#3d3d3d,#2f2f2f 106.6px,#080808 108.6px,#0b0b0b,#1a1a1a,#252525,#2a2a2a 112.6px,#252525 114.6px,#121212 116.6px,#060606,#060606 118.6px,#171717 120.7px,#1c1c1c 122.7px,#111111 124.7px,#080808,#030303 126.7px,#121212 128.7px,#171717,#171717 130.7px,#0c0c0c 132.7px,#030303,#060606 134.7px,#121212 136.7px,#141414 137.7px,#0d0d0d 139.7px,#050505,#020202 141.7px,#0d0d0d 143.7px,#101010 144.7px,#0b0b0b 146.7px,#010101 148.7px,#0b0b0b 151.7px,#090909 153.7px,#020202 155.7px,#060606 158.7px)"></i><i style="top:38.00px;height:1.50px;background:linear-gradient(90deg,#010101 0.5px,#050505 4.5px,#010101 6.5px,#0e0e0e 9.5px,#0f0f0f 11.5px,#0b0b0b,#030303,#0a0a0a 14.5px,#252525 16.5px,#2e2e2e,#303030,#292929,#1a1a1a,#070707,#1d1d1d,#3d3d3d,#575757,#676767,#696969,#595959,#373737,#0f0f0f,#2d2d2d,#5e5e5e,#898989,#9f9f9f,#a0a0a0,#898989,#5b5b5b,#222222,#212121,#5c5c5c,#8d8d8d,#a7a7a7,#aaaaaa,#969696,#6d6d6d,#393939,#0d0d0d,#343434,#606060,#797979,#828282,#7b7b7b,#646464,#454545,#202020,#090909,#272727,#414141,#545454,#5e5e5e,#5d5d5d,#545454,#404040,#272727,#0a0a0a,#1b1b1b,#3c3c3c,#575757,#696969,#6e6e6e,#666666,#505050 71.6px,#0b0b0b 73.6px,#2c2c2c,#555555,#757575,#868686,#868686,#737373,#515151,#222222,#121212,#414141,#686868,#828282,#8b8b8b,#818181,#696969,#424242,#171717,#171717,#3f3f3f,#5e5e5e,#6f6f6f,#727272,#676767,#505050,#333333,#101010,#101010,#2e2e2e,#424242,#4d4d4d,#4e4e4e,#464646,#373737 106.6px,#0d0d0d 108.6px,#090909,#1a1a1a,#272727,#2e2e2e,#2f2f2f,#2a2a2a 114.6px,#161616 116.6px,#080808,#050505 118.6px,#191919 120.7px,#1e1e1e 122.7px,#131313 124.7px,#090909,#030303 126.7px,#121212 128.7px,#171717,#171717 130.7px,#0c0c0c 132.7px,#040404,#050505 134.7px,#121212 136.7px,#141414 137.7px,#0d0d0d 139.7px,#020202 141.7px,#0d0d0d 143.7px,#0f0f0f 145.7px,#020202 148.7px,#0b0b0b 152.7px,#010101 156.7px,#060606 158.7px)"></i><i style="top:39.00px;height:1.50px;background:linear-gradient(90deg,#020202 0.5px,#050505 3.5px,#010101 5.5px,#080808 7.5px,#0f0f0f 9.5px,#101010,#0d0d0d,#060606,#050505 13.5px,#2a2a2a 16.5px,#303030,#2f2f2f,#242424,#111111,#0b0b0b 21.5px,#484848 23.5px,#5f5f5f,#6c6c6c,#696969,#555555,#2f2f2f,#0e0e0e,#373737,#696969,#919191,#a6a6a6,#a5a5a5,#8c8c8c,#5c5c5c,#212121,#232323,#606060,#929292,#aeaeae,#b3b3b3,#a0a0a0,#777777 44.6px,#0e0e0e 46.6px,#303030,#606060,#7f7f7f,#8c8c8c,#888888,#727272,#525252,#292929,#0a0a0a 55.6px,#474747 57.6px,#5e5e5e,#6a6a6a,#6a6a6a,#5e5e5e,#474747 62.6px,#0a0a0a 64.6px,#212121,#454545,#616161,#737373,#777777,#6b6b6b,#525252,#2b2b2b,#0b0b0b 73.6px,#5d5d5d 75.6px,#7e7e7e,#8f8f8f,#8e8e8e,#797979,#555555,#242424,#131313,#454545,#6e6e6e,#8b8b8b,#949494,#8c8c8c,#727272,#4a4a4a,#1c1c1c,#151515,#404040,#636363,#767676,#7c7c7c,#727272,#5b5b5b,#3c3c3c,#161616,#0e0e0e,#2d2d2d,#454545,#535353,#565656,#4e4e4e,#3f3f3f 106.6px,#121212 108.6px,#070707 109.6px,#292929 111.6px,#323232,#343434,#303030 114.6px,#1a1a1a 116.6px,#0b0b0b,#040404 118.6px,#1a1a1a 120.7px,#1f1f1f,#202020,#1c1c1c 123.7px,#030303 126.7px,#121212 128.7px,#171717 129.7px,#141414 131.7px,#050505 133.7px,#040404 134.7px,#111111 136.7px,#121212 138.7px,#020202 141.7px,#0f0f0f 144.7px,#0c0c0c 146.7px,#030303 148.7px,#020202 149.7px,#0a0a0a 151.7px,#0a0a0a 153.7px,#010101 156.7px,#050505 158.7px)"></i><i style="top:40.00px;height:1.50px;background:linear-gradient(90deg,#030303 0.5px,#030303 3.5px,#020202 5.5px,#0e0e0e 8.5px,#0e0e0e 10.5px,#030303 12.5px,#0b0b0b 13.5px,#252525 15.5px,#2e2e2e,#313131,#2c2c2c,#1e1e1e,#090909,#161616 21.5px,#525252 23.5px,#676767,#707070,#686868,#505050,#272727,#101010 29.5px,#737373 31.5px,#9a9a9a,#acacac,#a8a8a8,#8e8e8e,#5d5d5d,#202020,#252525,#636363,#979797,#b4b4b4,#bbbbbb,#a9a9a9,#818181,#4c4c4c,#111111,#2c2c2c,#606060,#838383,#959595,#939393,#7f7f7f,#5e5e5e,#333333,#0c0c0c,#272727,#4b4b4b,#676767,#747474,#747474,#686868,#4d4d4d 62.6px,#0b0b0b 64.6px,#272727,#4e4e4e,#6b6b6b,#7d7d7d,#7f7f7f,#717171,#545454,#2a2a2a,#0c0c0c 73.6px,#656565 75.6px,#878787,#989898,#959595,#7f7f7f,#595959,#252525,#141414,#484848,#747474,#939393,#9d9d9d,#959595,#7c7c7c,#525252,#222222,#131313,#404040,#676767,#7d7d7d,#858585,#7c7c7c,#656565,#454545,#1e1e1e,#0c0c0c,#2c2c2c,#474747,#585858,#5d5d5d,#575757,#484848 106.6px,#181818 108.6px,#070707 109.6px,#2a2a2a 111.6px,#343434,#383838,#353535 114.6px,#1e1e1e 116.6px,#0e0e0e,#040404 118.6px,#1a1a1a 120.7px,#202020,#212121 122.7px,#161616 124.7px,#030303 126.7px,#161616 129.7px,#171717,#141414 131.7px,#050505 133.7px,#030303 134.7px,#101010 136.7px,#111111 138.7px,#080808 140.7px,#020202 141.7px,#0e0e0e 144.7px,#0c0c0c 146.7px,#020202 149.7px,#090909 151.7px,#0a0a0a 153.7px,#010101 156.7px,#050505 158.7px)"></i><i style="top:41.00px;height:1.50px;background:linear-gradient(90deg,#030303 0.5px,#010101 4.5px,#0e0e0e 8.5px,#0b0b0b 10.5px,#040404,#060606 12.5px,#2a2a2a 15.5px,#303030,#303030,#282828 18.5px,#070707 20.5px,#5c5c5c 23.5px,#6d6d6d,#727272,#656565,#494949,#1e1e1e,#161616,#4d4d4d,#7d7d7d,#a2a2a2,#b2b2b2,#acacac,#8f8f8f,#5c5c5c,#1f1f1f,#282828,#666666,#9b9b9b,#bababa,#c2c2c2,#b1b1b1,#8a8a8a,#555555,#161616,#282828,#606060,#868686,#9c9c9c,#9d9d9d,#8a8a8a,#696969 53.6px,#0f0f0f 55.6px,#262626,#4e4e4e,#6d6d6d,#7d7d7d,#7e7e7e,#707070,#535353 62.6px,#0c0c0c 64.6px,#2c2c2c,#555555,#737373,#858585,#868686,#757575,#565656,#282828,#0e0e0e,#404040,#6d6d6d,#8f8f8f,#9f9f9f,#9c9c9c,#848484,#5c5c5c,#262626,#151515,#4c4c4c,#797979,#9a9a9a,#a6a6a6,#9e9e9e,#848484,#5a5a5a,#282828,#121212,#404040,#6a6a6a,#838383,#8d8d8d,#868686,#6f6f6f,#4f4f4f,#262626,#0b0b0b 100.6px,#474747 102.6px,#5c5c5c,#636363,#5e5e5e,#505050 106.6px,#070707 109.6px,#151515,#292929,#363636,#3b3b3b,#393939,#303030,#232323 116.6px,#040404 118.6px,#191919 120.7px,#202020,#222222,#1f1f1f 123.7px,#0e0e0e 125.7px,#040404,#070707,#101010,#151515,#161616 130.7px,#0e0e0e 132.7px,#060606,#030303 134.7px,#0f0f0f 136.7px,#111111 138.7px,#080808 140.7px,#020202 141.7px,#0d0d0d 144.7px,#0c0c0c 146.7px,#010101 149.7px,#0a0a0a 152.7px,#080808 154.7px,#010101 157.7px,#040404 158.7px)"></i><i style="top:42.00px;height:1.50px;background:linear-gradient(90deg,#030303 0.5px,#010101 3.5px,#0d0d0d 7.5px,#0c0c0c 9.5px,#030303 11.5px,#252525 14.5px,#2e2e2e,#323232,#2e2e2e,#222222,#0d0d0d,#0e0e0e 20.5px,#4b4b4b 22.5px,#646464,#727272,#727272,#626262,#424242,#141414,#202020,#585858,#878787,#a9a9a9,#b7b7b7,#aeaeae,#8f8f8f,#5b5b5b,#1d1d1d,#2b2b2b,#6a6a6a,#a0a0a0,#bfbfbf,#c8c8c8,#b8b8b8,#929292,#5c5c5c,#1b1b1b,#242424,#5e5e5e,#888888,#a1a1a1,#a5a5a5,#939393,#737373 53.6px,#131313 55.6px,#232323,#4f4f4f,#717171,#838383,#848484,#767676,#575757,#2f2f2f,#0d0d0d,#2f2f2f,#5b5b5b,#7a7a7a,#8b8b8b,#8b8b8b,#777777,#565656,#262626,#111111,#464646,#737373,#969696,#a6a6a6,#a1a1a1,#888888,#5f5f5f,#272727,#161616,#4f4f4f,#7e7e7e,#a0a0a0,#adadad,#a6a6a6,#8c8c8c,#616161,#2e2e2e,#101010 91.6px,#6c6c6c 93.6px,#888888,#949494,#8f8f8f,#797979,#585858,#2e2e2e,#0c0c0c,#262626,#474747,#5e5e5e,#686868,#666666,#585858,#424242 107.6px,#0a0a0a 109.6px,#111111,#282828,#373737,#3e3e3e,#3d3d3d,#353535,#282828 116.6px,#060606 118.6px,#0a0a0a,#171717,#1f1f1f,#222222,#202020,#1a1a1a 124.7px,#050505 126.7px,#050505,#0e0e0e 128.7px,#151515 130.7px,#0e0e0e 132.7px,#020202 134.7px,#0d0d0d 136.7px,#101010 138.7px,#030303 141.7px,#040404 142.7px,#0c0c0c 144.7px,#0c0c0c 146.7px,#010101 149.7px,#090909 152.7px,#060606 155.7px,#010101 157.7px,#030303 158.7px)"></i><i style="top:43.00px;height:1.50px;background:linear-gradient(90deg,#030303 0.5px,#010101 2.5px,#0d0d0d 7.5px,#080808 9.5px,#030303,#090909 11.5px,#2a2a2a 14.5px,#313131,#313131,#292929,#1a1a1a,#070707,#1a1a1a,#3a3a3a,#565656,#6c6c6c,#767676,#717171,#5c5c5c,#393939,#0e0e0e,#2c2c2c,#636363,#909090,#b0b0b0,#bbbbbb,#b0b0b0,#8f8f8f,#595959,#1b1b1b,#2e2e2e,#6e6e6e,#a4a4a4,#c4c4c4,#cecece,#bfbfbf,#989898,#636363,#212121,#1f1f1f,#5c5c5c,#898989,#a5a5a5,#ababab,#9b9b9b,#7a7a7a,#4b4b4b,#171717,#202020,#4e4e4e,#737373,#868686,#888888,#7a7a7a,#5a5a5a,#303030,#0d0d0d,#323232,#5f5f5f,#7e7e7e,#8f8f8f,#8d8d8d,#797979,#555555,#232323,#141414,#4b4b4b,#797979,#9c9c9c,#ababab,#a5a5a5,#8b8b8b,#606060,#272727,#171717,#515151,#818181,#a5a5a5,#b3b3b3,#adadad,#939393,#676767,#333333,#0f0f0f 91.6px,#6c6c6c 93.6px,#8b8b8b,#9a9a9a,#979797,#828282,#616161 98.6px,#0e0e0e 100.6px,#222222,#454545,#5f5f5f,#6c6c6c,#6c6c6c,#606060,#4a4a4a,#2f2f2f,#101010,#0c0c0c,#252525,#363636,#3f3f3f,#404040,#393939,#2d2d2d 116.6px,#0b0b0b 118.6px,#070707,#141414,#1d1d1d,#222222 122.7px,#1b1b1b 124.7px,#080808 126.7px,#030303 127.7px,#111111 129.7px,#121212 131.7px,#020202 134.7px,#0c0c0c 136.7px,#0f0f0f 138.7px,#080808 140.7px,#030303,#030303 142.7px,#0b0b0b 144.7px,#0c0c0c 146.7px,#020202 149.7px,#090909 153.7px,#010101 157.7px,#020202 158.7px)"></i><i style="top:44.00px;height:1.50px;background:linear-gradient(90deg,#010101 0.5px,#020202 2.5px,#0d0d0d 6.5px,#0a0a0a 8.5px,#040404,#040404 10.5px,#262626 13.5px,#2f2f2f,#323232,#2f2f2f,#232323,#111111,#0a0a0a 19.5px,#454545 21.5px,#5f5f5f,#727272,#787878,#6f6f6f,#565656 26.5px,#0d0d0d 28.5px,#383838,#6e6e6e,#999999,#b6b6b6,#bfbfbf,#b1b1b1,#8e8e8e,#575757,#191919,#313131,#717171,#a7a7a7,#c7c7c7,#d2d2d2,#c4c4c4,#9e9e9e,#696969,#272727,#1c1c1c,#595959,#888888,#a6a6a6,#aeaeae,#a0a0a0,#818181,#515151,#1c1c1c,#1c1c1c,#4c4c4c,#727272,#878787,#8a8a8a,#7b7b7b,#5b5b5b,#303030,#0e0e0e,#343434,#616161,#818181,#919191,#8e8e8e,#787878,#535353,#202020,#171717,#4f4f4f,#7e7e7e,#a0a0a0,#aeaeae,#a8a8a8,#8c8c8c,#616161,#272727,#181818,#535353,#858585,#a9a9a9,#b8b8b8,#b2b2b2,#999999,#6d6d6d,#393939,#0e0e0e,#3b3b3b,#6c6c6c,#8d8d8d,#9f9f9f,#9d9d9d,#8a8a8a,#6a6a6a 98.6px,#131313 100.6px,#1c1c1c,#424242,#5f5f5f,#6f6f6f,#717171,#676767,#525252,#373737,#181818,#080808,#212121,#343434,#404040,#424242,#3d3d3d,#323232 116.6px,#101010 118.6px,#040404 119.7px,#1b1b1b 121.7px,#202020,#202020,#1c1c1c 124.7px,#030303 127.7px,#0e0e0e 129.7px,#111111 131.7px,#020202 134.7px,#040404 135.7px,#0d0d0d 137.7px,#0c0c0c 139.7px,#020202 142.7px,#0a0a0a 144.7px,#0b0b0b 146.7px,#020202 149.7px,#050505 151.7px,#080808 154.7px,#010101 157.7px,#010101 158.7px)"></i><i style="top:45.00px;height:1.50px;background:linear-gradient(90deg,#000000 0.5px,#0d0d0d 6.5px,#030303 9.5px,#0b0b0b 10.5px,#2c2c2c 13.5px,#313131,#323232,#2b2b2b,#1c1c1c,#080808,#151515 19.5px,#505050 21.5px,#686868,#777777,#797979,#6c6c6c,#4e4e4e,#262626,#111111 28.5px,#787878 30.5px,#a1a1a1,#bcbcbc,#c1c1c1,#b1b1b1,#8c8c8c,#545454,#171717,#353535,#747474,#aaaaaa,#cacaca,#d5d5d5,#c7c7c7,#a3a3a3,#6e6e6e,#2c2c2c,#181818,#555555,#858585,#a5a5a5,#afafaf,#a3a3a3,#858585,#565656,#222222,#181818,#484848,#6f6f6f,#858585,#888888,#7a7a7a,#5a5a5a,#303030,#0e0e0e,#353535,#626262,#818181,#909090,#8d8d8d,#757575,#505050,#1c1c1c,#1b1b1b,#545454,#818181,#a3a3a3,#b0b0b0,#a9a9a9,#8d8d8d,#616161,#262626,#181818,#555555,#878787,#acacac,#bcbcbc,#b7b7b7,#9e9e9e,#727272,#3d3d3d,#0e0e0e,#383838,#6b6b6b,#8e8e8e,#a2a2a2,#a3a3a3,#919191,#737373 98.6px,#1a1a1a 100.6px,#161616,#3e3e3e,#5e5e5e,#707070,#757575,#6d6d6d,#5a5a5a,#3f3f3f,#202020,#070707 110.6px,#303030 112.6px,#3e3e3e,#434343,#404040,#363636 116.6px,#050505 119.7px,#0b0b0b,#171717,#1e1e1e 122.7px,#1d1d1d 124.7px,#0e0e0e 126.7px,#040404,#040404,#0b0b0b 129.7px,#0f0f0f 131.7px,#080808 133.7px,#030303,#030303 135.7px,#0b0b0b 137.7px,#0b0b0b 139.7px,#010101 142.7px,#0a0a0a 145.7px,#090909 147.7px,#010101 150.7px,#080808 153.7px,#010101 158.7px)"></i><i style="top:46.00px;height:1.50px;background:linear-gradient(90deg,#020202 0.5px,#0c0c0c 4.5px,#0b0b0b 6.5px,#020202 8.5px,#080808 9.5px,#282828 12.5px,#303030,#333333,#303030,#262626,#131313,#070707,#212121 19.5px,#5b5b5b 21.5px,#707070,#7b7b7b,#787878,#676767,#464646,#1b1b1b,#1a1a1a 28.5px,#828282 30.5px,#a9a9a9,#c0c0c0,#c3c3c3,#b0b0b0,#8a8a8a 35.5px,#161616 37.5px,#383838,#777777,#acacac,#cccccc,#d7d7d7,#cacaca,#a6a6a6,#737373,#313131,#151515,#505050,#818181,#a3a3a3,#aeaeae,#a4a4a4,#888888,#5a5a5a,#272727,#131313,#424242,#696969,#808080,#848484,#777777,#575757,#2e2e2e,#0e0e0e,#353535,#606060,#7e7e7e,#8d8d8d,#898989,#717171,#4b4b4b,#181818,#1f1f1f,#575757,#848484,#a4a4a4,#b1b1b1,#a9a9a9,#8c8c8c,#5f5f5f,#252525,#1a1a1a,#575757,#898989,#aeaeae,#bebebe,#bababa,#a2a2a2,#777777 89.6px,#0e0e0e 91.6px,#353535,#696969,#8e8e8e,#a4a4a4,#a7a7a7,#989898,#7a7a7a,#505050,#222222,#101010,#393939,#5b5b5b,#707070,#787878,#727272,#606060,#474747 108.6px,#0a0a0a 110.6px,#151515,#2c2c2c,#3c3c3c,#434343,#424242,#3a3a3a 116.6px,#1c1c1c 118.6px,#0a0a0a,#060606,#121212,#1a1a1a,#1e1e1e,#1d1d1d 124.7px,#101010 126.7px,#070707,#020202 128.7px,#0b0b0b 130.7px,#0d0d0d 131.7px,#080808 133.7px,#030303,#020202 135.7px,#090909 137.7px,#090909 139.7px,#010101 142.7px,#090909 145.7px,#060606 148.7px,#010101 150.7px,#070707 154.7px,#010101 158.7px)"></i><i style="top:47.00px;height:1.50px;background:linear-gradient(90deg,#040404 0.5px,#0c0c0c 4.5px,#090909 6.5px,#030303,#040404 8.5px,#2d2d2d 12.5px,#323232,#333333,#2c2c2c,#1f1f1f,#0a0a0a,#101010 18.5px,#4a4a4a 20.5px,#646464,#767676,#7d7d7d,#767676,#616161,#3d3d3d,#121212,#262626 28.5px,#8c8c8c 30.5px,#afafaf,#c4c4c4,#c4c4c4,#afafaf,#878787 35.5px,#141414 37.5px,#3b3b3b,#797979,#aeaeae,#cecece,#d9d9d9,#cccccc,#a9a9a9,#777777,#363636,#131313,#4a4a4a,#7b7b7b,#9e9e9e,#ababab,#a3a3a3,#898989,#5e5e5e,#2c2c2c,#101010 56.6px,#616161 58.6px,#787878,#7d7d7d,#717171,#535353,#2b2b2b,#0d0d0d 64.6px,#5e5e5e 66.6px,#7a7a7a,#878787,#828282,#6a6a6a,#454545,#141414,#242424,#5a5a5a,#858585,#a4a4a4,#b0b0b0,#a7a7a7,#898989,#5d5d5d,#222222,#1b1b1b,#585858,#898989,#afafaf,#bfbfbf,#bcbcbc,#a4a4a4,#7a7a7a 89.6px,#0f0f0f 91.6px,#313131,#676767,#8d8d8d,#a5a5a5,#aaaaaa,#9d9d9d,#818181,#585858,#2a2a2a,#0d0d0d 101.6px,#575757 103.6px,#6e6e6e,#797979,#767676,#676767,#4f4f4f 108.6px,#121212 110.6px,#0d0d0d,#262626,#383838,#424242,#434343,#3e3e3e 116.6px,#222222 118.6px,#111111,#040404 120.7px,#161616 122.7px,#1b1b1b,#1c1c1c 124.7px,#121212 126.7px,#030303 128.7px,#030303 129.7px,#0a0a0a 131.7px,#080808 133.7px,#010101 135.7px,#080808 138.7px,#040404 141.7px,#010101 142.7px,#080808 145.7px,#060606 148.7px,#010101 150.7px,#060606 154.7px,#010101 158.7px)"></i><i style="top:48.00px;height:1.50px;background:linear-gradient(90deg,#070707 0.5px,#0c0c0c 4.5px,#030303 7.5px,#151515 9.5px,#2a2a2a 11.5px,#313131,#343434,#313131,#272727 15.5px,#070707 17.5px,#1c1c1c 18.5px,#555555 20.5px,#6d6d6d,#7b7b7b,#7e7e7e,#737373,#5a5a5a 25.5px,#0e0e0e 27.5px,#323232 28.5px,#959595 30.5px,#b6b6b6,#c7c7c7,#c5c5c5,#adadad,#848484,#494949,#131313,#3d3d3d,#7b7b7b,#afafaf,#cecece,#d9d9d9,#cdcdcd,#ababab,#7a7a7a,#3c3c3c,#111111 47.6px,#737373 49.6px,#979797,#a6a6a6,#a0a0a0,#898989,#616161,#323232,#0d0d0d 56.6px,#575757 58.6px,#6d6d6d,#737373,#686868,#4d4d4d,#272727,#0d0d0d 64.6px,#595959 66.6px,#747474,#7f7f7f,#797979,#616161,#3d3d3d,#101010,#292929,#5d5d5d,#868686,#a3a3a3,#adadad,#a3a3a3,#858585,#595959,#202020,#1c1c1c,#595959,#8a8a8a,#afafaf,#bfbfbf,#bcbcbc,#a6a6a6,#7d7d7d,#494949,#111111,#2d2d2d,#636363,#8b8b8b,#a5a5a5,#ababab,#a1a1a1,#878787,#5f5f5f,#323232,#0b0b0b,#2b2b2b,#525252,#6b6b6b,#797979,#797979,#6c6c6c,#565656 108.6px,#1a1a1a 110.6px,#090909 111.6px,#333333 113.6px,#3f3f3f,#434343,#404040,#363636 117.6px,#080808 120.7px,#070707 121.7px,#181818 123.7px,#191919 125.7px,#020202 129.7px,#080808 132.7px,#010101 135.7px,#060606 139.7px,#010101 142.7px,#070707 146.7px,#010101 150.7px,#060606 155.7px,#010101 158.7px)"></i><i style="top:49.00px;height:1.50px;background:linear-gradient(90deg,#090909 0.5px,#0c0c0c 3.5px,#070707 5.5px,#020202 6.5px,#111111 8.5px,#2f2f2f 11.5px,#343434,#343434,#2e2e2e,#202020,#0d0d0d,#0c0c0c 17.5px,#464646 19.5px,#5f5f5f,#747474,#7e7e7e,#7d7d7d,#6f6f6f,#525252,#282828,#0f0f0f 27.5px,#707070 29.5px,#9d9d9d,#bbbbbb,#cacaca,#c5c5c5,#ababab,#818181,#464646,#121212,#404040,#7c7c7c,#afafaf,#cdcdcd,#d9d9d9,#cdcdcd,#adadad,#7e7e7e,#414141,#111111,#3a3a3a,#6b6b6b,#8f8f8f,#9f9f9f,#9c9c9c,#878787,#636363 54.6px,#0d0d0d 56.6px,#262626,#4a4a4a,#606060,#676767,#5e5e5e,#454545,#222222,#0c0c0c 64.6px,#545454 66.6px,#6c6c6c,#757575,#6f6f6f,#575757 70.6px,#0d0d0d 72.6px,#2e2e2e,#5f5f5f,#868686,#a0a0a0,#a9a9a9,#9e9e9e,#808080,#555555,#1c1c1c,#1e1e1e,#5a5a5a,#898989,#aeaeae,#bebebe,#bcbcbc,#a6a6a6,#7e7e7e,#4c4c4c,#121212,#292929,#5f5f5f,#888888,#a3a3a3,#acacac,#a3a3a3,#8b8b8b,#666666 99.6px,#0d0d0d 101.6px,#242424,#4c4c4c,#676767,#787878,#7a7a7a,#707070,#5d5d5d 108.6px,#080808 111.6px,#171717,#2d2d2d,#3c3c3c,#424242,#414141,#3a3a3a,#2e2e2e 118.6px,#0f0f0f 120.7px,#040404 121.7px,#141414 123.7px,#181818 124.7px,#151515 126.7px,#010101 130.7px,#050505 133.7px,#010101 136.7px,#050505 139.7px,#010101 142.7px,#070707 146.7px,#010101 151.7px,#050505 154.7px,#020202 158.7px)"></i><i style="top:50.00px;height:1.50px;background:linear-gradient(90deg,#0b0b0b 0.5px,#0d0d0d 2.5px,#080808 4.5px,#030303,#040404 6.5px,#2c2c2c 10.5px,#333333,#353535,#323232,#292929 14.5px,#070707 16.5px,#181818 17.5px,#515151 19.5px,#686868,#7a7a7a,#818181,#7b7b7b,#696969,#494949,#1d1d1d,#141414,#494949,#797979,#a4a4a4,#bfbfbf,#cbcbcb,#c4c4c4,#a8a8a8,#7d7d7d,#424242,#121212,#414141,#7c7c7c,#aeaeae,#cccccc,#d7d7d7,#cdcdcd,#afafaf,#818181,#474747,#121212,#303030,#606060,#858585,#979797,#969696,#858585,#646464,#3d3d3d,#111111,#1a1a1a,#3c3c3c,#525252,#595959,#515151,#3b3b3b,#1d1d1d,#0c0c0c 64.6px,#4d4d4d 66.6px,#626262,#6a6a6a,#626262,#4b4b4b,#282828,#0d0d0d,#333333,#616161,#858585,#9d9d9d,#a4a4a4,#989898,#7a7a7a,#4f4f4f,#181818,#212121,#5a5a5a,#898989,#acacac,#bdbdbd,#bababa,#a6a6a6,#7f7f7f,#4e4e4e,#141414,#252525,#5b5b5b,#848484,#a1a1a1,#ababab,#a5a5a5,#8f8f8f,#6c6c6c,#414141,#111111,#1c1c1c,#454545,#626262,#757575,#7b7b7b,#747474,#636363 108.6px,#2c2c2c 110.6px,#0d0d0d,#0f0f0f,#272727,#373737,#404040,#424242,#3d3d3d,#333333 118.6px,#070707 121.7px,#050505,#0f0f0f,#151515 124.7px,#161616 126.7px,#010101 131.7px,#020202 134.7px,#000000 136.7px,#030303 139.7px,#020202 143.7px,#060606 147.7px,#010101 151.7px,#050505 155.7px,#020202 158.7px)"></i><i style="top:51.00px;height:1.50px;background:linear-gradient(90deg,#0d0d0d 0.5px,#0a0a0a 3.5px,#030303 5.5px,#0a0a0a 6.5px,#292929 9.5px,#313131,#353535,#353535,#2f2f2f,#232323,#101010,#080808 16.5px,#5b5b5b 19.5px,#707070,#7f7f7f,#828282,#787878,#636363,#404040,#131313,#1f1f1f,#545454,#828282,#ababab,#c3c3c3,#cccccc,#c3c3c3,#a5a5a5,#7a7a7a,#3f3f3f,#111111,#424242,#7c7c7c,#acacac,#cacaca,#d6d6d6,#cdcdcd,#b0b0b0,#858585 45.6px,#161616 47.6px,#262626,#555555,#7a7a7a,#8d8d8d,#8f8f8f,#828282,#666666,#424242,#191919,#0d0d0d,#2d2d2d,#414141,#494949,#434343,#313131,#161616,#0c0c0c 64.6px,#464646 66.6px,#575757,#5c5c5c,#545454,#3d3d3d,#1c1c1c,#101010 72.6px,#636363 74.6px,#848484,#999999,#9d9d9d,#909090,#737373,#494949,#141414,#242424,#5b5b5b,#888888,#aaaaaa,#bababa,#b8b8b8,#a4a4a4,#7f7f7f,#4f4f4f,#171717,#212121,#575757,#808080,#9d9d9d,#aaaaaa,#a5a5a5,#929292,#717171,#484848,#191919,#141414,#3d3d3d,#5c5c5c,#727272,#7a7a7a,#767676,#686868 108.6px,#353535 110.6px,#161616,#080808,#1f1f1f,#313131,#3d3d3d,#414141,#3f3f3f,#373737 118.6px,#1d1d1d 120.7px,#0e0e0e,#030303 122.7px,#111111 124.7px,#161616 126.7px,#111111 128.7px,#010101 132.7px,#010101 138.7px,#010101 142.7px,#050505 146.7px,#010101 151.7px,#040404 156.7px,#020202 158.7px)"></i><i style="top:52.00px;height:1.50px;background:linear-gradient(90deg,#0e0e0e 0.5px,#0b0b0b 2.5px,#020202 4.5px,#070707 5.5px,#2f2f2f 9.5px,#373737 11.5px,#343434,#2a2a2a,#1b1b1b,#080808,#131313 16.5px,#4b4b4b 18.5px,#656565,#777777,#828282,#818181,#747474,#5c5c5c 24.5px,#0d0d0d 26.5px,#2a2a2a,#5e5e5e,#8b8b8b,#b0b0b0,#c6c6c6,#cdcdcd,#c1c1c1,#a3a3a3,#767676,#3c3c3c,#111111,#434343,#7b7b7b,#ababab,#c8c8c8,#d4d4d4,#cccccc,#b1b1b1,#898989 45.6px,#1e1e1e 47.6px,#1a1a1a,#494949,#6e6e6e,#828282,#888888,#7e7e7e,#676767,#484848,#242424,#080808 57.6px,#2f2f2f 59.6px,#373737,#343434,#252525,#0f0f0f,#0d0d0d 64.6px,#3e3e3e 66.6px,#4c4c4c,#4e4e4e,#454545,#2e2e2e,#101010,#181818 72.6px,#666666 74.6px,#828282,#949494,#969696,#888888,#6a6a6a,#414141,#101010,#272727,#5c5c5c,#878787,#a8a8a8,#b7b7b7,#b5b5b5,#a2a2a2,#7e7e7e,#505050,#191919,#1d1d1d,#525252,#7b7b7b,#999999,#a7a7a7,#a5a5a5,#949494,#757575,#4e4e4e,#212121,#0e0e0e,#353535,#565656,#6d6d6d,#787878,#777777,#6c6c6c,#575757,#3d3d3d,#1f1f1f,#070707,#171717,#2b2b2b,#393939,#404040,#404040,#3a3a3a 118.6px,#242424 120.7px,#080808 122.7px,#040404 123.7px,#121212 125.7px,#151515 127.7px,#030303 133.7px,#000000 137.7px,#030303 143.7px,#050505 147.7px,#000000 151.7px,#040404 155.7px,#020202 158.7px)"></i><i style="top:53.00px;height:1.50px;background:linear-gradient(90deg,#0e0e0e 0.5px,#090909 2.5px,#030303,#040404 4.5px,#2b2b2b 8.5px,#333333,#373737,#363636,#313131,#242424,#131313,#070707,#1e1e1e 16.5px,#555555 18.5px,#6d6d6d,#7d7d7d,#848484,#808080,#6f6f6f,#545454,#2c2c2c,#0c0c0c,#353535,#676767,#929292,#b5b5b5,#c9c9c9,#cdcdcd,#bfbfbf,#a0a0a0,#737373,#393939,#111111,#434343,#7a7a7a,#a8a8a8,#c5c5c5,#d2d2d2,#cccccc,#b3b3b3,#8e8e8e 45.6px,#282828 47.6px,#101010,#3b3b3b,#616161,#777777,#808080,#7a7a7a,#686868,#4e4e4e 55.6px,#111111 57.6px,#0a0a0a,#1c1c1c,#252525,#242424,#191919,#080808,#0f0f0f 64.6px,#363636 66.6px,#3f3f3f,#3f3f3f,#353535 69.6px,#080808 71.6px,#232323 72.6px,#686868 74.6px,#818181,#8f8f8f,#8f8f8f,#808080,#626262,#3a3a3a,#0d0d0d,#2b2b2b,#5d5d5d,#868686,#a5a5a5,#b3b3b3,#b1b1b1,#9f9f9f,#7c7c7c,#505050,#1b1b1b,#191919,#4d4d4d,#767676,#959595,#a4a4a4,#a4a4a4,#959595,#787878,#545454,#282828,#0c0c0c 102.6px,#4e4e4e 104.6px,#686868,#757575,#777777,#6e6e6e,#5c5c5c,#444444 110.6px,#0c0c0c 112.6px,#0f0f0f,#242424,#343434,#3d3d3d,#404040,#3d3d3d 118.6px,#2a2a2a 120.7px,#0f0f0f 122.7px,#040404,#070707 124.7px,#131313 126.7px,#141414 128.7px,#030303 134.7px,#000000 138.7px,#050505 146.7px,#000000 151.7px,#040404 155.7px,#020202 158.7px)"></i><i style="top:54.00px;height:1.50px;background:linear-gradient(90deg,#0d0d0d 0.5px,#020202 3.5px,#313131 8.5px,#383838 10.5px,#353535,#2c2c2c,#1d1d1d,#0a0a0a,#0f0f0f 15.5px,#464646 17.5px,#5f5f5f,#747474,#818181,#858585,#7e7e7e,#696969,#4b4b4b,#222222,#101010 26.5px,#707070 28.5px,#999999,#bababa,#cbcbcb,#cdcdcd,#bebebe,#9d9d9d,#717171,#373737,#101010,#424242,#787878,#a6a6a6,#c3c3c3,#d0d0d0,#cbcbcb,#b5b5b5,#939393 45.6px,#333333 47.6px,#0c0c0c 48.6px,#535353 50.6px,#6c6c6c,#787878,#767676,#696969,#555555 55.6px,#212121 57.6px,#090909,#080808,#121212,#131313 61.6px,#040404 63.6px,#212121 65.6px,#2d2d2d,#333333,#303030,#242424,#0e0e0e,#0d0d0d 71.6px,#4e4e4e 73.6px,#6b6b6b,#808080,#8a8a8a,#888888,#777777,#595959 79.6px,#0c0c0c 81.6px,#2f2f2f,#5f5f5f,#858585,#a2a2a2,#afafaf,#adadad,#9b9b9b,#7a7a7a,#505050,#1d1d1d,#171717,#494949,#717171,#909090,#a0a0a0,#a2a2a2,#959595,#7b7b7b,#595959,#2e2e2e,#0c0c0c,#252525,#474747,#626262,#727272,#767676,#707070,#616161,#4b4b4b 110.6px,#151515 112.6px,#080808 113.6px,#2f2f2f 115.6px,#3a3a3a,#3f3f3f,#3f3f3f,#393939 119.7px,#232323 121.7px,#090909 123.7px,#030303 124.7px,#101010 126.7px,#151515 128.7px,#0c0c0c 132.7px,#020202 136.7px,#020202 140.7px,#050505 146.7px,#000000 151.7px,#030303 157.7px,#020202 158.7px)"></i><i style="top:55.00px;height:1.50px;background:linear-gradient(90deg,#0c0c0c 0.5px,#020202 2.5px,#070707 3.5px,#2e2e2e 7.5px,#393939 9.5px,#383838,#323232,#272727 12.5px,#060606 14.5px,#1a1a1a 15.5px,#515151 17.5px,#686868,#7b7b7b,#858585,#858585,#7a7a7a,#636363,#434343,#181818,#191919 26.5px,#797979 28.5px,#a0a0a0,#bebebe,#cdcdcd,#cccccc,#bcbcbc,#9b9b9b,#6e6e6e,#363636,#101010,#414141,#767676,#a3a3a3,#c0c0c0,#cecece,#cbcbcb,#b8b8b8,#989898,#6d6d6d 46.6px,#0e0e0e 48.6px,#202020,#464646,#606060,#6f6f6f,#727272,#6a6a6a,#5b5b5b 55.6px,#1b1b1b 58.6px,#0c0c0c,#030303 60.6px,#030303 62.6px,#141414 64.6px,#252525 66.6px,#272727,#212121 68.6px,#070707 70.6px,#1b1b1b 71.6px,#555555 73.6px,#6e6e6e,#7f7f7f,#868686,#818181,#6e6e6e,#505050,#292929,#0c0c0c,#333333,#606060,#848484,#9f9f9f,#acacac,#a9a9a9,#989898,#787878,#4f4f4f,#1e1e1e,#141414,#444444,#6c6c6c,#8b8b8b,#9c9c9c,#9f9f9f,#959595,#7d7d7d,#5d5d5d 100.6px,#0e0e0e 102.6px,#1d1d1d,#3f3f3f,#5c5c5c,#6d6d6d,#747474,#717171,#646464,#515151 110.6px,#1e1e1e 112.6px,#070707,#141414,#282828,#363636,#3d3d3d,#3f3f3f 118.6px,#343434 120.7px,#050505 124.7px,#050505 125.7px,#121212 127.7px,#161616 129.7px,#0c0c0c 133.7px,#010101 137.7px,#020202 139.7px,#050505 146.7px,#000000 151.7px,#030303 157.7px,#020202 158.7px)"></i><i style="top:56.00px;height:1.50px;background:linear-gradient(90deg,#0a0a0a 0.5px,#040404,#030303 2.5px,#333333 7.5px,#3a3a3a 9.5px,#373737,#2e2e2e,#212121,#0d0d0d,#0a0a0a 14.5px,#5b5b5b 17.5px,#707070,#808080,#878787,#848484,#767676,#5c5c5c,#3a3a3a,#101010,#232323 26.5px,#818181 28.5px,#a5a5a5,#c1c1c1,#cecece,#cccccc,#bababa,#989898,#6c6c6c,#353535,#101010,#404040,#747474,#a0a0a0,#bdbdbd,#cdcdcd,#cbcbcb,#bbbbbb,#9e9e9e 45.6px,#494949 47.6px,#1a1a1a,#121212,#383838,#545454,#676767,#6e6e6e,#6c6c6c,#626262 55.6px,#2e2e2e 58.6px,#151515 60.6px,#101010 61.6px,#131313 63.6px,#1c1c1c 65.6px,#1b1b1b 67.6px,#050505 69.6px,#121212 70.6px,#5d5d5d 73.6px,#727272,#7e7e7e,#818181,#7a7a7a,#656565,#474747,#212121,#0e0e0e 81.6px,#626262 83.6px,#848484,#9d9d9d,#a8a8a8,#a5a5a5,#949494,#757575,#4e4e4e,#1f1f1f,#121212,#404040,#676767,#868686,#979797,#9c9c9c,#939393,#7e7e7e,#606060 100.6px,#131313 102.6px,#151515,#383838,#565656,#686868,#727272,#717171,#676767,#565656 110.6px,#262626 112.6px,#0b0b0b,#0d0d0d,#222222,#313131,#3b3b3b,#3f3f3f 118.6px,#383838 120.7px,#232323 122.7px,#0b0b0b 124.7px,#030303 125.7px,#101010 127.7px,#161616 129.7px,#151515 131.7px,#030303 137.7px,#010101 139.7px,#060606 144.7px,#010101 150.7px,#020202 158.7px)"></i><i style="top:57.00px;height:1.50px;background:linear-gradient(90deg,#070707 0.5px,#020202 1.5px,#131313 3.5px,#303030 6.5px,#3b3b3b 8.5px,#3a3a3a,#343434,#292929 11.5px,#070707 13.5px,#151515 14.5px,#646464 17.5px,#777777,#848484,#888888,#828282,#717171,#545454 23.5px,#0c0c0c 25.5px,#2d2d2d 26.5px,#888888 28.5px,#ababab,#c4c4c4,#cfcfcf,#cbcbcb,#b9b9b9,#979797,#6b6b6b,#343434,#101010 37.5px,#717171 39.5px,#9d9d9d,#bbbbbb,#cccccc,#cccccc,#bebebe,#a4a4a4,#7f7f7f,#555555,#272727,#0b0b0b 49.6px,#484848 51.6px,#5f5f5f,#6a6a6a,#6d6d6d,#686868 55.6px,#505050 57.6px,#333333 59.6px,#282828 60.6px,#1d1d1d 62.6px,#1a1a1a 65.6px,#0f0f0f 67.6px,#050505,#0d0d0d 69.6px,#383838 71.6px,#656565 73.6px,#757575,#7e7e7e,#7e7e7e,#737373,#5d5d5d,#3e3e3e,#191919,#121212 81.6px,#646464 83.6px,#838383,#9a9a9a,#a4a4a4,#a1a1a1,#909090,#737373,#4d4d4d,#1f1f1f,#101010,#3c3c3c,#626262,#818181,#929292,#999999,#929292,#7e7e7e,#636363 100.6px,#191919 102.6px,#0f0f0f 103.6px,#4f4f4f 105.6px,#636363,#6e6e6e,#707070,#696969,#5a5a5a 110.6px,#2d2d2d 112.6px,#131313,#060606,#1b1b1b,#2b2b2b,#373737,#3e3e3e 118.6px,#3b3b3b 120.7px,#292929 122.7px,#050505 125.7px,#040404,#0d0d0d 127.7px,#161616 129.7px,#171717 131.7px,#020202 138.7px,#030303 140.7px,#060606 146.7px,#010101 153.7px,#020202 157.7px,#020202 158.7px)"></i><i style="top:58.00px;height:1.50px;background:linear-gradient(90deg,#030303 0.5px,#050505 1.5px,#2d2d2d 5.5px,#3a3a3a 7.5px,#3c3c3c,#393939,#313131,#232323,#111111,#080808,#1f1f1f 14.5px,#545454 16.5px,#6c6c6c,#7d7d7d,#878787,#888888,#7f7f7f,#6b6b6b,#4d4d4d,#282828,#0d0d0d,#363636 26.5px,#8f8f8f 28.5px,#b0b0b0,#c7c7c7,#d0d0d0,#cbcbcb,#b7b7b7,#959595,#696969,#333333,#0f0f0f,#3d3d3d,#6f6f6f,#9b9b9b,#b9b9b9,#cbcbcb,#cecece,#c2c2c2,#ababab,#888888,#616161,#343434,#0e0e0e,#1e1e1e,#3d3d3d,#575757,#676767,#6f6f6f,#6f6f6f 55.6px,#5f5f5f 57.6px,#3b3b3b 60.6px,#2a2a2a 62.6px,#181818 65.6px,#050505 67.6px,#0b0b0b,#1c1c1c 69.6px,#5c5c5c 72.6px,#6d6d6d,#797979,#7e7e7e,#7a7a7a,#6d6d6d,#565656,#363636,#121212,#181818 81.6px,#666666 83.6px,#838383,#989898,#a1a1a1,#9d9d9d,#8c8c8c,#707070,#4c4c4c,#202020,#0f0f0f,#383838,#5d5d5d,#7b7b7b,#8e8e8e,#959595,#8f8f8f,#7e7e7e,#656565 100.6px,#1f1f1f 102.6px,#0a0a0a 103.6px,#484848 105.6px,#5d5d5d,#6b6b6b,#6e6e6e,#696969,#5d5d5d 110.6px,#343434 112.6px,#1b1b1b,#060606 114.6px,#333333 117.6px,#3b3b3b,#3e3e3e,#3d3d3d 120.7px,#2e2e2e 122.7px,#0b0b0b 125.7px,#020202 126.7px,#151515 129.7px,#181818 131.7px,#121212 134.7px,#010101 139.7px,#070707 144.7px,#020202 150.7px,#010101 153.7px,#020202 158.7px)"></i><i style="top:59.00px;height:1.50px;background:linear-gradient(90deg,#020202 0.5px,#323232 5.5px,#393939 6.5px,#3c3c3c 8.5px,#363636,#2c2c2c 10.5px,#090909 12.5px,#101010 13.5px,#5e5e5e 16.5px,#737373,#828282,#8a8a8a,#888888,#7b7b7b,#656565,#454545,#1e1e1e,#111111 25.5px,#6b6b6b 27.5px,#959595,#b4b4b4,#cacaca,#d1d1d1,#cbcbcb,#b6b6b6,#949494,#686868,#333333,#0f0f0f,#3c3c3c,#6d6d6d,#999999,#b8b8b8,#cbcbcb,#cfcfcf,#c6c6c6,#b2b2b2,#929292,#6c6c6c 47.6px,#181818 49.6px,#111111,#333333,#505050,#646464,#707070,#757575,#737373 56.6px,#646464 58.6px,#171717 65.6px,#090909,#060606 67.6px,#2b2b2b 69.6px,#676767 72.6px,#757575,#7e7e7e,#7f7f7f,#787878,#686868,#4f4f4f 78.6px,#0d0d0d 80.6px,#1e1e1e 81.6px,#676767 83.6px,#838383,#969696,#9d9d9d,#999999,#898989,#6d6d6d,#4a4a4a,#202020,#0d0d0d 92.6px,#585858 94.6px,#767676,#898989,#919191,#8d8d8d,#7e7e7e,#666666,#474747,#242424,#090909,#222222,#414141,#575757,#666666,#6c6c6c,#696969,#5f5f5f 110.6px,#3a3a3a 112.6px,#0b0b0b 114.6px,#0c0c0c 115.6px,#2f2f2f 117.6px,#393939,#3e3e3e,#3e3e3e 120.7px,#323232 122.7px,#050505 126.7px,#050505 127.7px,#131313 129.7px,#191919 131.7px,#171717 133.7px,#020202 139.7px,#010101 140.7px,#070707 144.7px,#030303 150.7px,#000000 152.7px,#020202 158.7px)"></i><i style="top:60.00px;height:1.50px;background:linear-gradient(90deg,#070707 0.5px,#2f2f2f 4.5px,#3c3c3c 6.5px,#3b3b3b 8.5px,#333333,#262626,#141414,#060606,#1b1b1b 13.5px,#4f4f4f 15.5px,#7a7a7a 17.5px,#868686,#8b8b8b,#868686,#777777,#5f5f5f,#3c3c3c,#151515,#191919,#484848 26.5px,#9b9b9b 28.5px,#b8b8b8,#cccccc,#d2d2d2,#cacaca,#b5b5b5,#939393,#686868,#333333,#0f0f0f,#3a3a3a,#6b6b6b,#979797,#b7b7b7,#cbcbcb,#d2d2d2,#cbcbcb,#b9b9b9,#9b9b9b,#787878 47.6px,#252525 49.6px,#0a0a0a 50.6px,#4a4a4a 52.6px,#616161,#727272,#7b7b7b,#7e7e7e,#7b7b7b 57.6px,#6b6b6b 59.6px,#363636 63.6px,#060606 66.6px,#0e0e0e 67.6px,#606060 71.6px,#717171,#7c7c7c,#828282,#808080,#767676,#646464,#4a4a4a,#282828,#0b0b0b,#232323 81.6px,#696969 83.6px,#838383,#949494,#9a9a9a,#959595,#858585,#6b6b6b,#494949,#212121,#0c0c0c 92.6px,#545454 94.6px,#717171,#838383,#8c8c8c,#8a8a8a,#7d7d7d,#676767,#4a4a4a 101.6px,#090909 103.6px,#1b1b1b,#3a3a3a,#515151,#616161,#696969,#696969,#616161,#525252,#3f3f3f 112.6px,#111111 114.6px,#070707 115.6px,#2a2a2a 117.6px,#353535,#3c3c3c,#3e3e3e 120.7px,#353535 122.7px,#222222 124.7px,#0a0a0a 126.7px,#030303 127.7px,#161616 130.7px,#1a1a1a 132.7px,#171717 134.7px,#010101 140.7px,#080808 145.7px,#000000 153.7px,#020202 158.7px)"></i><i style="top:61.00px;height:1.50px;background:linear-gradient(90deg,#0c0c0c 0.5px,#343434 4.5px,#3e3e3e 6.5px,#3d3d3d,#383838,#2e2e2e,#202020,#0c0c0c,#0b0b0b 12.5px,#585858 15.5px,#6e6e6e,#7f7f7f,#898989,#8b8b8b,#848484,#727272,#585858 22.5px,#0e0e0e 24.5px,#222222,#505050 26.5px,#a1a1a1 28.5px,#bcbcbc,#cecece,#d3d3d3,#cacaca,#b5b5b5,#929292,#676767,#333333,#0e0e0e,#393939,#6a6a6a,#969696,#b6b6b6,#cccccc,#d4d4d4,#d0d0d0,#c0c0c0,#a4a4a4,#838383 47.6px,#0a0a0a 50.6px,#202020,#434343,#5e5e5e,#747474,#818181,#888888,#898989 57.6px,#7c7c7c 59.6px,#616161 61.6px,#3f3f3f 63.6px,#161616 65.6px,#060606,#161616 67.6px,#5a5a5a 70.6px,#7b7b7b 72.6px,#848484,#868686,#828282,#757575,#616161,#454545,#232323,#0a0a0a,#272727 81.6px,#6a6a6a 83.6px,#828282,#929292,#989898,#929292,#828282,#686868,#484848,#212121,#0b0b0b 92.6px,#4f4f4f 94.6px,#6c6c6c,#7e7e7e,#888888,#878787,#7b7b7b,#676767,#4c4c4c 101.6px,#0c0c0c 103.6px,#151515,#343434,#4b4b4b,#5c5c5c,#666666,#676767,#616161,#545454,#434343 112.6px,#181818 114.6px,#060606,#131313,#242424,#313131,#3a3a3a 119.7px,#3d3d3d 121.7px,#303030 123.7px,#040404 127.7px,#050505 128.7px,#141414 130.7px,#1a1a1a 132.7px,#161616 135.7px,#020202 140.7px,#010101 141.7px,#080808 145.7px,#030303 151.7px,#000000 153.7px,#020202 158.7px)"></i><i style="top:62.00px;height:1.50px;background:linear-gradient(90deg,#121212 0.5px,#303030 3.5px,#3d3d3d 5.5px,#3f3f3f,#3c3c3c,#353535,#292929 9.5px,#060606 11.5px,#141414 12.5px,#616161 15.5px,#757575,#848484,#8c8c8c,#8b8b8b,#818181,#6d6d6d,#515151,#2c2c2c,#0b0b0b,#2b2b2b,#595959 26.5px,#a6a6a6 28.5px,#c0c0c0,#d1d1d1,#d4d4d4,#cacaca,#b4b4b4,#919191,#676767,#333333,#0e0e0e,#383838,#696969,#959595,#b6b6b6,#cdcdcd,#d7d7d7,#d5d5d5,#c7c7c7,#adadad,#8d8d8d 47.6px,#3c3c3c 49.6px,#111111,#171717,#3e3e3e,#5c5c5c,#757575,#868686,#919191,#959595,#929292,#8b8b8b 59.6px,#6f6f6f 61.6px,#474747 63.6px,#171717 65.6px,#070707,#1d1d1d 67.6px,#4e4e4e 69.6px,#656565 70.6px,#848484 72.6px,#8b8b8b,#8b8b8b,#848484,#747474,#5e5e5e,#414141,#1f1f1f,#0a0a0a 80.6px,#6b6b6b 83.6px,#828282,#909090,#959595,#8f8f8f,#808080,#666666,#474747,#222222,#0a0a0a 92.6px,#4a4a4a 94.6px,#676767,#797979,#838383,#838383,#797979,#676767,#4e4e4e,#313131,#101010,#0f0f0f,#2d2d2d,#454545,#575757,#626262,#656565,#616161,#565656,#474747 112.6px,#080808 115.6px,#0c0c0c,#1f1f1f,#2d2d2d,#373737,#3c3c3c,#3d3d3d,#3a3a3a 122.7px,#2b2b2b 124.7px,#090909 127.7px,#020202 128.7px,#171717 131.7px,#1b1b1b 133.7px,#151515 136.7px,#010101 141.7px,#080808 145.7px,#040404 151.7px,#000000 154.7px,#020202 158.7px)"></i><i style="top:63.00px;height:1.50px;background:linear-gradient(90deg,#181818 0.5px,#353535 3.5px,#3c3c3c 4.5px,#3f3f3f 6.5px,#3a3a3a,#313131,#232323,#111111,#080808,#1e1e1e 12.5px,#515151 14.5px,#696969,#7b7b7b,#888888,#8d8d8d,#8a8a8a,#7d7d7d,#676767,#4a4a4a,#232323,#0b0b0b,#333333,#606060,#888888,#ababab,#c4c4c4,#d3d3d3,#d5d5d5,#cacaca,#b3b3b3,#909090,#666666,#333333,#0e0e0e,#383838 38.5px,#959595 40.6px,#b7b7b7,#cfcfcf,#dadada,#dadada,#cecece,#b6b6b6,#979797 47.6px,#474747 49.6px,#1a1a1a,#101010,#383838,#5a5a5a,#777777,#8b8b8b,#999999,#a0a0a0,#9f9f9f,#999999 59.6px,#7c7c7c 61.6px,#4f4f4f 63.6px,#181818 65.6px,#090909 66.6px,#575757 69.6px,#6e6e6e,#7f7f7f,#8c8c8c,#919191,#8f8f8f,#868686,#747474,#5d5d5d,#3e3e3e,#1b1b1b,#0b0b0b 80.6px,#4e4e4e 82.6px,#6b6b6b,#818181,#8f8f8f,#929292,#8c8c8c,#7d7d7d,#656565,#474747,#232323,#0a0a0a,#262626,#464646,#616161,#747474,#7e7e7e,#7f7f7f,#777777,#676767 100.6px,#343434 102.6px,#151515,#0b0b0b,#272727,#3f3f3f,#525252,#5d5d5d,#626262,#606060,#575757,#4a4a4a 112.6px,#232323 114.6px,#0d0d0d,#070707 116.6px,#282828 118.6px,#333333,#3a3a3a,#3d3d3d 121.7px,#363636 123.7px,#242424 125.7px,#040404 128.7px,#070707 129.7px,#151515 131.7px,#1b1b1b 133.7px,#171717 136.7px,#020202 141.7px,#010101 142.7px,#080808 145.7px,#050505 151.7px,#000000 155.7px,#020202 158.7px)"></i><i style="top:64.00px;height:1.50px;background:linear-gradient(90deg,#1e1e1e 0.5px,#323232 2.5px,#3f3f3f 4.5px,#3e3e3e 6.5px,#373737,#2c2c2c 8.5px,#090909 10.5px,#0f0f0f 11.5px,#5a5a5a 14.5px,#707070,#818181,#8b8b8b,#8e8e8e,#888888,#797979,#616161,#424242,#1b1b1b,#0f0f0f 24.5px,#686868 26.5px,#8e8e8e,#b0b0b0,#c7c7c7,#d5d5d5,#d6d6d6,#cacaca,#b3b3b3,#909090,#656565,#333333,#0e0e0e,#373737,#686868,#959595,#b7b7b7,#d1d1d1,#dedede,#dfdfdf,#d4d4d4,#bebebe,#a0a0a0 47.6px,#515151 49.6px,#232323,#0d0d0d 51.6px,#585858 53.6px,#787878,#909090,#a1a1a1,#aaaaaa,#ababab,#a6a6a6,#999999,#888888 61.6px,#575757 63.6px,#1a1a1a 65.6px,#0a0a0a 66.6px,#5f5f5f 69.6px,#767676,#878787,#939393,#979797,#939393,#888888,#757575,#5c5c5c,#3d3d3d,#191919,#0c0c0c,#2f2f2f 81.6px,#6b6b6b 83.6px,#7f7f7f,#8d8d8d,#909090,#8a8a8a,#7b7b7b,#636363,#464646,#242424,#090909,#232323 93.6px,#5c5c5c 95.6px,#6f6f6f,#7a7a7a,#7b7b7b,#747474,#666666,#505050 101.6px,#191919 103.6px,#080808 104.6px,#393939 106.6px,#4c4c4c,#595959,#5f5f5f,#5f5f5f 110.6px,#4c4c4c 112.6px,#282828 114.6px,#131313,#050505 116.6px,#303030 119.7px,#383838,#3c3c3c,#3c3c3c 122.7px,#313131 124.7px,#1e1e1e 126.7px,#080808 128.7px,#030303 129.7px,#121212 131.7px,#1a1a1a 133.7px,#1b1b1b 135.7px,#0d0d0d 139.7px,#010101 142.7px,#080808 146.7px,#070707 150.7px,#000000 156.7px,#010101 158.7px)"></i><i style="top:65.00px;height:1.50px;background:linear-gradient(90deg,#242424 0.5px,#363636 2.5px,#3d3d3d 3.5px,#404040 5.5px,#3c3c3c,#333333,#262626 8.5px,#050505 10.5px,#191919 11.5px,#4c4c4c 13.5px,#777777 15.5px,#858585,#8e8e8e,#8e8e8e,#858585,#757575,#5a5a5a,#3a3a3a,#131313,#171717 24.5px,#6f6f6f 26.5px,#959595,#b5b5b5,#cbcbcb,#d7d7d7,#d6d6d6,#cacaca,#b2b2b2,#8f8f8f,#656565,#323232,#0e0e0e,#383838 38.5px,#969696 40.6px,#b9b9b9,#d3d3d3,#e1e1e1,#e4e4e4,#dadada,#c6c6c6,#a9a9a9,#838383,#595959,#2b2b2b,#0c0c0c,#2f2f2f,#565656,#797979,#939393,#a7a7a7,#b3b3b3,#b6b6b6,#b1b1b1,#a5a5a5,#939393 61.6px,#5e5e5e 63.6px,#1c1c1c 65.6px,#0b0b0b 66.6px,#494949 68.6px,#656565,#7d7d7d,#8e8e8e,#999999,#9c9c9c,#979797,#8a8a8a,#767676,#5c5c5c,#3c3c3c,#181818,#0d0d0d 80.6px,#4e4e4e 82.6px,#6a6a6a,#7e7e7e,#8a8a8a,#8d8d8d,#878787,#797979,#626262,#464646,#252525,#090909,#1f1f1f 93.6px,#575757 95.6px,#696969,#757575,#777777,#717171,#646464,#505050,#383838,#1c1c1c,#070707 104.6px,#474747 107.6px,#545454,#5c5c5c,#5d5d5d,#575757,#4d4d4d 112.6px,#2c2c2c 114.6px,#060606 116.6px,#0e0e0e 117.6px,#2c2c2c 119.7px,#353535,#3a3a3a 121.7px,#393939 123.7px,#343434 124.7px,#171717 127.7px,#030303 129.7px,#161616 132.7px,#1b1b1b 134.7px,#1a1a1a 136.7px,#0b0b0b 140.7px,#020202 142.7px,#010101 143.7px,#080808 146.7px,#070707 150.7px,#000000 157.7px,#010101 158.7px)"></i><i style="top:66.00px;height:1.50px;background:linear-gradient(90deg,#292929 0.5px,#3a3a3a 2.5px,#404040 3.5px,#3f3f3f 5.5px,#393939 6.5px,#202020 8.5px,#0c0c0c,#0a0a0a 10.5px,#545454 13.5px,#7d7d7d 15.5px,#898989,#8f8f8f,#8d8d8d,#828282,#6f6f6f,#535353,#323232,#0d0d0d,#202020 24.5px,#777777 26.5px,#9b9b9b,#bababa,#cecece,#d9d9d9,#d7d7d7,#cacaca,#b2b2b2,#8e8e8e,#646464,#313131,#0e0e0e,#383838 38.5px,#979797 40.6px,#bababa,#d6d6d6,#e4e4e4,#e8e8e8,#e0e0e0,#cdcdcd,#b0b0b0,#8b8b8b,#616161,#323232,#0d0d0d,#2b2b2b 52.6px,#7a7a7a 54.6px,#979797,#adadad,#bababa,#bfbfbf,#bbbbbb,#afafaf,#9d9d9d 61.6px,#656565 63.6px,#1f1f1f 65.6px,#0b0b0b 66.6px,#4c4c4c 68.6px,#696969,#828282,#939393,#9d9d9d,#a0a0a0,#9a9a9a,#8d8d8d,#777777,#5d5d5d 77.6px,#181818 79.6px,#0c0c0c 80.6px,#4d4d4d 82.6px,#686868,#7b7b7b,#888888,#8a8a8a,#858585,#777777,#616161,#464646,#262626,#0a0a0a,#1b1b1b,#383838,#515151,#646464,#6f6f6f,#737373,#6e6e6e,#636363 100.6px,#3a3a3a 102.6px,#1f1f1f,#080808,#161616 105.6px,#414141 107.6px,#4f4f4f,#585858,#5a5a5a,#565656,#4d4d4d,#404040 113.6px,#0a0a0a 116.6px,#090909 117.6px,#272727 119.7px,#383838 121.7px,#3b3b3b 122.7px,#353535 124.7px,#252525 126.7px,#050505 129.7px,#040404 130.7px,#131313 132.7px,#1b1b1b 134.7px,#1b1b1b 136.7px,#121212 139.7px,#010101 143.7px,#090909 148.7px,#000000 158.7px)"></i><i style="top:67.00px;height:1.50px;background:linear-gradient(90deg,#2f2f2f 0.5px,#3e3e3e 2.5px,#424242 4.5px,#3e3e3e,#363636 6.5px,#191919 8.5px,#060606,#131313 10.5px,#5d5d5d 13.5px,#828282 15.5px,#8c8c8c,#909090,#8c8c8c,#7e7e7e,#6a6a6a,#4c4c4c 21.5px,#0b0b0b 23.5px,#282828 24.5px,#7e7e7e 26.5px,#a0a0a0,#bebebe,#d1d1d1,#dadada,#d8d8d8,#c9c9c9,#b1b1b1,#8d8d8d,#626262,#303030,#0e0e0e,#393939 38.5px,#989898 40.6px,#bcbcbc,#d8d8d8,#e8e8e8,#ededed,#e5e5e5,#d3d3d3,#b7b7b7,#929292,#686868,#383838,#0f0f0f,#282828 52.6px,#7a7a7a 54.6px,#999999,#b2b2b2,#c1c1c1,#c7c7c7,#c4c4c4,#b8b8b8,#a5a5a5 61.6px,#6c6c6c 63.6px,#222222 65.6px,#0b0b0b,#2a2a2a,#4e4e4e,#6c6c6c,#858585,#979797,#a1a1a1,#a3a3a3,#9d9d9d,#8f8f8f,#797979,#5e5e5e 77.6px,#191919 79.6px,#0c0c0c 80.6px,#4b4b4b 82.6px,#666666,#797979,#848484,#878787,#828282,#757575,#606060,#474747 90.6px,#0b0b0b 92.6px,#171717 93.6px,#4c4c4c 95.6px,#5e5e5e,#6a6a6a,#6e6e6e,#6b6b6b,#606060,#505050,#3b3b3b 102.6px,#0a0a0a 104.6px,#111111 105.6px,#3c3c3c 107.6px,#4a4a4a,#545454,#575757,#555555,#4d4d4d 112.6px,#323232 114.6px,#0e0e0e 116.6px,#060606 117.6px,#232323 119.7px,#363636 121.7px,#393939 123.7px,#303030 125.7px,#141414 128.7px,#090909,#020202 130.7px,#111111 132.7px,#1a1a1a 134.7px,#1c1c1c 136.7px,#141414 139.7px,#030303 143.7px,#010101 144.7px,#080808 147.7px,#080808 151.7px,#000000 158.7px)"></i><i style="top:68.00px;height:1.50px;background:linear-gradient(90deg,#343434 0.5px,#404040 2.5px,#414141 4.5px,#3b3b3b,#313131,#232323,#111111,#070707,#1c1c1c 10.5px,#656565 13.5px,#787878,#868686,#8f8f8f,#909090,#8a8a8a,#7a7a7a,#646464,#454545,#222222,#0c0c0c,#313131 24.5px,#858585 26.5px,#a6a6a6,#c2c2c2,#d4d4d4,#dcdcdc,#d8d8d8,#c9c9c9,#b0b0b0,#8b8b8b,#616161,#2e2e2e,#0e0e0e 37.5px,#6b6b6b 39.5px,#9a9a9a,#bebebe,#dadada,#ebebeb,#f0f0f0,#eaeaea,#d8d8d8,#bdbdbd,#989898,#6e6e6e 49.6px,#111111 51.6px,#242424 52.6px,#7a7a7a 54.6px,#9b9b9b,#b5b5b5,#c6c6c6,#cdcdcd,#cccccc,#c0c0c0,#adadad,#929292,#727272 63.6px,#262626 65.6px,#0b0b0b,#2a2a2a,#4f4f4f,#6d6d6d,#878787,#999999,#a4a4a4,#a6a6a6,#9f9f9f,#919191,#7b7b7b,#606060 77.6px,#1b1b1b 79.6px,#0b0b0b 80.6px,#484848 82.6px,#636363,#757575,#818181,#848484,#7f7f7f,#737373,#5f5f5f,#474747 90.6px,#0d0d0d 92.6px,#121212 93.6px,#464646 95.6px,#585858,#646464,#696969,#676767,#5e5e5e,#4f4f4f,#3c3c3c 102.6px,#0d0d0d 104.6px,#0d0d0d 105.6px,#363636 107.6px,#454545,#4f4f4f,#545454,#535353,#4d4d4d 112.6px,#343434 114.6px,#121212 116.6px,#050505,#101010,#1f1f1f 119.7px,#333333 121.7px,#393939 123.7px,#323232 125.7px,#222222 127.7px,#040404 130.7px,#060606 131.7px,#141414 133.7px,#1b1b1b 135.7px,#1b1b1b 137.7px,#0e0e0e 141.7px,#010101 144.7px,#090909 149.7px,#040404 155.7px,#010101 158.7px)"></i><i style="top:69.00px;height:1.50px;background:linear-gradient(90deg,#383838 0.5px,#3f3f3f 1.5px,#434343 3.5px,#383838 5.5px,#2c2c2c 6.5px,#090909 8.5px,#0e0e0e 9.5px,#6c6c6c 13.5px,#7d7d7d,#8a8a8a,#909090,#8f8f8f,#878787,#757575,#5e5e5e,#3e3e3e,#1a1a1a,#111111 23.5px,#646464 25.5px,#8b8b8b,#acacac,#c6c6c6,#d6d6d6,#dddddd,#d8d8d8,#c8c8c8,#aeaeae,#898989,#5f5f5f,#2c2c2c,#0f0f0f,#3c3c3c 38.5px,#9b9b9b 40.6px,#c0c0c0,#dddddd,#eeeeee,#f4f4f4,#eeeeee,#dddddd,#c2c2c2,#9e9e9e,#747474 49.6px,#141414 51.6px,#212121 52.6px,#797979 54.6px,#9c9c9c,#b8b8b8,#cacaca,#d3d3d3,#d2d2d2,#c7c7c7,#b4b4b4,#989898,#787878 63.6px,#2a2a2a 65.6px,#0b0b0b,#282828,#4e4e4e,#6d6d6d,#888888,#9b9b9b,#a5a5a5,#a8a8a8,#a1a1a1,#939393,#7d7d7d,#626262 77.6px,#1e1e1e 79.6px,#0a0a0a 80.6px,#5f5f5f 83.6px,#717171,#7d7d7d,#808080,#7c7c7c,#717171,#5e5e5e,#474747 90.6px,#101010 92.6px,#0e0e0e 93.6px,#404040 95.6px,#525252,#5e5e5e,#646464,#626262,#5b5b5b 100.6px,#3c3c3c 102.6px,#101010 104.6px,#090909 105.6px,#313131 107.6px,#404040,#4b4b4b,#505050,#505050,#4c4c4c 112.6px,#363636 114.6px,#060606 117.6px,#0b0b0b 118.6px,#262626 120.7px,#303030 121.7px,#383838 123.7px,#333333 125.7px,#242424 127.7px,#070707 130.7px,#030303 131.7px,#171717 134.7px,#1c1c1c 136.7px,#181818 139.7px,#030303 144.7px,#010101 145.7px,#080808 149.7px,#080808 153.7px,#020202 158.7px)"></i><i style="top:70.00px;height:1.50px;background:linear-gradient(90deg,#3c3c3c 0.5px,#434343 2.5px,#424242,#3d3d3d 4.5px,#262626 6.5px,#050505 8.5px,#171717 9.5px,#5e5e5e 12.5px,#727272,#828282,#8d8d8d,#919191,#8e8e8e,#838383,#707070,#575757 20.5px,#121212 22.5px,#181818 23.5px,#6b6b6b 25.5px,#929292,#b1b1b1,#cacaca,#d9d9d9,#dedede,#d8d8d8,#c7c7c7,#adadad,#878787,#5d5d5d,#2a2a2a,#0f0f0f 37.5px,#9d9d9d 40.6px,#c2c2c2,#dfdfdf,#f0f0f0,#f7f7f7,#f2f2f2,#e1e1e1,#c7c7c7,#a2a2a2,#797979 49.6px,#171717 51.6px,#1e1e1e 52.6px,#797979 54.6px,#9c9c9c,#bababa,#cdcdcd,#d7d7d7,#d7d7d7,#cccccc,#bababa,#9e9e9e,#7d7d7d 63.6px,#2e2e2e 65.6px,#0b0b0b,#252525,#4c4c4c,#6c6c6c,#888888,#9b9b9b,#a6a6a6,#a8a8a8,#a2a2a2,#949494,#7f7f7f,#646464 77.6px,#212121 79.6px,#090909 80.6px,#5a5a5a 83.6px,#6c6c6c,#787878,#7c7c7c,#797979,#6f6f6f 88.6px,#484848 90.6px,#131313 92.6px,#0a0a0a 93.6px,#3a3a3a 95.6px,#4b4b4b,#585858,#5e5e5e,#5e5e5e,#585858,#4c4c4c,#3c3c3c 102.6px,#121212 104.6px,#070707 105.6px,#2c2c2c 107.6px,#3b3b3b,#464646,#4c4c4c,#4d4d4d,#4a4a4a 112.6px,#373737 114.6px,#080808 117.6px,#070707 118.6px,#222222 120.7px,#333333 122.7px,#373737 124.7px,#2e2e2e 126.7px,#1e1e1e 128.7px,#030303 131.7px,#191919 135.7px,#1c1c1c 137.7px,#161616 140.7px,#020202 145.7px,#040404 147.7px,#090909 150.7px,#030303 158.7px)"></i><i style="top:71.00px;height:1.50px;background:linear-gradient(90deg,#3f3f3f 0.5px,#434343 1.5px,#404040 3.5px,#3a3a3a 4.5px,#202020 6.5px,#0d0d0d,#080808 8.5px,#656565 12.5px,#787878,#878787,#8f8f8f,#929292,#8c8c8c,#808080,#6b6b6b,#505050 20.5px,#0c0c0c 22.5px,#212121 23.5px,#727272 25.5px,#989898,#b6b6b6,#cdcdcd,#dbdbdb,#dfdfdf,#d8d8d8,#c6c6c6,#ababab,#858585,#5a5a5a,#282828,#101010 37.5px,#717171 39.5px,#9f9f9f,#c3c3c3,#e1e1e1,#f2f2f2,#f9f9f9,#f5f5f5,#e4e4e4,#cbcbcb,#a6a6a6,#7d7d7d 49.6px,#1b1b1b 51.6px,#1b1b1b 52.6px,#777777 54.6px,#9c9c9c,#bbbbbb,#cfcfcf,#dadada,#dbdbdb,#d1d1d1,#bfbfbf,#a3a3a3,#838383 63.6px,#0c0c0c 66.6px,#212121,#494949,#6a6a6a,#868686,#999999,#a5a5a5,#a8a8a8,#a3a3a3,#969696 75.6px,#676767 77.6px,#252525 79.6px,#090909,#1e1e1e 81.6px,#545454 83.6px,#676767,#737373,#787878,#757575,#6c6c6c,#5c5c5c,#484848 90.6px,#161616 92.6px,#070707 93.6px,#343434 95.6px,#454545,#525252,#585858,#595959,#545454 100.6px,#3b3b3b 102.6px,#141414 104.6px,#060606 105.6px,#363636 108.6px,#414141,#484848,#4a4a4a,#484848 112.6px,#373737 114.6px,#1b1b1b 116.6px,#0b0b0b,#040404 118.6px,#1f1f1f 120.7px,#303030 122.7px,#353535 123.7px,#343434 125.7px,#292929 127.7px,#050505 131.7px,#040404 132.7px,#121212 134.7px,#1a1a1a 136.7px,#1c1c1c 138.7px,#141414 141.7px,#010101 146.7px,#090909 151.7px,#040404 158.7px)"></i><i style="top:72.00px;height:1.50px;background:linear-gradient(90deg,#414141 0.5px,#444444,#434343 2.5px,#363636 4.5px,#191919 6.5px,#070707,#101010 8.5px,#575757 11.5px,#7e7e7e 13.5px,#8a8a8a,#919191,#919191,#8a8a8a,#7b7b7b,#656565,#494949,#262626,#090909,#292929 23.5px,#797979 25.5px,#9e9e9e,#bababa,#d0d0d0,#dddddd,#dfdfdf,#d7d7d7,#c4c4c4,#a8a8a8,#828282,#575757,#252525,#111111 37.5px,#737373 39.5px,#a1a1a1,#c5c5c5,#e3e3e3,#f4f4f4,#fbfbfb,#f7f7f7,#e7e7e7,#cecece,#aaaaaa,#808080 49.6px,#1e1e1e 51.6px,#181818 52.6px,#767676 54.6px,#9b9b9b,#bbbbbb,#d0d0d0,#dcdcdc,#dddddd,#d4d4d4,#c3c3c3,#a8a8a8,#888888 63.6px,#0e0e0e 66.6px,#1d1d1d,#454545,#666666,#838383,#979797,#a4a4a4,#a8a8a8,#a3a3a3,#969696,#828282,#696969,#4b4b4b,#292929,#0b0b0b,#181818 81.6px,#4e4e4e 83.6px,#606060,#6d6d6d,#737373,#717171,#696969,#5b5b5b,#484848 90.6px,#191919 92.6px,#060606 93.6px,#2d2d2d 95.6px,#3e3e3e,#4b4b4b,#525252,#545454,#505050,#474747,#3a3a3a 102.6px,#050505 105.6px,#111111,#232323 107.6px,#3d3d3d 109.6px,#444444,#474747 111.6px,#404040 113.6px,#2b2b2b 115.6px,#0e0e0e 117.6px,#030303 118.6px,#262626 121.7px,#333333 123.7px,#343434 125.7px,#2a2a2a 127.7px,#080808 131.7px,#020202 132.7px,#151515 135.7px,#1b1b1b 137.7px,#1b1b1b 139.7px,#0e0e0e 143.7px,#020202 146.7px,#010101 147.7px,#090909 151.7px,#060606 157.7px,#050505 158.7px)"></i><i style="top:73.00px;height:1.50px;background:linear-gradient(90deg,#434343 0.5px,#444444 1.5px,#3b3b3b 3.5px,#313131 4.5px,#121212 6.5px,#060606,#191919 8.5px,#5f5f5f 11.5px,#828282 13.5px,#8d8d8d,#929292,#909090,#868686,#767676,#5e5e5e,#414141,#1d1d1d,#0b0b0b 22.5px,#808080 25.5px,#a3a3a3,#bebebe,#d3d3d3,#dedede,#dfdfdf,#d6d6d6,#c2c2c2,#a6a6a6,#7f7f7f,#545454,#222222,#131313 37.5px,#757575 39.5px,#a3a3a3,#c7c7c7,#e4e4e4,#f6f6f6,#fdfdfd,#f9f9f9,#e9e9e9,#d0d0d0,#acacac,#838383 49.6px,#212121 51.6px,#151515 52.6px,#737373 54.6px,#9a9a9a,#bababa,#d0d0d0,#dddddd,#dfdfdf,#d7d7d7,#c6c6c6,#acacac,#8c8c8c 63.6px,#3d3d3d 65.6px,#121212,#181818,#404040,#626262,#7f7f7f,#949494,#a1a1a1,#a6a6a6,#a2a2a2,#979797,#848484,#6c6c6c 77.6px,#0f0f0f 80.6px,#121212 81.6px,#474747 83.6px,#5a5a5a,#676767,#6d6d6d,#6d6d6d,#666666,#595959,#484848 90.6px,#060606 93.6px,#121212,#272727 95.6px,#444444 97.6px,#4c4c4c,#4e4e4e,#4b4b4b 100.6px,#383838 102.6px,#060606 105.6px,#0d0d0d,#1f1f1f 107.6px,#383838 109.6px,#434343 111.6px,#3e3e3e 113.6px,#2b2b2b 115.6px,#040404 118.6px,#0b0b0b 119.7px,#222222 121.7px,#2b2b2b 122.7px,#333333 124.7px,#313131 126.7px,#252525 128.7px,#020202 132.7px,#0d0d0d 134.7px,#171717 136.7px,#1b1b1b 138.7px,#1a1a1a 140.7px,#010101 147.7px,#0a0a0a 153.7px,#060606 158.7px)"></i><i style="top:74.00px;height:1.50px;background:linear-gradient(90deg,#444444 0.5px,#3f3f3f 2.5px,#2c2c2c 4.5px,#0a0a0a 6.5px,#0c0c0c 7.5px,#666666 11.5px,#787878,#868686,#8f8f8f,#929292,#8e8e8e,#838383,#717171 18.5px,#3a3a3a 20.5px,#151515,#111111 22.5px,#606060 24.5px,#878787,#a8a8a8,#c2c2c2,#d6d6d6,#dfdfdf,#dfdfdf,#d5d5d5,#c0c0c0,#a3a3a3,#7c7c7c,#515151,#1f1f1f,#141414,#484848 38.5px,#a4a4a4 40.6px,#c8c8c8,#e5e5e5,#f6f6f6,#fefefe,#fafafa,#eaeaea,#d2d2d2,#aeaeae,#868686 49.6px,#242424 51.6px,#131313 52.6px,#717171 54.6px,#979797,#b8b8b8,#cfcfcf,#dddddd,#e0e0e0,#d9d9d9,#c9c9c9,#b0b0b0,#909090 63.6px,#424242 65.6px,#171717,#121212,#3a3a3a,#5c5c5c,#7a7a7a,#8f8f8f,#9e9e9e,#a3a3a3,#a1a1a1,#979797,#858585,#6e6e6e 77.6px,#333333 79.6px,#141414,#0b0b0b 81.6px,#3f3f3f 83.6px,#525252,#606060,#676767,#686868,#636363 88.6px,#484848 90.6px,#090909 93.6px,#0c0c0c,#212121,#313131,#3d3d3d,#454545,#484848,#464646,#404040,#363636 102.6px,#181818 104.6px,#070707,#0a0a0a,#1b1b1b 107.6px,#343434 109.6px,#3f3f3f 111.6px,#3c3c3c 113.6px,#2b2b2b 115.6px,#131313 117.6px,#050505,#080808 119.7px,#1f1f1f 121.7px,#2e2e2e 123.7px,#323232 125.7px,#2c2c2c 127.7px,#171717 130.7px,#050505 132.7px,#030303 133.7px,#111111 135.7px,#191919 137.7px,#1b1b1b 140.7px,#0e0e0e 144.7px,#010101 148.7px,#090909 152.7px,#080808 157.7px,#070707 158.7px)"></i><i style="top:75.00px;height:1.50px;background:linear-gradient(90deg,#444444 0.5px,#424242 1.5px,#333333 3.5px,#262626 4.5px,#050505 6.5px,#141414 7.5px,#585858 10.5px,#7d7d7d 12.5px,#8a8a8a,#919191,#929292,#8c8c8c,#7e7e7e,#6b6b6b 18.5px,#323232 20.5px,#0e0e0e,#191919 22.5px,#686868 24.5px,#8d8d8d,#adadad,#c6c6c6,#d8d8d8,#e0e0e0,#dedede,#d3d3d3,#bdbdbd,#a0a0a0 33.5px,#4d4d4d 35.5px,#1b1b1b,#171717,#4a4a4a 38.5px,#a6a6a6 40.6px,#c9c9c9,#e6e6e6,#f7f7f7,#fefefe,#fafafa,#ebebeb,#d3d3d3,#b0b0b0,#888888 49.6px,#272727 51.6px,#111111 52.6px,#6e6e6e 54.6px,#959595,#b6b6b6,#cdcdcd,#dcdcdc,#e0e0e0,#dadada,#cbcbcb,#b3b3b3,#949494 63.6px,#484848 65.6px,#1d1d1d,#0d0d0d,#343434,#565656,#747474,#8a8a8a,#9a9a9a,#a0a0a0,#9f9f9f,#969696,#868686,#717171 77.6px,#383838 79.6px,#1b1b1b,#080808 81.6px,#373737 83.6px,#4a4a4a,#595959,#616161,#636363,#5f5f5f,#555555,#474747 90.6px,#222222 92.6px,#0d0d0d,#080808 94.6px,#2a2a2a 96.6px,#363636,#3e3e3e,#424242,#414141,#3c3c3c 101.6px,#272727 103.6px,#080808 105.6px,#080808 106.6px,#242424 108.6px,#373737 110.6px,#3c3c3c 112.6px,#343434 114.6px,#202020 116.6px,#070707 118.6px,#060606 119.7px,#252525 122.7px,#2f2f2f 124.7px,#303030 126.7px,#282828 128.7px,#080808 132.7px,#020202 133.7px,#181818 137.7px,#1b1b1b 140.7px,#141414 143.7px,#010101 148.7px,#090909 152.7px,#090909 156.7px,#070707 158.7px)"></i><i style="top:76.00px;height:1.50px;background:linear-gradient(90deg,#444444 0.5px,#393939 2.5px,#202020 4.5px,#0e0e0e,#070707 6.5px,#5f5f5f 10.5px,#727272,#818181,#8c8c8c,#929292,#909090,#898989,#7a7a7a,#656565 18.5px,#2a2a2a 20.5px,#0a0a0a,#212121,#4a4a4a 23.5px,#939393 25.5px,#b2b2b2,#c9c9c9,#d9d9d9,#e0e0e0,#dddddd,#d1d1d1,#bababa,#9c9c9c,#757575,#494949,#181818,#191919,#4d4d4d 38.5px,#a7a7a7 40.6px,#cacaca,#e6e6e6,#f7f7f7,#fefefe,#fbfbfb,#ececec,#d4d4d4,#b1b1b1,#898989 49.6px,#2a2a2a 51.6px,#101010,#3b3b3b,#6a6a6a,#919191,#b3b3b3,#cbcbcb,#dadada,#dfdfdf,#dadada,#cdcdcd,#b5b5b5,#989898 63.6px,#4d4d4d 65.6px,#232323,#0a0a0a 67.6px,#4f4f4f 69.6px,#6e6e6e,#848484,#959595,#9c9c9c,#9c9c9c,#959595,#868686,#737373,#5a5a5a 78.6px,#212121 80.6px,#070707,#171717,#2f2f2f,#424242,#515151,#5a5a5a,#5d5d5d,#5a5a5a,#525252,#464646 90.6px,#252525 92.6px,#111111,#050505 94.6px,#232323 96.6px,#2f2f2f 97.6px,#3c3c3c 99.6px,#3c3c3c 100.6px,#303030 102.6px,#181818 104.6px,#090909,#050505 106.6px,#202020 108.6px,#333333 110.6px,#393939 112.6px,#323232 114.6px,#202020 116.6px,#090909 118.6px,#040404 119.7px,#1a1a1a 121.7px,#292929 123.7px,#303030 125.7px,#2d2d2d 127.7px,#1b1b1b 130.7px,#030303 133.7px,#0c0c0c 135.7px,#161616 137.7px,#1b1b1b 139.7px,#161616 143.7px,#030303 148.7px,#010101 149.7px,#090909 153.7px,#090909 157.7px,#080808 158.7px)"></i><i style="top:77.00px;height:1.50px;background:linear-gradient(90deg,#434343 0.5px,#353535 2.5px,#191919 4.5px,#070707,#0e0e0e 6.5px,#525252 9.5px,#787878 11.5px,#858585,#8e8e8e,#929292,#8f8f8f,#858585,#757575,#5f5f5f,#424242,#212121,#0a0a0a,#292929 22.5px,#767676 24.5px,#989898,#b6b6b6,#cccccc,#dadada,#e0e0e0,#dcdcdc,#cecece,#b7b7b7,#989898,#717171,#464646,#141414,#1d1d1d,#4f4f4f 38.5px,#a8a8a8 40.6px,#cacaca,#e6e6e6,#f7f7f7,#fefefe,#fafafa,#ececec,#d4d4d4,#b2b2b2,#8b8b8b 49.6px,#2c2c2c 51.6px,#0e0e0e,#383838,#676767,#8e8e8e,#b0b0b0,#c8c8c8,#d8d8d8,#dedede,#dadada,#cdcdcd,#b7b7b7,#9b9b9b 63.6px,#535353 65.6px,#292929,#0a0a0a,#262626 68.6px,#676767 70.6px,#7e7e7e,#8f8f8f,#989898,#999999,#949494 75.6px,#757575 77.6px,#424242 79.6px,#0b0b0b 81.6px,#0e0e0e,#262626 83.6px,#494949 85.6px,#525252,#565656,#555555,#4f4f4f,#454545 90.6px,#272727 92.6px,#050505 94.6px,#0e0e0e 95.6px,#282828 97.6px,#353535 99.6px,#363636,#333333 101.6px,#232323 103.6px,#0a0a0a 105.6px,#040404 106.6px,#1d1d1d 108.6px,#2e2e2e 110.6px,#353535 112.6px,#303030 114.6px,#202020 116.6px,#0a0a0a 118.6px,#030303 119.7px,#202020 122.7px,#2b2b2b 124.7px,#2e2e2e 126.7px,#292929 128.7px,#151515 131.7px,#050505 133.7px,#030303 134.7px,#151515 137.7px,#1b1b1b 140.7px,#171717 143.7px,#010101 149.7px,#0a0a0a 154.7px,#090909 158.7px)"></i><i style="top:78.00px;height:1.50px;background:linear-gradient(90deg,#414141 0.5px,#303030 2.5px,#050505 5.5px,#161616 6.5px,#595959 9.5px,#7c7c7c 11.5px,#888888,#909090,#919191,#8c8c8c,#818181,#6f6f6f,#585858 18.5px,#191919 20.5px,#0e0e0e,#313131,#595959 23.5px,#9e9e9e 25.5px,#bababa,#cecece,#dbdbdb,#dfdfdf,#dadada,#cbcbcb,#b3b3b3,#949494,#6d6d6d,#424242,#111111,#202020,#525252 38.5px,#a9a9a9 40.6px,#cbcbcb,#e6e6e6,#f6f6f6,#fdfdfd,#f9f9f9,#ebebeb,#d4d4d4,#b3b3b3,#8c8c8c 49.6px,#2f2f2f 51.6px,#0d0d0d,#343434,#636363,#8a8a8a,#acacac,#c5c5c5,#d5d5d5,#dcdcdc,#d9d9d9,#cecece,#b9b9b9,#9e9e9e 63.6px,#585858 65.6px,#303030,#0c0c0c,#1e1e1e 68.6px,#5f5f5f 70.6px,#777777,#898989,#939393,#969696,#919191,#868686,#767676 77.6px,#474747 79.6px,#131313 81.6px,#080808 82.6px,#303030 84.6px,#404040,#4a4a4a,#505050,#505050 88.6px,#434343 90.6px,#282828 92.6px,#080808 94.6px,#080808 95.6px,#212121 97.6px,#2e2e2e 99.6px,#303030,#2e2e2e 101.6px,#202020 103.6px,#0a0a0a 105.6px,#030303 106.6px,#232323 109.6px,#2f2f2f 111.6px,#313131 113.6px,#272727 115.6px,#030303 119.7px,#0a0a0a 120.7px,#1d1d1d 122.7px,#292929 124.7px,#2d2d2d 126.7px,#292929 128.7px,#171717 131.7px,#070707 133.7px,#020202 134.7px,#171717 138.7px,#1b1b1b 141.7px,#121212 145.7px,#030303 149.7px,#010101 150.7px,#090909 154.7px,#0a0a0a 158.7px)"></i><i style="top:79.00px;height:1.50px;background:linear-gradient(90deg,#3e3e3e 0.5px,#2b2b2b 2.5px,#0b0b0b 4.5px,#0a0a0a 5.5px,#5f5f5f 9.5px,#808080 11.5px,#8b8b8b,#909090,#909090,#898989,#7d7d7d,#696969,#515151 18.5px,#111111 20.5px,#141414 21.5px,#606060 23.5px,#a2a2a2 25.5px,#bdbdbd,#d0d0d0,#dbdbdb,#dedede,#d8d8d8,#c8c8c8,#b0b0b0,#909090 33.5px,#3e3e3e 35.5px,#0f0f0f,#222222,#545454 38.5px,#aaaaaa 40.6px,#cacaca,#e5e5e5,#f5f5f5,#fcfcfc,#f8f8f8,#eaeaea,#d3d3d3,#b3b3b3,#8d8d8d 49.6px,#323232 51.6px,#0d0d0d,#303030,#5e5e5e,#858585,#a8a8a8,#c1c1c1,#d2d2d2,#dadada,#d8d8d8,#cecece,#bababa,#a1a1a1 63.6px,#5d5d5d 65.6px,#111111 67.6px,#161616 68.6px,#575757 70.6px,#6f6f6f,#828282,#8d8d8d,#929292,#8f8f8f,#868686,#777777,#646464 78.6px,#1a1a1a 81.6px,#070707,#141414 83.6px,#373737 85.6px,#424242,#494949,#4a4a4a,#474747 89.6px,#363636 91.6px,#1b1b1b 93.6px,#0d0d0d,#040404 95.6px,#1a1a1a 97.6px,#272727 99.6px,#282828 101.6px,#1d1d1d 103.6px,#090909 105.6px,#030303 106.6px,#202020 109.6px,#2c2c2c 111.6px,#2d2d2d 113.6px,#2b2b2b 114.6px,#1e1e1e 116.6px,#030303 119.7px,#090909 120.7px,#1b1b1b 122.7px,#272727 124.7px,#2c2c2c 126.7px,#292929 128.7px,#181818 131.7px,#020202 134.7px,#050505 135.7px,#111111 137.7px,#1a1a1a 140.7px,#191919 143.7px,#010101 150.7px,#0a0a0a 155.7px,#0a0a0a 158.7px)"></i><i style="top:80.00px;height:1.50px;background:linear-gradient(90deg,#3b3b3b 0.5px,#252525 2.5px,#050505 4.5px,#121212 5.5px,#666666 9.5px,#848484 11.5px,#8d8d8d,#909090,#8e8e8e,#868686,#787878,#636363,#4a4a4a 18.5px,#0b0b0b 20.5px,#1d1d1d 21.5px,#666666 23.5px,#a7a7a7 25.5px,#c0c0c0,#d1d1d1,#dbdbdb,#dddddd,#d5d5d5,#c5c5c5,#acacac,#8c8c8c 33.5px,#3a3a3a 35.5px,#0d0d0d,#252525,#565656 38.5px,#aaaaaa 40.6px,#cacaca,#e4e4e4,#f4f4f4,#fafafa,#f7f7f7,#e9e9e9,#d3d3d3,#b3b3b3,#8e8e8e 49.6px,#343434 51.6px,#0d0d0d,#2c2c2c,#5a5a5a 54.6px,#a3a3a3 56.6px,#bcbcbc,#cecece,#d7d7d7,#d6d6d6,#cdcdcd,#bbbbbb,#a3a3a3 63.6px,#636363 65.6px,#181818 67.6px,#0f0f0f 68.6px,#4f4f4f 70.6px,#676767,#7b7b7b,#878787,#8d8d8d,#8c8c8c,#858585,#787878 77.6px,#515151 79.6px,#0b0b0b 82.6px,#0b0b0b 83.6px,#2e2e2e 85.6px,#414141 87.6px,#444444,#434343,#3e3e3e 90.6px,#2a2a2a 92.6px,#040404 95.6px,#080808 96.6px,#1b1b1b 98.6px,#212121 99.6px,#232323 101.6px,#1a1a1a 103.6px,#020202 106.6px,#1d1d1d 109.6px,#282828 111.6px,#2a2a2a 113.6px,#232323 115.6px,#141414 117.6px,#030303 119.7px,#080808 120.7px,#202020 123.7px,#292929 125.7px,#2a2a2a 127.7px,#252525 129.7px,#0b0b0b 133.7px,#040404,#030303 135.7px,#141414 138.7px,#1b1b1b 141.7px,#151515 145.7px,#020202 150.7px,#010101 151.7px,#090909 155.7px,#0b0b0b 158.7px)"></i><i style="top:81.00px;height:1.50px;background:linear-gradient(90deg,#373737 0.5px,#1f1f1f 2.5px,#0e0e0e,#060606 4.5px,#6b6b6b 9.5px,#878787 11.5px,#8e8e8e,#909090,#8c8c8c,#828282,#727272,#5c5c5c,#424242,#222222,#080808,#242424 21.5px,#6d6d6d 23.5px,#aaaaaa 25.5px,#c2c2c2,#d2d2d2,#dbdbdb,#dbdbdb,#d2d2d2,#c1c1c1,#a8a8a8,#888888 33.5px,#0c0c0c 36.5px,#282828,#585858 38.5px,#aaaaaa 40.6px,#c9c9c9,#e3e3e3,#f2f2f2,#f9f9f9,#f5f5f5,#e8e8e8,#d2d2d2,#b3b3b3,#8f8f8f 49.6px,#0d0d0d 52.6px,#282828,#555555 54.6px,#9e9e9e 56.6px,#b7b7b7,#cacaca,#d3d3d3,#d4d4d4,#cccccc,#bcbcbc,#a5a5a5 63.6px,#686868 65.6px,#1f1f1f 67.6px,#0a0a0a 68.6px,#464646 70.6px,#5f5f5f,#737373,#818181,#888888,#898989,#838383,#797979,#696969 78.6px,#404040 80.6px,#141414 82.6px,#050505 83.6px,#252525 85.6px,#313131,#393939 87.6px,#3e3e3e 89.6px,#343434 91.6px,#202020 93.6px,#080808 95.6px,#030303 96.6px,#141414 98.6px,#1a1a1a 99.6px,#1d1d1d 101.6px,#161616 103.6px,#070707 105.6px,#020202 106.6px,#202020 110.6px,#272727 112.6px,#252525 114.6px,#1b1b1b 116.6px,#030303 119.7px,#070707 120.7px,#1f1f1f 123.7px,#282828 125.7px,#2a2a2a 127.7px,#252525 129.7px,#0d0d0d 133.7px,#050505,#020202 135.7px,#161616 139.7px,#1a1a1a 141.7px,#181818 144.7px,#080808 149.7px,#010101 151.7px,#0b0b0b 157.7px,#0b0b0b 158.7px)"></i><i style="top:82.00px;height:1.50px;background:linear-gradient(90deg,#333333 0.5px,#181818 2.5px,#070707,#0c0c0c 4.5px,#5e5e5e 8.5px,#707070 9.5px,#898989 11.5px,#8e8e8e,#8e8e8e,#898989,#7d7d7d,#6d6d6d 16.5px,#3b3b3b 18.5px,#1a1a1a,#0a0a0a 20.5px,#737373 23.5px,#aeaeae 25.5px,#c4c4c4,#d3d3d3,#dadada,#d9d9d9,#cfcfcf,#bebebe,#a3a3a3,#838383 33.5px,#0b0b0b 36.5px,#2b2b2b,#595959 38.5px,#aaaaaa 40.6px,#c9c9c9,#e1e1e1,#f0f0f0,#f7f7f7,#f3f3f3,#e6e6e6,#d1d1d1,#b2b2b2,#8f8f8f 49.6px,#0e0e0e 52.6px,#242424,#505050,#767676,#989898,#b2b2b2,#c5c5c5,#d0d0d0,#d1d1d1,#cbcbcb,#bcbcbc,#a7a7a7 63.6px,#6d6d6d 65.6px,#272727 67.6px,#090909,#1e1e1e,#3d3d3d,#565656,#6b6b6b,#7a7a7a,#838383,#858585,#818181,#797979,#6b6b6b 78.6px,#464646 80.6px,#070707 83.6px,#0b0b0b 84.6px,#282828 86.6px,#373737 88.6px,#373737 90.6px,#2b2b2b 92.6px,#040404 96.6px,#060606 97.6px,#131313 99.6px,#171717 101.6px,#121212 103.6px,#050505 105.6px,#020202 106.6px,#181818 109.6px,#212121 111.6px,#242424 113.6px,#1e1e1e 115.6px,#0b0b0b 118.6px,#030303,#060606 120.7px,#1d1d1d 123.7px,#262626 125.7px,#292929 127.7px,#252525 129.7px,#0e0e0e 133.7px,#020202 135.7px,#151515 139.7px,#1a1a1a 141.7px,#171717 145.7px,#020202 151.7px,#010101 152.7px,#0a0a0a 156.7px,#0b0b0b 158.7px)"></i><i style="top:83.00px;height:1.50px;background:linear-gradient(90deg,#2e2e2e 0.5px,#111111 2.5px,#050505,#141414 4.5px,#525252 7.5px,#757575 9.5px,#8a8a8a 11.5px,#8e8e8e,#8d8d8d,#868686,#797979,#676767 16.5px,#333333 18.5px,#121212,#0f0f0f 20.5px,#787878 23.5px,#b1b1b1 25.5px,#c6c6c6,#d3d3d3,#d9d9d9,#d7d7d7,#cccccc,#bababa,#9f9f9f,#7f7f7f 33.5px,#2e2e2e 35.5px,#0b0b0b,#2d2d2d,#5b5b5b 38.5px,#a9a9a9 40.6px,#c7c7c7,#e0e0e0,#eeeeee,#f4f4f4,#f1f1f1,#e4e4e4,#d0d0d0,#b2b2b2,#909090 49.6px,#3c3c3c 51.6px,#0f0f0f,#1f1f1f,#4b4b4b,#717171,#939393,#adadad,#c1c1c1,#cbcbcb,#cecece,#c9c9c9,#bcbcbc,#a9a9a9,#8f8f8f 64.6px,#505050 66.6px,#0c0c0c 68.6px,#151515,#343434,#4e4e4e,#636363,#737373,#7d7d7d,#818181,#7f7f7f,#787878 77.6px,#5d5d5d 79.6px,#101010 83.6px,#050505 84.6px,#1f1f1f 86.6px,#303030 88.6px,#333333 90.6px,#2a2a2a 92.6px,#020202 97.6px,#0f0f0f 100.6px,#101010 102.6px,#090909 104.6px,#030303,#030303 106.6px,#1b1b1b 110.6px,#202020 112.6px,#1f1f1f 114.6px,#171717 116.6px,#020202 119.7px,#060606 120.7px,#1c1c1c 123.7px,#252525 125.7px,#282828 127.7px,#212121 130.7px,#020202 135.7px,#040404 136.7px,#171717 140.7px,#1a1a1a 143.7px,#121212 147.7px,#010101 152.7px,#0b0b0b 158.7px)"></i><i style="top:84.00px;height:1.50px;background:linear-gradient(90deg,#292929 0.5px,#0b0b0b 2.5px,#080808 3.5px,#585858 7.5px,#797979 9.5px,#848484,#8b8b8b,#8d8d8d,#8a8a8a,#828282,#737373,#606060 16.5px,#2b2b2b 18.5px,#0c0c0c,#171717 20.5px,#7e7e7e 23.5px,#b4b4b4 25.5px,#c7c7c7,#d3d3d3,#d7d7d7,#d4d4d4,#c8c8c8,#b6b6b6,#9a9a9a,#7a7a7a 33.5px,#2a2a2a 35.5px,#0b0b0b,#2f2f2f,#5c5c5c 38.5px,#a9a9a9 40.6px,#c6c6c6,#dedede,#ececec,#f2f2f2,#eeeeee,#e2e2e2,#cecece,#b1b1b1,#909090 49.6px,#3e3e3e 51.6px,#111111,#1b1b1b,#464646 54.6px,#8d8d8d 56.6px,#a7a7a7,#bcbcbc,#c7c7c7,#cbcbcb,#c7c7c7,#bcbcbc,#aaaaaa,#929292,#767676 65.6px,#131313 68.6px,#0c0c0c,#2b2b2b,#454545,#5b5b5b,#6b6b6b,#777777,#7c7c7c,#7c7c7c,#777777,#6e6e6e 78.6px,#505050 80.6px,#080808 84.6px,#090909 85.6px,#212121 87.6px,#2d2d2d 89.6px,#2d2d2d 91.6px,#1d1d1d 94.6px,#060606 97.6px,#020202 98.6px,#090909 100.6px,#0a0a0a 102.6px,#010101 105.6px,#191919 110.6px,#1e1e1e 113.6px,#151515 116.6px,#020202 119.7px,#060606 120.7px,#1b1b1b 123.7px,#242424 125.7px,#272727 127.7px,#212121 130.7px,#040404 135.7px,#030303 136.7px,#161616 140.7px,#1a1a1a 143.7px,#131313 147.7px,#020202 152.7px,#010101 153.7px,#0b0b0b 158.7px)"></i></div>
<div class="cb" style="left:665.00px;top:151.00px;width:2.80px;height:85.00px;background:linear-gradient(180deg,#800000 0.0%,#ff0000 12.5%,#ff8000 25.0%,#ffff00 37.5%,#80ff80 50.0%,#00ffff 62.5%,#0080ff 75.0%,#0000ff 87.5%,#000080 100.0%)"></div>
<svg width="0" height="0" style="position:absolute"><filter id="jet" color-interpolation-filters="sRGB" x="0" y="0" width="1" height="1"><feComponentTransfer>
<feFuncR type="table" tableValues="0 0 0 0 0.5 1 1 1 0.5"/><feFuncG type="table" tableValues="0 0 0.5 1 1 1 0.5 0 0"/><feFuncB type="table" tableValues="0.5 1 1 1 0.5 0 0 0 0"/>
</feComponentTransfer></filter><filter id="soft" x="0" y="0" width="1" height="1" color-interpolation-filters="sRGB"><feConvolveMatrix order="3" kernelMatrix="0.0016 0.0371 0.0016 0.0371 0.8450 0.0371 0.0016 0.0371 0.0016" edgeMode="duplicate" preserveAlpha="true"/></filter></svg>
<svg width="685" height="274" viewBox="0 0 685 274">
<path d="M36.55 8.30V93.00M45.60 8.30V93.00M54.65 8.30V93.00M63.70 8.30V93.00M72.74 8.30V93.00M81.79 8.30V93.00M90.84 8.30V93.00M99.89 8.30V93.00M108.94 8.30V93.00M117.99 8.30V93.00M127.04 8.30V93.00M136.09 8.30V93.00M145.14 8.30V93.00M154.18 8.30V93.00M163.23 8.30V93.00M172.28 8.30V93.00M181.33 8.30V93.00M190.38 8.30V93.00M27.50 87.71H194.00M27.50 82.41H194.00M27.50 77.12H194.00M27.50 71.83H194.00M27.50 66.53H194.00M27.50 61.24H194.00M27.50 55.94H194.00M27.50 50.65H194.00M27.50 45.36H194.00M27.50 40.06H194.00M27.50 34.77H194.00M27.50 29.48H194.00M27.50 24.18H194.00M27.50 18.89H194.00M27.50 13.59H194.00" stroke="#f3f3f3" stroke-width="0.8" fill="none"/>
<path d="M27.50 50.50 27.75 50.50 28.00 50.49 28.25 50.49 28.50 50.48 28.75 50.48 29.00 50.48 29.25 50.47 29.50 50.47 29.75 50.47 30.00 50.46 30.25 50.46 30.50 50.46 30.75 50.45 31.00 50.45 31.25 50.45 31.50 50.45 31.75 50.44 32.00 50.44 32.25 50.44 32.50 50.44 32.75 50.43 33.00 50.43 33.25 50.43 33.50 50.43 33.75 50.43 34.00 50.42 34.25 50.42 34.50 50.42 34.75 50.42 35.00 50.42 35.25 50.42 35.50 50.42 35.75 50.41 36.00 50.41 36.25 50.41 36.50 50.41 36.75 50.41 37.00 50.41 37.25 50.41 37.50 50.41 37.75 50.41 38.00 50.41 38.25 50.41 38.50 50.41 38.75 50.40 39.00 50.40 39.25 50.40 39.50 50.40 39.75 50.40 40.00 50.40 40.25 50.40 40.50 50.40 40.75 50.40 41.00 50.40 41.25 50.40 41.50 50.40 41.75 50.40 42.00 50.40 42.25 50.40 42.50 50.40 42.75 50.40 43.00 50.40 43.25 50.40 43.50 50.40 43.75 50.40 44.00 50.40 44.25 50.40 44.50 50.40 44.75 50.40 45.00 50.40 45.25 50.40 45.50 50.40 45.75 50.41 46.00 50.41 46.25 50.42 46.50 50.43 46.75 50.44 47.00 50.46 47.25 50.47 47.50 50.49 47.75 50.50 48.00 50.52 48.25 50.54 48.50 50.56 48.75 50.58 49.00 50.60 49.25 50.63 49.50 50.65 49.75 50.67 50.00 50.70 50.25 50.73 50.50 50.77 50.75 50.81 51.00 50.86 51.25 50.92 51.50 50.99 51.75 51.06 52.00 51.13 52.25 51.21 52.50 51.29 52.75 51.37 53.00 51.46 53.25 51.54 53.50 51.63 53.75 51.72 54.00 51.80 54.25 51.89 54.50 51.98 54.75 52.07 55.00 52.17 55.25 52.28 55.50 52.40 55.75 52.52 56.00 52.66 56.25 52.81 56.50 52.98 56.75 53.16 57.00 53.38 57.25 53.67 57.50 54.02 57.75 54.43 58.00 54.89 58.25 55.40 58.50 55.95 58.75 56.54 59.00 57.16 59.25 57.92 59.50 58.80 59.75 59.79 60.00 60.86 60.25 61.97 60.50 63.10 60.75 64.45 61.00 66.13 61.25 67.96 61.50 69.78 61.75 71.42 62.00 72.70 62.25 73.46 62.50 73.55 62.75 72.98 63.00 71.89 63.25 70.40 63.50 68.62 63.75 66.67 64.00 64.67 64.25 62.71 64.50 60.42 64.75 57.74 65.00 54.87 65.25 52.03 65.50 49.40 65.75 47.09 66.00 44.88 66.25 42.52 66.50 39.59 66.75 36.05 67.00 32.51 67.25 29.59 67.50 27.79 67.75 26.32 68.00 24.93 68.25 23.67 68.50 22.56 68.75 21.62 69.00 20.88 69.25 20.38 69.50 20.12 69.75 20.13 70.00 20.32 70.25 20.66 70.50 21.15 70.75 21.77 71.00 22.51 71.25 23.37 71.50 24.32 71.75 25.37 72.00 26.48 72.25 27.67 72.50 29.00 72.75 31.23 73.00 34.15 73.25 37.29 73.50 40.18 73.75 42.38 74.00 44.19 74.25 45.89 74.50 47.45 74.75 48.88 75.00 50.17 75.25 51.30 75.50 52.28 75.75 53.26 76.00 54.22 76.25 55.15 76.50 56.00 76.75 56.74 77.00 57.34 77.25 57.76 77.50 57.98 77.75 57.99 78.00 57.91 78.25 57.78 78.50 57.60 78.75 57.38 79.00 57.14 79.25 56.90 79.50 56.65 79.75 56.41 80.00 56.20 80.25 56.00 80.50 55.81 80.75 55.61 81.00 55.41 81.25 55.21 81.50 55.00 81.75 54.79 82.00 54.58 82.25 54.36 82.50 54.12 82.75 53.87 83.00 53.60 83.25 53.31 83.50 53.02 83.75 52.72 84.00 52.41 84.25 52.10 84.50 51.79 84.75 51.49 85.00 51.18 85.25 50.88 85.50 50.60 85.75 50.32 86.00 50.06 86.25 49.81 86.50 49.58 86.75 49.38 87.00 49.19 87.25 49.04 87.50 48.91 87.75 48.82 88.00 48.75 88.25 48.69 88.50 48.64 88.75 48.60 89.00 48.57 89.25 48.54 89.50 48.50 89.75 48.46 90.00 48.42 90.25 48.37 90.50 48.30 90.75 48.20 91.00 48.06 91.25 47.87 91.50 47.65 91.75 47.40 92.00 47.13 92.25 46.84 92.50 46.55 92.75 46.24 93.00 45.95 93.25 45.66 93.50 45.38 93.75 45.13 94.00 44.90 94.25 44.71 94.50 44.56 94.75 44.46 95.00 44.40 95.25 44.41 95.50 44.48 95.75 44.59 96.00 44.76 96.25 44.97 96.50 45.22 96.75 45.50 97.00 45.81 97.25 46.15 97.50 46.50 97.75 46.99 98.00 47.71 98.25 48.60 98.50 49.61 98.75 50.70 99.00 51.81 99.25 52.89 99.50 53.90 99.75 54.95 100.00 56.17 100.25 57.46 100.50 58.75 100.75 59.96 101.00 61.02 101.25 61.85 101.50 62.36 101.75 62.49 102.00 62.31 102.25 61.87 102.50 61.23 102.75 60.39 103.00 59.40 103.25 58.29 103.50 57.08 103.75 55.80 104.00 54.49 104.25 53.17 104.50 51.87 104.75 50.62 105.00 49.46 105.25 48.41 105.50 47.50 105.75 46.63 106.00 45.70 106.25 44.74 106.50 43.77 106.75 42.83 107.00 41.95 107.25 41.15 107.50 40.46 107.75 39.93 108.00 39.56 108.25 39.40 108.50 39.48 108.75 39.81 109.00 40.34 109.25 41.03 109.50 41.85 109.75 42.76 110.00 43.72 110.25 44.68 110.50 45.62 110.75 46.48 111.00 47.24 111.25 47.85 111.50 48.37 111.75 48.87 112.00 49.44 112.25 50.17 112.50 51.29 112.75 52.82 113.00 54.69 113.25 56.80 113.50 59.07 113.75 61.42 114.00 63.76 114.25 66.02 114.50 68.09 114.75 69.91 115.00 71.38 115.25 72.42 115.50 72.95 115.75 72.94 116.00 72.57 116.25 71.90 116.50 70.97 116.75 69.82 117.00 68.48 117.25 67.00 117.50 65.39 117.75 63.71 118.00 62.00 118.25 60.27 118.50 58.59 118.75 56.97 119.00 55.46 119.25 54.10 119.50 52.91 119.75 51.92 120.00 51.01 120.25 50.15 120.50 49.34 120.75 48.56 121.00 47.76 121.25 46.93 121.50 46.06 121.75 45.17 122.00 44.26 122.25 43.34 122.50 42.43 122.75 41.54 123.00 40.66 123.25 39.82 123.50 39.02 123.75 38.28 124.00 37.59 124.25 36.98 124.50 36.45 124.75 36.00 125.00 35.66 125.25 35.43 125.50 35.31 125.75 35.32 126.00 35.42 126.25 35.62 126.50 35.89 126.75 36.23 127.00 36.64 127.25 37.11 127.50 37.62 127.75 38.18 128.00 38.76 128.25 39.37 128.50 40.00 128.75 40.63 129.00 41.26 129.25 41.89 129.50 42.50 129.75 43.14 130.00 43.86 130.25 44.64 130.50 45.47 130.75 46.33 131.00 47.22 131.25 48.12 131.50 49.02 131.75 49.89 132.00 50.74 132.25 51.55 132.50 52.35 132.75 53.24 133.00 54.19 133.25 55.15 133.50 56.09 133.75 56.97 134.00 57.75 134.25 58.40 134.50 58.88 134.75 59.15 135.00 59.20 135.25 59.17 135.50 59.12 135.75 59.04 136.00 58.94 136.25 58.82 136.50 58.68 136.75 58.52 137.00 58.35 137.25 58.16 137.50 57.96 137.75 57.76 138.00 57.54 138.25 57.32 138.50 57.10 138.75 56.88 139.00 56.65 139.25 56.43 139.50 56.21 139.75 55.97 140.00 55.71 140.25 55.42 140.50 55.11 140.75 54.79 141.00 54.46 141.25 54.12 141.50 53.76 141.75 53.41 142.00 53.05 142.25 52.69 142.50 52.34 142.75 52.00 143.00 51.66 143.25 51.34 143.50 50.99 143.75 50.62 144.00 50.22 144.25 49.81 144.50 49.39 144.75 48.97 145.00 48.55 145.25 48.14 145.50 47.76 145.75 47.40 146.00 47.08 146.25 46.79 146.50 46.56 146.75 46.37 147.00 46.25 147.25 46.20 147.50 46.23 147.75 46.34 148.00 46.53 148.25 46.79 148.50 47.10 148.75 47.45 149.00 47.85 149.25 48.26 149.50 48.69 149.75 49.13 150.00 49.56 150.25 49.98 150.50 50.37 150.75 50.72 151.00 51.03 151.25 51.28 151.50 51.47 151.75 51.65 152.00 51.83 152.25 52.01 152.50 52.18 152.75 52.35 153.00 52.51 153.25 52.66 153.50 52.80 153.75 52.93 154.00 53.04 154.25 53.13 154.50 53.21 154.75 53.26 155.00 53.29 155.25 53.30 155.50 53.23 155.75 53.08 156.00 52.85 156.25 52.56 156.50 52.22 156.75 51.83 157.00 51.41 157.25 50.97 157.50 50.52 157.75 50.07 158.00 49.63 158.25 49.21 158.50 48.83 158.75 48.48 159.00 48.20 159.25 47.96 159.50 47.72 159.75 47.48 160.00 47.24 160.25 47.00 160.50 46.77 160.75 46.54 161.00 46.32 161.25 46.12 161.50 45.93 161.75 45.76 162.00 45.62 162.25 45.49 162.50 45.40 162.75 45.33 163.00 45.30 163.25 45.32 163.50 45.42 163.75 45.59 164.00 45.84 164.25 46.15 164.50 46.50 164.75 46.90 165.00 47.32 165.25 47.76 165.50 48.22 165.75 48.66 166.00 49.10 166.25 49.52 166.50 49.90 166.75 50.24 167.00 50.55 167.25 50.89 167.50 51.25 167.75 51.62 168.00 51.99 168.25 52.35 168.50 52.71 168.75 53.05 169.00 53.36 169.25 53.64 169.50 53.88 169.75 54.07 170.00 54.21 170.25 54.29 170.50 54.30 170.75 54.25 171.00 54.15 171.25 54.01 171.50 53.83 171.75 53.62 172.00 53.38 172.25 53.12 172.50 52.84 172.75 52.56 173.00 52.26 173.25 51.97 173.50 51.69 173.75 51.42 174.00 51.16 174.25 50.93 174.50 50.72 174.75 50.50 175.00 50.27 175.25 50.03 175.50 49.78 175.75 49.53 176.00 49.28 176.25 49.04 176.50 48.80 176.75 48.57 177.00 48.35 177.25 48.15 177.50 47.98 177.75 47.82 178.00 47.69 178.25 47.59 178.50 47.53 178.75 47.50 179.00 47.51 179.25 47.54 179.50 47.60 179.75 47.69 180.00 47.79 180.25 47.91 180.50 48.04 180.75 48.19 181.00 48.35 181.25 48.51 181.50 48.68 181.75 48.86 182.00 49.04 182.25 49.21 182.50 49.38 182.75 49.55 183.00 49.71 183.25 49.85 183.50 49.99 183.75 50.10 184.00 50.21 184.25 50.29 184.50 50.35 184.75 50.42 185.00 50.49 185.25 50.55 185.50 50.61 185.75 50.67 186.00 50.73 186.25 50.79 186.50 50.83 186.75 50.88 187.00 50.92 187.25 50.95 187.50 50.97 187.75 50.99 188.00 51.00 188.25 51.00 188.50 51.00 188.75 51.00 189.00 50.99 189.25 50.99 189.50 50.98 189.75 50.97 190.00 50.95 190.25 50.94 190.50 50.92 190.75 50.90 191.00 50.88 191.25 50.85 191.50 50.82 191.75 50.79 192.00 50.75 192.25 50.71 192.50 50.67 192.75 50.62 193.00 50.56 193.25 50.50 193.50 50.44 193.75 50.37 194.00 50.30" stroke="#4444ff" stroke-width="0.95" fill="none" stroke-linejoin="round"/>
<rect x="27.50" y="8.30" width="166.50" height="84.70" fill="none" stroke="#b5b5b5" stroke-width="0.8"/>
<path d="M27.50 93.00v-1.60M27.50 8.30v1.60M72.74 93.00v-1.60M72.74 8.30v1.60M117.99 93.00v-1.60M117.99 8.30v1.60M163.23 93.00v-1.60M163.23 8.30v1.60M27.50 93.00h1.60M194.00 93.00h-1.60M27.50 71.83h1.60M194.00 71.83h-1.60M27.50 50.65h1.60M194.00 50.65h-1.60M27.50 29.47h1.60M194.00 29.47h-1.60M27.50 8.30h1.60M194.00 8.30h-1.60" stroke="#888" stroke-width="0.8" fill="none"/>
<text transform="matrix(0.975 0 0 1.120 28.00 102.80)" font-size="8.40" text-anchor="middle">0</text>
<text transform="matrix(0.975 0 0 1.120 73.24 102.80)" font-size="8.40" text-anchor="middle">0.05</text>
<text transform="matrix(0.975 0 0 1.120 118.49 102.80)" font-size="8.40" text-anchor="middle">0.1</text>
<text transform="matrix(0.975 0 0 1.120 163.73 102.80)" font-size="8.40" text-anchor="middle">0.15</text>
<text transform="matrix(0.975 0 0 1.120 26.00 96.97)" font-size="8.40" text-anchor="end">-0.4</text>
<text transform="matrix(0.975 0 0 1.120 26.00 75.80)" font-size="8.40" text-anchor="end">-0.2</text>
<text transform="matrix(0.975 0 0 1.120 26.00 54.62)" font-size="8.40" text-anchor="end">0</text>
<text transform="matrix(0.975 0 0 1.120 26.00 33.45)" font-size="8.40" text-anchor="end">0.2</text>
<text transform="matrix(0.975 0 0 1.120 26.00 12.27)" font-size="8.40" text-anchor="end">0.4</text>
<text transform="matrix(0.975 0 0 1.120 111.15 114.80)" font-size="9.20" text-anchor="middle">Time (sec)</text>
<text transform="translate(8.90 50.65) rotate(-90) scale(0.985 1)" font-size="9.20" text-anchor="middle">Voltage (V)</text>
<text x="103.00" y="129.80" font-size="9.50" text-anchor="middle" class="cap">(a)</text>
<path d="M271.99 8.30V93.10M280.99 8.30V93.10M289.98 8.30V93.10M298.98 8.30V93.10M307.97 8.30V93.10M316.97 8.30V93.10M325.96 8.30V93.10M334.96 8.30V93.10M343.95 8.30V93.10M352.95 8.30V93.10M361.94 8.30V93.10M370.94 8.30V93.10M379.93 8.30V93.10M388.92 8.30V93.10M397.92 8.30V93.10M406.91 8.30V93.10M415.91 8.30V93.10M424.90 8.30V93.10M263.00 88.86H429.40M263.00 84.62H429.40M263.00 80.38H429.40M263.00 76.14H429.40M263.00 71.90H429.40M263.00 67.66H429.40M263.00 63.42H429.40M263.00 59.18H429.40M263.00 54.94H429.40M263.00 50.70H429.40M263.00 46.46H429.40M263.00 42.22H429.40M263.00 37.98H429.40M263.00 33.74H429.40M263.00 29.50H429.40M263.00 25.26H429.40M263.00 21.02H429.40M263.00 16.78H429.40M263.00 12.54H429.40" stroke="#f3f3f3" stroke-width="0.8" fill="none"/>
<path d="M263.00 50.40 263.25 50.38 263.50 50.37 263.75 50.36 264.00 50.34 264.25 50.33 264.50 50.32 264.75 50.30 265.00 50.29 265.25 50.28 265.50 50.27 265.75 50.26 266.00 50.25 266.25 50.24 266.50 50.23 266.75 50.22 267.00 50.21 267.25 50.20 267.50 50.20 267.75 50.19 268.00 50.18 268.25 50.18 268.50 50.17 268.75 50.16 269.00 50.16 269.25 50.15 269.50 50.15 269.75 50.14 270.00 50.14 270.25 50.14 270.50 50.13 270.75 50.13 271.00 50.13 271.25 50.12 271.50 50.12 271.75 50.12 272.00 50.12 272.25 50.11 272.50 50.11 272.75 50.11 273.00 50.11 273.25 50.11 273.50 50.11 273.75 50.10 274.00 50.10 274.25 50.10 274.50 50.10 274.75 50.10 275.00 50.10 275.25 50.10 275.50 50.10 275.75 50.10 276.00 50.10 276.25 50.10 276.50 50.10 276.75 50.10 277.00 50.10 277.25 50.10 277.50 50.19 277.75 50.51 278.00 50.94 278.25 51.38 278.50 51.73 278.75 52.12 279.00 52.50 279.25 52.78 279.50 52.90 279.75 52.90 280.00 52.89 280.25 52.89 280.50 52.88 280.75 52.87 281.00 52.85 281.25 52.83 281.50 52.81 281.75 52.78 282.00 52.75 282.25 52.72 282.50 52.68 282.75 52.64 283.00 52.59 283.25 52.55 283.50 52.49 283.75 52.43 284.00 52.37 284.25 52.30 284.50 52.23 284.75 52.07 285.00 51.57 285.25 50.85 285.50 50.08 285.75 49.42 286.00 49.04 286.25 49.02 286.50 49.14 286.75 49.34 287.00 49.59 287.25 49.96 287.50 50.70 287.75 51.62 288.00 52.48 288.25 53.04 288.50 53.27 288.75 53.43 289.00 53.56 289.25 53.67 289.50 53.76 289.75 53.85 290.00 53.94 290.25 54.06 290.50 54.20 290.75 54.38 291.00 54.58 291.25 54.80 291.50 55.05 291.75 55.30 292.00 55.56 292.25 55.83 292.50 56.10 292.75 56.36 293.00 56.61 293.25 56.85 293.50 57.05 293.75 57.24 294.00 57.41 294.25 57.58 294.50 57.77 294.75 57.99 295.00 58.25 295.25 58.57 295.50 59.00 295.75 59.78 296.00 60.88 296.25 62.19 296.50 63.61 296.75 65.03 297.00 66.57 297.25 68.56 297.50 70.73 297.75 72.79 298.00 74.48 298.25 75.51 298.50 75.67 298.75 75.35 299.00 74.73 299.25 73.86 299.50 72.78 299.75 71.56 300.00 70.24 300.25 68.87 300.50 67.30 300.75 65.19 301.00 62.73 301.25 60.12 301.50 57.56 301.75 55.24 302.00 53.07 302.25 50.76 302.50 48.00 302.75 44.18 303.00 39.71 303.25 35.44 303.50 31.28 303.75 28.03 304.00 25.09 304.25 22.67 304.50 21.10 304.75 20.18 305.00 19.48 305.25 19.05 305.50 18.86 305.75 18.75 306.00 18.66 306.25 18.53 306.50 18.28 306.75 17.84 307.00 17.32 307.25 16.81 307.50 16.40 307.75 16.21 308.00 16.34 308.25 16.85 308.50 17.64 308.75 18.64 309.00 19.75 309.25 20.88 309.50 22.07 309.75 23.53 310.00 25.18 310.25 26.96 310.50 28.89 310.75 31.00 311.00 33.34 311.25 35.94 311.50 39.61 311.75 43.21 312.00 44.05 312.25 44.45 312.50 44.75 312.75 45.18 313.00 45.93 313.25 46.99 313.50 48.27 313.75 49.71 314.00 51.21 314.25 52.71 314.50 54.40 314.75 56.54 315.00 58.57 315.25 59.94 315.50 60.19 315.75 60.09 316.00 59.88 316.25 59.60 316.50 59.25 316.75 58.85 317.00 58.43 317.25 58.00 317.50 57.57 317.75 57.17 318.00 56.80 318.25 56.43 318.50 56.05 318.75 55.66 319.00 55.25 319.25 54.81 319.50 54.34 319.75 53.84 320.00 53.30 320.25 52.71 320.50 52.05 320.75 51.30 321.00 50.40 321.25 49.17 321.50 47.12 321.75 44.72 322.00 42.52 322.25 41.08 322.50 40.80 322.75 40.80 323.00 40.80 323.25 40.80 323.50 40.80 323.75 41.38 324.00 42.70 324.25 44.15 324.50 45.10 324.75 45.16 325.00 44.93 325.25 44.59 325.50 44.19 325.75 43.83 326.00 43.57 326.25 43.50 326.50 43.57 326.75 43.74 327.00 43.97 327.25 44.27 327.50 44.61 327.75 44.97 328.00 45.37 328.25 45.91 328.50 46.59 328.75 47.38 329.00 48.24 329.25 49.12 329.50 50.00 329.75 50.90 330.00 51.87 330.25 52.88 330.50 53.91 330.75 54.90 331.00 55.89 331.25 56.90 331.50 57.97 331.75 59.14 332.00 60.44 332.25 62.06 332.50 64.45 332.75 67.14 333.00 69.54 333.25 71.10 333.50 71.36 333.75 70.95 334.00 70.14 334.25 69.02 334.50 67.66 334.75 66.14 335.00 64.54 335.25 62.93 335.50 61.40 335.75 59.80 336.00 57.99 336.25 56.04 336.50 54.03 336.75 52.03 337.00 50.12 337.25 48.37 337.50 46.73 337.75 45.12 338.00 43.44 338.25 41.62 338.50 39.54 338.75 37.41 339.00 35.16 339.25 32.65 339.50 30.64 339.75 29.85 340.00 29.62 340.25 29.46 340.50 29.35 340.75 29.30 341.00 29.62 341.25 30.66 341.50 32.00 341.75 34.21 342.00 36.56 342.25 37.27 342.50 37.61 342.75 37.84 343.00 38.01 343.25 38.17 343.50 38.37 343.75 38.67 344.00 39.04 344.25 39.46 344.50 39.94 344.75 40.44 345.00 40.98 345.25 41.54 345.50 42.10 345.75 42.66 346.00 43.24 346.25 43.95 346.50 44.76 346.75 45.57 347.00 46.30 347.25 46.87 347.50 47.17 347.75 47.14 348.00 46.84 348.25 46.44 348.50 46.10 348.75 46.01 349.00 46.27 349.25 46.81 349.50 47.53 349.75 48.34 350.00 49.30 350.25 50.59 350.50 52.00 350.75 53.78 351.00 55.81 351.25 57.30 351.50 57.59 351.75 57.52 352.00 57.39 352.25 57.20 352.50 56.98 352.75 56.73 353.00 56.48 353.25 56.23 353.50 56.00 353.75 55.79 354.00 55.60 354.25 55.42 354.50 55.23 354.75 55.03 355.00 54.81 355.25 54.56 355.50 54.28 355.75 53.95 356.00 53.57 356.25 53.07 356.50 52.25 356.75 51.18 357.00 49.98 357.25 48.74 357.50 47.11 357.75 45.25 358.00 43.62 358.25 42.67 358.50 42.06 358.75 41.59 359.00 41.33 359.25 41.40 359.50 41.89 359.75 42.60 360.00 43.31 360.25 43.80 360.50 43.87 360.75 43.53 361.00 42.94 361.25 42.20 361.50 41.44 361.75 40.78 362.00 40.33 362.25 40.20 362.50 40.33 362.75 40.59 363.00 40.97 363.25 41.43 363.50 41.93 363.75 42.44 364.00 42.92 364.25 43.37 364.50 43.83 364.75 44.33 365.00 44.84 365.25 45.36 365.50 45.88 365.75 46.40 366.00 46.91 366.25 47.40 366.50 47.85 366.75 48.24 367.00 48.65 367.25 49.14 367.50 49.80 367.75 50.83 368.00 52.12 368.25 53.49 368.50 54.80 368.75 56.24 369.00 57.79 369.25 58.93 369.50 59.24 369.75 59.31 370.00 59.37 370.25 59.41 370.50 59.44 370.75 59.46 371.00 59.49 371.25 59.52 371.50 59.57 371.75 59.65 372.00 59.77 372.25 59.94 372.50 60.12 372.75 60.33 373.00 60.53 373.25 60.73 373.50 60.91 373.75 61.05 374.00 61.15 374.25 61.20 374.50 60.94 374.75 60.04 375.00 58.73 375.25 57.26 375.50 55.90 375.75 54.89 376.00 54.50 376.25 54.57 376.50 54.76 376.75 55.03 377.00 55.36 377.25 55.83 377.50 56.76 377.75 57.95 378.00 59.13 378.25 60.04 378.50 60.40 378.75 60.28 379.00 59.98 379.25 59.55 379.50 59.05 379.75 58.55 380.00 58.12 380.25 57.82 380.50 57.70 380.75 57.72 381.00 57.78 381.25 57.86 381.50 57.96 381.75 58.06 382.00 58.16 382.25 58.23 382.50 58.29 382.75 58.29 383.00 58.05 383.25 57.52 383.50 56.80 383.75 55.97 384.00 55.13 384.25 54.35 384.50 53.74 384.75 53.37 385.00 53.34 385.25 53.69 385.50 54.30 385.75 55.05 386.00 55.85 386.25 57.11 386.50 58.67 386.75 60.23 387.00 61.47 387.25 62.08 387.50 62.09 387.75 62.05 388.00 61.99 388.25 61.90 388.50 61.80 388.75 61.69 389.00 61.57 389.25 61.45 389.50 61.33 389.75 61.21 390.00 61.11 390.25 61.02 390.50 60.94 390.75 60.88 391.00 60.83 391.25 60.78 391.50 60.73 391.75 60.67 392.00 60.60 392.25 60.51 392.50 60.40 392.75 60.05 393.00 59.32 393.25 58.35 393.50 57.27 393.75 56.21 394.00 55.29 394.25 54.64 394.50 54.40 394.75 54.78 395.00 55.69 395.25 56.80 395.50 57.77 395.75 58.28 396.00 58.23 396.25 57.97 396.50 57.56 396.75 57.04 397.00 56.47 397.25 55.87 397.50 55.29 397.75 54.79 398.00 54.40 398.25 54.08 398.50 53.77 398.75 53.47 399.00 53.18 399.25 52.92 399.50 52.68 399.75 52.48 400.00 52.31 400.25 52.18 400.50 52.09 400.75 52.03 401.00 51.98 401.25 51.92 401.50 51.84 401.75 51.73 402.00 51.29 402.25 50.22 402.50 48.99 402.75 48.08 403.00 47.92 403.25 48.15 403.50 48.54 403.75 49.01 404.00 49.96 404.25 51.36 404.50 52.87 404.75 54.17 405.00 54.92 405.25 55.00 405.50 54.98 405.75 54.95 406.00 54.90 406.25 54.85 406.50 54.78 406.75 54.71 407.00 54.64 407.25 54.56 407.50 54.49 407.75 54.41 408.00 54.34 408.25 54.27 408.50 54.20 408.75 54.13 409.00 54.05 409.25 53.96 409.50 53.87 409.75 53.76 410.00 53.64 410.25 53.51 410.50 53.36 410.75 53.16 411.00 52.79 411.25 52.29 411.50 51.71 411.75 51.10 412.00 50.52 412.25 50.03 412.50 49.67 412.75 49.51 413.00 49.64 413.25 50.08 413.50 50.62 413.75 51.02 414.00 51.09 414.25 51.03 414.50 50.90 414.75 50.72 415.00 50.52 415.25 50.30 415.50 50.08 415.75 49.88 416.00 49.70 416.25 49.57 416.50 49.51 416.75 49.50 417.00 49.51 417.25 49.51 417.50 49.53 417.75 49.54 418.00 49.56 418.25 49.59 418.50 49.61 418.75 49.64 419.00 49.67 419.25 49.71 419.50 49.74 419.75 49.78 420.00 49.82 420.25 49.89 420.50 50.00 420.75 50.14 421.00 50.29 421.25 50.46 421.50 50.63 421.75 50.80 422.00 50.96 422.25 51.11 422.50 51.23 422.75 51.33 423.00 51.38 423.25 51.40 423.50 51.39 423.75 51.38 424.00 51.35 424.25 51.32 424.50 51.28 424.75 51.24 425.00 51.19 425.25 51.14 425.50 51.09 425.75 51.04 426.00 50.99 426.25 50.94 426.50 50.90 426.75 50.86 427.00 50.82 427.25 50.78 427.50 50.73 427.75 50.69 428.00 50.65 428.25 50.61 428.50 50.56 428.75 50.52 429.00 50.47 429.25 50.43" stroke="#4444ff" stroke-width="0.95" fill="none" stroke-linejoin="round"/>
<rect x="263.00" y="8.30" width="166.40" height="84.80" fill="none" stroke="#b5b5b5" stroke-width="0.8"/>
<path d="M263.00 93.10v-1.60M263.00 8.30v1.60M307.97 93.10v-1.60M307.97 8.30v1.60M352.95 93.10v-1.60M352.95 8.30v1.60M397.92 93.10v-1.60M397.92 8.30v1.60M263.00 93.10h1.60M429.40 93.10h-1.60M263.00 71.90h1.60M429.40 71.90h-1.60M263.00 50.70h1.60M429.40 50.70h-1.60M263.00 29.50h1.60M429.40 29.50h-1.60M263.00 8.30h1.60M429.40 8.30h-1.60" stroke="#888" stroke-width="0.8" fill="none"/>
<text transform="matrix(0.975 0 0 1.120 263.50 102.90)" font-size="8.40" text-anchor="middle">0</text>
<text transform="matrix(0.975 0 0 1.120 308.47 102.90)" font-size="8.40" text-anchor="middle">0.05</text>
<text transform="matrix(0.975 0 0 1.120 353.45 102.90)" font-size="8.40" text-anchor="middle">0.1</text>
<text transform="matrix(0.975 0 0 1.120 398.42 102.90)" font-size="8.40" text-anchor="middle">0.15</text>
<text transform="matrix(0.975 0 0 1.120 260.60 97.07)" font-size="8.40" text-anchor="end">-0.2</text>
<text transform="matrix(0.975 0 0 1.120 260.60 75.87)" font-size="8.40" text-anchor="end">-0.1</text>
<text transform="matrix(0.975 0 0 1.120 260.60 54.67)" font-size="8.40" text-anchor="end">0</text>
<text transform="matrix(0.975 0 0 1.120 260.60 33.47)" font-size="8.40" text-anchor="end">0.1</text>
<text transform="matrix(0.975 0 0 1.120 260.60 12.27)" font-size="8.40" text-anchor="end">0.2</text>
<text transform="matrix(0.975 0 0 1.120 346.60 114.90)" font-size="9.20" text-anchor="middle">Time (sec)</text>
<text transform="translate(246.00 50.70) rotate(-90) scale(0.985 1)" font-size="9.20" text-anchor="middle">Voltage (V)</text>
<text x="342.00" y="129.90" font-size="9.50" text-anchor="middle" class="cap">(b)</text>
<path d="M511.28 8.40V93.10M520.06 8.40V93.10M528.84 8.40V93.10M537.62 8.40V93.10M546.41 8.40V93.10M555.19 8.40V93.10M563.97 8.40V93.10M572.75 8.40V93.10M581.53 8.40V93.10M590.31 8.40V93.10M599.09 8.40V93.10M607.87 8.40V93.10M616.65 8.40V93.10M625.44 8.40V93.10M634.22 8.40V93.10M643.00 8.40V93.10M651.78 8.40V93.10M660.56 8.40V93.10M502.50 87.45H664.60M502.50 81.81H664.60M502.50 76.16H664.60M502.50 70.51H664.60M502.50 64.87H664.60M502.50 59.22H664.60M502.50 53.57H664.60M502.50 47.93H664.60M502.50 42.28H664.60M502.50 36.63H664.60M502.50 30.99H664.60M502.50 25.34H664.60M502.50 19.69H664.60M502.50 14.05H664.60" stroke="#f3f3f3" stroke-width="0.8" fill="none"/>
<path d="M502.50 50.50 502.75 50.50 503.00 50.50 503.25 50.50 503.50 50.50 503.75 50.49 504.00 50.49 504.25 50.49 504.50 50.48 504.75 50.48 505.00 50.47 505.25 50.47 505.50 50.46 505.75 50.45 506.00 50.45 506.25 50.44 506.50 50.43 506.75 50.42 507.00 50.41 507.25 50.41 507.50 50.40 507.75 50.39 508.00 50.38 508.25 50.36 508.50 50.35 508.75 50.34 509.00 50.33 509.25 50.32 509.50 50.31 509.75 50.29 510.00 50.28 510.25 50.27 510.50 50.26 510.75 50.24 511.00 50.23 511.25 50.21 511.50 50.20 511.75 50.18 512.00 50.16 512.25 50.13 512.50 50.09 512.75 50.05 513.00 50.01 513.25 49.96 513.50 49.91 513.75 49.87 514.00 49.82 514.25 49.78 514.50 49.74 514.75 49.70 515.00 49.67 515.25 49.64 515.50 49.62 515.75 49.60 516.00 49.60 516.25 49.61 516.50 49.63 516.75 49.66 517.00 49.70 517.25 49.74 517.50 49.80 517.75 49.87 518.00 49.93 518.25 50.01 518.50 50.09 518.75 50.17 519.00 50.25 519.25 50.33 519.50 50.41 519.75 50.48 520.00 50.56 520.25 50.65 520.50 50.74 520.75 50.85 521.00 50.95 521.25 51.06 521.50 51.18 521.75 51.29 522.00 51.41 522.25 51.52 522.50 51.64 522.75 51.75 523.00 51.86 523.25 51.96 523.50 52.06 523.75 52.15 524.00 52.24 524.25 52.32 524.50 52.40 524.75 52.47 525.00 52.54 525.25 52.61 525.50 52.68 525.75 52.76 526.00 52.83 526.25 52.91 526.50 52.99 526.75 53.08 527.00 53.18 527.25 53.29 527.50 53.40 527.75 53.53 528.00 53.66 528.25 53.81 528.50 53.98 528.75 54.15 529.00 54.34 529.25 54.55 529.50 54.76 529.75 54.99 530.00 55.24 530.25 55.50 530.50 55.77 530.75 56.06 531.00 56.40 531.25 56.80 531.50 57.26 531.75 57.75 532.00 58.28 532.25 58.84 532.50 59.41 532.75 59.99 533.00 60.58 533.25 61.15 533.50 61.70 533.75 62.29 534.00 62.97 534.25 63.70 534.50 64.47 534.75 65.24 535.00 65.98 535.25 66.67 535.50 67.28 535.75 67.79 536.00 68.16 536.25 68.36 536.50 68.38 536.75 68.22 537.00 67.89 537.25 67.41 537.50 66.81 537.75 66.10 538.00 65.31 538.25 64.45 538.50 63.55 538.75 62.63 539.00 61.70 539.25 60.66 539.50 59.40 539.75 57.96 540.00 56.38 540.25 54.71 540.50 52.98 540.75 51.24 541.00 49.49 541.25 47.57 541.50 45.51 541.75 43.42 542.00 41.40 542.25 39.54 542.50 37.85 542.75 36.18 543.00 34.56 543.25 33.06 543.50 31.73 543.75 30.60 544.00 29.63 544.25 28.67 544.50 27.72 544.75 26.82 545.00 25.97 545.25 25.21 545.50 24.56 545.75 24.03 546.00 23.65 546.25 23.44 546.50 23.42 546.75 23.62 547.00 24.03 547.25 24.61 547.50 25.32 547.75 26.14 548.00 27.03 548.25 27.97 548.50 28.93 548.75 29.86 549.00 30.77 549.25 31.83 549.50 33.03 549.75 34.33 550.00 35.67 550.25 36.99 550.50 38.25 550.75 39.40 551.00 40.37 551.25 41.16 551.50 41.89 551.75 42.57 552.00 43.21 552.25 43.81 552.50 44.36 552.75 44.86 553.00 45.32 553.25 45.72 553.50 46.09 553.75 46.43 554.00 46.74 554.25 47.03 554.50 47.30 554.75 47.56 555.00 47.81 555.25 48.04 555.50 48.27 555.75 48.50 556.00 48.72 556.25 48.95 556.50 49.18 556.75 49.44 557.00 49.70 557.25 49.96 557.50 50.22 557.75 50.46 558.00 50.69 558.25 50.90 558.50 51.08 558.75 51.23 559.00 51.33 559.25 51.39 559.50 51.40 559.75 51.36 560.00 51.29 560.25 51.18 560.50 51.04 560.75 50.88 561.00 50.70 561.25 50.50 561.50 50.29 561.75 50.08 562.00 49.86 562.25 49.64 562.50 49.42 562.75 49.22 563.00 49.03 563.25 48.85 563.50 48.70 563.75 48.58 564.00 48.48 564.25 48.42 564.50 48.40 564.75 48.42 565.00 48.48 565.25 48.57 565.50 48.69 565.75 48.84 566.00 49.02 566.25 49.22 566.50 49.44 566.75 49.67 567.00 49.92 567.25 50.18 567.50 50.45 567.75 50.73 568.00 51.01 568.25 51.28 568.50 51.55 568.75 51.82 569.00 52.08 569.25 52.32 569.50 52.55 569.75 52.76 570.00 52.96 570.25 53.12 570.50 53.26 570.75 53.37 571.00 53.45 571.25 53.49 571.50 53.50 571.75 53.47 572.00 53.41 572.25 53.31 572.50 53.19 572.75 53.04 573.00 52.87 573.25 52.67 573.50 52.45 573.75 52.21 574.00 51.95 574.25 51.68 574.50 51.38 574.75 51.08 575.00 50.76 575.25 50.43 575.50 50.09 575.75 49.74 576.00 49.39 576.25 49.03 576.50 48.58 576.75 48.03 577.00 47.38 577.25 46.67 577.50 45.90 577.75 45.11 578.00 44.30 578.25 43.50 578.50 42.73 578.75 42.00 579.00 41.34 579.25 40.74 579.50 40.10 579.75 39.43 580.00 38.75 580.25 38.07 580.50 37.43 580.75 36.83 581.00 36.29 581.25 35.84 581.50 35.50 581.75 35.28 582.00 35.20 582.25 35.25 582.50 35.38 582.75 35.60 583.00 35.88 583.25 36.24 583.50 36.64 583.75 37.10 584.00 37.60 584.25 38.13 584.50 38.68 584.75 39.25 585.00 39.86 585.25 40.68 585.50 41.73 585.75 42.95 586.00 44.28 586.25 45.68 586.50 47.07 586.75 48.42 587.00 49.67 587.25 50.75 587.50 51.64 587.75 52.51 588.00 53.39 588.25 54.28 588.50 55.16 588.75 56.02 589.00 56.87 589.25 57.67 589.50 58.44 589.75 59.15 590.00 59.79 590.25 60.37 590.50 60.86 590.75 61.25 591.00 61.55 591.25 61.74 591.50 61.80 591.75 61.75 592.00 61.60 592.25 61.37 592.50 61.06 592.75 60.69 593.00 60.25 593.25 59.77 593.50 59.26 593.75 58.71 594.00 58.15 594.25 57.58 594.50 57.01 594.75 56.45 595.00 55.91 595.25 55.38 595.50 54.79 595.75 54.16 596.00 53.47 596.25 52.76 596.50 52.03 596.75 51.30 597.00 50.56 597.25 49.84 597.50 49.15 597.75 48.50 598.00 47.90 598.25 47.36 598.50 46.90 598.75 46.47 599.00 46.03 599.25 45.59 599.50 45.16 599.75 44.74 600.00 44.36 600.25 44.02 600.50 43.72 600.75 43.48 601.00 43.31 601.25 43.22 601.50 43.21 601.75 43.29 602.00 43.44 602.25 43.67 602.50 43.95 602.75 44.29 603.00 44.66 603.25 45.07 603.50 45.49 603.75 45.93 604.00 46.38 604.25 46.81 604.50 47.27 604.75 47.82 605.00 48.44 605.25 49.12 605.50 49.84 605.75 50.59 606.00 51.34 606.25 52.09 606.50 52.82 606.75 53.51 607.00 54.14 607.25 54.70 607.50 55.19 607.75 55.66 608.00 56.15 608.25 56.64 608.50 57.12 608.75 57.60 609.00 58.07 609.25 58.51 609.50 58.94 609.75 59.33 610.00 59.69 610.25 60.00 610.50 60.28 610.75 60.50 611.00 60.66 611.25 60.76 611.50 60.80 611.75 60.77 612.00 60.69 612.25 60.57 612.50 60.41 612.75 60.21 613.00 59.98 613.25 59.74 613.50 59.48 613.75 59.21 614.00 58.93 614.25 58.66 614.50 58.39 614.75 58.14 615.00 57.91 615.25 57.66 615.50 57.39 615.75 57.11 616.00 56.83 616.25 56.54 616.50 56.25 616.75 55.96 617.00 55.69 617.25 55.43 617.50 55.18 617.75 54.96 618.00 54.77 618.25 54.60 618.50 54.45 618.75 54.31 619.00 54.18 619.25 54.06 619.50 53.94 619.75 53.83 620.00 53.72 620.25 53.61 620.50 53.51 620.75 53.40 621.00 53.29 621.25 53.17 621.50 53.05 621.75 52.92 622.00 52.77 622.25 52.62 622.50 52.46 622.75 52.29 623.00 52.13 623.25 51.97 623.50 51.82 623.75 51.68 624.00 51.55 624.25 51.44 624.50 51.34 624.75 51.27 625.00 51.22 625.25 51.20 625.50 51.20 625.75 51.21 626.00 51.23 626.25 51.25 626.50 51.28 626.75 51.31 627.00 51.34 627.25 51.38 627.50 51.42 627.75 51.47 628.00 51.55 628.25 51.65 628.50 51.75 628.75 51.87 629.00 51.99 629.25 52.10 629.50 52.21 629.75 52.31 630.00 52.39 630.25 52.45 630.50 52.49 630.75 52.50 631.00 52.45 631.25 52.34 631.50 52.19 631.75 51.99 632.00 51.76 632.25 51.51 632.50 51.25 632.75 50.99 633.00 50.74 633.25 50.50 633.50 50.30 633.75 50.10 634.00 49.88 634.25 49.65 634.50 49.42 634.75 49.19 635.00 48.97 635.25 48.78 635.50 48.62 635.75 48.49 636.00 48.42 636.25 48.40 636.50 48.45 636.75 48.55 637.00 48.69 637.25 48.87 637.50 49.07 637.75 49.28 638.00 49.49 638.25 49.69 638.50 49.87 638.75 50.09 639.00 50.34 639.25 50.60 639.50 50.87 639.75 51.14 640.00 51.39 640.25 51.61 640.50 51.80 640.75 51.93 641.00 51.99 641.25 52.00 641.50 51.98 641.75 51.95 642.00 51.91 642.25 51.85 642.50 51.80 642.75 51.73 643.00 51.67 643.25 51.61 643.50 51.55 643.75 51.50 644.00 51.45 644.25 51.41 644.50 51.39 644.75 51.37 645.00 51.36 645.25 51.35 645.50 51.33 645.75 51.32 646.00 51.31 646.25 51.30 646.50 51.30 646.75 51.29 647.00 51.28 647.25 51.26 647.50 51.25 647.75 51.23 648.00 51.22 648.25 51.20 648.50 51.16 648.75 51.10 649.00 51.04 649.25 50.95 649.50 50.86 649.75 50.77 650.00 50.67 650.25 50.57 650.50 50.47 650.75 50.38 651.00 50.29 651.25 50.22 651.50 50.16 651.75 50.12 652.00 50.10 652.25 50.10 652.50 50.12 652.75 50.16 653.00 50.21 653.25 50.26 653.50 50.33 653.75 50.41 654.00 50.49 654.25 50.57 654.50 50.65 654.75 50.72 655.00 50.80 655.25 50.86 655.50 50.92 655.75 50.99 656.00 51.05 656.25 51.12 656.50 51.19 656.75 51.26 657.00 51.33 657.25 51.39 657.50 51.45 657.75 51.50 658.00 51.55 658.25 51.58 658.50 51.60 658.75 51.60 659.00 51.60 659.25 51.59 659.50 51.58 659.75 51.57 660.00 51.55 660.25 51.53 660.50 51.50 660.75 51.47 661.00 51.43 661.25 51.39 661.50 51.35 661.75 51.30 662.00 51.24 662.25 51.18 662.50 51.11 662.75 51.04 663.00 50.96 663.25 50.87 663.50 50.78 663.75 50.68 664.00 50.58 664.25 50.47 664.50 50.35" stroke="#4444ff" stroke-width="0.95" fill="none" stroke-linejoin="round"/>
<rect x="502.50" y="8.40" width="162.10" height="84.70" fill="none" stroke="#b5b5b5" stroke-width="0.8"/>
<path d="M502.50 93.10v-1.60M502.50 8.40v1.60M546.41 93.10v-1.60M546.41 8.40v1.60M590.31 93.10v-1.60M590.31 8.40v1.60M634.22 93.10v-1.60M634.22 8.40v1.60M502.50 78.98h1.60M664.60 78.98h-1.60M502.50 50.75h1.60M664.60 50.75h-1.60M502.50 22.52h1.60M664.60 22.52h-1.60" stroke="#888" stroke-width="0.8" fill="none"/>
<text transform="matrix(0.975 0 0 1.120 503.00 102.90)" font-size="8.40" text-anchor="middle">0</text>
<text transform="matrix(0.975 0 0 1.120 546.91 102.90)" font-size="8.40" text-anchor="middle">0.05</text>
<text transform="matrix(0.975 0 0 1.120 590.81 102.90)" font-size="8.40" text-anchor="middle">0.1</text>
<text transform="matrix(0.975 0 0 1.120 634.72 102.90)" font-size="8.40" text-anchor="middle">0.15</text>
<text transform="matrix(0.975 0 0 1.120 499.90 82.96)" font-size="8.40" text-anchor="end">-0.1</text>
<text transform="matrix(0.975 0 0 1.120 499.90 54.72)" font-size="8.40" text-anchor="end">0</text>
<text transform="matrix(0.975 0 0 1.120 499.90 26.49)" font-size="8.40" text-anchor="end">0.1</text>
<text transform="matrix(0.975 0 0 1.120 583.95 114.90)" font-size="9.20" text-anchor="middle">Time (sec)</text>
<text transform="translate(485.90 50.75) rotate(-90) scale(0.985 1)" font-size="9.20" text-anchor="middle">Voltage (V)</text>
<text x="575.20" y="129.90" font-size="9.50" text-anchor="middle" class="cap">(c)</text>
<text transform="matrix(0.975 0 0 1.120 29.50 246.75)" font-size="8.40" text-anchor="middle">0</text>
<text transform="matrix(0.975 0 0 1.120 72.10 246.75)" font-size="8.40" text-anchor="middle">0.05</text>
<text transform="matrix(0.975 0 0 1.120 114.70 246.75)" font-size="8.40" text-anchor="middle">0.1</text>
<text transform="matrix(0.975 0 0 1.120 157.30 246.75)" font-size="8.40" text-anchor="middle">0.15</text>
<text transform="matrix(0.975 0 0 1.120 27.30 170.41)" font-size="8.40" text-anchor="end">50</text>
<text transform="matrix(0.975 0 0 1.120 27.30 187.01)" font-size="8.40" text-anchor="end">100</text>
<text transform="matrix(0.975 0 0 1.120 27.30 203.61)" font-size="8.40" text-anchor="end">150</text>
<text transform="matrix(0.975 0 0 1.120 27.30 220.21)" font-size="8.40" text-anchor="end">200</text>
<text transform="matrix(0.975 0 0 1.120 27.30 236.82)" font-size="8.40" text-anchor="end">250</text>
<text transform="matrix(0.975 0 0 1.120 109.15 258.10)" font-size="9.20" text-anchor="middle">Time (sec)</text>
<text transform="translate(11.00 193.50) rotate(-90) scale(0.960 1)" font-size="9.20" text-anchor="middle">Frequnecy (Hz)</text>
<text x="103.00" y="272.50" font-size="9.50" text-anchor="middle" class="cap">(d)</text>
<rect x="187.90" y="151.00" width="2.00" height="85.00" fill="#dcd8d8"/>
<rect x="189.90" y="151.00" width="3.40" height="85.00" fill="none" stroke="#d0cccc" stroke-width="0.8"/>
<text transform="matrix(0.975 0 0 1.120 194.80 239.37)" font-size="8.40" text-anchor="start">0</text>
<text transform="matrix(0.975 0 0 1.120 194.80 215.89)" font-size="8.40" text-anchor="start">0.5</text>
<text transform="matrix(0.975 0 0 1.120 194.80 192.41)" font-size="8.40" text-anchor="start">1</text>
<text transform="matrix(0.975 0 0 1.120 194.80 168.93)" font-size="8.40" text-anchor="start">1.5</text>
<text transform="matrix(0.975 0 0 1.120 265.30 246.75)" font-size="8.40" text-anchor="middle">0</text>
<text transform="matrix(0.975 0 0 1.120 307.98 246.75)" font-size="8.40" text-anchor="middle">0.05</text>
<text transform="matrix(0.975 0 0 1.120 350.66 246.75)" font-size="8.40" text-anchor="middle">0.1</text>
<text transform="matrix(0.975 0 0 1.120 393.34 246.75)" font-size="8.40" text-anchor="middle">0.15</text>
<text transform="matrix(0.975 0 0 1.120 262.80 170.41)" font-size="8.40" text-anchor="end">50</text>
<text transform="matrix(0.975 0 0 1.120 262.80 187.01)" font-size="8.40" text-anchor="end">100</text>
<text transform="matrix(0.975 0 0 1.120 262.80 203.61)" font-size="8.40" text-anchor="end">150</text>
<text transform="matrix(0.975 0 0 1.120 262.80 220.21)" font-size="8.40" text-anchor="end">200</text>
<text transform="matrix(0.975 0 0 1.120 262.80 236.82)" font-size="8.40" text-anchor="end">250</text>
<text transform="matrix(0.975 0 0 1.120 345.10 258.10)" font-size="9.20" text-anchor="middle">Time (sec)</text>
<text transform="translate(246.40 193.50) rotate(-90) scale(0.960 1)" font-size="9.20" text-anchor="middle">Frequnecy (Hz)</text>
<text x="342.00" y="272.50" font-size="9.50" text-anchor="middle" class="cap">(e)</text>
<rect x="424.00" y="151.00" width="1.70" height="85.00" fill="#dcd8d8"/>
<rect x="425.70" y="151.00" width="3.00" height="85.00" fill="none" stroke="#d0cccc" stroke-width="0.8"/>
<text transform="matrix(0.975 0 0 1.120 430.20 224.59)" font-size="8.40" text-anchor="start">0.2</text>
<text transform="matrix(0.975 0 0 1.120 430.20 209.81)" font-size="8.40" text-anchor="start">0.4</text>
<text transform="matrix(0.975 0 0 1.120 430.20 195.03)" font-size="8.40" text-anchor="start">0.6</text>
<text transform="matrix(0.975 0 0 1.120 430.20 180.24)" font-size="8.40" text-anchor="start">0.8</text>
<text transform="matrix(0.975 0 0 1.120 430.20 165.46)" font-size="8.40" text-anchor="start">1</text>
<text transform="matrix(0.975 0 0 1.120 504.40 246.75)" font-size="8.40" text-anchor="middle">0</text>
<text transform="matrix(0.975 0 0 1.120 547.08 246.75)" font-size="8.40" text-anchor="middle">0.05</text>
<text transform="matrix(0.975 0 0 1.120 589.76 246.75)" font-size="8.40" text-anchor="middle">0.1</text>
<text transform="matrix(0.975 0 0 1.120 632.44 246.75)" font-size="8.40" text-anchor="middle">0.15</text>
<text transform="matrix(0.975 0 0 1.120 501.70 170.41)" font-size="8.40" text-anchor="end">50</text>
<text transform="matrix(0.975 0 0 1.120 501.70 187.01)" font-size="8.40" text-anchor="end">100</text>
<text transform="matrix(0.975 0 0 1.120 501.70 203.61)" font-size="8.40" text-anchor="end">150</text>
<text transform="matrix(0.975 0 0 1.120 501.70 220.21)" font-size="8.40" text-anchor="end">200</text>
<text transform="matrix(0.975 0 0 1.120 501.70 236.82)" font-size="8.40" text-anchor="end">250</text>
<text transform="matrix(0.975 0 0 1.120 584.20 258.10)" font-size="9.20" text-anchor="middle">Time (sec)</text>
<text transform="translate(485.90 193.50) rotate(-90) scale(0.960 1)" font-size="9.20" text-anchor="middle">Frequnecy (Hz)</text>
<text x="575.20" y="272.50" font-size="9.50" text-anchor="middle" class="cap">(f)</text>
<rect x="663.10" y="151.00" width="1.90" height="85.00" fill="#dcd8d8"/>
<rect x="665.00" y="151.00" width="2.80" height="85.00" fill="none" stroke="#d0cccc" stroke-width="0.8"/>
<text transform="matrix(0.975 0 0 1.120 669.30 226.22)" font-size="8.40" text-anchor="start">0.1</text>
<text transform="matrix(0.975 0 0 1.120 669.30 213.06)" font-size="8.40" text-anchor="start">0.2</text>
<text transform="matrix(0.975 0 0 1.120 669.30 199.90)" font-size="8.40" text-anchor="start">0.3</text>
<text transform="matrix(0.975 0 0 1.120 669.30 186.74)" font-size="8.40" text-anchor="start">0.4</text>
<text transform="matrix(0.975 0 0 1.120 669.30 173.58)" font-size="8.40" text-anchor="start">0.5</text>
<text transform="matrix(0.975 0 0 1.120 669.30 160.43)" font-size="8.40" text-anchor="start">0.6</text>
</svg></div></body></html>
